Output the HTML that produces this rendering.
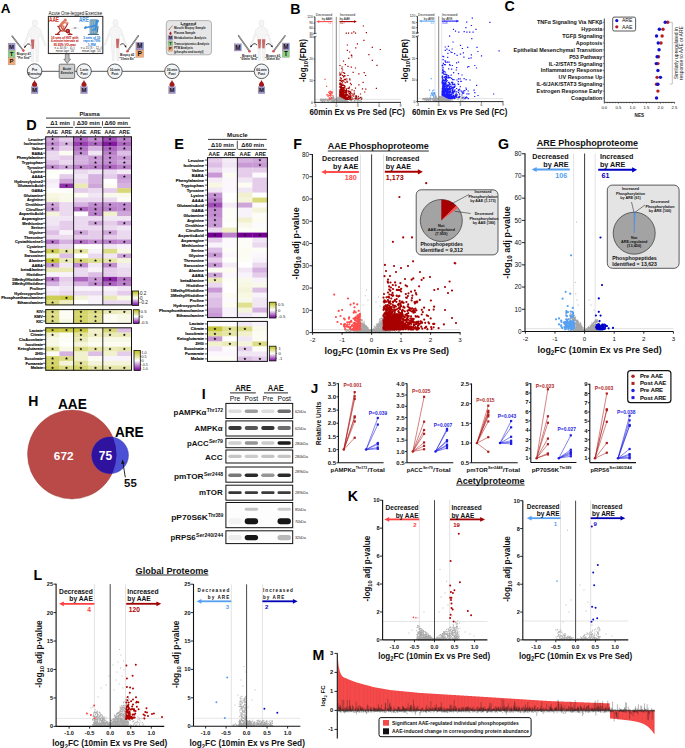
<!DOCTYPE html>
<html><head><meta charset="utf-8"><style>
html,body{margin:0;padding:0;background:#fff;width:685px;height:748px;overflow:hidden}
svg{display:block;font-family:"Liberation Sans", sans-serif}
</style></head><body>
<svg width="685" height="748" viewBox="0 0 685 748">
<defs>
<linearGradient id="cbgrad" x1="0" y1="0" x2="0" y2="1">
<stop offset="0" stop-color="#bdbd14"/><stop offset="0.5" stop-color="#ffffff"/><stop offset="1" stop-color="#76009a"/>
</linearGradient>
</defs>
<rect width="685" height="748" fill="#fff"/>
<text x="31.6" y="130" font-size="14.5" font-weight="bold" text-anchor="middle">D</text>
<text x="89.6" y="115.6" font-size="6" font-weight="bold" text-anchor="middle" fill="#111" textLength="20.3" lengthAdjust="spacingAndGlyphs">Plasma</text>
<line x1="46" y1="118.1" x2="130" y2="118.1" stroke="#222" stroke-width="0.9" />
<text x="60.1" y="124.8" font-size="5.9" font-weight="bold" text-anchor="middle" fill="#111" textLength="19.7" lengthAdjust="spacingAndGlyphs">Δ1 min</text>
<line x1="46" y1="127.4" x2="73.2" y2="127.4" stroke="#222" stroke-width="0.9" />
<text x="88.3" y="124.8" font-size="5.9" font-weight="bold" text-anchor="middle" fill="#111" textLength="22.9" lengthAdjust="spacingAndGlyphs">Δ30 min</text>
<line x1="74.9" y1="127.4" x2="101.8" y2="127.4" stroke="#222" stroke-width="0.9" />
<text x="116.3" y="124.8" font-size="5.9" font-weight="bold" text-anchor="middle" fill="#111" textLength="23.5" lengthAdjust="spacingAndGlyphs">Δ60 min</text>
<line x1="103.1" y1="127.4" x2="130.7" y2="127.4" stroke="#222" stroke-width="0.9" />
<line x1="74" y1="121.1" x2="74" y2="125.7" stroke="#222" stroke-width="0.8" />
<line x1="102.5" y1="121.1" x2="102.5" y2="125.7" stroke="#222" stroke-width="0.8" />
<text x="52.55" y="133.6" font-size="5.9" font-weight="bold" text-anchor="middle" fill="#111" textLength="11.2" lengthAdjust="spacingAndGlyphs">AAE</text>
<line x1="52.55" y1="135" x2="52.55" y2="136.8" stroke="#111" stroke-width="0.6" />
<text x="66.5" y="133.6" font-size="5.9" font-weight="bold" text-anchor="middle" fill="#111" textLength="11.2" lengthAdjust="spacingAndGlyphs">ARE</text>
<line x1="66.5" y1="135" x2="66.5" y2="136.8" stroke="#111" stroke-width="0.6" />
<text x="80.9" y="133.6" font-size="5.9" font-weight="bold" text-anchor="middle" fill="#111" textLength="11.2" lengthAdjust="spacingAndGlyphs">AAE</text>
<line x1="80.9" y1="135" x2="80.9" y2="136.8" stroke="#111" stroke-width="0.6" />
<text x="95.5" y="133.6" font-size="5.9" font-weight="bold" text-anchor="middle" fill="#111" textLength="11.2" lengthAdjust="spacingAndGlyphs">ARE</text>
<line x1="95.5" y1="135" x2="95.5" y2="136.8" stroke="#111" stroke-width="0.6" />
<text x="110" y="133.6" font-size="5.9" font-weight="bold" text-anchor="middle" fill="#111" textLength="11.2" lengthAdjust="spacingAndGlyphs">AAE</text>
<line x1="110" y1="135" x2="110" y2="136.8" stroke="#111" stroke-width="0.6" />
<text x="124.35" y="133.6" font-size="5.9" font-weight="bold" text-anchor="middle" fill="#111" textLength="11.2" lengthAdjust="spacingAndGlyphs">ARE</text>
<line x1="124.35" y1="135" x2="124.35" y2="136.8" stroke="#111" stroke-width="0.6" />
<rect x="45.7" y="136.8" width="14" height="4.97" fill="#cfa6da"/>
<rect x="59.4" y="136.8" width="14.5" height="4.97" fill="#e4ccea"/>
<rect x="73.6" y="136.8" width="14.9" height="4.97" fill="#ad66c0"/>
<rect x="88.2" y="136.8" width="14.9" height="4.97" fill="#c18cd0"/>
<rect x="102.8" y="136.8" width="14.7" height="4.97" fill="#9f4cb6"/>
<rect x="117.2" y="136.8" width="14.6" height="4.97" fill="#ba80ca"/>
<polygon points="52.55,137.64 52.99,138.53 53.98,138.67 53.26,139.37 53.43,140.35 52.55,139.89 51.67,140.35 51.84,139.37 51.12,138.67 52.11,138.53" fill="#111"/>
<polygon points="80.9,137.64 81.34,138.53 82.33,138.67 81.61,139.37 81.78,140.35 80.9,139.89 80.02,140.35 80.19,139.37 79.47,138.67 80.46,138.53" fill="#111"/>
<polygon points="95.5,137.64 95.94,138.53 96.93,138.67 96.21,139.37 96.38,140.35 95.5,139.89 94.62,140.35 94.79,139.37 94.07,138.67 95.06,138.53" fill="#111"/>
<polygon points="110,137.64 110.44,138.53 111.43,138.67 110.71,139.37 110.88,140.35 110,139.89 109.12,140.35 109.29,139.37 108.57,138.67 109.56,138.53" fill="#111"/>
<polygon points="124.35,137.64 124.79,138.53 125.78,138.67 125.06,139.37 125.23,140.35 124.35,139.89 123.47,140.35 123.64,139.37 122.92,138.67 123.91,138.53" fill="#111"/>
<line x1="43.1" y1="139.14" x2="45.7" y2="139.14" stroke="#111" stroke-width="0.7" />
<text x="42.9" y="140.54" font-size="3.9" font-weight="bold" text-anchor="end" fill="#111" stroke="#111" stroke-width="0.16">Leucine</text>
<rect x="45.7" y="141.47" width="14" height="4.97" fill="#c18cd0"/>
<rect x="59.4" y="141.47" width="14.5" height="4.97" fill="#d6b2e0"/>
<rect x="73.6" y="141.47" width="14.9" height="4.97" fill="#9840b0"/>
<rect x="88.2" y="141.47" width="14.9" height="4.97" fill="#ad66c0"/>
<rect x="102.8" y="141.47" width="14.7" height="4.97" fill="#841aa0"/>
<rect x="117.2" y="141.47" width="14.6" height="4.97" fill="#ad66c0"/>
<polygon points="52.55,142.31 52.99,143.2 53.98,143.34 53.26,144.04 53.43,145.02 52.55,144.56 51.67,145.02 51.84,144.04 51.12,143.34 52.11,143.2" fill="#111"/>
<polygon points="66.5,142.31 66.94,143.2 67.93,143.34 67.21,144.04 67.38,145.02 66.5,144.56 65.62,145.02 65.79,144.04 65.07,143.34 66.06,143.2" fill="#111"/>
<polygon points="80.9,142.31 81.34,143.2 82.33,143.34 81.61,144.04 81.78,145.02 80.9,144.56 80.02,145.02 80.19,144.04 79.47,143.34 80.46,143.2" fill="#111"/>
<polygon points="95.5,142.31 95.94,143.2 96.93,143.34 96.21,144.04 96.38,145.02 95.5,144.56 94.62,145.02 94.79,144.04 94.07,143.34 95.06,143.2" fill="#111"/>
<polygon points="110,142.31 110.44,143.2 111.43,143.34 110.71,144.04 110.88,145.02 110,144.56 109.12,145.02 109.29,144.04 108.57,143.34 109.56,143.2" fill="#111"/>
<polygon points="124.35,142.31 124.79,143.2 125.78,143.34 125.06,144.04 125.23,145.02 124.35,144.56 123.47,145.02 123.64,144.04 122.92,143.34 123.91,143.2" fill="#111"/>
<line x1="43.1" y1="143.81" x2="45.7" y2="143.81" stroke="#111" stroke-width="0.7" />
<text x="42.9" y="145.21" font-size="3.9" font-weight="bold" text-anchor="end" fill="#111" stroke="#111" stroke-width="0.16">Isoleucine</text>
<rect x="45.7" y="146.14" width="14" height="4.97" fill="#cfa6da"/>
<rect x="59.4" y="146.14" width="14.5" height="4.97" fill="#e4ccea"/>
<rect x="73.6" y="146.14" width="14.9" height="4.97" fill="#b473c5"/>
<rect x="88.2" y="146.14" width="14.9" height="4.97" fill="#d6b2e0"/>
<rect x="102.8" y="146.14" width="14.7" height="4.97" fill="#ad66c0"/>
<rect x="117.2" y="146.14" width="14.6" height="4.97" fill="#c18cd0"/>
<polygon points="52.55,146.98 52.99,147.87 53.98,148.01 53.26,148.71 53.43,149.69 52.55,149.23 51.67,149.69 51.84,148.71 51.12,148.01 52.11,147.87" fill="#111"/>
<polygon points="80.9,146.98 81.34,147.87 82.33,148.01 81.61,148.71 81.78,149.69 80.9,149.23 80.02,149.69 80.19,148.71 79.47,148.01 80.46,147.87" fill="#111"/>
<polygon points="110,146.98 110.44,147.87 111.43,148.01 110.71,148.71 110.88,149.69 110,149.23 109.12,149.69 109.29,148.71 108.57,148.01 109.56,147.87" fill="#111"/>
<polygon points="124.35,146.98 124.79,147.87 125.78,148.01 125.06,148.71 125.23,149.69 124.35,149.23 123.47,149.69 123.64,148.71 122.92,148.01 123.91,147.87" fill="#111"/>
<line x1="43.1" y1="148.48" x2="45.7" y2="148.48" stroke="#111" stroke-width="0.7" />
<text x="42.9" y="149.88" font-size="3.9" font-weight="bold" text-anchor="end" fill="#111" stroke="#111" stroke-width="0.16">Valine</text>
<rect x="45.7" y="150.81" width="14" height="4.97" fill="#ead9ef"/>
<rect x="59.4" y="150.81" width="14.5" height="4.97" fill="#fcfcf3"/>
<rect x="73.6" y="150.81" width="14.9" height="4.97" fill="#c18cd0"/>
<rect x="88.2" y="150.81" width="14.9" height="4.97" fill="#f1e6f4"/>
<rect x="102.8" y="150.81" width="14.7" height="4.97" fill="#ba80ca"/>
<rect x="117.2" y="150.81" width="14.6" height="4.97" fill="#ddbfe5"/>
<polygon points="80.9,151.65 81.34,152.54 82.33,152.68 81.61,153.38 81.78,154.36 80.9,153.9 80.02,154.36 80.19,153.38 79.47,152.68 80.46,152.54" fill="#111"/>
<polygon points="110,151.65 110.44,152.54 111.43,152.68 110.71,153.38 110.88,154.36 110,153.9 109.12,154.36 109.29,153.38 108.57,152.68 109.56,152.54" fill="#111"/>
<line x1="43.1" y1="153.15" x2="45.7" y2="153.15" stroke="#111" stroke-width="0.7" />
<text x="42.9" y="154.55" font-size="3.9" font-weight="bold" text-anchor="end" fill="#111" stroke="#111" stroke-width="0.16">BABA</text>
<rect x="45.7" y="155.48" width="14" height="4.97" fill="#ead9ef"/>
<rect x="59.4" y="155.48" width="14.5" height="4.97" fill="#e4ccea"/>
<rect x="73.6" y="155.48" width="14.9" height="4.97" fill="#d6b2e0"/>
<rect x="88.2" y="155.48" width="14.9" height="4.97" fill="#c899d5"/>
<rect x="102.8" y="155.48" width="14.7" height="4.97" fill="#c18cd0"/>
<rect x="117.2" y="155.48" width="14.6" height="4.97" fill="#c899d5"/>
<polygon points="95.5,156.32 95.94,157.21 96.93,157.35 96.21,158.05 96.38,159.03 95.5,158.57 94.62,159.03 94.79,158.05 94.07,157.35 95.06,157.21" fill="#111"/>
<polygon points="110,156.32 110.44,157.21 111.43,157.35 110.71,158.05 110.88,159.03 110,158.57 109.12,159.03 109.29,158.05 108.57,157.35 109.56,157.21" fill="#111"/>
<polygon points="124.35,156.32 124.79,157.21 125.78,157.35 125.06,158.05 125.23,159.03 124.35,158.57 123.47,159.03 123.64,158.05 122.92,157.35 123.91,157.21" fill="#111"/>
<line x1="43.1" y1="157.82" x2="45.7" y2="157.82" stroke="#111" stroke-width="0.7" />
<text x="42.9" y="159.22" font-size="3.9" font-weight="bold" text-anchor="end" fill="#111" stroke="#111" stroke-width="0.16">Phenylalanine</text>
<rect x="45.7" y="160.15" width="14" height="4.97" fill="#ddbfe5"/>
<rect x="59.4" y="160.15" width="14.5" height="4.97" fill="#ead9ef"/>
<rect x="73.6" y="160.15" width="14.9" height="4.97" fill="#d6b2e0"/>
<rect x="88.2" y="160.15" width="14.9" height="4.97" fill="#c899d5"/>
<rect x="102.8" y="160.15" width="14.7" height="4.97" fill="#c18cd0"/>
<rect x="117.2" y="160.15" width="14.6" height="4.97" fill="#cfa6da"/>
<polygon points="95.5,160.99 95.94,161.88 96.93,162.02 96.21,162.72 96.38,163.7 95.5,163.24 94.62,163.7 94.79,162.72 94.07,162.02 95.06,161.88" fill="#111"/>
<polygon points="110,160.99 110.44,161.88 111.43,162.02 110.71,162.72 110.88,163.7 110,163.24 109.12,163.7 109.29,162.72 108.57,162.02 109.56,161.88" fill="#111"/>
<polygon points="124.35,160.99 124.79,161.88 125.78,162.02 125.06,162.72 125.23,163.7 124.35,163.24 123.47,163.7 123.64,162.72 122.92,162.02 123.91,161.88" fill="#111"/>
<line x1="43.1" y1="162.49" x2="45.7" y2="162.49" stroke="#111" stroke-width="0.7" />
<text x="42.9" y="163.89" font-size="3.9" font-weight="bold" text-anchor="end" fill="#111" stroke="#111" stroke-width="0.16">Tryptophan</text>
<rect x="45.7" y="164.82" width="14" height="4.97" fill="#c18cd0"/>
<rect x="59.4" y="164.82" width="14.5" height="4.97" fill="#cfa6da"/>
<rect x="73.6" y="164.82" width="14.9" height="4.97" fill="#ba80ca"/>
<rect x="88.2" y="164.82" width="14.9" height="4.97" fill="#ba80ca"/>
<rect x="102.8" y="164.82" width="14.7" height="4.97" fill="#ad66c0"/>
<rect x="117.2" y="164.82" width="14.6" height="4.97" fill="#ba80ca"/>
<polygon points="52.55,165.66 52.99,166.55 53.98,166.69 53.26,167.39 53.43,168.37 52.55,167.91 51.67,168.37 51.84,167.39 51.12,166.69 52.11,166.55" fill="#111"/>
<polygon points="66.5,165.66 66.94,166.55 67.93,166.69 67.21,167.39 67.38,168.37 66.5,167.91 65.62,168.37 65.79,167.39 65.07,166.69 66.06,166.55" fill="#111"/>
<polygon points="80.9,165.66 81.34,166.55 82.33,166.69 81.61,167.39 81.78,168.37 80.9,167.91 80.02,168.37 80.19,167.39 79.47,166.69 80.46,166.55" fill="#111"/>
<polygon points="95.5,165.66 95.94,166.55 96.93,166.69 96.21,167.39 96.38,168.37 95.5,167.91 94.62,168.37 94.79,167.39 94.07,166.69 95.06,166.55" fill="#111"/>
<polygon points="110,165.66 110.44,166.55 111.43,166.69 110.71,167.39 110.88,168.37 110,167.91 109.12,168.37 109.29,167.39 108.57,166.69 109.56,166.55" fill="#111"/>
<polygon points="124.35,165.66 124.79,166.55 125.78,166.69 125.06,167.39 125.23,168.37 124.35,167.91 123.47,168.37 123.64,167.39 122.92,166.69 123.91,166.55" fill="#111"/>
<line x1="43.1" y1="167.16" x2="45.7" y2="167.16" stroke="#111" stroke-width="0.7" />
<text x="42.9" y="168.56" font-size="3.9" font-weight="bold" text-anchor="end" fill="#111" stroke="#111" stroke-width="0.16">Tyrosine</text>
<rect x="45.7" y="169.49" width="14" height="4.97" fill="#fdfdf8"/>
<rect x="59.4" y="169.49" width="14.5" height="4.97" fill="#fefefa"/>
<rect x="73.6" y="169.49" width="14.9" height="4.97" fill="#ead9ef"/>
<rect x="88.2" y="169.49" width="14.9" height="4.97" fill="#f1e6f4"/>
<rect x="102.8" y="169.49" width="14.7" height="4.97" fill="#ead9ef"/>
<rect x="117.2" y="169.49" width="14.6" height="4.97" fill="#f4ebf7"/>
<line x1="43.1" y1="171.83" x2="45.7" y2="171.83" stroke="#111" stroke-width="0.7" />
<text x="42.9" y="173.23" font-size="3.9" font-weight="bold" text-anchor="end" fill="#111" stroke="#111" stroke-width="0.16">Lysine</text>
<rect x="45.7" y="174.16" width="14" height="4.97" fill="#fefefa"/>
<rect x="59.4" y="174.16" width="14.5" height="4.97" fill="#e4ccea"/>
<rect x="73.6" y="174.16" width="14.9" height="4.97" fill="#f1e6f4"/>
<rect x="88.2" y="174.16" width="14.9" height="4.97" fill="#d6b2e0"/>
<rect x="102.8" y="174.16" width="14.7" height="4.97" fill="#e4ccea"/>
<rect x="117.2" y="174.16" width="14.6" height="4.97" fill="#c899d5"/>
<polygon points="124.35,175 124.79,175.89 125.78,176.03 125.06,176.73 125.23,177.71 124.35,177.25 123.47,177.71 123.64,176.73 122.92,176.03 123.91,175.89" fill="#111"/>
<line x1="43.1" y1="176.5" x2="45.7" y2="176.5" stroke="#111" stroke-width="0.7" />
<text x="42.9" y="177.9" font-size="3.9" font-weight="bold" text-anchor="end" fill="#111" stroke="#111" stroke-width="0.16">AAAA</text>
<rect x="45.7" y="178.83" width="14" height="4.97" fill="#f4ebf7"/>
<rect x="59.4" y="178.83" width="14.5" height="4.97" fill="#cfa6da"/>
<rect x="73.6" y="178.83" width="14.9" height="4.97" fill="#ead9ef"/>
<rect x="88.2" y="178.83" width="14.9" height="4.97" fill="#d6b2e0"/>
<rect x="102.8" y="178.83" width="14.7" height="4.97" fill="#ffffff"/>
<rect x="117.2" y="178.83" width="14.6" height="4.97" fill="#cfa6da"/>
<line x1="43.1" y1="181.17" x2="45.7" y2="181.17" stroke="#111" stroke-width="0.7" />
<text x="42.9" y="182.57" font-size="3.9" font-weight="bold" text-anchor="end" fill="#111" stroke="#111" stroke-width="0.16">Hydroxylysine2</text>
<rect x="45.7" y="183.5" width="14" height="4.97" fill="#f8f2fa"/>
<rect x="59.4" y="183.5" width="14.5" height="4.97" fill="#9133ab"/>
<rect x="73.6" y="183.5" width="14.9" height="4.97" fill="#eaeab6"/>
<rect x="88.2" y="183.5" width="14.9" height="4.97" fill="#cfa6da"/>
<rect x="102.8" y="183.5" width="14.7" height="4.97" fill="#fcfcf3"/>
<rect x="117.2" y="183.5" width="14.6" height="4.97" fill="#d6b2e0"/>
<polygon points="66.5,184.34 66.94,185.23 67.93,185.37 67.21,186.07 67.38,187.05 66.5,186.59 65.62,187.05 65.79,186.07 65.07,185.37 66.06,185.23" fill="#111"/>
<line x1="43.1" y1="185.84" x2="45.7" y2="185.84" stroke="#111" stroke-width="0.7" />
<text x="42.9" y="187.24" font-size="3.9" font-weight="bold" text-anchor="end" fill="#111" stroke="#111" stroke-width="0.16">GlutamicAcid</text>
<rect x="45.7" y="188.17" width="14" height="4.97" fill="#fefefa"/>
<rect x="59.4" y="188.17" width="14.5" height="4.97" fill="#fefefa"/>
<rect x="73.6" y="188.17" width="14.9" height="4.97" fill="#e4ccea"/>
<rect x="88.2" y="188.17" width="14.9" height="4.97" fill="#ead9ef"/>
<rect x="102.8" y="188.17" width="14.7" height="4.97" fill="#e4ccea"/>
<rect x="117.2" y="188.17" width="14.6" height="4.97" fill="#d8d878"/>
<line x1="43.1" y1="190.51" x2="45.7" y2="190.51" stroke="#111" stroke-width="0.7" />
<text x="42.9" y="191.91" font-size="3.9" font-weight="bold" text-anchor="end" fill="#111" stroke="#111" stroke-width="0.16">GABA</text>
<rect x="45.7" y="192.84" width="14" height="4.97" fill="#f7f7e2"/>
<rect x="59.4" y="192.84" width="14.5" height="4.97" fill="#f9f9eb"/>
<rect x="73.6" y="192.84" width="14.9" height="4.97" fill="#fcfcf3"/>
<rect x="88.2" y="192.84" width="14.9" height="4.97" fill="#f1e6f4"/>
<rect x="102.8" y="192.84" width="14.7" height="4.97" fill="#f9f9eb"/>
<rect x="117.2" y="192.84" width="14.6" height="4.97" fill="#f9f9eb"/>
<line x1="43.1" y1="195.18" x2="45.7" y2="195.18" stroke="#111" stroke-width="0.7" />
<text x="42.9" y="196.58" font-size="3.9" font-weight="bold" text-anchor="end" fill="#111" stroke="#111" stroke-width="0.16">Glutamine</text>
<rect x="45.7" y="197.51" width="14" height="4.97" fill="#f4f4da"/>
<rect x="59.4" y="197.51" width="14.5" height="4.97" fill="#f9f9eb"/>
<rect x="73.6" y="197.51" width="14.9" height="4.97" fill="#ead9ef"/>
<rect x="88.2" y="197.51" width="14.9" height="4.97" fill="#ead9ef"/>
<rect x="102.8" y="197.51" width="14.7" height="4.97" fill="#ead9ef"/>
<rect x="117.2" y="197.51" width="14.6" height="4.97" fill="#fdfdf8"/>
<line x1="43.1" y1="199.85" x2="45.7" y2="199.85" stroke="#111" stroke-width="0.7" />
<text x="42.9" y="201.25" font-size="3.9" font-weight="bold" text-anchor="end" fill="#111" stroke="#111" stroke-width="0.16">Arginine</text>
<rect x="45.7" y="202.18" width="14" height="4.97" fill="#cfa6da"/>
<rect x="59.4" y="202.18" width="14.5" height="4.97" fill="#ead9ef"/>
<rect x="73.6" y="202.18" width="14.9" height="4.97" fill="#d6b2e0"/>
<rect x="88.2" y="202.18" width="14.9" height="4.97" fill="#c18cd0"/>
<rect x="102.8" y="202.18" width="14.7" height="4.97" fill="#c18cd0"/>
<rect x="117.2" y="202.18" width="14.6" height="4.97" fill="#c18cd0"/>
<polygon points="52.55,203.02 52.99,203.91 53.98,204.05 53.26,204.75 53.43,205.73 52.55,205.27 51.67,205.73 51.84,204.75 51.12,204.05 52.11,203.91" fill="#111"/>
<polygon points="95.5,203.02 95.94,203.91 96.93,204.05 96.21,204.75 96.38,205.73 95.5,205.27 94.62,205.73 94.79,204.75 94.07,204.05 95.06,203.91" fill="#111"/>
<polygon points="110,203.02 110.44,203.91 111.43,204.05 110.71,204.75 110.88,205.73 110,205.27 109.12,205.73 109.29,204.75 108.57,204.05 109.56,203.91" fill="#111"/>
<polygon points="124.35,203.02 124.79,203.91 125.78,204.05 125.06,204.75 125.23,205.73 124.35,205.27 123.47,205.73 123.64,204.75 122.92,204.05 123.91,203.91" fill="#111"/>
<line x1="43.1" y1="204.52" x2="45.7" y2="204.52" stroke="#111" stroke-width="0.7" />
<text x="42.9" y="205.92" font-size="3.9" font-weight="bold" text-anchor="end" fill="#111" stroke="#111" stroke-width="0.16">Ornithine</text>
<rect x="45.7" y="206.85" width="14" height="4.97" fill="#c899d5"/>
<rect x="59.4" y="206.85" width="14.5" height="4.97" fill="#ead9ef"/>
<rect x="73.6" y="206.85" width="14.9" height="4.97" fill="#ad66c0"/>
<rect x="88.2" y="206.85" width="14.9" height="4.97" fill="#ba80ca"/>
<rect x="102.8" y="206.85" width="14.7" height="4.97" fill="#ba80ca"/>
<rect x="117.2" y="206.85" width="14.6" height="4.97" fill="#c18cd0"/>
<polygon points="52.55,207.69 52.99,208.58 53.98,208.72 53.26,209.42 53.43,210.4 52.55,209.94 51.67,210.4 51.84,209.42 51.12,208.72 52.11,208.58" fill="#111"/>
<polygon points="80.9,207.69 81.34,208.58 82.33,208.72 81.61,209.42 81.78,210.4 80.9,209.94 80.02,210.4 80.19,209.42 79.47,208.72 80.46,208.58" fill="#111"/>
<polygon points="95.5,207.69 95.94,208.58 96.93,208.72 96.21,209.42 96.38,210.4 95.5,209.94 94.62,210.4 94.79,209.42 94.07,208.72 95.06,208.58" fill="#111"/>
<polygon points="110,207.69 110.44,208.58 111.43,208.72 110.71,209.42 110.88,210.4 110,209.94 109.12,210.4 109.29,209.42 108.57,208.72 109.56,208.58" fill="#111"/>
<polygon points="124.35,207.69 124.79,208.58 125.78,208.72 125.06,209.42 125.23,210.4 124.35,209.94 123.47,210.4 123.64,209.42 122.92,208.72 123.91,208.58" fill="#111"/>
<line x1="43.1" y1="209.19" x2="45.7" y2="209.19" stroke="#111" stroke-width="0.7" />
<text x="42.9" y="210.59" font-size="3.9" font-weight="bold" text-anchor="end" fill="#111" stroke="#111" stroke-width="0.16">Citrulline</text>
<rect x="45.7" y="211.52" width="14" height="4.97" fill="#f4f4da"/>
<rect x="59.4" y="211.52" width="14.5" height="4.97" fill="#ead9ef"/>
<rect x="73.6" y="211.52" width="14.9" height="4.97" fill="#ffffff"/>
<rect x="88.2" y="211.52" width="14.9" height="4.97" fill="#ba80ca"/>
<rect x="102.8" y="211.52" width="14.7" height="4.97" fill="#f1f1ce"/>
<rect x="117.2" y="211.52" width="14.6" height="4.97" fill="#cfa6da"/>
<polygon points="95.5,212.36 95.94,213.25 96.93,213.39 96.21,214.09 96.38,215.07 95.5,214.61 94.62,215.07 94.79,214.09 94.07,213.39 95.06,213.25" fill="#111"/>
<line x1="43.1" y1="213.86" x2="45.7" y2="213.86" stroke="#111" stroke-width="0.7" />
<text x="42.9" y="215.26" font-size="3.9" font-weight="bold" text-anchor="end" fill="#111" stroke="#111" stroke-width="0.16">AsparticAcid</text>
<rect x="45.7" y="216.19" width="14" height="4.97" fill="#f1e6f4"/>
<rect x="59.4" y="216.19" width="14.5" height="4.97" fill="#f1e6f4"/>
<rect x="73.6" y="216.19" width="14.9" height="4.97" fill="#ead9ef"/>
<rect x="88.2" y="216.19" width="14.9" height="4.97" fill="#ead9ef"/>
<rect x="102.8" y="216.19" width="14.7" height="4.97" fill="#f1e6f4"/>
<rect x="117.2" y="216.19" width="14.6" height="4.97" fill="#f1e6f4"/>
<line x1="43.1" y1="218.53" x2="45.7" y2="218.53" stroke="#111" stroke-width="0.7" />
<text x="42.9" y="219.93" font-size="3.9" font-weight="bold" text-anchor="end" fill="#111" stroke="#111" stroke-width="0.16">Asparagine</text>
<rect x="45.7" y="220.86" width="14" height="4.97" fill="#f1e6f4"/>
<rect x="59.4" y="220.86" width="14.5" height="4.97" fill="#e4ccea"/>
<rect x="73.6" y="220.86" width="14.9" height="4.97" fill="#ead9ef"/>
<rect x="88.2" y="220.86" width="14.9" height="4.97" fill="#cfa6da"/>
<rect x="102.8" y="220.86" width="14.7" height="4.97" fill="#e4ccea"/>
<rect x="117.2" y="220.86" width="14.6" height="4.97" fill="#cfa6da"/>
<polygon points="95.5,221.7 95.94,222.59 96.93,222.73 96.21,223.43 96.38,224.41 95.5,223.95 94.62,224.41 94.79,223.43 94.07,222.73 95.06,222.59" fill="#111"/>
<polygon points="124.35,221.7 124.79,222.59 125.78,222.73 125.06,223.43 125.23,224.41 124.35,223.95 123.47,224.41 123.64,223.43 122.92,222.73 123.91,222.59" fill="#111"/>
<line x1="43.1" y1="223.2" x2="45.7" y2="223.2" stroke="#111" stroke-width="0.7" />
<text x="42.9" y="224.6" font-size="3.9" font-weight="bold" text-anchor="end" fill="#111" stroke="#111" stroke-width="0.16">Methionine</text>
<rect x="45.7" y="225.53" width="14" height="4.97" fill="#ead9ef"/>
<rect x="59.4" y="225.53" width="14.5" height="4.97" fill="#e4ccea"/>
<rect x="73.6" y="225.53" width="14.9" height="4.97" fill="#ead9ef"/>
<rect x="88.2" y="225.53" width="14.9" height="4.97" fill="#ead9ef"/>
<rect x="102.8" y="225.53" width="14.7" height="4.97" fill="#ead9ef"/>
<rect x="117.2" y="225.53" width="14.6" height="4.97" fill="#f1e6f4"/>
<line x1="43.1" y1="227.87" x2="45.7" y2="227.87" stroke="#111" stroke-width="0.7" />
<text x="42.9" y="229.27" font-size="3.9" font-weight="bold" text-anchor="end" fill="#111" stroke="#111" stroke-width="0.16">Serine</text>
<rect x="45.7" y="230.2" width="14" height="4.97" fill="#ddbfe5"/>
<rect x="59.4" y="230.2" width="14.5" height="4.97" fill="#f8f2fa"/>
<rect x="73.6" y="230.2" width="14.9" height="4.97" fill="#cfa6da"/>
<rect x="88.2" y="230.2" width="14.9" height="4.97" fill="#e4ccea"/>
<rect x="102.8" y="230.2" width="14.7" height="4.97" fill="#cfa6da"/>
<rect x="117.2" y="230.2" width="14.6" height="4.97" fill="#ead9ef"/>
<polygon points="80.9,231.04 81.34,231.93 82.33,232.07 81.61,232.77 81.78,233.75 80.9,233.29 80.02,233.75 80.19,232.77 79.47,232.07 80.46,231.93" fill="#111"/>
<polygon points="110,231.04 110.44,231.93 111.43,232.07 110.71,232.77 110.88,233.75 110,233.29 109.12,233.75 109.29,232.77 108.57,232.07 109.56,231.93" fill="#111"/>
<line x1="43.1" y1="232.54" x2="45.7" y2="232.54" stroke="#111" stroke-width="0.7" />
<text x="42.9" y="233.94" font-size="3.9" font-weight="bold" text-anchor="end" fill="#111" stroke="#111" stroke-width="0.16">Glycine</text>
<rect x="45.7" y="234.87" width="14" height="4.97" fill="#ead9ef"/>
<rect x="59.4" y="234.87" width="14.5" height="4.97" fill="#ead9ef"/>
<rect x="73.6" y="234.87" width="14.9" height="4.97" fill="#e4ccea"/>
<rect x="88.2" y="234.87" width="14.9" height="4.97" fill="#e4ccea"/>
<rect x="102.8" y="234.87" width="14.7" height="4.97" fill="#e4ccea"/>
<rect x="117.2" y="234.87" width="14.6" height="4.97" fill="#ead9ef"/>
<line x1="43.1" y1="237.21" x2="45.7" y2="237.21" stroke="#111" stroke-width="0.7" />
<text x="42.9" y="238.61" font-size="3.9" font-weight="bold" text-anchor="end" fill="#111" stroke="#111" stroke-width="0.16">Threonine</text>
<rect x="45.7" y="239.54" width="14" height="4.97" fill="#b473c5"/>
<rect x="59.4" y="239.54" width="14.5" height="4.97" fill="#d6b2e0"/>
<rect x="73.6" y="239.54" width="14.9" height="4.97" fill="#b473c5"/>
<rect x="88.2" y="239.54" width="14.9" height="4.97" fill="#c18cd0"/>
<rect x="102.8" y="239.54" width="14.7" height="4.97" fill="#ba80ca"/>
<rect x="117.2" y="239.54" width="14.6" height="4.97" fill="#c18cd0"/>
<polygon points="52.55,240.38 52.99,241.27 53.98,241.41 53.26,242.11 53.43,243.09 52.55,242.63 51.67,243.09 51.84,242.11 51.12,241.41 52.11,241.27" fill="#111"/>
<polygon points="80.9,240.38 81.34,241.27 82.33,241.41 81.61,242.11 81.78,243.09 80.9,242.63 80.02,243.09 80.19,242.11 79.47,241.41 80.46,241.27" fill="#111"/>
<polygon points="95.5,240.38 95.94,241.27 96.93,241.41 96.21,242.11 96.38,243.09 95.5,242.63 94.62,243.09 94.79,242.11 94.07,241.41 95.06,241.27" fill="#111"/>
<polygon points="110,240.38 110.44,241.27 111.43,241.41 110.71,242.11 110.88,243.09 110,242.63 109.12,243.09 109.29,242.11 108.57,241.41 109.56,241.27" fill="#111"/>
<polygon points="124.35,240.38 124.79,241.27 125.78,241.41 125.06,242.11 125.23,243.09 124.35,242.63 123.47,243.09 123.64,242.11 122.92,241.41 123.91,241.27" fill="#111"/>
<line x1="43.1" y1="241.88" x2="45.7" y2="241.88" stroke="#111" stroke-width="0.7" />
<text x="42.9" y="243.28" font-size="3.9" font-weight="bold" text-anchor="end" fill="#111" stroke="#111" stroke-width="0.16">Cystathionine1</text>
<rect x="45.7" y="244.21" width="14" height="4.97" fill="#e4ccea"/>
<rect x="59.4" y="244.21" width="14.5" height="4.97" fill="#ead9ef"/>
<rect x="73.6" y="244.21" width="14.9" height="4.97" fill="#fefefa"/>
<rect x="88.2" y="244.21" width="14.9" height="4.97" fill="#ffffff"/>
<rect x="102.8" y="244.21" width="14.7" height="4.97" fill="#f1e6f4"/>
<rect x="117.2" y="244.21" width="14.6" height="4.97" fill="#f8f2fa"/>
<line x1="43.1" y1="246.55" x2="45.7" y2="246.55" stroke="#111" stroke-width="0.7" />
<text x="42.9" y="247.95" font-size="3.9" font-weight="bold" text-anchor="end" fill="#111" stroke="#111" stroke-width="0.16">Cysteine</text>
<rect x="45.7" y="248.88" width="14" height="4.97" fill="#cece54"/>
<rect x="59.4" y="248.88" width="14.5" height="4.97" fill="#e6e6a9"/>
<rect x="73.6" y="248.88" width="14.9" height="4.97" fill="#e3e39d"/>
<rect x="88.2" y="248.88" width="14.9" height="4.97" fill="#f8f2fa"/>
<rect x="102.8" y="248.88" width="14.7" height="4.97" fill="#dcdc84"/>
<rect x="117.2" y="248.88" width="14.6" height="4.97" fill="#f8f8e6"/>
<polygon points="52.55,249.72 52.99,250.61 53.98,250.75 53.26,251.45 53.43,252.43 52.55,251.97 51.67,252.43 51.84,251.45 51.12,250.75 52.11,250.61" fill="#111"/>
<polygon points="66.5,249.72 66.94,250.61 67.93,250.75 67.21,251.45 67.38,252.43 66.5,251.97 65.62,252.43 65.79,251.45 65.07,250.75 66.06,250.61" fill="#111"/>
<polygon points="80.9,249.72 81.34,250.61 82.33,250.75 81.61,251.45 81.78,252.43 80.9,251.97 80.02,252.43 80.19,251.45 79.47,250.75 80.46,250.61" fill="#111"/>
<line x1="43.1" y1="251.22" x2="45.7" y2="251.22" stroke="#111" stroke-width="0.7" />
<text x="42.9" y="252.62" font-size="3.9" font-weight="bold" text-anchor="end" fill="#111" stroke="#111" stroke-width="0.16">Taurine</text>
<rect x="45.7" y="253.55" width="14" height="4.97" fill="#f4f4da"/>
<rect x="59.4" y="253.55" width="14.5" height="4.97" fill="#ddbfe5"/>
<rect x="73.6" y="253.55" width="14.9" height="4.97" fill="#ffffff"/>
<rect x="88.2" y="253.55" width="14.9" height="4.97" fill="#ead9ef"/>
<rect x="102.8" y="253.55" width="14.7" height="4.97" fill="#f1e6f4"/>
<rect x="117.2" y="253.55" width="14.6" height="4.97" fill="#cfa6da"/>
<polygon points="124.35,254.39 124.79,255.28 125.78,255.42 125.06,256.12 125.23,257.1 124.35,256.63 123.47,257.1 123.64,256.12 122.92,255.42 123.91,255.28" fill="#111"/>
<line x1="43.1" y1="255.89" x2="45.7" y2="255.89" stroke="#111" stroke-width="0.7" />
<text x="42.9" y="257.29" font-size="3.9" font-weight="bold" text-anchor="end" fill="#111" stroke="#111" stroke-width="0.16">Sarcosine</text>
<rect x="45.7" y="258.22" width="14" height="4.97" fill="#c7c73b"/>
<rect x="59.4" y="258.22" width="14.5" height="4.97" fill="#eaeab6"/>
<rect x="73.6" y="258.22" width="14.9" height="4.97" fill="#d8d878"/>
<rect x="88.2" y="258.22" width="14.9" height="4.97" fill="#e0e091"/>
<rect x="102.8" y="258.22" width="14.7" height="4.97" fill="#e6e6a9"/>
<rect x="117.2" y="258.22" width="14.6" height="4.97" fill="#f4f4da"/>
<polygon points="52.55,259.06 52.99,259.95 53.98,260.09 53.26,260.79 53.43,261.77 52.55,261.31 51.67,261.77 51.84,260.79 51.12,260.09 52.11,259.95" fill="#111"/>
<polygon points="66.5,259.06 66.94,259.95 67.93,260.09 67.21,260.79 67.38,261.77 66.5,261.31 65.62,261.77 65.79,260.79 65.07,260.09 66.06,259.95" fill="#111"/>
<polygon points="80.9,259.06 81.34,259.95 82.33,260.09 81.61,260.79 81.78,261.77 80.9,261.31 80.02,261.77 80.19,260.79 79.47,260.09 80.46,259.95" fill="#111"/>
<polygon points="95.5,259.06 95.94,259.95 96.93,260.09 96.21,260.79 96.38,261.77 95.5,261.31 94.62,261.77 94.79,260.79 94.07,260.09 95.06,259.95" fill="#111"/>
<polygon points="110,259.06 110.44,259.95 111.43,260.09 110.71,260.79 110.88,261.77 110,261.31 109.12,261.77 109.29,260.79 108.57,260.09 109.56,259.95" fill="#111"/>
<line x1="43.1" y1="260.56" x2="45.7" y2="260.56" stroke="#111" stroke-width="0.7" />
<text x="42.9" y="261.96" font-size="3.9" font-weight="bold" text-anchor="end" fill="#111" stroke="#111" stroke-width="0.16">Alanine</text>
<rect x="45.7" y="262.89" width="14" height="4.97" fill="#c899d5"/>
<rect x="59.4" y="262.89" width="14.5" height="4.97" fill="#f1e6f4"/>
<rect x="73.6" y="262.89" width="14.9" height="4.97" fill="#c18cd0"/>
<rect x="88.2" y="262.89" width="14.9" height="4.97" fill="#f1e6f4"/>
<rect x="102.8" y="262.89" width="14.7" height="4.97" fill="#c18cd0"/>
<rect x="117.2" y="262.89" width="14.6" height="4.97" fill="#f1e6f4"/>
<polygon points="52.55,263.72 52.99,264.62 53.98,264.76 53.26,265.46 53.43,266.44 52.55,265.97 51.67,266.44 51.84,265.46 51.12,264.76 52.11,264.62" fill="#111"/>
<polygon points="80.9,263.72 81.34,264.62 82.33,264.76 81.61,265.46 81.78,266.44 80.9,265.97 80.02,266.44 80.19,265.46 79.47,264.76 80.46,264.62" fill="#111"/>
<polygon points="110,263.72 110.44,264.62 111.43,264.76 110.71,265.46 110.88,266.44 110,265.97 109.12,266.44 109.29,265.46 108.57,264.76 109.56,264.62" fill="#111"/>
<line x1="43.1" y1="265.22" x2="45.7" y2="265.22" stroke="#111" stroke-width="0.7" />
<text x="42.9" y="266.63" font-size="3.9" font-weight="bold" text-anchor="end" fill="#111" stroke="#111" stroke-width="0.16">AABA</text>
<rect x="45.7" y="267.56" width="14" height="4.97" fill="#eaeab6"/>
<rect x="59.4" y="267.56" width="14.5" height="4.97" fill="#eaeab6"/>
<rect x="73.6" y="267.56" width="14.9" height="4.97" fill="#ead9ef"/>
<rect x="88.2" y="267.56" width="14.9" height="4.97" fill="#f8f2fa"/>
<rect x="102.8" y="267.56" width="14.7" height="4.97" fill="#e4ccea"/>
<rect x="117.2" y="267.56" width="14.6" height="4.97" fill="#ead9ef"/>
<line x1="43.1" y1="269.89" x2="45.7" y2="269.89" stroke="#111" stroke-width="0.7" />
<text x="42.9" y="271.3" font-size="3.9" font-weight="bold" text-anchor="end" fill="#111" stroke="#111" stroke-width="0.16">betaAlanine</text>
<rect x="45.7" y="272.23" width="14" height="4.97" fill="#f8f2fa"/>
<rect x="59.4" y="272.23" width="14.5" height="4.97" fill="#f8f2fa"/>
<rect x="73.6" y="272.23" width="14.9" height="4.97" fill="#ead9ef"/>
<rect x="88.2" y="272.23" width="14.9" height="4.97" fill="#ddbfe5"/>
<rect x="102.8" y="272.23" width="14.7" height="4.97" fill="#e4ccea"/>
<rect x="117.2" y="272.23" width="14.6" height="4.97" fill="#ead9ef"/>
<line x1="43.1" y1="274.56" x2="45.7" y2="274.56" stroke="#111" stroke-width="0.7" />
<text x="42.9" y="275.97" font-size="3.9" font-weight="bold" text-anchor="end" fill="#111" stroke="#111" stroke-width="0.16">Histidine</text>
<rect x="45.7" y="276.9" width="14" height="4.97" fill="#b473c5"/>
<rect x="59.4" y="276.9" width="14.5" height="4.97" fill="#e4ccea"/>
<rect x="73.6" y="276.9" width="14.9" height="4.97" fill="#ad66c0"/>
<rect x="88.2" y="276.9" width="14.9" height="4.97" fill="#c899d5"/>
<rect x="102.8" y="276.9" width="14.7" height="4.97" fill="#8b26a6"/>
<rect x="117.2" y="276.9" width="14.6" height="4.97" fill="#b473c5"/>
<polygon points="52.55,277.73 52.99,278.63 53.98,278.77 53.26,279.47 53.43,280.45 52.55,279.98 51.67,280.45 51.84,279.47 51.12,278.77 52.11,278.63" fill="#111"/>
<polygon points="95.5,277.73 95.94,278.63 96.93,278.77 96.21,279.47 96.38,280.45 95.5,279.98 94.62,280.45 94.79,279.47 94.07,278.77 95.06,278.63" fill="#111"/>
<polygon points="110,277.73 110.44,278.63 111.43,278.77 110.71,279.47 110.88,280.45 110,279.98 109.12,280.45 109.29,279.47 108.57,278.77 109.56,278.63" fill="#111"/>
<polygon points="124.35,277.73 124.79,278.63 125.78,278.77 125.06,279.47 125.23,280.45 124.35,279.98 123.47,280.45 123.64,279.47 122.92,278.77 123.91,278.63" fill="#111"/>
<line x1="43.1" y1="279.23" x2="45.7" y2="279.23" stroke="#111" stroke-width="0.7" />
<text x="42.9" y="280.64" font-size="3.9" font-weight="bold" text-anchor="end" fill="#111" stroke="#111" stroke-width="0.16">1MethylHistidine</text>
<rect x="45.7" y="281.57" width="14" height="4.97" fill="#d6b2e0"/>
<rect x="59.4" y="281.57" width="14.5" height="4.97" fill="#ead9ef"/>
<rect x="73.6" y="281.57" width="14.9" height="4.97" fill="#d6b2e0"/>
<rect x="88.2" y="281.57" width="14.9" height="4.97" fill="#c18cd0"/>
<rect x="102.8" y="281.57" width="14.7" height="4.97" fill="#ad66c0"/>
<rect x="117.2" y="281.57" width="14.6" height="4.97" fill="#ba80ca"/>
<polygon points="95.5,282.41 95.94,283.3 96.93,283.44 96.21,284.14 96.38,285.12 95.5,284.66 94.62,285.12 94.79,284.14 94.07,283.44 95.06,283.3" fill="#111"/>
<polygon points="110,282.41 110.44,283.3 111.43,283.44 110.71,284.14 110.88,285.12 110,284.66 109.12,285.12 109.29,284.14 108.57,283.44 109.56,283.3" fill="#111"/>
<polygon points="124.35,282.41 124.79,283.3 125.78,283.44 125.06,284.14 125.23,285.12 124.35,284.66 123.47,285.12 123.64,284.14 122.92,283.44 123.91,283.3" fill="#111"/>
<line x1="43.1" y1="283.91" x2="45.7" y2="283.91" stroke="#111" stroke-width="0.7" />
<text x="42.9" y="285.31" font-size="3.9" font-weight="bold" text-anchor="end" fill="#111" stroke="#111" stroke-width="0.16">3MethylHistidine</text>
<rect x="45.7" y="286.24" width="14" height="4.97" fill="#f8f2fa"/>
<rect x="59.4" y="286.24" width="14.5" height="4.97" fill="#f1e6f4"/>
<rect x="73.6" y="286.24" width="14.9" height="4.97" fill="#f8f2fa"/>
<rect x="88.2" y="286.24" width="14.9" height="4.97" fill="#f8f2fa"/>
<rect x="102.8" y="286.24" width="14.7" height="4.97" fill="#f8f2fa"/>
<rect x="117.2" y="286.24" width="14.6" height="4.97" fill="#f1e6f4"/>
<line x1="43.1" y1="288.57" x2="45.7" y2="288.57" stroke="#111" stroke-width="0.7" />
<text x="42.9" y="289.98" font-size="3.9" font-weight="bold" text-anchor="end" fill="#111" stroke="#111" stroke-width="0.16">Proline</text>
<rect x="45.7" y="290.91" width="14" height="4.97" fill="#f1e6f4"/>
<rect x="59.4" y="290.91" width="14.5" height="4.97" fill="#ead9ef"/>
<rect x="73.6" y="290.91" width="14.9" height="4.97" fill="#ead9ef"/>
<rect x="88.2" y="290.91" width="14.9" height="4.97" fill="#ead9ef"/>
<rect x="102.8" y="290.91" width="14.7" height="4.97" fill="#f1e6f4"/>
<rect x="117.2" y="290.91" width="14.6" height="4.97" fill="#e4ccea"/>
<line x1="43.1" y1="293.24" x2="45.7" y2="293.24" stroke="#111" stroke-width="0.7" />
<text x="42.9" y="294.65" font-size="3.9" font-weight="bold" text-anchor="end" fill="#111" stroke="#111" stroke-width="0.16">Hydroxyproline</text>
<rect x="45.7" y="295.58" width="14" height="4.97" fill="#cece54"/>
<rect x="59.4" y="295.58" width="14.5" height="4.97" fill="#caca47"/>
<rect x="73.6" y="295.58" width="14.9" height="4.97" fill="#f4f4da"/>
<rect x="88.2" y="295.58" width="14.9" height="4.97" fill="#f8f2fa"/>
<rect x="102.8" y="295.58" width="14.7" height="4.97" fill="#eaeab6"/>
<rect x="117.2" y="295.58" width="14.6" height="4.97" fill="#f8f8e6"/>
<polygon points="66.5,296.42 66.94,297.31 67.93,297.45 67.21,298.15 67.38,299.13 66.5,298.67 65.62,299.13 65.79,298.15 65.07,297.45 66.06,297.31" fill="#111"/>
<line x1="43.1" y1="297.92" x2="45.7" y2="297.92" stroke="#111" stroke-width="0.7" />
<text x="42.9" y="299.32" font-size="3.9" font-weight="bold" text-anchor="end" fill="#111" stroke="#111" stroke-width="0.16">Phosphoethanolamine</text>
<rect x="45.7" y="300.25" width="14" height="4.97" fill="#d8d878"/>
<rect x="59.4" y="300.25" width="14.5" height="4.97" fill="#eeeec2"/>
<rect x="73.6" y="300.25" width="14.9" height="4.97" fill="#ffffff"/>
<rect x="88.2" y="300.25" width="14.9" height="4.97" fill="#f8f2fa"/>
<rect x="102.8" y="300.25" width="14.7" height="4.97" fill="#ead9ef"/>
<rect x="117.2" y="300.25" width="14.6" height="4.97" fill="#ead9ef"/>
<polygon points="52.55,301.08 52.99,301.98 53.98,302.12 53.26,302.82 53.43,303.8 52.55,303.33 51.67,303.8 51.84,302.82 51.12,302.12 52.11,301.98" fill="#111"/>
<line x1="43.1" y1="302.58" x2="45.7" y2="302.58" stroke="#111" stroke-width="0.7" />
<text x="42.9" y="303.99" font-size="3.9" font-weight="bold" text-anchor="end" fill="#111" stroke="#111" stroke-width="0.16">Ethanolamine</text>
<line x1="73.6" y1="136.8" x2="73.6" y2="304.92" stroke="#111" stroke-width="0.9" />
<line x1="102.8" y1="136.8" x2="102.8" y2="304.92" stroke="#111" stroke-width="0.9" />
<rect x="45.7" y="136.8" width="85.8" height="168.12" fill="none" stroke="#111" stroke-width="1"/>
<rect x="132.3" y="291" width="6.3" height="14.5" fill="url(#cbgrad)" stroke="#111" stroke-width="0.8"/>
<line x1="138.6" y1="293.8" x2="139.6" y2="293.8" stroke="#111" stroke-width="0.5" />
<text x="140" y="295.46" font-size="4.6" fill="#222">0.2</text>
<line x1="138.6" y1="298.2" x2="139.6" y2="298.2" stroke="#111" stroke-width="0.5" />
<text x="140" y="299.86" font-size="4.6" fill="#222">0</text>
<line x1="138.6" y1="302.7" x2="139.6" y2="302.7" stroke="#111" stroke-width="0.5" />
<text x="140" y="304.36" font-size="4.6" fill="#222">-0.2</text>
<rect x="45.7" y="309.6" width="14" height="4.9" fill="#dcdc84"/>
<rect x="59.4" y="309.6" width="14.5" height="4.9" fill="#fcfcf3"/>
<rect x="73.6" y="309.6" width="14.9" height="4.9" fill="#d5d56c"/>
<rect x="88.2" y="309.6" width="14.9" height="4.9" fill="#dcdc84"/>
<rect x="102.8" y="309.6" width="14.7" height="4.9" fill="#eaeab6"/>
<rect x="117.2" y="309.6" width="14.6" height="4.9" fill="#eeeec2"/>
<polygon points="52.55,310.4 52.99,311.29 53.98,311.44 53.26,312.13 53.43,313.11 52.55,312.65 51.67,313.11 51.84,312.13 51.12,311.44 52.11,311.29" fill="#111"/>
<polygon points="80.9,310.4 81.34,311.29 82.33,311.44 81.61,312.13 81.78,313.11 80.9,312.65 80.02,313.11 80.19,312.13 79.47,311.44 80.46,311.29" fill="#111"/>
<polygon points="95.5,310.4 95.94,311.29 96.93,311.44 96.21,312.13 96.38,313.11 95.5,312.65 94.62,313.11 94.79,312.13 94.07,311.44 95.06,311.29" fill="#111"/>
<polygon points="110,310.4 110.44,311.29 111.43,311.44 110.71,312.13 110.88,313.11 110,312.65 109.12,313.11 109.29,312.13 108.57,311.44 109.56,311.29" fill="#111"/>
<polygon points="124.35,310.4 124.79,311.29 125.78,311.44 125.06,312.13 125.23,313.11 124.35,312.65 123.47,313.11 123.64,312.13 122.92,311.44 123.91,311.29" fill="#111"/>
<line x1="43.1" y1="311.9" x2="45.7" y2="311.9" stroke="#111" stroke-width="0.7" />
<text x="42.9" y="313.3" font-size="3.9" font-weight="bold" text-anchor="end" fill="#111" stroke="#111" stroke-width="0.16">KIV</text>
<rect x="45.7" y="314.2" width="14" height="4.9" fill="#dcdc84"/>
<rect x="59.4" y="314.2" width="14.5" height="4.9" fill="#fcfcf3"/>
<rect x="73.6" y="314.2" width="14.9" height="4.9" fill="#d5d56c"/>
<rect x="88.2" y="314.2" width="14.9" height="4.9" fill="#e0e091"/>
<rect x="102.8" y="314.2" width="14.7" height="4.9" fill="#fcfcf3"/>
<rect x="117.2" y="314.2" width="14.6" height="4.9" fill="#f8f8e6"/>
<polygon points="52.55,315 52.99,315.89 53.98,316.04 53.26,316.73 53.43,317.71 52.55,317.25 51.67,317.71 51.84,316.73 51.12,316.04 52.11,315.89" fill="#111"/>
<polygon points="80.9,315 81.34,315.89 82.33,316.04 81.61,316.73 81.78,317.71 80.9,317.25 80.02,317.71 80.19,316.73 79.47,316.04 80.46,315.89" fill="#111"/>
<polygon points="95.5,315 95.94,315.89 96.93,316.04 96.21,316.73 96.38,317.71 95.5,317.25 94.62,317.71 94.79,316.73 94.07,316.04 95.06,315.89" fill="#111"/>
<line x1="43.1" y1="316.5" x2="45.7" y2="316.5" stroke="#111" stroke-width="0.7" />
<text x="42.9" y="317.9" font-size="3.9" font-weight="bold" text-anchor="end" fill="#111" stroke="#111" stroke-width="0.16">KMV</text>
<rect x="45.7" y="318.8" width="14" height="4.9" fill="#dcdc84"/>
<rect x="59.4" y="318.8" width="14.5" height="4.9" fill="#f8f8e6"/>
<rect x="73.6" y="318.8" width="14.9" height="4.9" fill="#d5d56c"/>
<rect x="88.2" y="318.8" width="14.9" height="4.9" fill="#e0e091"/>
<rect x="102.8" y="318.8" width="14.7" height="4.9" fill="#fcfcf3"/>
<rect x="117.2" y="318.8" width="14.6" height="4.9" fill="#f8f8e6"/>
<polygon points="52.55,319.6 52.99,320.49 53.98,320.64 53.26,321.33 53.43,322.31 52.55,321.85 51.67,322.31 51.84,321.33 51.12,320.64 52.11,320.49" fill="#111"/>
<polygon points="80.9,319.6 81.34,320.49 82.33,320.64 81.61,321.33 81.78,322.31 80.9,321.85 80.02,322.31 80.19,321.33 79.47,320.64 80.46,320.49" fill="#111"/>
<polygon points="95.5,319.6 95.94,320.49 96.93,320.64 96.21,321.33 96.38,322.31 95.5,321.85 94.62,322.31 94.79,321.33 94.07,320.64 95.06,320.49" fill="#111"/>
<line x1="43.1" y1="321.1" x2="45.7" y2="321.1" stroke="#111" stroke-width="0.7" />
<text x="42.9" y="322.5" font-size="3.9" font-weight="bold" text-anchor="end" fill="#111" stroke="#111" stroke-width="0.16">KIC</text>
<line x1="73.6" y1="309.6" x2="73.6" y2="323.4" stroke="#111" stroke-width="0.9" />
<line x1="102.8" y1="309.6" x2="102.8" y2="323.4" stroke="#111" stroke-width="0.9" />
<rect x="45.7" y="309.6" width="85.8" height="13.8" fill="none" stroke="#111" stroke-width="1"/>
<rect x="133.3" y="309.7" width="5.8" height="13.8" fill="url(#cbgrad)" stroke="#111" stroke-width="0.8"/>
<line x1="139.1" y1="311.2" x2="140.1" y2="311.2" stroke="#111" stroke-width="0.5" />
<text x="140.5" y="312.78" font-size="4.4" fill="#222">0.5</text>
<line x1="139.1" y1="316.6" x2="140.1" y2="316.6" stroke="#111" stroke-width="0.5" />
<text x="140.5" y="318.18" font-size="4.4" fill="#222">0</text>
<line x1="139.1" y1="322" x2="140.1" y2="322" stroke="#111" stroke-width="0.5" />
<text x="140.5" y="323.58" font-size="4.4" fill="#222">-0.5</text>
<rect x="45.7" y="327.8" width="14" height="5.02" fill="#c7c73b"/>
<rect x="59.4" y="327.8" width="14.5" height="5.02" fill="#caca47"/>
<rect x="73.6" y="327.8" width="14.9" height="5.02" fill="#caca47"/>
<rect x="88.2" y="327.8" width="14.9" height="5.02" fill="#f1f1ce"/>
<rect x="102.8" y="327.8" width="14.7" height="5.02" fill="#d8d878"/>
<rect x="117.2" y="327.8" width="14.6" height="5.02" fill="#ddbfe5"/>
<polygon points="52.55,328.66 52.99,329.55 53.98,329.7 53.26,330.39 53.43,331.37 52.55,330.91 51.67,331.37 51.84,330.39 51.12,329.7 52.11,329.55" fill="#111"/>
<polygon points="66.5,328.66 66.94,329.55 67.93,329.7 67.21,330.39 67.38,331.37 66.5,330.91 65.62,331.37 65.79,330.39 65.07,329.7 66.06,329.55" fill="#111"/>
<polygon points="80.9,328.66 81.34,329.55 82.33,329.7 81.61,330.39 81.78,331.37 80.9,330.91 80.02,331.37 80.19,330.39 79.47,329.7 80.46,329.55" fill="#111"/>
<polygon points="110,328.66 110.44,329.55 111.43,329.7 110.71,330.39 110.88,331.37 110,330.91 109.12,331.37 109.29,330.39 108.57,329.7 109.56,329.55" fill="#111"/>
<line x1="43.1" y1="330.16" x2="45.7" y2="330.16" stroke="#111" stroke-width="0.7" />
<text x="42.9" y="331.56" font-size="3.9" font-weight="bold" text-anchor="end" fill="#111" stroke="#111" stroke-width="0.16">Lactate</text>
<rect x="45.7" y="332.52" width="14" height="5.02" fill="#f1f1ce"/>
<rect x="59.4" y="332.52" width="14.5" height="5.02" fill="#fcfcf3"/>
<rect x="73.6" y="332.52" width="14.9" height="5.02" fill="#e3e39d"/>
<rect x="88.2" y="332.52" width="14.9" height="5.02" fill="#eeeec2"/>
<rect x="102.8" y="332.52" width="14.7" height="5.02" fill="#eaeab6"/>
<rect x="117.2" y="332.52" width="14.6" height="5.02" fill="#eaeab6"/>
<polygon points="52.55,333.38 52.99,334.27 53.98,334.42 53.26,335.11 53.43,336.09 52.55,335.63 51.67,336.09 51.84,335.11 51.12,334.42 52.11,334.27" fill="#111"/>
<polygon points="80.9,333.38 81.34,334.27 82.33,334.42 81.61,335.11 81.78,336.09 80.9,335.63 80.02,336.09 80.19,335.11 79.47,334.42 80.46,334.27" fill="#111"/>
<polygon points="95.5,333.38 95.94,334.27 96.93,334.42 96.21,335.11 96.38,336.09 95.5,335.63 94.62,336.09 94.79,335.11 94.07,334.42 95.06,334.27" fill="#111"/>
<polygon points="110,333.38 110.44,334.27 111.43,334.42 110.71,335.11 110.88,336.09 110,335.63 109.12,336.09 109.29,335.11 108.57,334.42 109.56,334.27" fill="#111"/>
<polygon points="124.35,333.38 124.79,334.27 125.78,334.42 125.06,335.11 125.23,336.09 124.35,335.63 123.47,336.09 123.64,335.11 122.92,334.42 123.91,334.27" fill="#111"/>
<line x1="43.1" y1="334.88" x2="45.7" y2="334.88" stroke="#111" stroke-width="0.7" />
<text x="42.9" y="336.28" font-size="3.9" font-weight="bold" text-anchor="end" fill="#111" stroke="#111" stroke-width="0.16">Citrate</text>
<rect x="45.7" y="337.24" width="14" height="5.02" fill="#f8f8e6"/>
<rect x="59.4" y="337.24" width="14.5" height="5.02" fill="#fdfdf8"/>
<rect x="73.6" y="337.24" width="14.9" height="5.02" fill="#eaeab6"/>
<rect x="88.2" y="337.24" width="14.9" height="5.02" fill="#f8f8e6"/>
<rect x="102.8" y="337.24" width="14.7" height="5.02" fill="#f8f8e6"/>
<rect x="117.2" y="337.24" width="14.6" height="5.02" fill="#f8f8e6"/>
<polygon points="80.9,338.1 81.34,338.99 82.33,339.14 81.61,339.83 81.78,340.81 80.9,340.35 80.02,340.81 80.19,339.83 79.47,339.14 80.46,338.99" fill="#111"/>
<line x1="43.1" y1="339.6" x2="45.7" y2="339.6" stroke="#111" stroke-width="0.7" />
<text x="42.9" y="341" font-size="3.9" font-weight="bold" text-anchor="end" fill="#111" stroke="#111" stroke-width="0.16">CisAconitate</text>
<rect x="45.7" y="341.96" width="14" height="5.02" fill="#f8f8e6"/>
<rect x="59.4" y="341.96" width="14.5" height="5.02" fill="#fefefa"/>
<rect x="73.6" y="341.96" width="14.9" height="5.02" fill="#f4f4da"/>
<rect x="88.2" y="341.96" width="14.9" height="5.02" fill="#fcfcf3"/>
<rect x="102.8" y="341.96" width="14.7" height="5.02" fill="#fcfcf3"/>
<rect x="117.2" y="341.96" width="14.6" height="5.02" fill="#fcfcf3"/>
<line x1="43.1" y1="344.32" x2="45.7" y2="344.32" stroke="#111" stroke-width="0.7" />
<text x="42.9" y="345.72" font-size="3.9" font-weight="bold" text-anchor="end" fill="#111" stroke="#111" stroke-width="0.16">Isocitrate</text>
<rect x="45.7" y="346.68" width="14" height="5.02" fill="#e0e091"/>
<rect x="59.4" y="346.68" width="14.5" height="5.02" fill="#f8f8e6"/>
<rect x="73.6" y="346.68" width="14.9" height="5.02" fill="#dcdc84"/>
<rect x="88.2" y="346.68" width="14.9" height="5.02" fill="#e6e6a9"/>
<rect x="102.8" y="346.68" width="14.7" height="5.02" fill="#eaeab6"/>
<rect x="117.2" y="346.68" width="14.6" height="5.02" fill="#e6e6a9"/>
<polygon points="52.55,347.54 52.99,348.43 53.98,348.58 53.26,349.27 53.43,350.25 52.55,349.79 51.67,350.25 51.84,349.27 51.12,348.58 52.11,348.43" fill="#111"/>
<polygon points="80.9,347.54 81.34,348.43 82.33,348.58 81.61,349.27 81.78,350.25 80.9,349.79 80.02,350.25 80.19,349.27 79.47,348.58 80.46,348.43" fill="#111"/>
<polygon points="95.5,347.54 95.94,348.43 96.93,348.58 96.21,349.27 96.38,350.25 95.5,349.79 94.62,350.25 94.79,349.27 94.07,348.58 95.06,348.43" fill="#111"/>
<polygon points="110,347.54 110.44,348.43 111.43,348.58 110.71,349.27 110.88,350.25 110,349.79 109.12,350.25 109.29,349.27 108.57,348.58 109.56,348.43" fill="#111"/>
<polygon points="124.35,347.54 124.79,348.43 125.78,348.58 125.06,349.27 125.23,350.25 124.35,349.79 123.47,350.25 123.64,349.27 122.92,348.58 123.91,348.43" fill="#111"/>
<line x1="43.1" y1="349.04" x2="45.7" y2="349.04" stroke="#111" stroke-width="0.7" />
<text x="42.9" y="350.44" font-size="3.9" font-weight="bold" text-anchor="end" fill="#111" stroke="#111" stroke-width="0.16">Ketoglutarate</text>
<rect x="45.7" y="351.4" width="14" height="5.02" fill="#fcfcf3"/>
<rect x="59.4" y="351.4" width="14.5" height="5.02" fill="#d6b2e0"/>
<rect x="73.6" y="351.4" width="14.9" height="5.02" fill="#f1f1ce"/>
<rect x="88.2" y="351.4" width="14.9" height="5.02" fill="#ddbfe5"/>
<rect x="102.8" y="351.4" width="14.7" height="5.02" fill="#f1f1ce"/>
<rect x="117.2" y="351.4" width="14.6" height="5.02" fill="#e4ccea"/>
<line x1="43.1" y1="353.76" x2="45.7" y2="353.76" stroke="#111" stroke-width="0.7" />
<text x="42.9" y="355.16" font-size="3.9" font-weight="bold" text-anchor="end" fill="#111" stroke="#111" stroke-width="0.16">2HG</text>
<rect x="45.7" y="356.12" width="14" height="5.02" fill="#d5d56c"/>
<rect x="59.4" y="356.12" width="14.5" height="5.02" fill="#dcdc84"/>
<rect x="73.6" y="356.12" width="14.9" height="5.02" fill="#f1f1ce"/>
<rect x="88.2" y="356.12" width="14.9" height="5.02" fill="#fcfcf3"/>
<rect x="102.8" y="356.12" width="14.7" height="5.02" fill="#f8f2fa"/>
<rect x="117.2" y="356.12" width="14.6" height="5.02" fill="#f8f2fa"/>
<polygon points="52.55,356.98 52.99,357.87 53.98,358.02 53.26,358.71 53.43,359.69 52.55,359.23 51.67,359.69 51.84,358.71 51.12,358.02 52.11,357.87" fill="#111"/>
<polygon points="66.5,356.98 66.94,357.87 67.93,358.02 67.21,358.71 67.38,359.69 66.5,359.23 65.62,359.69 65.79,358.71 65.07,358.02 66.06,357.87" fill="#111"/>
<line x1="43.1" y1="358.48" x2="45.7" y2="358.48" stroke="#111" stroke-width="0.7" />
<text x="42.9" y="359.88" font-size="3.9" font-weight="bold" text-anchor="end" fill="#111" stroke="#111" stroke-width="0.16">Succinate</text>
<rect x="45.7" y="360.84" width="14" height="5.02" fill="#d5d56c"/>
<rect x="59.4" y="360.84" width="14.5" height="5.02" fill="#f4f4da"/>
<rect x="73.6" y="360.84" width="14.9" height="5.02" fill="#e3e39d"/>
<rect x="88.2" y="360.84" width="14.9" height="5.02" fill="#f4f4da"/>
<rect x="102.8" y="360.84" width="14.7" height="5.02" fill="#f4f4da"/>
<rect x="117.2" y="360.84" width="14.6" height="5.02" fill="#f4f4da"/>
<polygon points="52.55,361.7 52.99,362.59 53.98,362.74 53.26,363.43 53.43,364.41 52.55,363.95 51.67,364.41 51.84,363.43 51.12,362.74 52.11,362.59" fill="#111"/>
<polygon points="80.9,361.7 81.34,362.59 82.33,362.74 81.61,363.43 81.78,364.41 80.9,363.95 80.02,364.41 80.19,363.43 79.47,362.74 80.46,362.59" fill="#111"/>
<line x1="43.1" y1="363.2" x2="45.7" y2="363.2" stroke="#111" stroke-width="0.7" />
<text x="42.9" y="364.6" font-size="3.9" font-weight="bold" text-anchor="end" fill="#111" stroke="#111" stroke-width="0.16">Fumarate</text>
<rect x="45.7" y="365.56" width="14" height="5.02" fill="#cece54"/>
<rect x="59.4" y="365.56" width="14.5" height="5.02" fill="#dcdc84"/>
<rect x="73.6" y="365.56" width="14.9" height="5.02" fill="#d5d56c"/>
<rect x="88.2" y="365.56" width="14.9" height="5.02" fill="#e3e39d"/>
<rect x="102.8" y="365.56" width="14.7" height="5.02" fill="#e6e6a9"/>
<rect x="117.2" y="365.56" width="14.6" height="5.02" fill="#e6e6a9"/>
<polygon points="52.55,366.42 52.99,367.31 53.98,367.46 53.26,368.15 53.43,369.13 52.55,368.67 51.67,369.13 51.84,368.15 51.12,367.46 52.11,367.31" fill="#111"/>
<polygon points="66.5,366.42 66.94,367.31 67.93,367.46 67.21,368.15 67.38,369.13 66.5,368.67 65.62,369.13 65.79,368.15 65.07,367.46 66.06,367.31" fill="#111"/>
<polygon points="80.9,366.42 81.34,367.31 82.33,367.46 81.61,368.15 81.78,369.13 80.9,368.67 80.02,369.13 80.19,368.15 79.47,367.46 80.46,367.31" fill="#111"/>
<polygon points="95.5,366.42 95.94,367.31 96.93,367.46 96.21,368.15 96.38,369.13 95.5,368.67 94.62,369.13 94.79,368.15 94.07,367.46 95.06,367.31" fill="#111"/>
<polygon points="110,366.42 110.44,367.31 111.43,367.46 110.71,368.15 110.88,369.13 110,368.67 109.12,369.13 109.29,368.15 108.57,367.46 109.56,367.31" fill="#111"/>
<polygon points="124.35,366.42 124.79,367.31 125.78,367.46 125.06,368.15 125.23,369.13 124.35,368.67 123.47,369.13 123.64,368.15 122.92,367.46 123.91,367.31" fill="#111"/>
<line x1="43.1" y1="367.92" x2="45.7" y2="367.92" stroke="#111" stroke-width="0.7" />
<text x="42.9" y="369.32" font-size="3.9" font-weight="bold" text-anchor="end" fill="#111" stroke="#111" stroke-width="0.16">Malate</text>
<line x1="73.6" y1="327.8" x2="73.6" y2="370.28" stroke="#111" stroke-width="0.9" />
<line x1="102.8" y1="327.8" x2="102.8" y2="370.28" stroke="#111" stroke-width="0.9" />
<rect x="45.7" y="327.8" width="85.8" height="42.48" fill="none" stroke="#111" stroke-width="1"/>
<rect x="134" y="350.5" width="6.3" height="20" fill="url(#cbgrad)" stroke="#111" stroke-width="0.8"/>
<line x1="140.3" y1="352.3" x2="141.3" y2="352.3" stroke="#111" stroke-width="0.5" />
<text x="141.5" y="353.63" font-size="3.7" fill="#222">1.0</text>
<line x1="140.3" y1="356.2" x2="141.3" y2="356.2" stroke="#111" stroke-width="0.5" />
<text x="141.5" y="357.53" font-size="3.7" fill="#222">0.5</text>
<line x1="140.3" y1="360.3" x2="141.3" y2="360.3" stroke="#111" stroke-width="0.5" />
<text x="141.5" y="361.63" font-size="3.7" fill="#222">0</text>
<line x1="140.3" y1="364.3" x2="141.3" y2="364.3" stroke="#111" stroke-width="0.5" />
<text x="141.5" y="365.63" font-size="3.7" fill="#222">-0.5</text>
<line x1="140.3" y1="368.2" x2="141.3" y2="368.2" stroke="#111" stroke-width="0.5" />
<text x="141.5" y="369.53" font-size="3.7" fill="#222">-1.0</text>
<text x="179.2" y="148.6" font-size="14.5" font-weight="bold" text-anchor="middle">E</text>
<text x="237.4" y="136.7" font-size="6" font-weight="bold" text-anchor="middle" fill="#111" textLength="20.7" lengthAdjust="spacingAndGlyphs">Muscle</text>
<line x1="208" y1="139.4" x2="266.8" y2="139.4" stroke="#222" stroke-width="0.9" />
<text x="222.4" y="146.7" font-size="5.9" font-weight="bold" text-anchor="middle" fill="#111" textLength="22.8" lengthAdjust="spacingAndGlyphs">Δ10 min</text>
<line x1="208" y1="149.4" x2="236" y2="149.4" stroke="#222" stroke-width="0.9" />
<text x="252.65" y="146.7" font-size="5.9" font-weight="bold" text-anchor="middle" fill="#111" textLength="22.8" lengthAdjust="spacingAndGlyphs">Δ60 min</text>
<line x1="238.3" y1="149.4" x2="266.8" y2="149.4" stroke="#222" stroke-width="0.9" />
<line x1="237.3" y1="140.7" x2="237.3" y2="149.4" stroke="#222" stroke-width="0.8" />
<text x="214.1" y="155.8" font-size="5.6" font-weight="bold" text-anchor="middle" fill="#111" textLength="11.2" lengthAdjust="spacingAndGlyphs">AAE</text>
<text x="229.45" y="155.8" font-size="5.6" font-weight="bold" text-anchor="middle" fill="#111" textLength="11.2" lengthAdjust="spacingAndGlyphs">ARE</text>
<text x="245.15" y="155.8" font-size="5.6" font-weight="bold" text-anchor="middle" fill="#111" textLength="11.2" lengthAdjust="spacingAndGlyphs">AAE</text>
<text x="260.4" y="155.8" font-size="5.6" font-weight="bold" text-anchor="middle" fill="#111" textLength="11.2" lengthAdjust="spacingAndGlyphs">ARE</text>
<rect x="207.5" y="157.6" width="15.2" height="5.3" fill="#e4ccea"/>
<rect x="222.4" y="157.6" width="15.3" height="5.3" fill="#f4ebf7"/>
<rect x="237.4" y="157.6" width="15.3" height="5.3" fill="#d6b2e0"/>
<rect x="252.4" y="157.6" width="15.3" height="5.3" fill="#cfa6da"/>
<polygon points="259.9,158.6 260.34,159.49 261.33,159.64 260.61,160.33 260.78,161.31 259.9,160.85 259.02,161.31 259.19,160.33 258.47,159.64 259.46,159.49" fill="#111"/>
<line x1="204.9" y1="160.1" x2="207.5" y2="160.1" stroke="#111" stroke-width="0.7" />
<text x="203.9" y="161.61" font-size="4.2" font-weight="bold" text-anchor="end" fill="#111" stroke="#111" stroke-width="0.16">Leucine</text>
<rect x="207.5" y="162.6" width="15.2" height="5.3" fill="#ddbfe5"/>
<rect x="222.4" y="162.6" width="15.3" height="5.3" fill="#f1e6f4"/>
<rect x="237.4" y="162.6" width="15.3" height="5.3" fill="#c899d5"/>
<rect x="252.4" y="162.6" width="15.3" height="5.3" fill="#c899d5"/>
<polygon points="259.9,163.6 260.34,164.49 261.33,164.64 260.61,165.33 260.78,166.31 259.9,165.85 259.02,166.31 259.19,165.33 258.47,164.64 259.46,164.49" fill="#111"/>
<line x1="204.9" y1="165.1" x2="207.5" y2="165.1" stroke="#111" stroke-width="0.7" />
<text x="203.9" y="166.61" font-size="4.2" font-weight="bold" text-anchor="end" fill="#111" stroke="#111" stroke-width="0.16">Isoleucine</text>
<rect x="207.5" y="167.6" width="15.2" height="5.3" fill="#ead9ef"/>
<rect x="222.4" y="167.6" width="15.3" height="5.3" fill="#f8f2fa"/>
<rect x="237.4" y="167.6" width="15.3" height="5.3" fill="#e4ccea"/>
<rect x="252.4" y="167.6" width="15.3" height="5.3" fill="#e4ccea"/>
<line x1="204.9" y1="170.1" x2="207.5" y2="170.1" stroke="#111" stroke-width="0.7" />
<text x="203.9" y="171.61" font-size="4.2" font-weight="bold" text-anchor="end" fill="#111" stroke="#111" stroke-width="0.16">Valine</text>
<rect x="207.5" y="172.6" width="15.2" height="5.3" fill="#c899d5"/>
<rect x="222.4" y="172.6" width="15.3" height="5.3" fill="#fcfcf3"/>
<rect x="237.4" y="172.6" width="15.3" height="5.3" fill="#e4ccea"/>
<rect x="252.4" y="172.6" width="15.3" height="5.3" fill="#fcfafd"/>
<line x1="204.9" y1="175.1" x2="207.5" y2="175.1" stroke="#111" stroke-width="0.7" />
<text x="203.9" y="176.61" font-size="4.2" font-weight="bold" text-anchor="end" fill="#111" stroke="#111" stroke-width="0.16">BABA</text>
<rect x="207.5" y="177.6" width="15.2" height="5.3" fill="#f4ebf7"/>
<rect x="222.4" y="177.6" width="15.3" height="5.3" fill="#fbf7fc"/>
<rect x="237.4" y="177.6" width="15.3" height="5.3" fill="#f1e6f4"/>
<rect x="252.4" y="177.6" width="15.3" height="5.3" fill="#e4ccea"/>
<line x1="204.9" y1="180.1" x2="207.5" y2="180.1" stroke="#111" stroke-width="0.7" />
<text x="203.9" y="181.61" font-size="4.2" font-weight="bold" text-anchor="end" fill="#111" stroke="#111" stroke-width="0.16">Phenylalanine</text>
<rect x="207.5" y="182.6" width="15.2" height="5.3" fill="#f7f7e2"/>
<rect x="222.4" y="182.6" width="15.3" height="5.3" fill="#fbf7fc"/>
<rect x="237.4" y="182.6" width="15.3" height="5.3" fill="#fcfcf3"/>
<rect x="252.4" y="182.6" width="15.3" height="5.3" fill="#e4ccea"/>
<line x1="204.9" y1="185.1" x2="207.5" y2="185.1" stroke="#111" stroke-width="0.7" />
<text x="203.9" y="186.61" font-size="4.2" font-weight="bold" text-anchor="end" fill="#111" stroke="#111" stroke-width="0.16">Tryptophan</text>
<rect x="207.5" y="187.6" width="15.2" height="5.3" fill="#f1e6f4"/>
<rect x="222.4" y="187.6" width="15.3" height="5.3" fill="#fbf7fc"/>
<rect x="237.4" y="187.6" width="15.3" height="5.3" fill="#f1e6f4"/>
<rect x="252.4" y="187.6" width="15.3" height="5.3" fill="#e4ccea"/>
<line x1="204.9" y1="190.1" x2="207.5" y2="190.1" stroke="#111" stroke-width="0.7" />
<text x="203.9" y="191.61" font-size="4.2" font-weight="bold" text-anchor="end" fill="#111" stroke="#111" stroke-width="0.16">Tyrosine</text>
<rect x="207.5" y="192.6" width="15.2" height="5.3" fill="#c594d3"/>
<rect x="222.4" y="192.6" width="15.3" height="5.3" fill="#ffffff"/>
<rect x="237.4" y="192.6" width="15.3" height="5.3" fill="#f1f1ce"/>
<rect x="252.4" y="192.6" width="15.3" height="5.3" fill="#ffffff"/>
<polygon points="214.95,193.6 215.39,194.49 216.38,194.64 215.66,195.33 215.83,196.31 214.95,195.85 214.07,196.31 214.24,195.33 213.52,194.64 214.51,194.49" fill="#111"/>
<line x1="204.9" y1="195.1" x2="207.5" y2="195.1" stroke="#111" stroke-width="0.7" />
<text x="203.9" y="196.61" font-size="4.2" font-weight="bold" text-anchor="end" fill="#111" stroke="#111" stroke-width="0.16">Lysine</text>
<rect x="207.5" y="197.6" width="15.2" height="5.3" fill="#ba80ca"/>
<rect x="222.4" y="197.6" width="15.3" height="5.3" fill="#fefefa"/>
<rect x="237.4" y="197.6" width="15.3" height="5.3" fill="#f4f4da"/>
<rect x="252.4" y="197.6" width="15.3" height="5.3" fill="#d8d878"/>
<polygon points="214.95,198.6 215.39,199.49 216.38,199.64 215.66,200.33 215.83,201.31 214.95,200.85 214.07,201.31 214.24,200.33 213.52,199.64 214.51,199.49" fill="#111"/>
<line x1="204.9" y1="200.1" x2="207.5" y2="200.1" stroke="#111" stroke-width="0.7" />
<text x="203.9" y="201.61" font-size="4.2" font-weight="bold" text-anchor="end" fill="#111" stroke="#111" stroke-width="0.16">AAAA</text>
<rect x="207.5" y="202.6" width="15.2" height="5.3" fill="#9f4cb6"/>
<rect x="222.4" y="202.6" width="15.3" height="5.3" fill="#f4ebf7"/>
<rect x="237.4" y="202.6" width="15.3" height="5.3" fill="#cfa6da"/>
<rect x="252.4" y="202.6" width="15.3" height="5.3" fill="#fcfafd"/>
<polygon points="214.95,203.6 215.39,204.49 216.38,204.64 215.66,205.33 215.83,206.31 214.95,205.85 214.07,206.31 214.24,205.33 213.52,204.64 214.51,204.49" fill="#111"/>
<line x1="204.9" y1="205.1" x2="207.5" y2="205.1" stroke="#111" stroke-width="0.7" />
<text x="203.9" y="206.61" font-size="4.2" font-weight="bold" text-anchor="end" fill="#111" stroke="#111" stroke-width="0.16">GlutamicAcid</text>
<rect x="207.5" y="207.6" width="15.2" height="5.3" fill="#c18cd0"/>
<rect x="222.4" y="207.6" width="15.3" height="5.3" fill="#fdfdf8"/>
<rect x="237.4" y="207.6" width="15.3" height="5.3" fill="#f8f2fa"/>
<rect x="252.4" y="207.6" width="15.3" height="5.3" fill="#f4f4da"/>
<polygon points="214.95,208.6 215.39,209.49 216.38,209.64 215.66,210.33 215.83,211.31 214.95,210.85 214.07,211.31 214.24,210.33 213.52,209.64 214.51,209.49" fill="#111"/>
<line x1="204.9" y1="210.1" x2="207.5" y2="210.1" stroke="#111" stroke-width="0.7" />
<text x="203.9" y="211.61" font-size="4.2" font-weight="bold" text-anchor="end" fill="#111" stroke="#111" stroke-width="0.16">GABA</text>
<rect x="207.5" y="212.6" width="15.2" height="5.3" fill="#c18cd0"/>
<rect x="222.4" y="212.6" width="15.3" height="5.3" fill="#fdfdf8"/>
<rect x="237.4" y="212.6" width="15.3" height="5.3" fill="#f8f2fa"/>
<rect x="252.4" y="212.6" width="15.3" height="5.3" fill="#fdfdf8"/>
<polygon points="214.95,213.6 215.39,214.49 216.38,214.64 215.66,215.33 215.83,216.31 214.95,215.85 214.07,216.31 214.24,215.33 213.52,214.64 214.51,214.49" fill="#111"/>
<line x1="204.9" y1="215.1" x2="207.5" y2="215.1" stroke="#111" stroke-width="0.7" />
<text x="203.9" y="216.61" font-size="4.2" font-weight="bold" text-anchor="end" fill="#111" stroke="#111" stroke-width="0.16">Glutamine</text>
<rect x="207.5" y="217.6" width="15.2" height="5.3" fill="#c899d5"/>
<rect x="222.4" y="217.6" width="15.3" height="5.3" fill="#fdfdf8"/>
<rect x="237.4" y="217.6" width="15.3" height="5.3" fill="#f1f1ce"/>
<rect x="252.4" y="217.6" width="15.3" height="5.3" fill="#fcfcf3"/>
<polygon points="214.95,218.6 215.39,219.49 216.38,219.64 215.66,220.33 215.83,221.31 214.95,220.85 214.07,221.31 214.24,220.33 213.52,219.64 214.51,219.49" fill="#111"/>
<line x1="204.9" y1="220.1" x2="207.5" y2="220.1" stroke="#111" stroke-width="0.7" />
<text x="203.9" y="221.61" font-size="4.2" font-weight="bold" text-anchor="end" fill="#111" stroke="#111" stroke-width="0.16">Arginine</text>
<rect x="207.5" y="222.6" width="15.2" height="5.3" fill="#c899d5"/>
<rect x="222.4" y="222.6" width="15.3" height="5.3" fill="#fefefa"/>
<rect x="237.4" y="222.6" width="15.3" height="5.3" fill="#f9f9eb"/>
<rect x="252.4" y="222.6" width="15.3" height="5.3" fill="#fcfafd"/>
<polygon points="214.95,223.6 215.39,224.49 216.38,224.64 215.66,225.33 215.83,226.31 214.95,225.85 214.07,226.31 214.24,225.33 213.52,224.64 214.51,224.49" fill="#111"/>
<line x1="204.9" y1="225.1" x2="207.5" y2="225.1" stroke="#111" stroke-width="0.7" />
<text x="203.9" y="226.61" font-size="4.2" font-weight="bold" text-anchor="end" fill="#111" stroke="#111" stroke-width="0.16">Ornithine</text>
<rect x="207.5" y="227.6" width="15.2" height="5.3" fill="#ead9ef"/>
<rect x="222.4" y="227.6" width="15.3" height="5.3" fill="#eeeec2"/>
<rect x="237.4" y="227.6" width="15.3" height="5.3" fill="#fdfdf8"/>
<rect x="252.4" y="227.6" width="15.3" height="5.3" fill="#fdfdf8"/>
<line x1="204.9" y1="230.1" x2="207.5" y2="230.1" stroke="#111" stroke-width="0.7" />
<text x="203.9" y="231.61" font-size="4.2" font-weight="bold" text-anchor="end" fill="#111" stroke="#111" stroke-width="0.16">Citrulline</text>
<rect x="207.5" y="232.6" width="15.2" height="5.3" fill="#760096"/>
<rect x="222.4" y="232.6" width="15.3" height="5.3" fill="#ba80ca"/>
<rect x="237.4" y="232.6" width="15.3" height="5.3" fill="#760096"/>
<rect x="252.4" y="232.6" width="15.3" height="5.3" fill="#760096"/>
<polygon points="214.95,233.6 215.39,234.49 216.38,234.64 215.66,235.33 215.83,236.31 214.95,235.85 214.07,236.31 214.24,235.33 213.52,234.64 214.51,234.49" fill="#111"/>
<polygon points="244.9,233.6 245.34,234.49 246.33,234.64 245.61,235.33 245.78,236.31 244.9,235.85 244.02,236.31 244.19,235.33 243.47,234.64 244.46,234.49" fill="#111"/>
<polygon points="259.9,233.6 260.34,234.49 261.33,234.64 260.61,235.33 260.78,236.31 259.9,235.85 259.02,236.31 259.19,235.33 258.47,234.64 259.46,234.49" fill="#111"/>
<line x1="204.9" y1="235.1" x2="207.5" y2="235.1" stroke="#111" stroke-width="0.7" />
<text x="203.9" y="236.61" font-size="4.2" font-weight="bold" text-anchor="end" fill="#111" stroke="#111" stroke-width="0.16">AsparticAcid</text>
<rect x="207.5" y="237.6" width="15.2" height="5.3" fill="#e4ccea"/>
<rect x="222.4" y="237.6" width="15.3" height="5.3" fill="#fcfafd"/>
<rect x="237.4" y="237.6" width="15.3" height="5.3" fill="#fdfdf8"/>
<rect x="252.4" y="237.6" width="15.3" height="5.3" fill="#f1e6f4"/>
<line x1="204.9" y1="240.1" x2="207.5" y2="240.1" stroke="#111" stroke-width="0.7" />
<text x="203.9" y="241.61" font-size="4.2" font-weight="bold" text-anchor="end" fill="#111" stroke="#111" stroke-width="0.16">Asparagine</text>
<rect x="207.5" y="242.6" width="15.2" height="5.3" fill="#f8f2fa"/>
<rect x="222.4" y="242.6" width="15.3" height="5.3" fill="#fcfafd"/>
<rect x="237.4" y="242.6" width="15.3" height="5.3" fill="#fdfdf8"/>
<rect x="252.4" y="242.6" width="15.3" height="5.3" fill="#ead9ef"/>
<line x1="204.9" y1="245.1" x2="207.5" y2="245.1" stroke="#111" stroke-width="0.7" />
<text x="203.9" y="246.61" font-size="4.2" font-weight="bold" text-anchor="end" fill="#111" stroke="#111" stroke-width="0.16">Methionine</text>
<rect x="207.5" y="247.6" width="15.2" height="5.3" fill="#ddbfe5"/>
<rect x="222.4" y="247.6" width="15.3" height="5.3" fill="#fdfdf8"/>
<rect x="237.4" y="247.6" width="15.3" height="5.3" fill="#fcfcf3"/>
<rect x="252.4" y="247.6" width="15.3" height="5.3" fill="#fdfdf8"/>
<line x1="204.9" y1="250.1" x2="207.5" y2="250.1" stroke="#111" stroke-width="0.7" />
<text x="203.9" y="251.61" font-size="4.2" font-weight="bold" text-anchor="end" fill="#111" stroke="#111" stroke-width="0.16">Serine</text>
<rect x="207.5" y="252.6" width="15.2" height="5.3" fill="#c899d5"/>
<rect x="222.4" y="252.6" width="15.3" height="5.3" fill="#fbf7fc"/>
<rect x="237.4" y="252.6" width="15.3" height="5.3" fill="#fcfcf3"/>
<rect x="252.4" y="252.6" width="15.3" height="5.3" fill="#fbf7fc"/>
<polygon points="214.95,253.6 215.39,254.49 216.38,254.64 215.66,255.33 215.83,256.31 214.95,255.85 214.07,256.31 214.24,255.33 213.52,254.64 214.51,254.49" fill="#111"/>
<line x1="204.9" y1="255.1" x2="207.5" y2="255.1" stroke="#111" stroke-width="0.7" />
<text x="203.9" y="256.61" font-size="4.2" font-weight="bold" text-anchor="end" fill="#111" stroke="#111" stroke-width="0.16">Glycine</text>
<rect x="207.5" y="257.6" width="15.2" height="5.3" fill="#e4ccea"/>
<rect x="222.4" y="257.6" width="15.3" height="5.3" fill="#fefefa"/>
<rect x="237.4" y="257.6" width="15.3" height="5.3" fill="#fdfdf8"/>
<rect x="252.4" y="257.6" width="15.3" height="5.3" fill="#f8f2fa"/>
<line x1="204.9" y1="260.1" x2="207.5" y2="260.1" stroke="#111" stroke-width="0.7" />
<text x="203.9" y="261.61" font-size="4.2" font-weight="bold" text-anchor="end" fill="#111" stroke="#111" stroke-width="0.16">Threonine</text>
<rect x="207.5" y="262.6" width="15.2" height="5.3" fill="#c899d5"/>
<rect x="222.4" y="262.6" width="15.3" height="5.3" fill="#f4ebf7"/>
<rect x="237.4" y="262.6" width="15.3" height="5.3" fill="#ffffff"/>
<rect x="252.4" y="262.6" width="15.3" height="5.3" fill="#ead9ef"/>
<polygon points="214.95,263.6 215.39,264.49 216.38,264.64 215.66,265.33 215.83,266.31 214.95,265.85 214.07,266.31 214.24,265.33 213.52,264.64 214.51,264.49" fill="#111"/>
<line x1="204.9" y1="265.1" x2="207.5" y2="265.1" stroke="#111" stroke-width="0.7" />
<text x="203.9" y="266.61" font-size="4.2" font-weight="bold" text-anchor="end" fill="#111" stroke="#111" stroke-width="0.16">Sarcosine</text>
<rect x="207.5" y="267.6" width="15.2" height="5.3" fill="#fcfcf3"/>
<rect x="222.4" y="267.6" width="15.3" height="5.3" fill="#fcfcf3"/>
<rect x="237.4" y="267.6" width="15.3" height="5.3" fill="#f1e6f4"/>
<rect x="252.4" y="267.6" width="15.3" height="5.3" fill="#d6b2e0"/>
<line x1="204.9" y1="270.1" x2="207.5" y2="270.1" stroke="#111" stroke-width="0.7" />
<text x="203.9" y="271.61" font-size="4.2" font-weight="bold" text-anchor="end" fill="#111" stroke="#111" stroke-width="0.16">Alanine</text>
<rect x="207.5" y="272.6" width="15.2" height="5.3" fill="#cfa6da"/>
<rect x="222.4" y="272.6" width="15.3" height="5.3" fill="#fbf7fc"/>
<rect x="237.4" y="272.6" width="15.3" height="5.3" fill="#f8f2fa"/>
<rect x="252.4" y="272.6" width="15.3" height="5.3" fill="#e4ccea"/>
<polygon points="214.95,273.6 215.39,274.49 216.38,274.64 215.66,275.33 215.83,276.31 214.95,275.85 214.07,276.31 214.24,275.33 213.52,274.64 214.51,274.49" fill="#111"/>
<line x1="204.9" y1="275.1" x2="207.5" y2="275.1" stroke="#111" stroke-width="0.7" />
<text x="203.9" y="276.61" font-size="4.2" font-weight="bold" text-anchor="end" fill="#111" stroke="#111" stroke-width="0.16">AABA</text>
<rect x="207.5" y="277.6" width="15.2" height="5.3" fill="#eaeab6"/>
<rect x="222.4" y="277.6" width="15.3" height="5.3" fill="#fdfdf8"/>
<rect x="237.4" y="277.6" width="15.3" height="5.3" fill="#f9f9eb"/>
<rect x="252.4" y="277.6" width="15.3" height="5.3" fill="#f8f2fa"/>
<polygon points="214.95,278.6 215.39,279.49 216.38,279.64 215.66,280.33 215.83,281.31 214.95,280.85 214.07,281.31 214.24,280.33 213.52,279.64 214.51,279.49" fill="#111"/>
<line x1="204.9" y1="280.1" x2="207.5" y2="280.1" stroke="#111" stroke-width="0.7" />
<text x="203.9" y="281.61" font-size="4.2" font-weight="bold" text-anchor="end" fill="#111" stroke="#111" stroke-width="0.16">betaAlanine</text>
<rect x="207.5" y="282.6" width="15.2" height="5.3" fill="#ead9ef"/>
<rect x="222.4" y="282.6" width="15.3" height="5.3" fill="#fefefa"/>
<rect x="237.4" y="282.6" width="15.3" height="5.3" fill="#f7f7e2"/>
<rect x="252.4" y="282.6" width="15.3" height="5.3" fill="#f9f9eb"/>
<line x1="204.9" y1="285.1" x2="207.5" y2="285.1" stroke="#111" stroke-width="0.7" />
<text x="203.9" y="286.61" font-size="4.2" font-weight="bold" text-anchor="end" fill="#111" stroke="#111" stroke-width="0.16">Histidine</text>
<rect x="207.5" y="287.6" width="15.2" height="5.3" fill="#c899d5"/>
<rect x="222.4" y="287.6" width="15.3" height="5.3" fill="#ffffff"/>
<rect x="237.4" y="287.6" width="15.3" height="5.3" fill="#f4f4da"/>
<rect x="252.4" y="287.6" width="15.3" height="5.3" fill="#ddbfe5"/>
<line x1="204.9" y1="290.1" x2="207.5" y2="290.1" stroke="#111" stroke-width="0.7" />
<text x="203.9" y="291.61" font-size="4.2" font-weight="bold" text-anchor="end" fill="#111" stroke="#111" stroke-width="0.16">1MethylHistidine</text>
<rect x="207.5" y="292.6" width="15.2" height="5.3" fill="#e4ccea"/>
<rect x="222.4" y="292.6" width="15.3" height="5.3" fill="#fcfcf3"/>
<rect x="237.4" y="292.6" width="15.3" height="5.3" fill="#f7f7e2"/>
<rect x="252.4" y="292.6" width="15.3" height="5.3" fill="#f8f2fa"/>
<line x1="204.9" y1="295.1" x2="207.5" y2="295.1" stroke="#111" stroke-width="0.7" />
<text x="203.9" y="296.61" font-size="4.2" font-weight="bold" text-anchor="end" fill="#111" stroke="#111" stroke-width="0.16">3MethylHistidine</text>
<rect x="207.5" y="297.6" width="15.2" height="5.3" fill="#ddbfe5"/>
<rect x="222.4" y="297.6" width="15.3" height="5.3" fill="#fcfafd"/>
<rect x="237.4" y="297.6" width="15.3" height="5.3" fill="#f9f9eb"/>
<rect x="252.4" y="297.6" width="15.3" height="5.3" fill="#f1e6f4"/>
<line x1="204.9" y1="300.1" x2="207.5" y2="300.1" stroke="#111" stroke-width="0.7" />
<text x="203.9" y="301.61" font-size="4.2" font-weight="bold" text-anchor="end" fill="#111" stroke="#111" stroke-width="0.16">Proline</text>
<rect x="207.5" y="302.6" width="15.2" height="5.3" fill="#ddbfe5"/>
<rect x="222.4" y="302.6" width="15.3" height="5.3" fill="#fcfcf3"/>
<rect x="237.4" y="302.6" width="15.3" height="5.3" fill="#e0e091"/>
<rect x="252.4" y="302.6" width="15.3" height="5.3" fill="#f1e6f4"/>
<line x1="204.9" y1="305.1" x2="207.5" y2="305.1" stroke="#111" stroke-width="0.7" />
<text x="203.9" y="306.61" font-size="4.2" font-weight="bold" text-anchor="end" fill="#111" stroke="#111" stroke-width="0.16">Hydroxyproline</text>
<rect x="207.5" y="307.6" width="15.2" height="5.3" fill="#cfa6da"/>
<rect x="222.4" y="307.6" width="15.3" height="5.3" fill="#f8f2fa"/>
<rect x="237.4" y="307.6" width="15.3" height="5.3" fill="#f4f4da"/>
<rect x="252.4" y="307.6" width="15.3" height="5.3" fill="#d6b2e0"/>
<line x1="204.9" y1="310.1" x2="207.5" y2="310.1" stroke="#111" stroke-width="0.7" />
<text x="203.9" y="311.61" font-size="4.2" font-weight="bold" text-anchor="end" fill="#111" stroke="#111" stroke-width="0.16">Phosphoethanolamine</text>
<rect x="207.5" y="312.6" width="15.2" height="5.3" fill="#c899d5"/>
<rect x="222.4" y="312.6" width="15.3" height="5.3" fill="#f8f2fa"/>
<rect x="237.4" y="312.6" width="15.3" height="5.3" fill="#f1e6f4"/>
<rect x="252.4" y="312.6" width="15.3" height="5.3" fill="#f8f2fa"/>
<line x1="204.9" y1="315.1" x2="207.5" y2="315.1" stroke="#111" stroke-width="0.7" />
<text x="203.9" y="316.61" font-size="4.2" font-weight="bold" text-anchor="end" fill="#111" stroke="#111" stroke-width="0.16">Ethanolamine</text>
<line x1="237.4" y1="157.6" x2="237.4" y2="317.6" stroke="#111" stroke-width="0.9" />
<rect x="207.5" y="157.6" width="59.9" height="160" fill="none" stroke="#111" stroke-width="1"/>
<rect x="269.3" y="302.2" width="6.7" height="15.8" fill="url(#cbgrad)" stroke="#111" stroke-width="0.8"/>
<line x1="276" y1="304.3" x2="277" y2="304.3" stroke="#111" stroke-width="0.5" />
<text x="278" y="305.81" font-size="4.2" fill="#222">0.5</text>
<line x1="276" y1="310.4" x2="277" y2="310.4" stroke="#111" stroke-width="0.5" />
<text x="278" y="311.91" font-size="4.2" fill="#222">0</text>
<line x1="276" y1="316.5" x2="277" y2="316.5" stroke="#111" stroke-width="0.5" />
<text x="278" y="318.01" font-size="4.2" fill="#222">-0.5</text>
<rect x="207.5" y="321.4" width="15.2" height="5.3" fill="#fcfafd"/>
<rect x="222.4" y="321.4" width="15.3" height="5.3" fill="#fcfafd"/>
<rect x="237.4" y="321.4" width="15.3" height="5.3" fill="#f1e6f4"/>
<rect x="252.4" y="321.4" width="15.3" height="5.3" fill="#f8f2fa"/>
<line x1="204.9" y1="323.9" x2="207.5" y2="323.9" stroke="#111" stroke-width="0.7" />
<text x="203.9" y="325.41" font-size="4.2" font-weight="bold" text-anchor="end" fill="#111" stroke="#111" stroke-width="0.16">Lactate</text>
<rect x="207.5" y="326.4" width="15.2" height="5.3" fill="#c7c73b"/>
<rect x="222.4" y="326.4" width="15.3" height="5.3" fill="#e0e091"/>
<rect x="237.4" y="326.4" width="15.3" height="5.3" fill="#dcdc84"/>
<rect x="252.4" y="326.4" width="15.3" height="5.3" fill="#f9f9eb"/>
<polygon points="214.95,327.4 215.39,328.29 216.38,328.44 215.66,329.13 215.83,330.11 214.95,329.65 214.07,330.11 214.24,329.13 213.52,328.44 214.51,328.29" fill="#111"/>
<polygon points="229.9,327.4 230.34,328.29 231.33,328.44 230.61,329.13 230.78,330.11 229.9,329.65 229.02,330.11 229.19,329.13 228.47,328.44 229.46,328.29" fill="#111"/>
<polygon points="244.9,327.4 245.34,328.29 246.33,328.44 245.61,329.13 245.78,330.11 244.9,329.65 244.02,330.11 244.19,329.13 243.47,328.44 244.46,328.29" fill="#111"/>
<line x1="204.9" y1="328.9" x2="207.5" y2="328.9" stroke="#111" stroke-width="0.7" />
<text x="203.9" y="330.41" font-size="4.2" font-weight="bold" text-anchor="end" fill="#111" stroke="#111" stroke-width="0.16">Citrate</text>
<rect x="207.5" y="331.4" width="15.2" height="5.3" fill="#e0e091"/>
<rect x="222.4" y="331.4" width="15.3" height="5.3" fill="#e6e6a9"/>
<rect x="237.4" y="331.4" width="15.3" height="5.3" fill="#f1f1ce"/>
<rect x="252.4" y="331.4" width="15.3" height="5.3" fill="#fcfcf3"/>
<polygon points="214.95,332.4 215.39,333.29 216.38,333.44 215.66,334.13 215.83,335.11 214.95,334.65 214.07,335.11 214.24,334.13 213.52,333.44 214.51,333.29" fill="#111"/>
<polygon points="229.9,332.4 230.34,333.29 231.33,333.44 230.61,334.13 230.78,335.11 229.9,334.65 229.02,335.11 229.19,334.13 228.47,333.44 229.46,333.29" fill="#111"/>
<line x1="204.9" y1="333.9" x2="207.5" y2="333.9" stroke="#111" stroke-width="0.7" />
<text x="203.9" y="335.41" font-size="4.2" font-weight="bold" text-anchor="end" fill="#111" stroke="#111" stroke-width="0.16">Isocitrate</text>
<rect x="207.5" y="336.4" width="15.2" height="5.3" fill="#c899d5"/>
<rect x="222.4" y="336.4" width="15.3" height="5.3" fill="#ffffff"/>
<rect x="237.4" y="336.4" width="15.3" height="5.3" fill="#f1e6f4"/>
<rect x="252.4" y="336.4" width="15.3" height="5.3" fill="#fcfcf3"/>
<polygon points="214.95,337.4 215.39,338.29 216.38,338.44 215.66,339.13 215.83,340.11 214.95,339.65 214.07,340.11 214.24,339.13 213.52,338.44 214.51,338.29" fill="#111"/>
<line x1="204.9" y1="338.9" x2="207.5" y2="338.9" stroke="#111" stroke-width="0.7" />
<text x="203.9" y="340.41" font-size="4.2" font-weight="bold" text-anchor="end" fill="#111" stroke="#111" stroke-width="0.16">Ketoglutarate</text>
<rect x="207.5" y="341.4" width="15.2" height="5.3" fill="#f1f1ce"/>
<rect x="222.4" y="341.4" width="15.3" height="5.3" fill="#eaeab6"/>
<rect x="237.4" y="341.4" width="15.3" height="5.3" fill="#f4f4da"/>
<rect x="252.4" y="341.4" width="15.3" height="5.3" fill="#dcdc84"/>
<polygon points="229.9,342.4 230.34,343.29 231.33,343.44 230.61,344.13 230.78,345.11 229.9,344.65 229.02,345.11 229.19,344.13 228.47,343.44 229.46,343.29" fill="#111"/>
<polygon points="259.9,342.4 260.34,343.29 261.33,343.44 260.61,344.13 260.78,345.11 259.9,344.65 259.02,345.11 259.19,344.13 258.47,343.44 259.46,343.29" fill="#111"/>
<line x1="204.9" y1="343.9" x2="207.5" y2="343.9" stroke="#111" stroke-width="0.7" />
<text x="203.9" y="345.41" font-size="4.2" font-weight="bold" text-anchor="end" fill="#111" stroke="#111" stroke-width="0.16">2HG</text>
<rect x="207.5" y="346.4" width="15.2" height="5.3" fill="#efe0f2"/>
<rect x="222.4" y="346.4" width="15.3" height="5.3" fill="#fcfafd"/>
<rect x="237.4" y="346.4" width="15.3" height="5.3" fill="#e4ccea"/>
<rect x="252.4" y="346.4" width="15.3" height="5.3" fill="#fefefa"/>
<polygon points="244.9,347.4 245.34,348.29 246.33,348.44 245.61,349.13 245.78,350.11 244.9,349.65 244.02,350.11 244.19,349.13 243.47,348.44 244.46,348.29" fill="#111"/>
<line x1="204.9" y1="348.9" x2="207.5" y2="348.9" stroke="#111" stroke-width="0.7" />
<text x="203.9" y="350.41" font-size="4.2" font-weight="bold" text-anchor="end" fill="#111" stroke="#111" stroke-width="0.16">Succinate</text>
<rect x="207.5" y="351.4" width="15.2" height="5.3" fill="#fbf7fc"/>
<rect x="222.4" y="351.4" width="15.3" height="5.3" fill="#fbf7fc"/>
<rect x="237.4" y="351.4" width="15.3" height="5.3" fill="#f1e6f4"/>
<rect x="252.4" y="351.4" width="15.3" height="5.3" fill="#f1e6f4"/>
<line x1="204.9" y1="353.9" x2="207.5" y2="353.9" stroke="#111" stroke-width="0.7" />
<text x="203.9" y="355.41" font-size="4.2" font-weight="bold" text-anchor="end" fill="#111" stroke="#111" stroke-width="0.16">Fumarate</text>
<rect x="207.5" y="356.4" width="15.2" height="5.3" fill="#fdfdf8"/>
<rect x="222.4" y="356.4" width="15.3" height="5.3" fill="#fdfdf8"/>
<rect x="237.4" y="356.4" width="15.3" height="5.3" fill="#ddbfe5"/>
<rect x="252.4" y="356.4" width="15.3" height="5.3" fill="#e4ccea"/>
<polygon points="244.9,357.4 245.34,358.29 246.33,358.44 245.61,359.13 245.78,360.11 244.9,359.65 244.02,360.11 244.19,359.13 243.47,358.44 244.46,358.29" fill="#111"/>
<polygon points="259.9,357.4 260.34,358.29 261.33,358.44 260.61,359.13 260.78,360.11 259.9,359.65 259.02,360.11 259.19,359.13 258.47,358.44 259.46,358.29" fill="#111"/>
<line x1="204.9" y1="358.9" x2="207.5" y2="358.9" stroke="#111" stroke-width="0.7" />
<text x="203.9" y="360.41" font-size="4.2" font-weight="bold" text-anchor="end" fill="#111" stroke="#111" stroke-width="0.16">Malate</text>
<line x1="237.4" y1="321.4" x2="237.4" y2="361.4" stroke="#111" stroke-width="0.9" />
<rect x="207.5" y="321.4" width="59.9" height="40" fill="none" stroke="#111" stroke-width="1"/>
<rect x="269.3" y="346.2" width="6.7" height="14.7" fill="url(#cbgrad)" stroke="#111" stroke-width="0.8"/>
<line x1="276" y1="348.3" x2="277" y2="348.3" stroke="#111" stroke-width="0.5" />
<text x="278.5" y="349.81" font-size="4.2" fill="#222">1</text>
<line x1="276" y1="353.5" x2="277" y2="353.5" stroke="#111" stroke-width="0.5" />
<text x="278.5" y="355.01" font-size="4.2" fill="#222">0</text>
<line x1="276" y1="358.4" x2="277" y2="358.4" stroke="#111" stroke-width="0.5" />
<text x="278.5" y="359.91" font-size="4.2" fill="#222">-1</text>
<text x="5.5" y="13.4" font-size="13.5" font-weight="bold" text-anchor="middle">A</text>
<line x1="41" y1="71.3" x2="254" y2="71.3" stroke="#555" stroke-width="1" />
<path d="M33.66 26.43 L30.34 28.3 L28.99 29.96 L27.33 35.04 L24.84 42.31 L23.39 45.31 L24.53 45.94 L25.77 43.03 L27.95 37.84 L29.3 34.32 L30.13 35.04 L31.17 39.19 L30.65 42.83 L30.75 48.01 L31.38 54.24 L31.69 59.63 L31.17 61.5 L33.45 61.5 L33.55 57.35 L33.66 51.12 L34.28 45.42 L34.8 44.48 L35.32 45.42 L35.94 51.12 L36.04 57.35 L36.15 61.5 L38.43 61.5 L37.91 59.63 L38.22 54.24 L38.85 48.01 L38.95 42.83 L38.43 39.19 L39.47 35.04 L40.3 34.32 L41.65 37.84 L43.83 43.03 L45.07 45.94 L46.21 45.31 L44.76 42.31 L42.27 35.04 L40.61 29.96 L39.26 28.3 L35.94 26.43 Z" fill="#f5f5f5" stroke="#e0e0e0" stroke-width="0.5"/>
<ellipse cx="34.8" cy="23.11" rx="2.59" ry="3.22" fill="#f5f5f5" stroke="#e0e0e0" stroke-width="0.5"/>
<path d="M30.86 39.51 L34.33 39.51 L33.87 48.64 L31.69 49.05 Z" fill="#c0504d" opacity="0.85"/>
<line x1="12.2" y1="36.2" x2="23.4" y2="50.6" stroke="#555" stroke-width="1.5" stroke-linecap="round"/>
<line x1="12.2" y1="36.2" x2="23.4" y2="50.6" stroke="#e8e8e8" stroke-width="0.5" />
<circle cx="23.4" cy="50.6" r="1.3" fill="#d9534f"/>
<path d="M30.5 45.2 Q28 41.5 24.6 47.6" fill="none" stroke="#111" stroke-width="0.8"/>
<path d="M24.31 48.12 L24.54 45.8 L26.16 46.7 Z" fill="#111"/>
<rect x="8.1" y="43.1" width="7" height="7.2" fill="#a092cc" stroke="#8a8a8a" stroke-width="0.3"/>
<text x="11.6" y="48.86" font-size="6" font-weight="bold" text-anchor="middle" fill="#111">M</text>
<rect x="8.1" y="50.4" width="7" height="7.2" fill="#8fcf85" stroke="#8a8a8a" stroke-width="0.3"/>
<text x="11.6" y="56.16" font-size="6" font-weight="bold" text-anchor="middle" fill="#111">T</text>
<rect x="8.1" y="57.7" width="7" height="7.2" fill="#f4aa72" stroke="#8a8a8a" stroke-width="0.3"/>
<text x="11.6" y="63.46" font-size="6" font-weight="bold" text-anchor="middle" fill="#111">P</text>
<text x="23.8" y="55.3" font-size="3" font-weight="bold" text-anchor="middle" fill="#222">Biopsy #1</text>
<text x="23.8" y="58.8" font-size="3" font-weight="bold" text-anchor="middle" fill="#222">"Pre Sed"</text>
<text x="75.4" y="14.9" font-size="5.2" text-anchor="middle" fill="#111" textLength="53.6" lengthAdjust="spacingAndGlyphs">Acute One-legged Exercise</text>
<rect x="48.4" y="16.4" width="54.4" height="37.1" fill="#fff" stroke="#333" stroke-width="1.1"/>
<text x="48.9" y="22.2" font-size="6.3" font-weight="bold" fill="#d03a30" textLength="10.2" lengthAdjust="spacingAndGlyphs">AAE</text>
<text x="78.9" y="22.2" font-size="6.3" font-weight="bold" fill="#4a90d9" textLength="10" lengthAdjust="spacingAndGlyphs">ARE</text>
<path d="M55.6 34.3 L59.4 34.3" fill="none" stroke="#a82424" stroke-width="1.2" stroke-linecap="round"/>
<path d="M68.2 34.3 L72.0 34.3" fill="none" stroke="#a82424" stroke-width="1.2" stroke-linecap="round"/>
<path d="M58.4 26.4 L60.6 30.6 L57.4 34.0" fill="none" stroke="#a82424" stroke-width="1.2" stroke-linejoin="round"/>
<path d="M68.0 22.6 L66.6 25.8 L63.6 30.6 L60.6 30.6" fill="none" stroke="#a82424" stroke-width="1.2" stroke-linejoin="round"/>
<circle cx="67.8" cy="31.1" r="2.3" fill="#a82424"/>
<circle cx="67.8" cy="31.1" r="0.7" fill="#f3c7c0"/>
<path d="M67.8 31.1 L70.4 34.2" fill="none" stroke="#a82424" stroke-width="1.1"/>
<path d="M63.6 30.6 L66.0 31.4" fill="none" stroke="#a82424" stroke-width="1.4"/>
<path d="M57.3 26.3 L60.0 26.3" fill="none" stroke="#a82424" stroke-width="1"/>
<circle cx="65.25" cy="20.2" r="1.6" fill="#e0785c"/>
<path d="M63.4 22.1 L60.5 25.4" fill="none" stroke="#e0785c" stroke-width="2.8" stroke-linecap="round"/>
<path d="M63.6 22.4 L67.6 23.4" fill="none" stroke="#e0785c" stroke-width="1.1" stroke-linecap="round"/>
<path d="M60.6 25.6 L63.8 26.2 L62.2 31.2" fill="none" stroke="#e0785c" stroke-width="1.6" stroke-linecap="round" stroke-linejoin="round"/>
<path d="M60.8 26.0 L62.0 28.6 L64.8 30.8" fill="none" stroke="#c85a44" stroke-width="1.3" stroke-linecap="round" stroke-linejoin="round"/>
<text x="75.2" y="28.6" font-size="3.2" text-anchor="middle" fill="#333">- or -</text>
<rect x="89.6" y="19.3" width="7.8" height="14.8" rx="1.2" fill="#6f9db4"/>
<line x1="90.8" y1="20.5" x2="90.8" y2="33.2" stroke="#a9c8d6" stroke-width="0.6" />
<line x1="92.6" y1="20.5" x2="92.6" y2="33.2" stroke="#a9c8d6" stroke-width="0.6" />
<line x1="94.4" y1="20.5" x2="94.4" y2="33.2" stroke="#a9c8d6" stroke-width="0.6" />
<line x1="96.2" y1="20.5" x2="96.2" y2="33.2" stroke="#a9c8d6" stroke-width="0.6" />
<rect x="87.9" y="33.9" width="10.9" height="1" fill="#3a607c"/>
<path d="M97.6 25.5 L98.6 26.5 L97.8 32.5 L96.6 32.5 Z" fill="#3f6c88"/>
<circle cx="97.4" cy="21" r="1.6" fill="#3a8fe3"/>
<path d="M96.9 22.3 L95.3 29.4" fill="none" stroke="#3a8fe3" stroke-width="2.2" stroke-linecap="round"/>
<path d="M95.6 25.4 L90.0 26.8 L85.6 27.8" fill="none" stroke="#3a8fe3" stroke-width="1.6" stroke-linecap="round" stroke-linejoin="round"/>
<circle cx="85" cy="27.9" r="1.1" fill="#4a9ae8"/>
<rect x="85" y="26.4" width="1.4" height="0.9" fill="#556"/>
<path d="M95.3 29.4 L92.5 30.2" fill="none" stroke="#3a8fe3" stroke-width="1.4" stroke-linecap="round"/>
<text x="64.7" y="38.6" font-size="4.4" font-weight="bold" text-anchor="middle" fill="#c8322c" textLength="27.2" lengthAdjust="spacingAndGlyphs" stroke="#c8322c" stroke-width="0.12">10 sets of HIIT with</text>
<text x="64.7" y="42.35" font-size="4.4" font-weight="bold" text-anchor="middle" fill="#c8322c" textLength="27.6" lengthAdjust="spacingAndGlyphs" stroke="#c8322c" stroke-width="0.12">4-minute intervals at</text>
<text x="64.7" y="46.1" font-size="4.4" font-weight="bold" text-anchor="middle" fill="#c8322c" textLength="22.1" lengthAdjust="spacingAndGlyphs" stroke="#c8322c" stroke-width="0.12">85-95% VO₂max</text>
<text x="64.6" y="49.3" font-size="3.3" text-anchor="middle" fill="#222" textLength="20.1" lengthAdjust="spacingAndGlyphs">n = 10 (6♂, 4♀)</text>
<text x="64.8" y="52" font-size="3.3" text-anchor="middle" fill="#222" textLength="18" lengthAdjust="spacingAndGlyphs">mean age: 56</text>
<text x="91.7" y="38.6" font-size="4.4" font-weight="bold" text-anchor="middle" fill="#3a8ee0" textLength="17.1" lengthAdjust="spacingAndGlyphs" stroke="#3a8ee0" stroke-width="0.12">3 sets of 10</text>
<text x="91.7" y="42.35" font-size="4.4" font-weight="bold" text-anchor="middle" fill="#3a8ee0" textLength="16.9" lengthAdjust="spacingAndGlyphs" stroke="#3a8ee0" stroke-width="0.12">reps at 70%</text>
<text x="91.7" y="46.1" font-size="4.4" font-weight="bold" text-anchor="middle" fill="#3a8ee0" textLength="7.8" lengthAdjust="spacingAndGlyphs" stroke="#3a8ee0" stroke-width="0.12">1-RM</text>
<text x="91.4" y="49.3" font-size="3.3" text-anchor="middle" fill="#222" textLength="21.3" lengthAdjust="spacingAndGlyphs">n = 15 (3♂, 12♀)</text>
<text x="91.3" y="52" font-size="3.3" text-anchor="middle" fill="#222" textLength="18.8" lengthAdjust="spacingAndGlyphs">mean age: 55</text>
<path d="M65.3 54.2 L69.1 54.2 L69.1 59.2 L70.6 59.2 L67.2 63.4 L63.8 59.2 L65.3 59.2 Z" fill="#bdbdbd" stroke="#555" stroke-width="0.6"/>
<rect x="59.2" y="64.2" width="15.5" height="14.2" fill="#cfcfcf" stroke="#555" stroke-width="0.8" rx="1"/>
<text x="67" y="70.4" font-size="3" font-weight="bold" text-anchor="middle" fill="#222">Acute</text>
<text x="67" y="73.9" font-size="3" font-weight="bold" text-anchor="middle" fill="#222">Exercise</text>
<circle cx="34.6" cy="71.1" r="7.3" fill="#f1f4f7" stroke="#333" stroke-width="0.8"/>
<text x="34.6" y="70.7" font-size="3.2" font-weight="bold" text-anchor="middle" fill="#111">Pre</text>
<text x="34.6" y="74.6" font-size="3.2" font-weight="bold" text-anchor="middle" fill="#111">Exercise</text>
<circle cx="84" cy="71.1" r="7.3" fill="#f1f4f7" stroke="#333" stroke-width="0.8"/>
<text x="84" y="70.7" font-size="3.2" font-weight="bold" text-anchor="middle" fill="#111">1-min</text>
<text x="84" y="74.6" font-size="3.2" font-weight="bold" text-anchor="middle" fill="#111">Post</text>
<circle cx="114.9" cy="71.3" r="7.3" fill="#f1f4f7" stroke="#333" stroke-width="0.8"/>
<text x="114.9" y="70.9" font-size="3.2" font-weight="bold" text-anchor="middle" fill="#111">10-min</text>
<text x="114.9" y="74.8" font-size="3.2" font-weight="bold" text-anchor="middle" fill="#111">Post</text>
<circle cx="172" cy="71.3" r="7.3" fill="#f1f4f7" stroke="#333" stroke-width="0.8"/>
<text x="172" y="70.9" font-size="3.2" font-weight="bold" text-anchor="middle" fill="#111">30-min</text>
<text x="172" y="74.8" font-size="3.2" font-weight="bold" text-anchor="middle" fill="#111">Post</text>
<circle cx="261.5" cy="71.3" r="7.3" fill="#f1f4f7" stroke="#333" stroke-width="0.8"/>
<text x="261.5" y="70.9" font-size="3.2" font-weight="bold" text-anchor="middle" fill="#111">60-min</text>
<text x="261.5" y="74.8" font-size="3.2" font-weight="bold" text-anchor="middle" fill="#111">Post</text>
<path d="M34.6 79.7 C34.9 81.8 37.19 82.85 37.19 84.46 A2.59 2.59 0 1 1 32.01 84.46 C32.01 82.85 34.3 81.8 34.6 79.7 Z" fill="#a3191c"/>
<rect x="31.2" y="86.7" width="6.8" height="7" fill="#a092cc" stroke="#8a8a8a" stroke-width="0.3"/>
<text x="34.6" y="92.36" font-size="6" font-weight="bold" text-anchor="middle" fill="#111">M</text>
<path d="M84 79.7 C84.3 81.8 86.59 82.85 86.59 84.46 A2.59 2.59 0 1 1 81.41 84.46 C81.41 82.85 83.7 81.8 84 79.7 Z" fill="#a3191c"/>
<rect x="80.6" y="86.7" width="6.8" height="7" fill="#a092cc" stroke="#8a8a8a" stroke-width="0.3"/>
<text x="84" y="92.36" font-size="6" font-weight="bold" text-anchor="middle" fill="#111">M</text>
<path d="M172 79.7 C172.3 81.8 174.59 82.85 174.59 84.46 A2.59 2.59 0 1 1 169.41 84.46 C169.41 82.85 171.7 81.8 172 79.7 Z" fill="#a3191c"/>
<rect x="168.6" y="86.7" width="6.8" height="7" fill="#a092cc" stroke="#8a8a8a" stroke-width="0.3"/>
<text x="172" y="92.36" font-size="6" font-weight="bold" text-anchor="middle" fill="#111">M</text>
<path d="M261.5 79.7 C261.8 81.8 264.09 82.85 264.09 84.46 A2.59 2.59 0 1 1 258.91 84.46 C258.91 82.85 261.2 81.8 261.5 79.7 Z" fill="#a3191c"/>
<rect x="258.1" y="86.7" width="6.8" height="7" fill="#a092cc" stroke="#8a8a8a" stroke-width="0.3"/>
<text x="261.5" y="92.36" font-size="6" font-weight="bold" text-anchor="middle" fill="#111">M</text>
<path d="M114.37 25.96 L111.09 27.8 L109.76 29.44 L108.12 34.46 L105.66 41.64 L104.22 44.61 L105.35 45.22 L106.58 42.36 L108.73 37.23 L110.07 33.75 L110.89 34.46 L111.91 38.56 L111.4 42.15 L111.5 47.27 L112.12 53.42 L112.42 58.76 L111.91 60.6 L114.17 60.6 L114.27 56.5 L114.37 50.35 L114.99 44.71 L115.5 43.79 L116.01 44.71 L116.63 50.35 L116.73 56.5 L116.83 60.6 L119.09 60.6 L118.58 58.76 L118.88 53.42 L119.5 47.27 L119.6 42.15 L119.09 38.56 L120.11 34.46 L120.93 33.75 L122.27 37.23 L124.42 42.36 L125.65 45.22 L126.78 44.61 L125.34 41.64 L122.88 34.46 L121.24 29.44 L119.91 27.8 L116.63 25.96 Z" fill="#f5f5f5" stroke="#e0e0e0" stroke-width="0.5"/>
<ellipse cx="115.5" cy="22.68" rx="2.56" ry="3.18" fill="#f5f5f5" stroke="#e0e0e0" stroke-width="0.5"/>
<path d="M119.39 38.87 L115.96 38.87 L116.42 47.89 L118.58 48.3 Z" fill="#c0504d" opacity="0.85"/>
<line x1="138.3" y1="35.9" x2="127.4" y2="51.3" stroke="#555" stroke-width="1.5" stroke-linecap="round"/>
<line x1="138.3" y1="35.9" x2="127.4" y2="51.3" stroke="#e8e8e8" stroke-width="0.5" />
<circle cx="127.4" cy="51.3" r="1.3" fill="#d9534f"/>
<path d="M120.2 45 Q123.5 41.5 126 47.2" fill="none" stroke="#111" stroke-width="0.8"/>
<path d="M126.24 47.75 L124.53 46.16 L126.23 45.41 Z" fill="#111"/>
<rect x="135.9" y="42.2" width="7.8" height="7.8" fill="#a092cc" stroke="#8a8a8a" stroke-width="0.3"/>
<text x="139.8" y="48.48" font-size="6.6" font-weight="bold" text-anchor="middle" fill="#111">M</text>
<rect x="135.9" y="50" width="7.8" height="7.4" fill="#f4aa72" stroke="#8a8a8a" stroke-width="0.3"/>
<text x="139.8" y="56.08" font-size="6.6" font-weight="bold" text-anchor="middle" fill="#111">P</text>
<text x="127.2" y="56" font-size="3" font-weight="bold" text-anchor="middle" fill="#222">Biopsy #2</text>
<text x="127.2" y="59.5" font-size="3" font-weight="bold" text-anchor="middle" fill="#222">"10min Ex"</text>
<rect x="166.3" y="20.6" width="45.2" height="34.2" fill="#e6e6e6" stroke="#8a8a8a" stroke-width="0.6" rx="3"/>
<text x="188.3" y="24.6" font-size="4.4" font-weight="bold" text-anchor="middle" fill="#111">Legend</text>
<line x1="182" y1="25.3" x2="194.6" y2="25.3" stroke="#111" stroke-width="0.4" />
<line x1="169.2" y1="29.6" x2="172.4" y2="25.6" stroke="#555" stroke-width="0.6" />
<circle cx="169.2" cy="29.4" r="0.6" fill="#d9534f"/>
<path d="M170.5 31.3 C170.8 32.26 171.68 32.74 171.68 33.48 A1.18 1.18 0 1 1 169.32 33.48 C169.32 32.74 170.2 32.26 170.5 31.3 Z" fill="#a3191c"/>
<rect x="168" y="35.6" width="4.8" height="4.6" fill="#a092cc" stroke="#8a8a8a" stroke-width="0.3"/>
<text x="170.4" y="39.34" font-size="4" font-weight="bold" text-anchor="middle" fill="#111">M</text>
<rect x="168" y="41.1" width="4.8" height="4.6" fill="#8fcf85" stroke="#8a8a8a" stroke-width="0.3"/>
<text x="170.4" y="44.84" font-size="4" font-weight="bold" text-anchor="middle" fill="#111">T</text>
<rect x="168" y="46.6" width="4.8" height="4.6" fill="#f4aa72" stroke="#8a8a8a" stroke-width="0.3"/>
<text x="170.4" y="50.34" font-size="4" font-weight="bold" text-anchor="middle" fill="#111">P</text>
<text x="173.9" y="28.6" font-size="2.95" font-weight="bold" fill="#222">Muscle Biopsy Sample</text>
<text x="173.9" y="34.1" font-size="2.95" font-weight="bold" fill="#222">Plasma Sample</text>
<text x="173.9" y="39.1" font-size="2.95" font-weight="bold" fill="#222">Metabolomics Analysis</text>
<text x="173.9" y="44.6" font-size="2.95" font-weight="bold" fill="#222">Transcriptomics Analysis</text>
<text x="173.9" y="49.4" font-size="2.95" font-weight="bold" fill="#222">PTM Analysis</text>
<text x="173.9" y="53" font-size="2.95" font-weight="bold" fill="#222">(phospho and acetyl)</text>
<path d="M260.39 26.48 L257.15 28.3 L255.83 29.92 L254.21 34.88 L251.78 41.97 L250.36 44.91 L251.48 45.51 L252.69 42.68 L254.82 37.61 L256.13 34.17 L256.94 34.88 L257.96 38.93 L257.45 42.47 L257.55 47.54 L258.16 53.61 L258.46 58.88 L257.96 60.7 L260.18 60.7 L260.29 56.65 L260.39 50.58 L260.99 45.01 L261.5 44.09 L262.01 45.01 L262.61 50.58 L262.71 56.65 L262.82 60.7 L265.04 60.7 L264.54 58.88 L264.84 53.61 L265.45 47.54 L265.55 42.47 L265.04 38.93 L266.06 34.88 L266.87 34.17 L268.18 37.61 L270.31 42.68 L271.52 45.51 L272.64 44.91 L271.22 41.97 L268.79 34.88 L267.17 29.92 L265.85 28.3 L262.61 26.48 Z" fill="#f5f5f5" stroke="#e0e0e0" stroke-width="0.5"/>
<ellipse cx="261.5" cy="23.24" rx="2.53" ry="3.14" fill="#f5f5f5" stroke="#e0e0e0" stroke-width="0.5"/>
<path d="M257.65 39.23 L261.04 39.23 L260.59 48.14 L258.46 48.55 Z" fill="#c0504d" opacity="0.85"/>
<path d="M265.35 39.23 L261.96 39.23 L262.41 48.14 L264.54 48.55 Z" fill="#c0504d" opacity="0.85"/>
<line x1="238.6" y1="35.9" x2="249.5" y2="51.3" stroke="#555" stroke-width="1.5" stroke-linecap="round"/>
<line x1="238.6" y1="35.9" x2="249.5" y2="51.3" stroke="#e8e8e8" stroke-width="0.5" />
<circle cx="249.5" cy="51.3" r="1.3" fill="#d9534f"/>
<line x1="285" y1="35.9" x2="273.5" y2="51.3" stroke="#555" stroke-width="1.5" stroke-linecap="round"/>
<line x1="285" y1="35.9" x2="273.5" y2="51.3" stroke="#e8e8e8" stroke-width="0.5" />
<circle cx="273.5" cy="51.3" r="1.3" fill="#d9534f"/>
<path d="M257 45 Q254 41.5 250.6 47" fill="none" stroke="#111" stroke-width="0.8"/>
<path d="M250.28 47.51 L250.62 45.2 L252.2 46.18 Z" fill="#111"/>
<path d="M266 45 Q269 41.5 272.4 47" fill="none" stroke="#111" stroke-width="0.8"/>
<path d="M272.72 47.51 L270.8 46.18 L272.38 45.2 Z" fill="#111"/>
<rect x="234.2" y="43.8" width="7.2" height="7.2" fill="#a092cc" stroke="#8a8a8a" stroke-width="0.3"/>
<text x="237.8" y="49.7" font-size="6.4" font-weight="bold" text-anchor="middle" fill="#111">M</text>
<rect x="282.3" y="43" width="7.2" height="7.2" fill="#a092cc" stroke="#8a8a8a" stroke-width="0.3"/>
<text x="285.9" y="48.9" font-size="6.4" font-weight="bold" text-anchor="middle" fill="#111">M</text>
<rect x="282.3" y="50.2" width="7.2" height="7.2" fill="#8fcf85" stroke="#8a8a8a" stroke-width="0.3"/>
<text x="285.9" y="56.1" font-size="6.4" font-weight="bold" text-anchor="middle" fill="#111">T</text>
<text x="249" y="56.6" font-size="3" font-weight="bold" text-anchor="middle" fill="#222">Biopsy #4</text>
<text x="249" y="60.1" font-size="3" font-weight="bold" text-anchor="middle" fill="#222">"60min Sed"</text>
<text x="273" y="56.6" font-size="3" font-weight="bold" text-anchor="middle" fill="#222">Biopsy #3</text>
<text x="273" y="60.1" font-size="3" font-weight="bold" text-anchor="middle" fill="#222">"60min Ex"</text>
<text x="295.3" y="13.6" font-size="14.2" font-weight="bold" text-anchor="middle">B</text>
<line x1="332.6" y1="16.8" x2="332.6" y2="102.4" stroke="#c8c8c8" stroke-width="0.5" />
<line x1="339.3" y1="16.8" x2="339.3" y2="102.4" stroke="#c8c8c8" stroke-width="0.5" />
<line x1="314.9" y1="99.4" x2="400.46" y2="99.4" stroke="#c8c8c8" stroke-width="0.5" />
<path d="M327.3 99.7h0M334.6 99.9h0M328.2 99.6h0M323.2 99.8h0M330.1 99.3h0M321.8 100.3h0M321.7 99.2h0M331.0 101.4h0M335.5 99.0h0M330.4 99.6h0M322.7 101.7h0M328.5 101.3h0M323.2 100.5h0M320.8 99.9h0M327.1 99.2h0M328.3 99.5h0M328.0 99.5h0M327.4 100.4h0M335.8 98.9h0M333.3 99.4h0M325.2 100.6h0M324.8 101.3h0M332.2 100.1h0M333.4 100.1h0M335.1 99.2h0M320.3 100.6h0M334.4 99.9h0M335.5 100.1h0M321.4 99.6h0M332.4 100.4h0M321.7 100.3h0M335.2 99.3h0M322.1 100.5h0M321.9 101.3h0M332.7 100.8h0M329.0 100.0h0M323.3 99.4h0M322.3 99.5h0M322.1 100.0h0M323.6 100.4h0M335.3 99.2h0M325.0 99.1h0M323.6 100.1h0M333.5 99.5h0M321.9 98.9h0M323.6 100.5h0M332.3 100.3h0M324.9 101.2h0M321.7 99.7h0M324.1 99.6h0M326.1 99.9h0M335.2 99.9h0M329.2 99.1h0M323.1 100.8h0M334.4 99.2h0M324.2 100.7h0M331.8 99.0h0M323.3 99.0h0M334.0 99.6h0M326.8 101.1h0M320.9 99.0h0M324.0 99.4h0M324.3 99.2h0M329.5 100.4h0M323.0 99.4h0M321.4 100.6h0M329.0 99.1h0M329.8 100.4h0M334.5 100.7h0M320.6 100.4h0M327.2 101.3h0M323.0 100.2h0M329.2 100.9h0M325.9 99.1h0M335.5 99.5h0M331.0 99.7h0M322.5 101.5h0M320.6 99.0h0M331.2 99.0h0M320.6 99.5h0M327.8 99.4h0M325.2 98.9h0M321.5 99.7h0M331.7 99.1h0M331.7 99.4h0M332.6 99.0h0M325.8 99.5h0M334.3 99.1h0M326.8 99.3h0M333.7 99.7h0M330.0 100.1h0M329.3 99.6h0M321.5 99.5h0M335.7 99.1h0M331.6 100.1h0M331.7 99.7h0M327.1 99.2h0M321.6 99.3h0M320.8 99.6h0M327.8 100.6h0M331.1 99.8h0M329.8 99.0h0M324.3 101.8h0M325.0 99.5h0M323.4 100.8h0M334.3 99.5h0M327.1 99.1h0M325.4 99.5h0M323.4 100.0h0M332.8 99.0h0M333.9 100.1h0M329.3 100.3h0M322.4 99.8h0M333.3 99.2h0M331.3 99.0h0M324.6 100.8h0M327.3 100.4h0M323.6 100.0h0M330.0 99.9h0M325.2 99.2h0M361.6 98.9h0M337.2 101.4h0M357.3 101.3h0M351.5 98.4h0M340.7 97.6h0M336.8 100.5h0M344.0 101.5h0M355.7 99.9h0M337.9 101.3h0M349.0 98.9h0M349.0 98.1h0M354.9 97.0h0M350.7 100.1h0M344.6 100.2h0M336.8 98.8h0M351.7 100.2h0M340.0 99.4h0M351.1 98.6h0M348.5 97.7h0M342.5 97.6h0M358.6 100.9h0M359.6 97.8h0M337.8 98.9h0M348.8 97.2h0M342.1 98.4h0M357.6 97.6h0M360.1 98.8h0M349.6 100.1h0M351.9 97.5h0M349.3 97.8h0M339.0 97.2h0M361.5 97.0h0M346.2 97.6h0M340.9 97.2h0M356.7 99.3h0M337.3 98.9h0M346.6 97.7h0M344.9 101.5h0M355.0 101.1h0M354.6 100.3h0M341.2 97.6h0M337.9 100.4h0M345.7 97.8h0M356.1 97.9h0M360.1 98.7h0M360.3 100.9h0M339.1 98.6h0M340.3 97.8h0M349.3 98.6h0M356.2 98.4h0M340.7 99.2h0M356.3 97.2h0M338.9 97.4h0M361.0 98.6h0M347.3 100.1h0M346.2 98.7h0M348.2 101.5h0M361.1 98.6h0M342.7 97.5h0M347.0 98.7h0M350.9 101.1h0M346.3 99.0h0M360.6 97.1h0M339.9 98.8h0M337.7 99.0h0M355.2 97.2h0M344.6 99.5h0M338.6 98.2h0M359.3 100.6h0M353.9 101.6h0M338.7 100.0h0M350.8 99.5h0M341.7 98.2h0M337.5 97.8h0M337.7 98.6h0M339.6 100.1h0M346.0 98.9h0M342.1 99.0h0M346.0 100.4h0M338.8 98.2h0M349.2 98.5h0M356.5 98.2h0M356.7 99.9h0M352.6 97.5h0M358.4 99.5h0M340.8 97.1h0M339.0 96.9h0M357.9 100.5h0M339.4 97.8h0M339.7 100.8h0M355.8 99.0h0M354.3 100.6h0M342.8 98.0h0M336.8 100.1h0M350.6 97.2h0M361.0 100.7h0M345.4 97.7h0M345.3 98.0h0M338.6 101.0h0M337.5 101.4h0M346.6 98.6h0M347.1 100.5h0M338.5 100.1h0M356.1 96.9h0M359.4 100.8h0M337.1 97.1h0M344.2 97.7h0M341.1 98.8h0M345.6 99.0h0M348.1 101.7h0M351.2 97.4h0M338.5 98.9h0M352.5 99.1h0M338.7 100.3h0M345.6 101.7h0M358.1 97.5h0M351.4 97.3h0M349.0 99.1h0M348.0 98.7h0M361.6 97.5h0M339.7 97.2h0M352.7 97.6h0M355.2 99.1h0M358.2 97.3h0M351.0 97.7h0M353.4 99.1h0M352.0 101.0h0M341.4 98.8h0M336.8 99.3h0M349.2 98.2h0M339.3 97.1h0M350.1 99.4h0M349.9 98.4h0M346.1 99.1h0M362.3 98.1h0M351.3 97.7h0M361.5 101.6h0M348.5 97.8h0M339.7 99.1h0M337.0 100.1h0" stroke="#a6a6a6" stroke-width="1.1" stroke-linecap="round"/>
<path d="M340.1 98.0h0M342.6 95.7h0M342.7 70.0h0M345.7 99.2h0M344.8 99.4h0M340.3 96.1h0M342.2 94.4h0M365.8 89.1h0M343.0 97.1h0M343.5 95.0h0M344.2 97.7h0M342.2 98.8h0M344.8 96.9h0M344.7 99.3h0M350.1 99.2h0M341.7 96.0h0M340.7 95.5h0M344.3 96.1h0M345.8 94.5h0M343.2 96.2h0M339.9 95.4h0M341.8 93.5h0M340.8 94.8h0M345.1 95.4h0M350.7 92.2h0M340.1 87.2h0M343.2 97.1h0M343.9 95.0h0M343.3 91.8h0M340.7 77.9h0M347.3 99.4h0M342.5 89.0h0M340.1 95.3h0M340.5 77.9h0M343.3 97.0h0M340.6 97.3h0M346.3 99.2h0M345.7 94.2h0M340.6 96.5h0M345.7 97.1h0M356.0 97.4h0M344.6 85.5h0M341.4 99.1h0M340.0 99.1h0M342.1 93.2h0M345.1 99.2h0M343.6 99.1h0M344.3 93.0h0M340.3 97.2h0M341.3 98.9h0M342.7 85.7h0M348.5 96.4h0M341.0 97.5h0M349.5 87.1h0M341.3 97.1h0M341.5 96.9h0M342.7 90.7h0M346.2 95.0h0M344.8 87.8h0M339.8 95.6h0M342.7 80.7h0M345.6 99.2h0M345.3 99.1h0M351.7 55.4h0M348.7 96.6h0M343.5 98.1h0M344.9 95.5h0M341.5 97.3h0M343.7 95.8h0M344.3 92.8h0M341.6 89.9h0M346.6 90.5h0M347.6 82.0h0M342.4 92.7h0M341.7 96.6h0M344.6 73.4h0M340.4 98.3h0M340.9 80.2h0M343.0 97.3h0M345.1 98.5h0M345.2 82.7h0M339.8 99.0h0M340.6 98.1h0M343.0 98.2h0M340.9 98.6h0M341.0 95.2h0M342.1 97.9h0M348.5 97.3h0M351.0 96.0h0M339.9 83.2h0M341.4 95.4h0M340.9 73.9h0M340.7 99.6h0M341.4 90.8h0M343.1 98.7h0M341.1 97.9h0M342.3 94.0h0M340.8 95.4h0M345.0 99.6h0M346.4 90.0h0M342.5 75.3h0M342.1 96.1h0M342.9 88.8h0M345.3 96.6h0M340.0 89.9h0M342.5 95.5h0M346.1 97.5h0M340.0 97.6h0M344.2 97.1h0M340.1 96.8h0M352.0 89.8h0M339.7 97.0h0M340.7 95.0h0M339.7 73.0h0M340.5 94.3h0M341.4 95.3h0M341.2 96.8h0M340.8 98.4h0M341.1 83.5h0M344.3 97.4h0M340.0 98.8h0M343.8 92.8h0M341.6 89.5h0M340.0 98.2h0M340.2 96.7h0M362.5 88.9h0M343.5 91.5h0M341.5 97.4h0M339.8 96.8h0M354.2 90.9h0M343.1 99.5h0M341.2 93.8h0M341.4 95.7h0M346.0 94.4h0M344.9 86.6h0M341.3 95.8h0M344.2 75.5h0M344.2 89.6h0M350.1 94.1h0M340.0 98.1h0M344.0 97.4h0M341.3 96.2h0M352.8 98.8h0M342.5 95.0h0M340.8 86.3h0M345.8 94.5h0M346.0 97.7h0M340.7 94.9h0M340.4 95.2h0M340.0 95.8h0M349.8 93.6h0M343.7 92.2h0M342.9 90.6h0M341.7 87.5h0M341.5 94.9h0M342.3 97.9h0M341.2 93.9h0M349.7 96.6h0M343.0 96.1h0M343.2 93.1h0M344.7 95.9h0M346.3 88.9h0M341.7 95.0h0M342.4 95.5h0M348.1 97.5h0M351.3 55.2h0M343.0 91.9h0M342.9 99.2h0M341.8 95.7h0M339.9 93.0h0M340.7 97.6h0M340.7 99.2h0M351.9 93.5h0M341.7 90.5h0M344.6 95.0h0M340.1 90.9h0M342.5 82.8h0M342.2 92.8h0M339.9 87.1h0M341.5 97.2h0M339.9 99.4h0M341.0 95.8h0M353.3 96.1h0M341.0 85.4h0M340.5 89.5h0M342.0 98.6h0M359.1 98.4h0M340.5 87.8h0M340.7 74.7h0M348.0 88.3h0M340.2 93.0h0M341.8 99.2h0M341.0 92.7h0M340.4 98.1h0M345.3 97.0h0M347.5 94.7h0M341.0 85.1h0M340.9 93.9h0M376.4 88.4h0M342.4 99.4h0M340.9 98.0h0M340.0 97.8h0M340.7 97.8h0M340.4 87.0h0M339.8 96.2h0M341.4 84.9h0M340.4 95.1h0M341.3 93.6h0M342.3 95.7h0M343.9 95.5h0M340.4 91.2h0M343.1 98.1h0M345.0 91.0h0M340.7 95.9h0M342.8 95.8h0M347.9 75.5h0M347.1 98.5h0M339.8 95.8h0M341.8 97.9h0M340.0 86.4h0M342.5 90.9h0M340.3 97.5h0M343.1 80.9h0M340.8 94.7h0M355.2 96.0h0M340.3 93.1h0M345.3 99.3h0M341.3 98.3h0M339.9 95.9h0M355.1 98.7h0M344.6 99.4h0M347.6 98.8h0M341.0 96.5h0M344.5 98.2h0M342.6 98.1h0M349.4 97.1h0M354.0 94.4h0M344.3 79.4h0M343.5 76.8h0M342.9 87.5h0M341.5 89.3h0M345.2 98.3h0M340.4 95.2h0M340.5 98.3h0M341.0 96.3h0M343.8 88.6h0M341.4 99.2h0M341.3 97.8h0M341.5 93.8h0M349.0 92.6h0M341.3 98.7h0M341.3 91.5h0M348.3 99.5h0M341.4 99.1h0M341.1 91.4h0M339.9 96.8h0M339.9 98.7h0M339.8 97.5h0M342.5 98.8h0M340.8 92.4h0M340.3 98.3h0M344.2 96.7h0M346.9 98.2h0M341.2 98.3h0M339.9 80.4h0M345.7 79.0h0M343.7 85.6h0M343.9 93.5h0M347.0 98.1h0M340.0 96.5h0M339.9 96.9h0M342.2 97.8h0M341.6 96.0h0M343.6 98.1h0M341.2 96.6h0M342.8 92.9h0M344.0 99.5h0M341.3 99.3h0M339.9 95.8h0M342.0 97.4h0M339.8 97.2h0M342.7 97.9h0M340.4 96.1h0M350.8 97.1h0M350.0 91.4h0M343.2 96.7h0M340.9 89.8h0M341.4 86.2h0M341.0 86.0h0M341.3 78.6h0M340.5 98.2h0M340.7 99.6h0M341.5 98.1h0M343.5 95.2h0M342.7 89.7h0M341.2 97.2h0M341.1 92.6h0M343.9 81.1h0M340.3 94.2h0M342.7 97.1h0M344.7 95.4h0M340.7 97.4h0M342.3 98.9h0M340.3 97.5h0M340.1 96.3h0M342.1 98.6h0M347.0 99.3h0M342.2 90.8h0M344.2 98.0h0M341.1 97.4h0M346.4 89.8h0M341.7 92.8h0M346.1 90.6h0M341.4 93.5h0M340.4 99.5h0M349.9 80.0h0M343.9 96.6h0M341.5 84.5h0M339.9 92.7h0M339.9 97.7h0M357.9 98.9h0M339.8 95.3h0M341.4 97.6h0M346.3 97.8h0M343.2 91.6h0M341.5 93.0h0M345.5 98.7h0M340.1 84.5h0M342.1 98.9h0M339.8 95.0h0M343.2 97.8h0M342.1 97.1h0M339.9 99.2h0M341.0 99.2h0M342.1 67.0h0M347.0 95.9h0M345.6 96.8h0M346.9 79.0h0M340.9 84.1h0M358.3 96.4h0M344.3 98.5h0M341.4 97.2h0M343.7 72.6h0M342.3 99.6h0M351.2 99.6h0M345.7 90.9h0M341.5 90.6h0M345.0 75.9h0M350.5 96.8h0M340.7 86.2h0M347.4 94.7h0M341.4 93.7h0M341.3 94.0h0M340.9 86.5h0M340.1 97.3h0M340.6 92.1h0M343.8 98.5h0M340.3 97.2h0M339.7 95.7h0M341.1 95.3h0M340.5 87.8h0M344.8 99.0h0M341.7 81.3h0M341.6 92.8h0M340.8 93.3h0M341.1 98.5h0M356.1 98.7h0M341.4 93.9h0M343.1 87.5h0M343.3 95.7h0M340.1 89.5h0M341.9 93.5h0M341.4 98.2h0M342.8 95.6h0M348.6 88.2h0M343.0 84.7h0M342.0 72.1h0M341.1 92.2h0M341.6 88.4h0M356.3 95.9h0M346.3 93.8h0M346.1 90.7h0M357.9 99.2h0M344.2 98.0h0M341.9 95.3h0M340.5 97.8h0M340.0 95.1h0M342.1 98.1h0M346.7 91.4h0M348.2 90.8h0M341.3 99.0h0M343.5 61.1h0M340.1 98.5h0M346.5 94.3h0M340.0 75.1h0M343.3 88.0h0M340.5 93.5h0M339.8 97.3h0M343.3 97.8h0M344.0 98.5h0M344.0 96.1h0M340.1 83.9h0M341.3 98.4h0M343.9 92.2h0M341.0 96.7h0M343.3 96.5h0M341.6 96.2h0M349.9 97.3h0M340.7 94.8h0M347.1 97.7h0M343.8 96.2h0M341.5 92.1h0M341.8 99.2h0M340.9 96.4h0M340.9 93.0h0M340.7 96.7h0M347.8 98.0h0M341.2 90.1h0M342.9 95.2h0M347.9 99.1h0M341.4 92.5h0M341.2 86.9h0M339.8 94.0h0M341.3 96.1h0M343.7 94.4h0M353.2 72.3h0M346.1 93.8h0M361.5 99.2h0M341.5 93.7h0M356.2 98.3h0M340.3 96.8h0M340.0 98.6h0M343.2 92.1h0M345.7 92.3h0M340.2 96.1h0M357.4 43.9h0M339.8 97.2h0M342.4 99.0h0M341.0 95.7h0M342.7 98.8h0M346.2 92.9h0M340.7 96.6h0M341.9 88.0h0M341.9 89.0h0M346.5 98.7h0M342.4 96.7h0M346.9 81.2h0M339.7 98.7h0M344.5 92.7h0M342.4 99.5h0M341.0 80.8h0M346.5 99.4h0M340.0 97.9h0M348.7 97.4h0M343.5 87.5h0M342.7 95.8h0M341.5 97.6h0M340.8 97.1h0M342.0 97.1h0M341.9 99.3h0M339.9 95.4h0M341.5 98.2h0M341.4 97.5h0M340.6 91.9h0M339.7 96.7h0M339.7 94.6h0M341.3 94.5h0M341.0 94.4h0M341.1 95.8h0M344.7 99.3h0M340.7 97.9h0M341.7 88.7h0M340.9 93.3h0M377.0 65.3h0M341.1 90.1h0M343.4 99.3h0M339.9 94.2h0M349.1 94.0h0M364.2 72.7h0M339.7 92.2h0M343.8 76.7h0M340.0 91.2h0M344.7 97.0h0M341.8 98.9h0M344.5 99.2h0M346.2 93.5h0M340.1 98.9h0M350.8 95.0h0M340.6 96.6h0M346.3 98.9h0M342.0 99.4h0M341.4 93.4h0M342.1 93.1h0M345.1 99.0h0M340.4 94.7h0M341.2 98.6h0M342.9 95.5h0M342.8 89.3h0M342.9 96.0h0M341.1 93.0h0M340.8 92.3h0M340.8 99.2h0M341.4 92.6h0M343.2 95.1h0M348.4 96.2h0M340.6 91.8h0M341.0 89.2h0M350.5 83.4h0M341.2 98.7h0M344.9 90.5h0M345.2 98.2h0M342.5 94.4h0M344.9 94.8h0M349.0 93.1h0M350.6 92.6h0M346.7 92.4h0M340.7 99.5h0M340.8 97.7h0M340.2 95.9h0M340.9 97.8h0M347.2 98.6h0M346.6 94.4h0M344.5 95.4h0M348.8 91.3h0M339.9 84.3h0M345.3 98.1h0M341.4 92.3h0M342.2 95.0h0M340.7 83.0h0M349.9 93.7h0M360.6 97.5h0M340.2 74.6h0M347.1 99.3h0M340.0 99.5h0M354.3 93.2h0M345.2 95.5h0M346.4 95.7h0M341.3 95.8h0M344.1 96.6h0M340.0 95.9h0M352.6 95.0h0M341.0 97.3h0M349.8 78.9h0M349.0 88.7h0M339.8 95.9h0M343.9 94.3h0M349.4 99.1h0M351.2 99.4h0M347.0 82.1h0M340.0 65.5h0M342.3 94.8h0M345.6 99.6h0M341.6 97.3h0M339.8 91.4h0M342.9 95.5h0M343.7 96.2h0M347.4 98.5h0M340.8 96.0h0M341.2 98.1h0M340.8 95.5h0M347.2 98.5h0M341.0 97.4h0M343.7 90.9h0M340.0 91.6h0M340.6 96.6h0M341.4 97.2h0M356.4 96.9h0M345.3 91.1h0M345.3 97.0h0M342.9 92.1h0M345.8 99.5h0M341.4 99.2h0M340.3 98.3h0M351.3 84.7h0M349.3 98.8h0M350.2 98.4h0M343.8 87.7h0M350.4 96.3h0M340.2 97.8h0M340.0 98.5h0M339.9 97.6h0M340.2 95.5h0M342.7 91.6h0M350.3 99.1h0M340.0 97.6h0M349.0 95.7h0M341.1 94.9h0M345.4 79.6h0M343.0 89.2h0M340.5 83.6h0M339.8 91.6h0M339.9 98.6h0M344.5 98.3h0M341.9 68.7h0M343.5 96.1h0M339.8 97.6h0M342.4 81.0h0M342.0 94.2h0M363.4 26.0h0M366.4 32.7h0M372.3 47.3h0M380.3 49.5h0M368.9 54.6h0M372.3 60.4h0M363.9 40.3h0M355.8 47.8h0M346.3 33.1h0M348.5 33.1h0M351.8 33.1h0M353.8 31.9h0M355.5 33.1h0M347.4 45.0h0M347.4 50.4h0M349.6 52.0h0M351.8 57.0h0M348.8 58.4h0M345.4 64.6h0M348.0 66.3h0M351.3 67.1h0M355.5 68.0h0M358.9 73.9h0M365.6 75.5h0M363.1 82.3h0M358.9 84.8h0M364.7 92.0h0M355.5 88.1h0M360.5 94.0h0" stroke="#a80000" stroke-width="1.24" stroke-linecap="square"/>
<path d="M329.6 93.5h0M332.0 95.5h0M330.1 95.2h0M330.3 93.3h0M332.1 92.5h0M332.2 97.9h0M332.0 91.8h0M330.5 99.1h0M329.4 91.9h0M331.4 92.5h0M330.8 91.8h0M332.2 92.9h0M328.1 96.4h0M329.7 95.3h0M330.4 98.5h0M330.5 93.7h0M326.8 94.8h0M329.3 95.5h0M331.0 94.5h0M328.0 94.8h0M330.4 96.0h0M332.3 92.9h0M330.2 91.1h0M331.7 92.5h0M331.8 97.4h0M329.2 98.3h0M330.5 94.2h0M330.7 98.7h0M330.4 94.6h0M329.4 97.8h0M330.5 93.4h0M328.8 92.3h0M331.8 97.5h0M332.3 98.5h0M331.2 97.4h0M331.3 97.5h0M331.7 92.0h0M331.7 93.1h0M325.0 79.4h0M326.6 86.4h0" stroke="#ff4a4a" stroke-width="1.24" stroke-linecap="square"/>
<path d="M331.1 102.4 L332.4 97.4 L333.3 94.4 L334.3 97.4 L335.7 102.4 Z" fill="#a6a6a6"/>
<path d="M336.9 102.4 L338.1 97.9 L339.3 96.4 L350.3 102.4 Z" fill="#a6a6a6"/>
<line x1="336.3" y1="16.8" x2="336.3" y2="102.4" stroke="#555" stroke-width="0.7" />
<line x1="314.9" y1="16.8" x2="314.9" y2="102.4" stroke="#111" stroke-width="0.9" />
<line x1="314.9" y1="102.4" x2="400.86" y2="102.4" stroke="#111" stroke-width="0.9" />
<rect x="313.4" y="33.8" width="3" height="3.2" fill="#fff"/>
<line x1="313.3" y1="34" x2="316.5" y2="33.2" stroke="#111" stroke-width="0.6" />
<line x1="313.3" y1="37" x2="316.5" y2="36.2" stroke="#111" stroke-width="0.6" />
<line x1="313.6" y1="16.8" x2="314.9" y2="16.8" stroke="#111" stroke-width="0.6" />
<text x="312.8" y="17.99" font-size="3.3" text-anchor="end" fill="#111">120</text>
<line x1="313.6" y1="23.1" x2="314.9" y2="23.1" stroke="#111" stroke-width="0.6" />
<text x="312.8" y="24.29" font-size="3.3" text-anchor="end" fill="#111">90</text>
<line x1="313.6" y1="28.2" x2="314.9" y2="28.2" stroke="#111" stroke-width="0.6" />
<text x="312.8" y="29.39" font-size="3.3" text-anchor="end" fill="#111">60</text>
<line x1="313.6" y1="33.4" x2="314.9" y2="33.4" stroke="#111" stroke-width="0.6" />
<text x="312.8" y="34.59" font-size="3.3" text-anchor="end" fill="#111">30</text>
<line x1="313.6" y1="37.3" x2="314.9" y2="37.3" stroke="#111" stroke-width="0.6" />
<text x="312.8" y="38.49" font-size="3.3" text-anchor="end" fill="#111">30</text>
<line x1="313.6" y1="59" x2="314.9" y2="59" stroke="#111" stroke-width="0.6" />
<text x="312.8" y="60.19" font-size="3.3" text-anchor="end" fill="#111">20</text>
<line x1="313.6" y1="80.6" x2="314.9" y2="80.6" stroke="#111" stroke-width="0.6" />
<text x="312.8" y="81.79" font-size="3.3" text-anchor="end" fill="#111">10</text>
<line x1="313.6" y1="102.4" x2="314.9" y2="102.4" stroke="#111" stroke-width="0.6" />
<text x="312.8" y="103.59" font-size="3.3" text-anchor="end" fill="#111">0</text>
<line x1="314.9" y1="102.4" x2="314.9" y2="103.7" stroke="#111" stroke-width="0.6" />
<text x="314.9" y="106.88" font-size="3.3" text-anchor="middle" fill="#111">-3</text>
<line x1="336.3" y1="102.4" x2="336.3" y2="103.7" stroke="#111" stroke-width="0.6" />
<text x="336.3" y="106.88" font-size="3.3" text-anchor="middle" fill="#111">0</text>
<line x1="357.7" y1="102.4" x2="357.7" y2="103.7" stroke="#111" stroke-width="0.6" />
<text x="357.7" y="106.88" font-size="3.3" text-anchor="middle" fill="#111">3</text>
<line x1="379.1" y1="102.4" x2="379.1" y2="103.7" stroke="#111" stroke-width="0.6" />
<text x="379.1" y="106.88" font-size="3.3" text-anchor="middle" fill="#111">6</text>
<line x1="400.5" y1="102.4" x2="400.5" y2="103.7" stroke="#111" stroke-width="0.6" />
<text x="400.5" y="106.88" font-size="3.3" text-anchor="middle" fill="#111">9</text>
<line x1="332.3" y1="21.6" x2="318.64" y2="21.6" stroke="#ff4a4a" stroke-width="1.1" />
<path d="M316.4 21.6 L319.2 20.2 L319.2 23 Z" fill="#ff4a4a"/>
<line x1="339.5" y1="21.6" x2="354.56" y2="21.6" stroke="#a80000" stroke-width="1.1" />
<path d="M356.8 21.6 L354 20.2 L354 23 Z" fill="#a80000"/>
<text x="332.1" y="16.3" font-size="3.2" text-anchor="end" fill="#111" textLength="16.4" lengthAdjust="spacingAndGlyphs">Decreased</text>
<text x="332.1" y="20.3" font-size="3.2" text-anchor="end" fill="#111">by AAE</text>
<text x="339.7" y="16.3" font-size="3.2" fill="#111" textLength="15.4" lengthAdjust="spacingAndGlyphs">Increased</text>
<text x="339.7" y="20.3" font-size="3.2" fill="#111">by AAE</text>
<text x="331.5" y="24.4" font-size="3.1" text-anchor="end" fill="#ff4a4a">72</text>
<text x="339.9" y="24.4" font-size="3.1" fill="#a80000">617</text>
<text x="357.2" y="115.3" font-size="8.6" font-weight="bold" text-anchor="middle" fill="#111" textLength="95.5" lengthAdjust="spacingAndGlyphs">60min Ex vs Pre Sed (FC)</text>
<text x="305.7" y="60.6" font-size="8.4" font-weight="bold" text-anchor="middle" fill="#111" textLength="43" lengthAdjust="spacingAndGlyphs" transform="rotate(-90 305.7 60.6)">-log<tspan font-size="6" dy="2">10</tspan><tspan dy="-2">(FDR)</tspan></text>
<line x1="435" y1="16.3" x2="435" y2="101.6" stroke="#c8c8c8" stroke-width="0.5" />
<line x1="441.7" y1="16.3" x2="441.7" y2="101.6" stroke="#c8c8c8" stroke-width="0.5" />
<line x1="417.4" y1="98.6" x2="502.96" y2="98.6" stroke="#c8c8c8" stroke-width="0.5" />
<path d="M430.1 98.7h0M433.0 100.1h0M422.9 99.3h0M426.9 98.4h0M433.4 98.8h0M431.4 98.7h0M425.0 99.2h0M425.2 98.3h0M423.6 98.4h0M423.9 98.6h0M427.9 99.3h0M435.8 100.9h0M423.6 98.2h0M430.6 100.3h0M438.0 98.2h0M424.4 99.2h0M424.8 99.5h0M432.3 100.0h0M433.5 100.6h0M425.4 98.4h0M428.9 99.2h0M431.9 99.1h0M428.7 100.7h0M434.0 98.2h0M437.8 98.7h0M428.2 99.4h0M433.4 98.7h0M424.5 99.7h0M428.3 99.0h0M435.3 99.0h0M423.1 98.4h0M429.4 99.0h0M426.1 99.2h0M428.7 98.5h0M424.3 98.9h0M425.5 98.6h0M423.3 99.6h0M428.0 98.7h0M423.5 99.1h0M425.9 99.6h0M430.1 98.2h0M430.2 98.2h0M425.3 98.2h0M428.3 99.9h0M434.3 98.2h0M422.8 99.6h0M434.6 99.4h0M426.4 101.0h0M423.3 98.8h0M437.9 98.1h0M430.5 100.8h0M427.7 98.5h0M435.6 98.7h0M426.3 99.0h0M430.1 98.8h0M426.8 98.2h0M436.6 100.0h0M427.2 98.3h0M427.0 98.2h0M430.7 98.6h0M433.6 99.8h0M427.1 99.7h0M433.3 98.6h0M424.7 98.3h0M429.2 99.7h0M429.4 98.1h0M431.4 98.8h0M437.0 98.2h0M434.5 99.2h0M431.8 98.3h0M434.9 98.9h0M428.1 99.4h0M434.1 98.9h0M423.0 98.6h0M436.7 98.4h0M436.6 98.2h0M431.0 98.5h0M428.6 100.3h0M428.2 99.5h0M437.2 98.6h0M431.1 98.8h0M424.6 99.0h0M433.6 99.3h0M426.5 99.3h0M427.7 98.7h0M424.9 100.3h0M427.5 98.6h0M434.5 98.7h0M437.2 99.4h0M423.2 99.1h0M429.6 99.9h0M433.0 99.4h0M426.4 99.5h0M437.3 101.0h0M428.3 99.6h0M425.8 99.2h0M426.1 98.2h0M430.5 98.6h0M425.2 99.1h0M432.1 98.4h0M426.6 99.1h0M435.9 98.4h0M426.2 99.0h0M434.5 99.3h0M433.1 98.7h0M437.8 98.9h0M433.3 99.4h0M434.0 99.5h0M430.4 99.4h0M427.5 100.1h0M426.2 98.9h0M426.6 100.6h0M435.2 99.6h0M437.2 98.8h0M428.7 98.3h0M436.6 99.5h0M424.7 98.7h0M435.8 98.8h0M434.9 99.2h0M432.3 99.7h0M445.2 98.4h0M444.7 98.3h0M457.3 99.5h0M441.2 99.0h0M463.5 97.8h0M439.4 96.6h0M459.7 96.7h0M444.1 97.0h0M443.0 99.7h0M459.4 96.6h0M441.3 96.5h0M439.3 98.7h0M439.2 99.5h0M440.6 97.0h0M442.8 99.4h0M440.9 98.7h0M459.3 97.4h0M439.9 97.2h0M448.6 98.1h0M448.4 97.3h0M457.1 97.8h0M451.5 98.0h0M451.5 98.4h0M445.4 97.8h0M454.1 98.9h0M461.7 97.9h0M459.1 97.1h0M462.9 97.2h0M445.7 98.3h0M450.7 96.9h0M458.5 99.8h0M439.5 99.9h0M439.7 100.4h0M439.2 99.0h0M440.0 97.2h0M450.9 96.2h0M463.1 96.9h0M462.7 100.7h0M441.6 96.3h0M447.0 99.3h0M455.5 98.2h0M448.8 98.7h0M441.8 100.1h0M450.7 96.2h0M464.2 96.9h0M462.0 98.5h0M442.9 96.3h0M450.5 97.2h0M439.2 99.2h0M447.1 97.0h0M458.0 96.9h0M443.7 98.4h0M459.3 96.1h0M447.2 99.4h0M451.2 97.7h0M444.2 99.1h0M444.7 97.4h0M440.1 97.7h0M462.8 96.9h0M442.0 98.2h0M439.9 97.0h0M451.4 99.5h0M448.9 97.5h0M449.8 98.4h0M443.1 98.5h0M464.6 98.6h0M447.7 98.0h0M440.7 98.3h0M441.2 98.7h0M444.3 98.5h0M462.2 98.8h0M443.6 97.3h0M445.0 97.8h0M451.9 100.2h0M452.7 100.0h0M442.0 96.7h0M464.3 97.2h0M440.7 98.1h0M442.6 96.6h0M441.7 99.3h0M451.6 97.3h0M450.2 98.0h0M463.1 98.0h0M462.2 98.3h0M446.7 98.5h0M454.1 96.9h0M441.8 97.8h0M454.5 97.9h0M452.4 97.4h0M454.1 98.5h0M443.0 100.7h0M460.4 96.8h0M444.9 96.2h0M460.8 99.6h0M458.4 98.2h0M443.2 99.0h0M445.4 100.4h0M439.4 99.9h0M443.1 99.6h0M440.1 96.6h0M444.6 97.9h0M450.5 96.3h0M440.4 99.2h0M459.2 96.4h0M462.0 97.8h0M444.3 99.4h0M461.2 96.9h0M449.0 96.8h0M442.2 97.7h0M461.0 99.9h0M451.0 99.4h0M458.4 96.6h0M451.8 98.1h0M439.3 97.9h0M444.2 98.3h0M439.6 96.4h0M448.2 97.6h0M458.6 96.4h0M449.0 97.7h0M458.8 98.4h0M460.8 100.7h0M456.9 97.8h0M451.1 96.1h0M441.5 98.3h0M457.0 96.9h0M448.3 96.8h0M452.9 96.5h0M452.0 98.5h0M442.7 100.1h0M440.1 100.5h0M463.7 99.7h0M450.5 99.7h0M463.3 97.7h0M440.8 96.7h0M459.2 96.2h0M441.5 98.3h0M452.3 98.9h0M449.6 97.1h0M455.3 96.7h0M455.3 98.8h0" stroke="#a6a6a6" stroke-width="1.1" stroke-linecap="round"/>
<path d="M445.2 97.3h0M452.8 89.3h0M449.5 87.3h0M446.7 92.5h0M466.1 79.7h0M453.4 95.7h0M442.4 95.7h0M448.1 88.8h0M442.8 72.7h0M444.2 86.8h0M448.4 46.4h0M445.3 79.1h0M442.4 72.8h0M448.0 93.5h0M443.5 98.3h0M449.3 50.3h0M446.1 89.7h0M450.3 88.9h0M452.4 89.6h0M443.1 93.6h0M443.0 97.0h0M443.2 90.9h0M466.4 89.4h0M445.2 94.8h0M460.2 78.9h0M447.9 97.6h0M443.1 95.6h0M443.1 96.7h0M445.7 80.9h0M442.6 76.2h0M448.6 92.2h0M463.0 93.3h0M443.0 96.2h0M443.7 82.8h0M442.6 97.4h0M458.3 81.7h0M445.2 98.5h0M442.8 97.0h0M453.0 97.2h0M468.3 98.6h0M442.9 95.9h0M445.3 78.1h0M446.3 98.1h0M444.0 86.0h0M442.2 95.5h0M443.0 98.1h0M454.2 96.3h0M442.8 90.1h0M447.1 87.8h0M445.3 64.7h0M458.5 78.9h0M442.7 96.2h0M454.0 96.4h0M445.7 98.8h0M442.2 93.3h0M448.4 82.6h0M444.8 89.1h0M448.6 98.0h0M443.0 94.0h0M449.6 84.6h0M444.0 88.2h0M464.8 90.7h0M444.2 88.6h0M442.9 98.3h0M447.5 62.1h0M448.9 89.4h0M444.4 97.9h0M443.8 98.3h0M456.6 88.5h0M451.3 87.9h0M442.7 65.1h0M449.2 97.6h0M446.3 98.1h0M461.0 90.9h0M443.0 69.1h0M445.7 97.6h0M445.9 94.3h0M443.0 94.0h0M442.8 85.1h0M456.7 67.6h0M458.7 97.3h0M445.0 98.2h0M442.3 65.7h0M465.1 98.3h0M460.3 86.6h0M447.8 93.5h0M446.8 92.4h0M447.5 91.6h0M450.3 95.6h0M443.6 93.5h0M449.2 98.2h0M443.2 91.0h0M446.6 81.5h0M443.5 91.4h0M445.3 97.2h0M444.4 64.6h0M448.4 77.8h0M442.2 77.5h0M474.8 65.5h0M449.0 92.1h0M447.5 93.9h0M448.6 98.8h0M448.8 82.4h0M446.4 97.5h0M454.5 98.3h0M442.8 94.9h0M442.3 94.0h0M444.8 97.2h0M474.7 96.5h0M447.7 96.1h0M448.5 96.9h0M456.3 96.9h0M445.4 86.6h0M450.0 90.8h0M442.6 91.9h0M449.9 95.0h0M444.8 84.4h0M448.2 98.3h0M443.8 93.4h0M474.1 90.2h0M445.1 83.9h0M451.4 98.1h0M452.7 92.9h0M444.1 97.5h0M477.9 51.5h0M447.2 93.6h0M442.7 87.4h0M447.0 90.9h0M447.3 97.2h0M444.7 92.1h0M462.9 97.9h0M444.2 83.6h0M455.4 86.0h0M450.0 89.6h0M446.0 95.7h0M444.9 95.9h0M465.7 97.6h0M443.5 86.1h0M450.1 91.7h0M452.6 97.9h0M459.7 96.3h0M448.3 90.4h0M445.1 80.4h0M443.1 89.6h0M447.2 80.5h0M444.0 82.5h0M442.8 97.5h0M451.6 97.0h0M443.3 90.9h0M451.6 69.1h0M447.5 97.8h0M450.5 95.0h0M447.1 85.4h0M444.1 84.9h0M445.2 88.5h0M446.8 95.6h0M444.1 80.5h0M447.3 92.8h0M443.2 90.4h0M444.4 93.0h0M447.8 86.4h0M443.1 70.8h0M444.2 98.0h0M443.5 80.2h0M443.9 94.6h0M444.9 81.3h0M445.2 72.1h0M442.7 83.9h0M443.9 94.0h0M443.5 97.9h0M448.0 92.1h0M452.9 94.2h0M454.0 97.7h0M445.1 90.5h0M443.6 96.7h0M444.1 77.5h0M449.2 94.6h0M446.8 86.4h0M442.8 87.2h0M445.0 95.4h0M467.0 93.9h0M443.1 83.3h0M455.1 89.9h0M471.4 54.9h0M454.8 84.1h0M450.1 98.6h0M442.1 94.3h0M446.0 95.5h0M444.2 90.0h0M446.7 76.3h0M442.2 93.8h0M446.2 88.2h0M463.7 92.8h0M447.5 85.2h0M456.6 62.8h0M455.2 95.1h0M454.4 84.6h0M446.6 98.7h0M442.4 92.7h0M447.2 97.4h0M450.2 91.8h0M465.1 98.6h0M449.0 91.7h0M454.9 98.0h0M443.7 91.4h0M447.6 85.7h0M445.1 92.2h0M455.5 94.8h0M452.2 84.2h0M448.9 92.7h0M450.4 90.9h0M451.2 75.2h0M451.8 87.8h0M444.0 90.0h0M444.4 95.9h0M462.0 91.9h0M443.7 92.2h0M453.2 98.1h0M452.0 86.0h0M444.2 87.7h0M442.5 80.3h0M468.8 93.9h0M445.7 80.0h0M443.1 98.6h0M447.2 97.9h0M447.4 97.6h0M447.6 96.7h0M443.8 95.1h0M452.5 98.4h0M442.6 70.1h0M449.7 92.9h0M448.5 97.5h0M455.3 96.8h0M442.4 88.7h0M442.3 82.7h0M449.6 83.4h0M444.3 93.3h0M443.7 96.7h0M443.8 97.9h0M456.4 96.9h0M453.5 95.7h0M442.1 97.7h0M445.9 82.7h0M443.8 94.8h0M445.7 89.2h0M446.9 49.1h0M444.2 90.4h0M443.4 63.4h0M447.5 92.1h0M452.1 92.9h0M449.4 95.5h0M444.5 91.0h0M458.9 90.9h0M443.1 84.4h0M443.0 91.8h0M449.5 97.2h0M459.3 97.3h0M444.9 97.7h0M444.2 92.3h0M447.6 95.0h0M452.6 87.8h0M443.8 93.0h0M450.0 90.0h0M446.1 97.8h0M451.7 95.8h0M442.5 95.8h0M445.4 98.7h0M445.1 60.8h0M453.0 93.3h0M454.5 87.4h0M448.7 76.2h0M443.7 88.1h0M443.5 94.9h0M451.0 98.4h0M443.6 97.7h0M448.9 85.9h0M449.0 97.1h0M478.0 95.5h0M442.9 82.4h0M450.4 94.5h0M443.1 59.7h0M448.4 96.8h0M449.9 90.4h0M444.5 85.3h0M453.6 72.6h0M446.5 77.8h0M449.8 88.4h0M442.5 89.2h0M442.9 79.4h0M445.5 95.8h0M445.9 78.5h0M449.7 97.5h0M451.9 92.8h0M445.5 94.4h0M462.4 48.5h0M443.4 90.7h0M443.9 95.0h0M443.8 91.1h0M442.4 97.9h0M456.7 91.8h0M443.0 92.2h0M442.5 95.5h0M450.5 92.1h0M443.9 94.8h0M444.4 90.7h0M451.3 92.8h0M442.4 98.2h0M450.5 89.0h0M442.9 91.8h0M442.5 78.1h0M448.0 89.5h0M444.5 96.9h0M443.0 67.3h0M468.2 91.0h0M443.3 88.6h0M448.8 96.9h0M452.7 96.1h0M443.0 89.9h0M445.2 97.2h0M446.2 85.2h0M455.6 96.5h0M445.2 89.9h0M443.8 96.1h0M444.4 88.2h0M448.1 98.4h0M450.1 65.3h0M457.0 94.7h0M443.3 96.5h0M446.7 96.4h0M445.2 96.8h0M444.2 98.5h0M445.1 91.0h0M466.3 97.1h0M442.3 95.8h0M448.3 98.1h0M451.6 78.4h0M443.2 89.9h0M448.3 75.7h0M444.3 96.8h0M442.9 56.3h0M444.6 96.8h0M443.5 94.6h0M442.2 95.3h0M445.4 76.6h0M449.8 83.5h0M449.5 88.2h0M444.6 83.4h0M446.9 74.8h0M449.9 97.2h0M446.6 85.5h0M446.4 87.7h0M443.7 98.0h0M443.3 92.1h0M442.4 76.4h0M443.3 96.2h0M442.3 97.4h0M452.3 98.3h0M449.9 90.8h0M447.9 88.7h0M443.8 90.7h0M442.7 90.4h0M443.1 95.6h0M461.2 81.3h0M453.2 84.5h0M442.3 91.6h0M447.2 98.0h0M452.6 97.2h0M442.6 97.6h0M443.6 94.8h0M450.0 86.7h0M443.6 96.4h0M444.9 97.8h0M443.6 90.7h0M443.1 87.5h0M443.0 96.9h0M443.1 72.2h0M442.5 97.0h0M443.7 91.2h0M444.9 92.3h0M445.8 94.9h0M448.3 94.4h0M443.7 98.0h0M444.3 83.1h0M442.5 97.9h0M445.9 74.3h0M443.0 97.2h0M446.0 83.7h0M445.8 98.0h0M453.9 91.9h0M450.5 95.2h0M476.6 85.3h0M453.9 79.6h0M446.0 76.1h0M448.8 97.0h0M450.5 98.2h0M449.1 77.6h0M447.1 94.6h0M468.9 66.5h0M444.0 71.4h0M443.1 96.7h0M451.3 96.3h0M447.1 89.9h0M450.4 97.9h0M452.2 49.0h0M452.7 83.1h0M456.3 70.0h0M443.0 96.1h0M446.4 93.7h0M447.8 78.0h0M442.3 96.1h0M442.7 94.9h0M448.1 93.8h0M460.8 81.3h0M447.7 57.4h0M445.3 61.2h0M442.2 92.2h0M442.3 81.7h0M444.9 76.6h0M442.4 98.3h0M443.7 90.0h0M445.7 84.2h0M456.2 93.8h0M446.4 95.2h0M443.5 88.4h0M442.9 96.2h0M443.9 97.4h0M449.0 98.8h0M443.3 93.2h0M444.0 83.9h0M446.1 98.8h0M448.6 77.7h0M443.5 91.3h0M443.9 98.3h0M456.8 95.4h0M459.6 94.2h0M493.6 94.0h0M448.0 88.4h0M443.1 80.2h0M443.4 86.2h0M445.1 96.3h0M449.9 97.7h0M445.9 83.4h0M444.7 92.0h0M444.5 96.1h0M443.8 97.3h0M442.4 96.4h0M451.9 52.5h0M444.8 86.4h0M449.0 88.3h0M442.5 95.9h0M449.6 83.7h0M451.6 82.3h0M443.6 56.6h0M450.2 84.6h0M454.2 86.4h0M442.3 95.7h0M450.4 98.6h0M445.1 97.9h0M443.8 89.8h0M443.6 85.2h0M450.2 97.6h0M443.2 96.5h0M453.3 93.1h0M444.4 98.3h0M444.0 96.0h0M474.8 92.6h0M443.6 98.3h0M443.4 92.5h0M443.7 96.2h0M459.6 89.4h0M449.3 88.5h0M443.3 91.2h0M443.8 84.3h0M452.5 79.6h0M452.0 90.8h0M443.3 97.2h0M443.9 90.5h0M447.2 88.2h0M447.0 94.5h0M442.6 98.0h0M452.4 82.4h0M449.3 95.1h0M454.8 91.6h0M455.8 96.0h0M442.8 96.0h0M442.5 93.1h0M446.0 98.4h0M445.6 82.6h0M443.0 91.8h0M458.5 90.4h0M447.2 89.2h0M446.1 96.9h0M445.4 78.2h0M449.3 97.9h0M450.2 96.4h0M448.6 95.4h0M442.6 97.7h0M443.9 97.0h0M443.4 94.8h0M448.0 97.4h0M452.8 91.6h0M446.2 91.4h0M442.3 92.1h0M442.2 83.1h0M449.9 96.0h0M450.2 97.1h0M458.4 89.9h0M451.6 97.9h0M445.3 47.0h0M442.7 92.7h0M449.1 62.1h0M443.8 97.1h0M446.1 98.6h0M442.6 93.9h0M444.9 97.5h0M449.5 98.5h0M442.7 86.3h0M449.9 94.0h0M444.7 90.0h0M442.9 89.4h0M447.3 96.7h0M443.4 94.0h0M444.2 91.4h0M443.4 98.1h0M443.0 90.8h0M447.6 90.6h0M443.0 81.2h0M443.4 93.3h0M446.8 97.2h0M443.3 85.6h0M458.5 73.6h0M448.3 84.8h0M444.2 85.1h0M447.4 95.1h0M445.2 96.6h0M443.6 94.0h0M448.9 98.0h0M442.6 96.7h0M463.5 91.1h0M446.6 77.0h0M442.2 95.2h0M450.2 77.6h0M446.3 96.5h0M454.1 90.7h0M450.7 94.8h0M446.8 97.4h0M450.0 96.0h0M444.5 97.4h0M446.4 89.9h0M446.8 76.8h0M443.9 94.2h0M443.6 97.3h0M448.7 68.8h0M453.2 96.3h0M444.5 95.5h0M455.5 95.6h0M443.6 87.7h0M445.6 89.4h0M443.6 90.7h0M442.5 98.1h0M442.7 94.3h0M444.7 87.2h0M450.2 89.2h0M445.4 98.8h0M443.3 73.2h0M452.5 87.5h0M451.4 94.3h0M452.8 82.8h0M464.1 78.6h0M442.9 97.8h0M448.1 92.7h0M443.1 94.7h0M442.4 93.4h0M444.3 94.2h0M443.4 87.6h0M447.3 78.0h0M442.3 88.6h0M443.8 88.2h0M462.4 93.0h0M445.5 98.4h0M444.8 98.3h0M443.3 79.9h0M446.4 79.5h0M448.0 89.5h0M448.7 96.1h0M450.9 86.3h0M458.5 92.6h0M458.6 84.4h0M445.4 97.9h0M442.7 96.5h0M452.5 90.7h0M445.3 98.6h0M442.9 80.9h0M445.6 90.8h0M445.3 50.4h0M443.1 90.0h0M444.0 97.8h0M444.8 94.2h0M442.6 91.7h0M450.9 88.7h0M444.2 95.6h0M452.6 92.2h0M448.7 77.6h0M455.1 96.5h0M448.8 85.7h0M457.0 80.0h0M448.4 92.0h0M451.3 88.3h0M447.0 85.2h0M450.2 88.8h0M445.1 74.2h0M446.1 93.1h0M448.1 95.7h0M445.8 95.0h0M444.7 90.9h0M442.7 97.9h0M445.4 85.0h0M453.2 88.3h0M456.9 97.3h0M467.0 97.6h0M449.5 96.4h0M442.1 97.9h0M444.0 87.6h0M446.6 98.5h0M442.7 94.2h0M443.4 96.2h0M443.7 84.4h0M453.5 87.4h0M443.1 89.3h0M444.9 95.5h0M443.4 97.2h0M447.6 86.5h0M444.0 74.4h0M442.1 91.0h0M472.3 18.1h0M466.7 22.2h0M489.9 22.3h0M471.4 25.5h0M465.9 27.7h0M453.5 29.4h0M455.5 31.1h0M458.8 32.2h0M464.2 31.6h0M466.9 32.2h0M469.7 32.2h0M473.1 32.2h0M476.0 29.4h0M449.6 36.1h0M453.0 42.0h0M471.8 38.6h0M460.5 45.3h0M467.7 47.3h0M477.0 47.3h0M499.1 50.9h0M481.5 55.9h0M447.9 53.4h0M450.8 52.0h0M454.6 53.7h0M457.1 55.4h0M460.5 54.1h0M463.4 52.9h0M463.9 57.1h0M468.9 58.4h0M471.1 57.9h0M458.5 62.1h0M445.9 62.4h0M449.6 64.6h0M452.4 65.5h0M467.6 67.1h0M476.5 68.0h0M462.0 75.0h0M470.0 80.0h0M458.0 84.0h0M466.0 88.0h0M474.0 90.0h0M455.0 92.0h0M462.0 95.0h0" stroke="#1a1aff" stroke-width="1.24" stroke-linecap="square"/>
<path d="M433.9 90.0h0M433.6 92.9h0M431.2 93.9h0M433.8 96.8h0M434.6 93.6h0M430.7 95.9h0M432.4 95.1h0M433.1 93.8h0M433.4 95.8h0M434.6 94.6h0M432.3 94.8h0M434.7 92.6h0M429.5 90.2h0M434.2 98.1h0M432.7 90.8h0M431.7 93.9h0M433.9 95.0h0M434.2 98.3h0M432.0 92.7h0M430.2 98.2h0M431.2 78.6h0" stroke="#5aa5f5" stroke-width="1.24" stroke-linecap="square"/>
<path d="M433.5 101.6 L434.8 96.6 L435.7 93.6 L436.7 96.6 L438.1 101.6 Z" fill="#a6a6a6"/>
<path d="M439.3 101.6 L440.5 97.1 L441.7 95.6 L452.7 101.6 Z" fill="#a6a6a6"/>
<line x1="438.7" y1="16.3" x2="438.7" y2="101.6" stroke="#555" stroke-width="0.7" />
<line x1="417.4" y1="16.3" x2="417.4" y2="101.6" stroke="#111" stroke-width="0.9" />
<line x1="417.4" y1="101.6" x2="503.36" y2="101.6" stroke="#111" stroke-width="0.9" />
<rect x="415.9" y="33.3" width="3" height="3.2" fill="#fff"/>
<line x1="415.8" y1="33.5" x2="419" y2="32.7" stroke="#111" stroke-width="0.6" />
<line x1="415.8" y1="36.5" x2="419" y2="35.7" stroke="#111" stroke-width="0.6" />
<line x1="416.1" y1="16.3" x2="417.4" y2="16.3" stroke="#111" stroke-width="0.6" />
<text x="415.3" y="17.49" font-size="3.3" text-anchor="end" fill="#111">120</text>
<line x1="416.1" y1="22.6" x2="417.4" y2="22.6" stroke="#111" stroke-width="0.6" />
<text x="415.3" y="23.79" font-size="3.3" text-anchor="end" fill="#111">90</text>
<line x1="416.1" y1="27.7" x2="417.4" y2="27.7" stroke="#111" stroke-width="0.6" />
<text x="415.3" y="28.89" font-size="3.3" text-anchor="end" fill="#111">60</text>
<line x1="416.1" y1="32.9" x2="417.4" y2="32.9" stroke="#111" stroke-width="0.6" />
<text x="415.3" y="34.09" font-size="3.3" text-anchor="end" fill="#111">30</text>
<line x1="416.1" y1="36.8" x2="417.4" y2="36.8" stroke="#111" stroke-width="0.6" />
<text x="415.3" y="37.99" font-size="3.3" text-anchor="end" fill="#111">30</text>
<line x1="416.1" y1="58.5" x2="417.4" y2="58.5" stroke="#111" stroke-width="0.6" />
<text x="415.3" y="59.69" font-size="3.3" text-anchor="end" fill="#111">20</text>
<line x1="416.1" y1="80.1" x2="417.4" y2="80.1" stroke="#111" stroke-width="0.6" />
<text x="415.3" y="81.29" font-size="3.3" text-anchor="end" fill="#111">10</text>
<line x1="416.1" y1="101.6" x2="417.4" y2="101.6" stroke="#111" stroke-width="0.6" />
<text x="415.3" y="102.79" font-size="3.3" text-anchor="end" fill="#111">0</text>
<line x1="417.4" y1="101.6" x2="417.4" y2="102.9" stroke="#111" stroke-width="0.6" />
<text x="417.4" y="106.08" font-size="3.3" text-anchor="middle" fill="#111">-3</text>
<line x1="438.7" y1="101.6" x2="438.7" y2="102.9" stroke="#111" stroke-width="0.6" />
<text x="438.7" y="106.08" font-size="3.3" text-anchor="middle" fill="#111">0</text>
<line x1="460.1" y1="101.6" x2="460.1" y2="102.9" stroke="#111" stroke-width="0.6" />
<text x="460.1" y="106.08" font-size="3.3" text-anchor="middle" fill="#111">3</text>
<line x1="481.5" y1="101.6" x2="481.5" y2="102.9" stroke="#111" stroke-width="0.6" />
<text x="481.5" y="106.08" font-size="3.3" text-anchor="middle" fill="#111">6</text>
<line x1="502.9" y1="101.6" x2="502.9" y2="102.9" stroke="#111" stroke-width="0.6" />
<text x="502.9" y="106.08" font-size="3.3" text-anchor="middle" fill="#111">9</text>
<line x1="434.7" y1="21.1" x2="421.14" y2="21.1" stroke="#5aa5f5" stroke-width="1.1" />
<path d="M418.9 21.1 L421.7 19.7 L421.7 22.5 Z" fill="#5aa5f5"/>
<line x1="441.9" y1="21.1" x2="456.96" y2="21.1" stroke="#1a1aff" stroke-width="1.1" />
<path d="M459.2 21.1 L456.4 19.7 L456.4 22.5 Z" fill="#1a1aff"/>
<text x="434.5" y="15.8" font-size="3.2" text-anchor="end" fill="#111" textLength="16.4" lengthAdjust="spacingAndGlyphs">Decreased</text>
<text x="434.5" y="19.8" font-size="3.2" text-anchor="end" fill="#111">by ARE</text>
<text x="442.1" y="15.8" font-size="3.2" fill="#111" textLength="15.4" lengthAdjust="spacingAndGlyphs">Increased</text>
<text x="442.1" y="19.8" font-size="3.2" fill="#111">by ARE</text>
<text x="433.9" y="23.9" font-size="3.1" text-anchor="end" fill="#5aa5f5">43</text>
<text x="442.3" y="23.9" font-size="3.1" fill="#1a1aff">658</text>
<text x="459.7" y="115.3" font-size="8.6" font-weight="bold" text-anchor="middle" fill="#111" textLength="95.5" lengthAdjust="spacingAndGlyphs">60min Ex vs Pre Sed (FC)</text>
<text x="408.2" y="60.6" font-size="8.4" font-weight="bold" text-anchor="middle" fill="#111" textLength="43" lengthAdjust="spacingAndGlyphs" transform="rotate(-90 408.2 60.6)">-log<tspan font-size="6" dy="2">10</tspan><tspan dy="-2">(FDR)</tspan></text>
<text x="509.5" y="11" font-size="14.2" font-weight="bold" text-anchor="middle">C</text>
<line x1="602.9" y1="22.3" x2="604.3" y2="22.3" stroke="#111" stroke-width="0.5" />
<text x="602.4" y="24.25" font-size="5.45" font-weight="bold" text-anchor="end" fill="#111">TNFα Signaling Via NFKβ</text>
<circle cx="667.76" cy="22.3" r="1.7" fill="#b81c1c"/>
<circle cx="665.23" cy="22.3" r="1.7" fill="#1010d0"/>
<line x1="602.9" y1="29.18" x2="604.3" y2="29.18" stroke="#111" stroke-width="0.5" />
<text x="602.4" y="31.13" font-size="5.45" font-weight="bold" text-anchor="end" fill="#111">Hypoxia</text>
<circle cx="662.99" cy="29.18" r="1.7" fill="#b81c1c"/>
<circle cx="659.34" cy="29.18" r="1.7" fill="#1010d0"/>
<line x1="602.9" y1="36.06" x2="604.3" y2="36.06" stroke="#111" stroke-width="0.5" />
<text x="602.4" y="38.01" font-size="5.45" font-weight="bold" text-anchor="end" fill="#111">TGFβ Signaling</text>
<circle cx="662.14" cy="36.06" r="1.7" fill="#b81c1c"/>
<circle cx="656.53" cy="36.06" r="1.7" fill="#1010d0"/>
<line x1="602.9" y1="42.94" x2="604.3" y2="42.94" stroke="#111" stroke-width="0.5" />
<text x="602.4" y="44.89" font-size="5.45" font-weight="bold" text-anchor="end" fill="#111">Apoptosis</text>
<circle cx="661.02" cy="42.94" r="1.7" fill="#b81c1c"/>
<circle cx="658.21" cy="42.94" r="1.7" fill="#1010d0"/>
<line x1="602.9" y1="49.82" x2="604.3" y2="49.82" stroke="#111" stroke-width="0.5" />
<text x="602.4" y="51.77" font-size="5.45" font-weight="bold" text-anchor="end" fill="#111">Epithelial Mesenchymal Transition</text>
<circle cx="659.06" cy="49.82" r="1.7" fill="#1010d0"/>
<line x1="602.9" y1="56.7" x2="604.3" y2="56.7" stroke="#111" stroke-width="0.5" />
<text x="602.4" y="58.65" font-size="5.45" font-weight="bold" text-anchor="end" fill="#111">P53 Pathway</text>
<circle cx="658.49" cy="56.7" r="1.7" fill="#b81c1c"/>
<circle cx="657.09" cy="56.7" r="1.7" fill="#1010d0"/>
<line x1="602.9" y1="63.58" x2="604.3" y2="63.58" stroke="#111" stroke-width="0.5" />
<text x="602.4" y="65.53" font-size="5.45" font-weight="bold" text-anchor="end" fill="#111">IL-2/STAT5 Signaling</text>
<circle cx="657.93" cy="63.58" r="1.7" fill="#b81c1c"/>
<circle cx="656.25" cy="63.58" r="1.7" fill="#1010d0"/>
<line x1="602.9" y1="70.46" x2="604.3" y2="70.46" stroke="#111" stroke-width="0.5" />
<text x="602.4" y="72.41" font-size="5.45" font-weight="bold" text-anchor="end" fill="#111">Inflammatory Response</text>
<circle cx="657.93" cy="70.46" r="1.7" fill="#1010d0"/>
<line x1="602.9" y1="77.34" x2="604.3" y2="77.34" stroke="#111" stroke-width="0.5" />
<text x="602.4" y="79.29" font-size="5.45" font-weight="bold" text-anchor="end" fill="#111">UV Response Up</text>
<circle cx="657.09" cy="77.34" r="1.7" fill="#b81c1c"/>
<circle cx="660.46" cy="77.34" r="1.7" fill="#1010d0"/>
<line x1="602.9" y1="84.22" x2="604.3" y2="84.22" stroke="#111" stroke-width="0.5" />
<text x="602.4" y="86.17" font-size="5.45" font-weight="bold" text-anchor="end" fill="#111">IL-6/JAK/STAT3 Signaling</text>
<circle cx="656.53" cy="84.22" r="1.7" fill="#b81c1c"/>
<circle cx="657.93" cy="84.22" r="1.7" fill="#1010d0"/>
<line x1="602.9" y1="91.1" x2="604.3" y2="91.1" stroke="#111" stroke-width="0.5" />
<text x="602.4" y="93.05" font-size="5.45" font-weight="bold" text-anchor="end" fill="#111">Estrogen Response Early</text>
<circle cx="657.93" cy="91.1" r="1.7" fill="#b81c1c"/>
<line x1="602.9" y1="97.98" x2="604.3" y2="97.98" stroke="#111" stroke-width="0.5" />
<text x="602.4" y="99.93" font-size="5.45" font-weight="bold" text-anchor="end" fill="#111">Coagulation</text>
<circle cx="656.53" cy="97.98" r="1.7" fill="#1010d0"/>
<line x1="604.3" y1="18.5" x2="604.3" y2="102.4" stroke="#111" stroke-width="0.8" />
<line x1="604.3" y1="102.4" x2="674.8" y2="102.4" stroke="#111" stroke-width="0.8" />
<line x1="604.3" y1="102.4" x2="604.3" y2="103.9" stroke="#111" stroke-width="0.45" />
<line x1="607.11" y1="102.4" x2="607.11" y2="103.3" stroke="#111" stroke-width="0.45" />
<line x1="609.92" y1="102.4" x2="609.92" y2="103.3" stroke="#111" stroke-width="0.45" />
<line x1="612.72" y1="102.4" x2="612.72" y2="103.3" stroke="#111" stroke-width="0.45" />
<line x1="615.53" y1="102.4" x2="615.53" y2="103.3" stroke="#111" stroke-width="0.45" />
<line x1="618.34" y1="102.4" x2="618.34" y2="103.9" stroke="#111" stroke-width="0.45" />
<line x1="621.15" y1="102.4" x2="621.15" y2="103.3" stroke="#111" stroke-width="0.45" />
<line x1="623.96" y1="102.4" x2="623.96" y2="103.3" stroke="#111" stroke-width="0.45" />
<line x1="626.76" y1="102.4" x2="626.76" y2="103.3" stroke="#111" stroke-width="0.45" />
<line x1="629.57" y1="102.4" x2="629.57" y2="103.3" stroke="#111" stroke-width="0.45" />
<line x1="632.38" y1="102.4" x2="632.38" y2="103.9" stroke="#111" stroke-width="0.45" />
<line x1="635.19" y1="102.4" x2="635.19" y2="103.3" stroke="#111" stroke-width="0.45" />
<line x1="638" y1="102.4" x2="638" y2="103.3" stroke="#111" stroke-width="0.45" />
<line x1="640.8" y1="102.4" x2="640.8" y2="103.3" stroke="#111" stroke-width="0.45" />
<line x1="643.61" y1="102.4" x2="643.61" y2="103.3" stroke="#111" stroke-width="0.45" />
<line x1="646.42" y1="102.4" x2="646.42" y2="103.9" stroke="#111" stroke-width="0.45" />
<line x1="649.23" y1="102.4" x2="649.23" y2="103.3" stroke="#111" stroke-width="0.45" />
<line x1="652.04" y1="102.4" x2="652.04" y2="103.3" stroke="#111" stroke-width="0.45" />
<line x1="654.84" y1="102.4" x2="654.84" y2="103.3" stroke="#111" stroke-width="0.45" />
<line x1="657.65" y1="102.4" x2="657.65" y2="103.3" stroke="#111" stroke-width="0.45" />
<line x1="660.46" y1="102.4" x2="660.46" y2="103.9" stroke="#111" stroke-width="0.45" />
<line x1="663.27" y1="102.4" x2="663.27" y2="103.3" stroke="#111" stroke-width="0.45" />
<line x1="666.08" y1="102.4" x2="666.08" y2="103.3" stroke="#111" stroke-width="0.45" />
<line x1="668.88" y1="102.4" x2="668.88" y2="103.3" stroke="#111" stroke-width="0.45" />
<line x1="671.69" y1="102.4" x2="671.69" y2="103.3" stroke="#111" stroke-width="0.45" />
<line x1="674.5" y1="102.4" x2="674.5" y2="103.9" stroke="#111" stroke-width="0.45" />
<text x="604.3" y="109.2" font-size="4.2" text-anchor="middle" fill="#111">0.0</text>
<text x="618.34" y="109.2" font-size="4.2" text-anchor="middle" fill="#111">0.5</text>
<text x="632.38" y="109.2" font-size="4.2" text-anchor="middle" fill="#111">1.0</text>
<text x="646.42" y="109.2" font-size="4.2" text-anchor="middle" fill="#111">1.5</text>
<text x="660.46" y="109.2" font-size="4.2" text-anchor="middle" fill="#111">2.0</text>
<text x="674.5" y="109.2" font-size="4.2" text-anchor="middle" fill="#111">2.5</text>
<text x="639.3" y="116.6" font-size="4.6" font-weight="bold" text-anchor="middle" fill="#111">NES</text>
<rect x="612.7" y="17.1" width="22.9" height="13.9" fill="#fff" stroke="#111" stroke-width="0.7" rx="1.5"/>
<circle cx="616.8" cy="20.6" r="1.6" fill="#1010d0"/>
<circle cx="616.8" cy="26.8" r="1.6" fill="#b81c1c"/>
<text x="621.9" y="22.4" font-size="5" fill="#111" textLength="10.5" lengthAdjust="spacingAndGlyphs">ARE</text>
<text x="621.9" y="28.6" font-size="5" fill="#111" textLength="10.5" lengthAdjust="spacingAndGlyphs">AAE</text>
<path d="M669.8 22.3 H672.3 V84.0 H669.8" fill="none" stroke="#888" stroke-width="0.5"/>
<text x="677.9" y="53.2" font-size="4.6" text-anchor="middle" fill="#222" textLength="52" lengthAdjust="spacingAndGlyphs" transform="rotate(-90 677.9 53.2)">Similarly upregulated in</text>
<text x="682.6" y="53.2" font-size="4.6" text-anchor="middle" fill="#222" textLength="54" lengthAdjust="spacingAndGlyphs" transform="rotate(-90 682.6 53.2)">response to AAE or ARE</text>
<text x="297.6" y="148.6" font-size="14.2" font-weight="bold" text-anchor="middle">F</text>
<text x="378.3" y="149.3" font-size="9.2" font-weight="bold" text-anchor="middle" fill="#111" textLength="101" lengthAdjust="spacingAndGlyphs">AAE Phosphoproteome</text>
<line x1="327.8" y1="151" x2="428.8" y2="151" stroke="#111" stroke-width="0.9" />
<line x1="360.5" y1="154.4" x2="360.5" y2="332.6" stroke="#cfcfcf" stroke-width="0.6" />
<line x1="383.5" y1="154.4" x2="383.5" y2="332.6" stroke="#cfcfcf" stroke-width="0.6" />
<line x1="312.4" y1="329.7" x2="460.1" y2="329.7" stroke="#cfcfcf" stroke-width="0.6" />
<path d="M360.4 325.5h0M384.7 325.3h0M375.5 332.6h0M360.8 330.7h0M370.3 331.2h0M370.6 332.3h0M368.7 329.6h0M374.9 328.8h0M362.2 330.1h0M359.1 330.5h0M377.3 326.6h0M380.5 323.4h0M364.5 325.0h0M381.3 330.0h0M364.8 324.3h0M360.9 318.9h0M363.6 328.2h0M380.5 325.5h0M369.0 331.6h0M377.2 332.2h0M358.6 321.9h0M386.8 313.6h0M355.9 315.7h0M364.0 331.4h0M375.8 332.5h0M357.7 332.4h0M366.5 330.6h0M359.0 316.4h0M381.3 330.8h0M372.2 332.5h0M383.6 317.3h0M384.5 328.9h0M378.6 327.2h0M372.5 332.1h0M385.1 323.5h0M386.8 331.4h0M369.0 332.6h0M382.8 331.7h0M378.0 329.3h0M365.7 327.5h0M374.1 331.4h0M370.7 332.4h0M360.0 331.3h0M376.9 332.5h0M365.8 326.5h0M387.5 331.8h0M381.4 324.3h0M380.6 326.7h0M359.1 317.8h0M374.9 332.5h0M358.3 322.2h0M362.1 328.6h0M378.9 329.7h0M367.3 329.0h0M383.6 326.9h0M362.8 320.8h0M363.3 328.9h0M380.1 322.3h0M384.9 320.8h0M378.1 327.4h0M387.4 311.6h0M365.0 332.0h0M375.2 332.1h0M368.6 329.7h0M375.0 331.3h0M356.9 329.1h0M359.0 331.5h0M376.5 330.6h0M379.4 328.8h0M364.5 331.2h0M358.8 332.4h0M370.1 332.2h0M362.1 325.3h0M374.1 332.0h0M359.9 328.5h0M382.2 332.4h0M365.1 328.8h0M387.8 315.2h0M363.8 332.3h0M374.7 332.5h0M380.2 325.0h0M367.0 331.1h0M362.2 322.1h0M383.0 331.0h0M368.6 332.6h0M375.2 332.4h0M380.4 328.8h0M372.1 330.4h0M369.1 332.3h0M360.6 327.5h0M360.5 320.9h0M359.2 319.8h0M384.0 313.1h0M385.9 332.6h0M362.1 326.5h0M356.8 325.5h0M374.3 326.4h0M385.0 327.8h0M363.0 331.8h0M368.4 332.6h0M362.1 332.5h0M357.7 325.8h0M380.7 331.9h0M385.2 320.6h0M375.9 330.4h0M363.8 328.9h0M360.1 325.3h0M385.4 327.0h0M370.3 332.5h0M375.2 331.8h0M385.5 325.9h0M380.8 328.3h0M361.2 326.5h0M376.7 331.2h0M385.0 316.1h0M375.4 332.1h0M374.8 329.0h0M368.9 332.0h0M360.5 331.0h0M377.7 331.6h0M369.7 331.5h0M382.8 332.5h0M379.2 327.9h0M361.8 326.0h0M364.8 327.4h0M375.4 327.8h0M361.9 328.4h0M375.1 331.5h0M359.5 329.5h0M368.5 332.3h0M386.0 330.3h0M365.6 326.6h0M361.6 326.9h0M374.3 332.2h0M384.6 325.1h0M365.8 326.3h0M357.9 332.5h0M381.6 331.3h0M373.9 329.8h0M373.7 331.5h0M382.7 328.4h0M369.2 332.1h0M383.7 331.4h0M380.1 331.1h0M358.5 327.8h0M361.5 329.9h0M363.3 330.7h0M379.9 331.4h0M366.7 328.3h0M362.9 328.4h0M380.6 329.2h0M384.4 326.7h0M359.7 319.6h0M384.1 317.3h0M376.2 325.5h0M376.1 331.2h0M377.4 331.4h0M383.0 317.6h0M383.2 314.3h0M386.6 320.7h0M362.1 330.3h0M372.1 332.6h0M359.9 332.4h0M377.0 329.9h0M379.1 329.7h0M360.5 322.1h0M376.2 328.8h0M376.1 331.6h0M378.6 327.6h0M371.0 332.5h0M367.3 331.7h0M362.9 327.6h0M385.9 322.7h0M359.8 329.3h0M368.0 331.2h0M381.7 330.2h0M368.5 330.4h0M355.5 317.1h0M361.6 323.0h0M386.8 315.1h0M361.3 327.6h0M374.1 329.6h0M373.5 332.3h0M374.4 330.4h0M378.7 327.3h0M365.3 326.4h0M366.3 327.9h0M375.5 331.1h0M366.3 331.2h0M372.9 332.5h0M366.6 331.3h0M381.9 324.2h0M377.7 328.2h0M381.0 318.9h0M359.2 319.9h0M360.3 330.4h0M379.4 328.0h0M383.2 324.5h0M366.7 326.2h0M381.8 327.0h0M383.3 330.2h0M383.3 330.2h0M379.2 332.6h0M362.3 319.7h0M380.9 320.4h0M373.3 332.0h0M367.0 330.3h0M377.0 331.9h0M359.9 330.7h0M382.8 322.9h0M356.0 318.8h0M375.5 331.1h0M380.3 332.5h0M383.0 327.6h0M357.6 328.7h0M374.9 332.3h0M368.4 331.8h0M379.1 332.2h0M380.2 325.5h0M365.2 329.6h0M368.3 331.8h0M384.0 318.0h0M362.1 332.4h0M362.4 331.0h0M380.9 324.7h0M364.8 325.5h0M376.1 331.2h0M362.6 323.7h0M368.6 329.0h0M358.6 318.3h0M367.4 331.8h0M385.6 330.4h0M379.7 320.0h0M383.8 331.4h0M380.1 322.5h0M367.0 331.7h0M369.5 329.8h0M384.1 324.8h0M376.5 332.3h0M385.6 320.4h0M375.9 330.0h0M364.4 327.1h0M364.2 332.0h0M377.5 327.2h0M385.7 323.1h0M361.9 329.9h0M374.8 330.5h0M359.5 328.4h0M384.3 314.9h0M385.9 328.4h0M358.6 330.5h0M376.7 328.6h0M367.5 331.1h0M374.1 330.5h0M367.3 327.2h0M362.3 325.6h0M359.1 323.7h0M380.0 325.5h0M366.4 330.3h0M367.4 328.7h0M357.3 329.1h0M362.5 326.9h0M378.9 326.8h0M362.7 327.1h0M373.9 329.7h0M381.1 328.5h0M374.6 328.7h0M358.1 315.9h0M366.7 326.9h0M364.1 326.9h0M365.4 327.8h0M380.1 325.8h0M361.5 326.6h0M380.0 326.4h0M370.4 330.7h0M379.6 319.1h0M356.8 332.1h0M381.6 323.2h0M361.1 323.0h0M371.5 332.6h0M360.2 331.4h0M360.7 320.5h0M361.8 329.3h0M369.5 330.6h0M361.2 331.9h0M358.1 320.9h0M380.4 325.1h0M363.4 326.2h0M384.7 331.9h0M361.6 330.5h0M379.1 330.4h0M373.8 328.9h0M378.8 332.3h0M359.4 326.9h0M357.4 329.5h0M385.4 327.8h0M373.2 330.5h0M383.5 320.8h0M363.8 332.2h0M375.1 328.8h0M378.5 332.0h0M358.2 328.4h0M366.1 330.9h0M367.2 328.7h0M366.7 330.0h0M360.5 328.1h0M360.9 330.5h0M380.8 325.2h0M384.7 314.6h0M367.7 329.9h0M386.3 317.0h0M361.8 324.6h0M371.3 332.4h0M369.7 330.5h0M382.5 319.2h0M382.4 327.9h0M364.1 321.3h0M373.9 332.6h0M374.0 329.7h0M369.3 332.2h0M385.6 331.4h0M381.1 321.4h0M371.4 332.1h0M378.9 329.8h0M368.6 330.5h0M375.2 331.2h0M379.1 332.6h0M386.4 328.8h0M366.3 329.4h0M358.6 329.9h0M385.1 332.6h0M383.4 326.9h0M363.0 332.1h0M380.2 330.5h0M372.0 332.6h0M362.8 328.0h0M377.9 324.3h0M357.5 331.3h0M380.8 325.8h0M366.7 331.2h0M368.2 331.0h0M358.9 330.2h0M380.2 324.6h0M362.8 331.0h0M389.4 331.7h0M369.2 331.7h0M371.8 332.5h0M374.5 332.4h0M376.7 327.9h0M371.7 332.3h0M358.0 324.4h0M385.4 314.2h0M385.6 314.9h0M377.4 325.6h0M385.4 315.9h0M369.0 332.1h0M367.9 327.6h0M385.6 330.2h0M364.2 327.7h0M359.5 332.5h0M374.3 327.1h0M385.0 327.1h0M359.3 330.4h0M386.7 328.4h0M369.9 330.3h0M364.3 323.0h0M366.6 331.7h0M360.2 321.0h0M370.4 332.0h0M361.5 323.9h0M370.7 331.9h0M358.4 331.9h0M358.2 331.0h0M376.9 330.1h0M385.1 314.8h0M372.1 332.0h0M361.3 323.3h0M365.0 326.6h0M366.6 328.8h0M361.2 331.8h0M384.0 321.6h0M386.2 330.3h0M363.3 331.9h0M377.5 326.7h0M387.9 332.0h0M377.2 332.1h0M374.7 332.5h0M360.4 331.5h0M383.1 328.0h0M357.4 327.2h0M385.1 332.5h0M376.4 328.5h0M385.4 330.6h0M369.0 330.0h0M380.4 329.6h0M379.1 323.6h0M365.5 325.6h0M363.1 332.1h0M384.6 330.8h0M364.1 322.7h0M384.5 330.4h0M363.2 326.6h0M368.4 329.0h0M366.2 325.6h0M358.4 320.3h0M357.9 329.9h0M375.1 328.7h0M372.3 329.9h0M385.8 324.2h0M384.1 323.9h0M381.9 331.1h0M362.8 324.9h0M374.4 329.3h0M384.6 323.6h0M380.0 332.6h0M382.3 316.4h0M380.2 332.4h0M384.9 316.4h0M380.4 327.4h0M370.3 332.2h0M376.1 332.1h0M380.3 325.5h0M384.2 319.2h0M366.5 331.2h0M381.2 330.4h0M384.6 331.5h0M383.1 324.9h0M359.4 331.5h0M380.1 331.2h0M364.7 328.2h0M385.5 328.5h0M363.0 330.7h0M360.1 325.8h0M370.0 331.4h0M369.1 329.8h0M386.0 324.1h0M361.1 330.9h0M382.7 328.2h0M366.9 330.4h0M381.5 321.0h0M380.0 329.5h0M360.7 328.2h0M365.1 330.9h0M384.6 318.1h0M376.2 329.0h0M369.5 332.4h0M373.1 329.7h0M359.7 331.2h0M379.9 322.5h0M380.9 325.4h0M364.5 327.5h0M370.0 331.3h0M370.2 332.2h0M364.2 326.6h0M380.5 330.6h0M360.5 331.1h0M358.5 323.3h0M361.3 329.1h0M382.3 319.9h0M379.4 332.4h0M367.7 332.5h0M382.0 327.3h0M363.8 330.9h0M361.4 329.8h0M386.6 315.5h0M370.5 331.7h0M376.0 330.5h0M374.8 331.5h0M366.0 325.8h0M381.9 318.4h0M369.7 332.5h0M362.0 331.3h0M360.8 327.9h0M368.6 330.9h0M375.3 332.4h0M384.4 312.2h0M368.8 331.0h0M377.6 326.9h0M359.8 332.2h0M372.5 332.0h0M359.4 328.2h0M358.6 325.4h0M378.2 331.8h0M357.5 331.1h0M380.7 332.1h0M363.5 325.6h0M374.0 330.4h0M363.8 332.5h0M362.8 331.4h0M381.8 332.2h0M387.5 312.1h0M365.0 329.6h0M362.2 331.9h0M380.8 332.5h0M363.8 329.8h0M360.0 331.7h0M374.6 329.7h0M355.7 327.5h0M386.3 331.3h0M367.8 330.6h0M368.2 331.9h0M384.6 327.2h0M382.0 326.7h0M361.6 320.4h0M379.4 325.8h0M358.8 320.8h0M378.8 325.8h0M380.8 324.0h0M378.0 331.4h0M362.9 330.6h0M367.1 330.6h0M384.6 329.3h0M380.8 324.1h0M386.4 331.7h0M367.9 330.3h0M363.9 330.7h0M362.2 332.5h0M382.9 323.2h0M357.2 321.0h0M377.1 331.2h0M361.2 332.4h0M381.0 324.4h0M368.6 330.9h0M386.4 328.6h0M383.9 322.4h0M372.6 332.3h0M358.6 319.8h0M372.0 332.3h0M370.2 332.3h0M365.7 328.0h0M377.7 326.3h0M358.4 331.6h0M381.9 322.0h0M358.9 320.7h0M383.9 332.0h0M366.1 331.2h0M364.4 329.1h0M379.4 331.2h0M385.8 320.5h0M370.1 332.6h0M379.3 323.6h0M378.0 331.6h0M359.2 327.4h0M374.2 332.5h0M374.6 329.7h0M378.9 327.4h0M384.9 326.2h0M370.9 332.5h0M384.5 323.9h0M378.5 327.3h0M370.2 332.5h0M360.9 323.9h0M369.4 331.3h0M377.4 324.6h0M377.9 324.6h0M363.5 325.7h0M362.3 331.9h0M366.9 330.1h0M379.4 326.0h0M371.4 332.1h0M370.4 331.6h0M371.8 331.5h0M385.5 326.1h0M369.1 332.1h0M366.0 332.4h0M376.6 329.0h0M381.7 323.2h0M371.3 332.3h0M379.0 324.2h0M361.5 330.1h0M367.0 328.8h0M372.9 332.5h0M383.7 330.9h0M388.1 312.4h0M372.6 330.4h0M371.6 332.4h0M378.9 325.2h0M374.7 330.2h0M377.3 329.1h0M379.4 328.5h0M362.0 323.6h0M356.7 318.4h0M382.6 320.9h0M361.6 329.8h0M381.9 325.9h0M370.3 332.3h0M364.6 331.5h0M363.1 331.7h0M361.2 328.4h0M362.1 331.2h0M376.0 332.3h0M360.3 331.3h0M367.0 331.7h0M360.1 321.4h0M364.6 332.5h0M368.1 329.3h0M368.1 331.5h0M377.1 330.7h0M385.9 323.3h0M365.4 329.9h0M367.6 332.6h0M359.0 330.2h0M358.0 327.3h0M366.1 332.6h0M383.5 322.6h0M374.0 330.8h0M368.8 332.6h0M387.7 313.1h0M358.3 328.5h0M362.3 332.3h0M383.1 332.3h0M359.1 329.7h0M364.9 330.4h0M359.4 327.6h0M366.8 331.7h0M380.6 327.6h0M379.3 330.8h0M357.3 332.3h0M364.2 325.4h0M364.0 328.3h0M385.1 331.5h0M380.8 320.2h0M378.1 329.7h0M357.4 327.8h0M364.6 329.4h0M364.0 324.0h0M377.5 330.9h0M372.2 332.5h0M383.0 324.1h0M378.1 329.3h0M385.4 318.3h0M384.8 332.1h0M378.8 329.5h0M383.0 316.0h0M381.7 324.9h0M364.1 327.5h0M369.1 330.2h0M381.8 328.8h0M373.3 332.4h0M378.1 331.4h0M357.2 329.6h0M366.5 331.8h0M358.1 331.1h0M386.1 322.2h0M380.6 332.5h0M383.8 331.5h0M386.2 329.6h0M371.1 330.3h0M362.1 330.8h0M362.7 326.9h0M369.0 332.5h0M372.2 332.6h0M382.7 330.9h0M365.9 329.9h0M376.4 329.9h0M382.4 325.1h0M386.9 320.9h0M380.3 332.5h0M380.4 323.8h0M368.5 331.5h0M373.7 332.5h0M378.9 332.2h0M377.8 325.4h0M379.2 328.6h0M367.9 328.7h0M386.9 317.8h0M377.7 330.5h0M370.6 332.4h0M365.6 329.6h0M358.9 327.7h0M386.3 314.2h0M378.3 332.1h0M383.8 330.9h0M380.3 324.6h0M359.9 327.8h0M386.6 318.9h0M385.0 328.1h0M359.9 322.6h0M380.2 331.1h0M365.3 326.7h0M370.4 332.5h0M377.3 330.2h0M383.7 319.7h0M376.4 331.1h0M363.6 330.7h0M380.7 325.8h0M364.0 332.1h0M358.0 327.7h0M360.9 329.2h0M386.6 328.9h0M385.6 329.7h0M385.4 325.9h0M363.5 324.1h0M362.2 328.3h0M369.0 330.2h0M373.7 332.4h0M377.6 329.2h0M362.6 324.5h0M387.0 330.8h0M370.3 332.4h0M364.5 332.2h0M379.1 332.2h0M368.1 332.4h0M361.9 332.3h0M371.7 331.9h0M358.5 328.6h0M376.6 330.9h0M364.9 332.5h0M358.3 325.1h0M376.0 330.6h0M368.3 332.2h0M365.1 327.9h0M374.5 329.3h0M383.8 316.0h0M359.4 320.1h0M366.1 330.8h0M368.3 331.8h0M379.7 323.9h0M378.6 332.2h0M361.7 332.1h0M360.4 321.3h0M378.0 329.8h0M360.0 330.2h0M367.1 331.8h0M373.0 332.3h0M380.5 322.5h0M371.6 332.5h0M368.0 328.1h0M379.0 330.5h0M367.6 329.5h0M382.9 327.5h0M384.8 322.9h0M382.7 321.0h0M382.7 318.4h0M364.0 322.5h0M385.2 324.6h0M385.9 330.5h0M369.2 332.5h0M385.4 325.6h0M361.2 330.6h0M360.4 332.6h0M364.8 327.4h0M371.2 332.0h0M359.0 321.1h0M376.8 332.1h0M363.9 328.1h0M376.3 332.4h0M376.3 326.3h0M385.2 328.2h0M371.4 330.6h0M374.2 331.6h0M384.6 315.3h0M378.3 332.5h0M366.1 332.1h0M376.4 324.0h0M375.6 327.3h0M373.8 332.0h0M386.7 325.6h0M381.1 322.8h0M385.0 325.4h0M366.4 331.1h0M388.2 329.2h0M363.2 330.1h0M380.1 332.4h0M376.5 326.5h0M369.3 332.1h0M383.6 316.6h0M377.3 325.4h0M358.4 330.7h0M358.8 325.9h0M357.2 318.0h0M372.5 331.0h0M383.8 316.5h0M364.0 329.2h0M382.4 327.0h0M376.4 331.2h0M381.7 329.7h0M366.9 330.6h0M386.4 321.3h0M368.4 332.1h0M379.6 330.5h0M384.6 330.1h0M369.9 332.0h0M381.6 323.7h0M383.4 327.1h0M383.1 318.7h0M360.5 327.7h0M373.7 328.6h0M358.3 320.7h0M364.9 331.4h0M363.0 325.8h0M371.4 332.0h0M378.9 326.7h0M367.9 332.5h0M375.2 330.8h0M382.6 331.7h0M360.8 328.4h0M358.5 316.7h0M364.8 324.9h0M376.5 332.1h0M379.5 323.1h0M378.4 328.4h0M371.9 332.5h0M366.3 327.4h0M381.3 327.5h0M360.7 332.5h0M369.4 330.7h0M380.1 322.1h0M364.3 332.3h0M385.4 331.8h0M378.4 329.0h0M365.5 328.7h0M380.9 318.1h0M387.3 312.2h0M376.8 329.4h0M383.2 330.0h0M362.4 332.6h0M380.2 329.8h0M376.8 328.5h0M371.8 332.6h0M381.3 331.8h0M361.1 322.9h0M380.5 331.9h0M378.7 324.5h0M388.4 330.1h0M385.3 312.6h0M378.5 331.8h0M364.1 332.6h0M385.3 315.2h0M381.6 331.9h0M378.7 326.2h0M369.6 331.4h0M363.4 325.5h0M386.1 321.2h0M370.9 332.1h0M359.0 318.5h0M375.3 330.7h0M369.0 332.1h0M369.8 332.3h0M383.0 325.9h0M364.7 329.6h0M365.6 328.9h0M369.3 330.6h0M386.0 322.6h0M374.4 332.5h0M357.0 320.7h0M379.7 325.0h0M387.2 331.6h0M363.7 327.2h0M375.2 331.1h0M365.5 331.9h0M377.2 329.9h0M365.7 328.7h0M367.9 327.3h0M356.5 322.0h0M375.7 332.5h0M382.1 322.8h0M358.4 322.9h0M371.1 330.5h0M378.8 330.5h0M374.4 332.1h0M381.1 324.0h0M366.6 330.8h0M384.1 315.1h0M369.5 331.1h0M378.3 323.0h0M361.4 332.5h0M357.8 330.3h0M385.5 331.3h0M361.1 332.6h0M387.2 329.8h0M366.3 331.6h0M363.2 332.1h0M368.3 331.3h0M366.3 328.4h0M385.5 322.1h0M365.7 331.0h0M374.7 330.8h0M382.6 324.4h0M362.5 329.3h0M360.9 328.2h0M377.3 328.0h0M357.4 330.5h0M363.0 326.6h0M377.6 325.7h0M365.3 326.8h0M379.7 321.2h0M361.0 329.9h0M360.5 331.6h0M382.4 330.0h0M380.8 324.9h0M376.1 331.2h0M365.2 326.6h0M368.8 331.2h0M384.5 320.6h0M379.1 326.2h0M358.3 332.5h0M386.0 324.7h0M378.8 331.4h0M379.2 321.5h0M366.8 328.4h0M366.1 331.9h0M385.7 330.3h0M359.4 330.6h0M380.6 328.1h0M364.8 326.2h0M368.9 332.0h0M366.4 331.4h0M366.0 326.8h0M362.2 323.5h0M368.3 332.4h0M376.2 326.6h0M363.5 326.4h0M359.5 319.3h0M370.1 332.5h0M367.9 331.9h0M380.7 331.1h0M377.1 327.8h0M374.0 331.3h0M379.1 332.5h0M386.9 332.0h0M383.1 329.1h0M378.8 332.5h0M366.1 330.3h0M358.0 325.8h0M377.4 327.3h0M363.4 331.8h0M383.9 330.0h0M360.2 329.7h0M383.2 330.2h0M375.7 331.6h0M367.7 327.9h0M365.2 325.4h0M374.5 329.9h0M377.0 323.8h0M375.6 332.0h0M369.0 332.5h0M371.6 332.5h0M367.5 331.0h0M384.9 331.4h0M378.8 326.4h0M363.3 329.2h0M359.6 319.1h0M378.1 332.0h0M384.0 328.9h0M381.4 325.9h0M381.7 329.2h0M386.1 329.2h0M367.8 330.7h0M358.8 329.4h0M363.1 323.5h0M372.6 332.0h0M379.4 330.8h0M370.2 332.0h0M356.6 317.7h0M358.4 332.6h0M369.6 332.2h0M363.2 325.7h0M371.7 332.0h0M382.8 329.0h0M378.0 327.9h0M378.8 324.2h0M381.9 322.6h0M384.2 327.1h0M362.5 330.4h0M364.1 324.8h0M378.7 323.7h0M380.7 325.7h0M384.6 327.5h0M382.0 332.4h0M370.2 332.5h0M379.1 324.1h0M367.1 329.5h0M358.7 325.5h0M381.3 322.5h0M363.9 331.5h0M370.1 330.9h0M359.2 331.5h0M361.4 325.7h0M370.6 330.8h0M382.7 331.5h0M385.0 312.2h0M367.7 330.7h0M370.1 332.3h0M366.3 330.7h0M384.1 320.9h0M368.7 332.3h0M377.5 327.3h0M383.7 329.4h0M383.0 314.4h0M380.2 330.9h0M375.1 328.9h0M374.1 329.4h0M361.9 329.8h0M370.0 332.1h0M378.0 327.6h0M357.9 321.3h0M384.9 325.6h0M366.1 330.9h0M361.2 319.4h0M398.3 331.0h0M395.1 331.1h0M358.4 331.2h0M367.3 332.1h0M362.8 329.5h0M350.8 331.3h0M376.8 330.8h0M390.6 331.5h0M384.4 330.2h0M381.1 331.5h0M349.3 329.5h0M369.9 331.3h0M358.4 330.2h0M358.8 331.1h0M395.0 329.5h0M369.7 330.3h0M370.9 329.6h0M386.5 331.4h0M376.4 329.5h0M350.5 330.2h0M348.3 330.1h0M378.5 332.1h0M348.8 329.8h0M368.8 331.6h0M353.0 330.6h0M350.7 332.3h0M370.2 330.9h0M353.6 330.1h0M375.3 329.9h0M354.6 329.5h0M353.0 331.1h0M365.8 330.2h0M365.4 329.6h0M360.2 331.6h0M374.7 331.8h0M355.8 332.2h0M398.2 329.8h0M362.7 332.0h0M357.2 331.0h0M383.7 329.6h0M371.9 332.0h0M378.1 332.0h0M390.7 330.8h0M351.0 331.7h0M395.3 331.6h0M388.3 331.5h0M367.3 330.2h0M353.5 331.1h0M386.1 332.0h0M379.5 331.6h0M365.1 329.9h0M369.9 330.6h0M361.9 331.2h0M373.3 329.9h0M395.0 331.6h0M380.2 329.5h0M377.8 332.2h0M351.1 332.2h0M351.1 330.9h0M354.5 332.0h0M366.4 332.0h0M369.4 329.6h0M375.2 329.8h0M363.9 330.3h0M352.5 330.3h0M388.5 330.4h0M398.3 332.2h0M346.7 331.3h0M386.4 330.0h0M356.5 330.0h0M388.4 329.7h0M377.7 331.2h0M346.1 331.4h0M383.7 330.7h0M367.7 331.4h0M365.3 330.7h0M399.7 331.7h0M370.6 330.9h0M345.3 330.5h0M355.3 329.9h0M369.4 331.9h0M394.6 330.1h0M351.9 329.5h0M371.6 331.9h0M397.7 331.7h0M399.1 331.4h0M367.4 330.2h0M374.2 332.2h0M362.6 329.9h0M398.7 331.3h0M385.5 331.1h0M396.9 329.4h0M370.2 332.0h0M376.1 330.5h0M392.9 330.2h0M389.6 331.6h0M387.6 331.7h0M351.5 330.1h0M363.4 332.2h0M392.4 331.3h0M348.0 330.5h0M360.4 331.3h0M393.7 330.3h0M373.2 330.2h0M346.2 331.1h0M348.6 332.2h0M363.4 331.5h0M378.7 331.5h0M367.7 329.5h0M359.0 331.1h0M381.0 330.2h0M385.8 331.1h0M383.6 332.0h0M370.4 332.2h0M347.2 330.3h0M349.0 331.3h0M348.1 330.7h0M346.2 331.9h0M378.6 331.6h0M368.3 329.9h0M358.8 331.3h0M390.0 331.0h0M363.9 330.6h0M388.9 332.1h0M380.8 329.7h0M365.1 330.9h0M363.1 330.7h0M363.7 329.5h0M364.3 332.0h0M349.7 331.6h0M355.6 331.3h0M351.1 330.7h0M364.6 331.2h0M350.2 331.3h0M382.5 330.1h0M347.4 332.1h0M371.0 330.3h0M387.6 330.0h0M398.1 331.5h0M347.3 329.4h0M367.7 329.7h0M369.9 331.8h0M369.5 331.0h0M345.0 330.6h0M392.2 331.3h0M350.6 330.4h0M364.0 329.7h0M377.8 331.9h0M389.3 332.1h0M346.7 331.5h0M377.0 330.3h0M346.4 329.5h0M356.2 330.9h0M362.2 329.7h0M388.9 331.4h0M359.1 329.4h0M378.6 331.4h0M387.8 331.7h0M366.9 332.1h0M353.1 331.3h0M354.0 332.0h0M353.3 332.0h0M388.0 329.8h0M382.6 331.6h0M385.2 331.1h0M346.8 331.9h0M359.0 330.0h0M384.1 330.4h0M351.1 329.8h0M395.5 329.8h0M356.4 331.5h0M380.5 329.6h0M380.1 330.8h0M368.4 331.3h0M356.5 330.1h0M375.7 330.9h0M380.2 329.6h0M355.3 331.7h0M379.3 330.8h0M394.6 330.8h0M359.6 330.6h0M354.1 330.8h0M387.5 329.7h0M363.3 330.6h0M360.2 330.0h0M380.4 330.0h0M349.2 332.1h0M384.2 332.0h0M347.7 330.2h0M375.8 331.6h0M347.1 331.7h0M375.9 332.2h0M372.3 329.4h0M364.8 331.6h0M368.7 330.9h0M375.5 330.9h0M350.2 330.0h0M392.2 331.2h0M365.6 329.7h0M390.5 329.7h0M355.0 331.3h0M362.7 330.2h0M361.2 330.2h0M398.7 331.8h0M399.9 330.6h0M348.4 330.7h0M366.5 331.0h0M378.9 331.9h0M370.6 329.6h0M378.2 331.9h0M353.2 330.9h0M385.7 329.9h0M370.1 330.8h0M363.6 329.8h0M356.5 331.0h0M353.2 329.6h0M399.0 331.4h0M356.3 331.9h0M390.0 332.0h0M395.0 330.9h0M365.2 295.8h0M368.0 300.0h0M376.0 302.0h0M378.5 297.0h0M363.0 305.0h0M380.0 306.0h0M366.5 290.0h0" stroke="#a6a6a6" stroke-width="1.1" stroke-linecap="round"/>
<path d="M359.0 325.5h0M357.8 323.9h0M358.1 322.1h0M355.7 328.4h0M359.0 329.0h0M359.9 323.8h0M345.1 329.0h0M356.9 324.2h0M358.7 310.8h0M359.8 317.0h0M354.5 307.3h0M357.5 316.6h0M359.4 325.9h0M350.6 327.0h0M357.3 324.5h0M355.2 317.7h0M356.9 326.4h0M358.4 329.5h0M350.5 329.3h0M356.0 329.5h0M353.9 327.4h0M358.9 327.5h0M357.8 317.6h0M350.1 328.3h0M358.7 318.8h0M355.3 329.2h0M357.1 329.6h0M358.7 328.4h0M359.0 329.0h0M357.6 328.4h0M347.2 324.9h0M353.2 328.7h0M359.4 326.1h0M355.6 323.6h0M360.2 329.3h0M357.0 324.3h0M356.6 321.0h0M357.6 329.0h0M352.3 325.0h0M359.8 325.2h0M356.3 328.8h0M358.0 315.8h0M355.2 319.1h0M355.0 322.9h0M351.2 320.8h0M356.6 324.6h0M355.9 328.9h0M358.7 329.3h0M359.4 324.9h0M359.4 327.7h0M357.9 329.0h0M354.4 311.2h0M357.6 327.3h0M359.7 327.0h0M349.1 317.3h0M351.4 321.5h0M360.2 326.3h0M358.2 327.7h0M349.3 322.1h0M353.0 328.8h0M356.4 318.0h0M357.7 324.4h0M360.1 323.7h0M357.3 324.3h0M354.8 323.9h0M357.3 320.9h0M360.1 329.5h0M359.3 328.6h0M357.7 326.3h0M359.3 314.6h0M355.1 328.5h0M349.4 324.3h0M349.8 328.0h0M354.6 327.2h0M353.7 312.7h0M344.0 324.5h0M359.6 320.3h0M346.7 326.4h0M358.2 326.0h0M359.1 327.2h0M358.2 324.9h0M356.6 324.2h0M356.5 318.7h0M360.0 313.9h0M360.0 319.4h0M355.0 320.2h0M356.1 328.3h0M357.4 319.1h0M357.7 328.9h0M358.0 324.6h0M359.9 328.2h0M357.4 329.2h0M358.4 329.5h0M359.2 320.8h0M360.0 325.0h0M358.9 323.2h0M359.0 323.5h0M352.8 325.6h0M358.8 329.4h0M353.6 323.1h0M358.8 329.2h0M360.1 316.0h0M354.2 326.7h0M355.1 325.7h0M348.5 326.9h0M359.5 327.8h0M353.5 329.7h0M355.6 323.9h0M358.5 324.2h0M354.8 329.7h0M358.7 328.7h0M358.1 324.2h0M358.9 316.9h0M359.0 328.6h0M345.0 324.1h0M348.9 318.7h0M357.9 323.8h0M347.3 322.4h0M359.6 328.8h0M355.5 327.2h0M355.8 329.0h0M359.6 329.1h0M355.8 312.3h0M353.5 318.6h0M356.8 323.6h0M356.7 329.3h0M359.0 322.4h0M344.7 319.4h0M358.7 323.9h0M359.7 327.1h0M359.9 315.7h0M359.4 327.1h0M344.7 326.9h0M359.3 325.5h0M357.1 328.6h0M353.4 328.6h0M360.0 326.6h0M358.6 316.3h0M357.6 315.4h0M357.6 325.2h0M351.9 325.9h0M358.6 316.9h0M350.6 322.1h0M344.0 326.1h0M352.4 329.4h0M359.8 323.1h0M353.6 329.3h0M356.6 328.7h0M359.5 324.6h0M355.7 317.5h0M359.5 322.1h0M358.7 319.2h0M357.1 326.2h0M359.7 325.7h0M356.7 327.4h0M357.0 328.4h0M357.2 327.5h0M358.6 321.9h0M360.2 324.3h0M360.1 324.9h0M357.5 316.1h0M353.9 325.8h0M359.5 325.1h0M358.6 325.7h0M344.9 324.7h0M334.2 294.6h0M348.0 298.5h0M338.7 310.9h0M342.1 310.0h0M335.9 317.0h0M350.5 304.7h0M353.8 303.4h0M357.2 304.4h0M340.5 316.0h0M344.0 318.5h0M337.5 322.0h0M341.0 324.0h0" stroke="#ff4d4d" stroke-width="2.2" stroke-linecap="round"/>
<path d="M394.0 328.8h0M386.8 323.1h0M390.6 328.7h0M386.9 323.1h0M395.5 327.5h0M389.5 309.0h0M399.1 308.0h0M410.6 329.2h0M397.6 321.3h0M408.3 329.2h0M388.1 323.0h0M406.4 315.4h0M389.9 318.2h0M406.0 328.3h0M392.2 326.6h0M386.5 329.2h0M412.4 329.3h0M390.1 314.3h0M397.6 329.1h0M388.3 327.9h0M411.5 320.0h0M413.1 322.4h0M399.9 317.6h0M399.1 318.0h0M392.6 326.3h0M390.7 321.2h0M404.2 325.6h0M397.9 304.5h0M387.4 327.5h0M390.3 328.7h0M394.0 329.6h0M387.1 307.1h0M392.3 323.8h0M394.7 328.5h0M399.6 315.9h0M390.7 325.8h0M391.9 322.8h0M385.2 328.6h0M384.3 325.1h0M398.6 311.3h0M399.2 314.8h0M392.4 327.9h0M401.9 327.9h0M394.3 324.8h0M406.7 314.2h0M401.0 325.7h0M388.9 326.8h0M385.6 329.5h0M404.7 328.7h0M384.8 326.1h0M398.6 320.3h0M405.0 328.5h0M408.3 324.7h0M395.0 328.0h0M385.7 305.4h0M386.9 308.0h0M393.9 320.0h0M407.5 328.3h0M391.4 327.0h0M390.1 316.1h0M398.6 325.4h0M402.2 315.6h0M393.2 328.3h0M391.8 313.5h0M389.5 305.9h0M400.2 321.5h0M410.8 329.2h0M391.6 314.8h0M394.1 328.9h0M391.9 323.3h0M387.9 300.1h0M403.8 326.7h0M391.7 328.3h0M390.4 327.3h0M397.1 324.0h0M399.2 327.1h0M396.7 320.4h0M394.9 319.7h0M385.1 308.1h0M396.7 314.0h0M407.0 318.2h0M425.2 322.8h0M392.1 316.9h0M402.9 315.9h0M389.5 325.1h0M387.7 325.9h0M399.7 300.9h0M408.5 325.4h0M400.5 329.3h0M385.2 314.0h0M393.6 329.3h0M390.0 318.6h0M397.8 324.5h0M388.5 328.7h0M400.6 321.0h0M407.3 316.2h0M397.0 324.9h0M413.6 310.0h0M397.9 314.9h0M391.8 306.9h0M408.2 322.6h0M396.4 301.8h0M397.9 329.0h0M391.0 323.8h0M406.4 302.0h0M387.5 314.3h0M388.0 292.5h0M394.0 328.3h0M410.2 327.1h0M399.1 303.6h0M391.3 327.1h0M394.0 320.8h0M388.2 329.2h0M406.8 320.1h0M407.7 306.4h0M398.8 328.7h0M393.8 329.6h0M410.2 326.6h0M402.8 324.7h0M408.9 323.9h0M391.5 308.6h0M406.6 325.1h0M386.5 297.3h0M396.1 325.2h0M391.0 328.1h0M422.1 322.8h0M388.9 326.0h0M387.2 327.2h0M393.8 314.7h0M390.7 307.2h0M412.0 298.0h0M394.2 315.1h0M401.0 329.3h0M392.2 328.4h0M385.5 324.5h0M411.6 300.4h0M408.5 325.5h0M405.5 320.3h0M393.5 326.5h0M401.2 322.3h0M390.0 324.6h0M386.6 323.5h0M384.5 327.9h0M406.4 325.4h0M403.1 329.5h0M385.3 326.5h0M386.5 329.5h0M386.5 326.6h0M398.4 289.9h0M397.2 325.0h0M386.9 320.1h0M402.9 322.8h0M396.5 319.5h0M388.5 328.0h0M389.3 313.3h0M392.8 285.0h0M393.2 329.6h0M405.6 285.3h0M410.9 326.4h0M415.6 327.0h0M387.2 328.6h0M383.7 323.4h0M387.6 324.5h0M395.4 328.6h0M408.4 323.0h0M399.6 326.1h0M395.6 325.7h0M408.1 326.6h0M401.1 326.5h0M399.3 329.2h0M392.1 317.6h0M390.6 311.6h0M388.3 318.2h0M393.4 323.8h0M386.3 325.4h0M389.7 318.7h0M385.7 327.5h0M388.8 315.2h0M391.3 317.3h0M393.2 326.6h0M392.5 323.3h0M388.7 324.3h0M415.3 322.3h0M406.7 327.9h0M386.1 319.7h0M393.2 325.8h0M387.5 305.1h0M384.1 326.3h0M418.5 321.6h0M389.5 324.1h0M401.3 317.6h0M407.5 317.3h0M434.3 290.0h0M396.2 327.0h0M393.6 310.5h0M400.5 325.8h0M394.7 315.4h0M385.4 323.1h0M401.2 323.0h0M426.1 326.8h0M399.0 322.0h0M396.2 329.2h0M403.8 325.7h0M394.7 317.5h0M387.3 322.3h0M394.2 309.7h0M393.3 319.7h0M384.6 329.2h0M388.2 322.2h0M395.9 306.6h0M416.5 323.9h0M396.5 329.7h0M398.4 329.3h0M417.3 328.1h0M383.6 327.0h0M388.2 329.5h0M414.6 302.2h0M383.9 327.9h0M422.8 312.1h0M384.9 320.6h0M393.6 320.6h0M383.9 327.9h0M397.6 315.1h0M391.3 298.5h0M385.2 329.0h0M421.6 279.9h0M387.0 327.2h0M393.3 322.3h0M387.7 315.2h0M395.1 324.3h0M388.1 282.7h0M386.3 329.7h0M393.2 325.0h0M389.9 321.8h0M398.0 328.5h0M387.3 323.5h0M408.4 326.7h0M385.8 322.8h0M384.7 324.9h0M385.6 313.9h0M389.0 327.4h0M384.4 325.7h0M393.1 318.1h0M385.8 323.2h0M392.8 322.7h0M387.3 324.0h0M390.1 317.6h0M384.8 324.4h0M399.5 323.7h0M413.9 324.5h0M392.1 327.2h0M395.6 326.4h0M403.2 327.6h0M413.3 311.6h0M384.5 326.9h0M383.5 315.6h0M399.8 290.2h0M394.3 325.1h0M399.6 308.7h0M392.6 325.3h0M404.7 326.4h0M392.1 322.4h0M388.3 296.9h0M389.7 328.0h0M400.7 318.8h0M394.9 326.1h0M400.9 306.2h0M396.1 314.9h0M390.7 329.3h0M411.1 322.2h0M389.4 329.6h0M416.8 328.6h0M391.7 319.6h0M388.2 314.5h0M399.7 325.4h0M388.9 327.6h0M387.1 328.1h0M414.9 312.2h0M396.0 315.2h0M392.6 295.9h0M397.7 326.3h0M401.9 310.8h0M415.1 322.6h0M387.7 321.0h0M390.2 301.4h0M391.1 329.3h0M392.5 318.3h0M399.4 327.2h0M387.7 327.9h0M385.8 321.8h0M410.8 323.4h0M396.5 323.4h0M387.7 326.6h0M396.3 318.7h0M395.2 321.8h0M428.1 316.0h0M403.2 328.9h0M391.8 325.4h0M394.9 310.9h0M393.2 328.1h0M395.7 318.0h0M392.3 328.4h0M388.4 329.2h0M391.0 326.5h0M391.5 323.5h0M396.7 295.7h0M386.6 326.8h0M411.8 318.6h0M387.1 326.9h0M397.8 323.5h0M402.1 325.3h0M414.9 290.6h0M405.2 319.8h0M391.4 326.6h0M396.1 329.0h0M398.7 315.6h0M395.5 323.1h0M391.3 324.4h0M410.4 321.1h0M390.3 322.2h0M396.4 326.6h0M384.0 308.5h0M412.2 308.3h0M400.1 326.8h0M422.3 328.7h0M416.9 302.5h0M385.3 325.1h0M393.8 323.1h0M394.6 317.8h0M393.1 327.8h0M391.2 328.9h0M388.7 327.3h0M387.2 327.0h0M402.1 324.1h0M399.2 322.6h0M416.6 322.7h0M386.1 312.4h0M394.1 317.2h0M400.7 327.8h0M389.4 294.5h0M393.7 328.2h0M387.4 310.3h0M387.1 317.2h0M390.2 317.3h0M385.3 327.9h0M385.7 323.9h0M397.7 317.5h0M390.0 329.7h0M403.5 326.6h0M411.4 327.8h0M384.1 326.9h0M383.8 327.0h0M396.7 319.6h0M393.1 327.3h0M407.1 322.6h0M397.1 327.3h0M397.5 319.2h0M393.7 327.5h0M389.5 308.7h0M391.5 309.5h0M386.5 306.3h0M411.5 308.7h0M383.8 301.7h0M392.3 327.4h0M384.0 327.5h0M384.1 314.4h0M383.8 328.8h0M385.4 319.5h0M396.3 326.4h0M396.1 319.6h0M385.3 312.5h0M396.0 322.7h0M389.5 327.9h0M384.4 326.7h0M403.3 328.4h0M402.3 314.1h0M392.4 320.2h0M394.0 319.7h0M404.8 317.2h0M403.0 327.6h0M402.3 328.2h0M386.0 327.0h0M392.2 319.6h0M400.3 329.5h0M415.4 308.6h0M407.4 322.7h0M390.0 324.9h0M385.4 321.9h0M395.0 321.3h0M407.5 325.3h0M403.5 320.8h0M396.3 316.2h0M391.7 327.3h0M407.8 327.8h0M387.3 327.0h0M393.1 326.2h0M393.7 314.0h0M393.9 327.1h0M395.9 322.9h0M407.2 326.4h0M393.7 325.3h0M394.6 313.8h0M399.0 324.1h0M397.4 328.3h0M383.7 327.4h0M389.1 297.7h0M393.3 322.0h0M391.6 314.1h0M423.6 278.1h0M397.7 324.9h0M389.2 318.5h0M383.9 322.0h0M391.9 319.4h0M407.1 315.7h0M391.2 326.3h0M394.4 323.6h0M410.6 321.0h0M389.1 324.7h0M391.5 321.9h0M389.7 321.7h0M394.4 323.9h0M394.5 326.8h0M412.1 319.1h0M389.7 306.5h0M402.0 312.3h0M389.6 323.0h0M401.4 302.5h0M392.9 305.0h0M402.1 327.1h0M385.2 328.5h0M408.3 329.4h0M397.7 326.5h0M388.8 329.0h0M390.8 319.5h0M396.3 323.1h0M395.0 299.8h0M386.5 329.1h0M389.9 328.8h0M400.8 322.4h0M384.9 325.3h0M403.4 307.2h0M413.1 327.0h0M391.8 322.0h0M383.6 326.4h0M384.6 318.3h0M394.3 314.7h0M412.7 321.3h0M397.9 318.7h0M410.3 318.5h0M414.0 325.3h0M396.2 316.0h0M394.3 322.2h0M414.8 324.8h0M384.0 322.9h0M383.5 326.9h0M391.6 314.3h0M388.5 328.0h0M397.5 318.7h0M405.8 294.1h0M408.7 328.8h0M405.3 328.7h0M426.3 326.9h0M394.1 316.6h0M386.6 327.2h0M393.3 316.1h0M383.8 329.1h0M384.0 323.0h0M390.1 329.0h0M396.5 323.5h0M394.4 328.4h0M395.4 328.1h0M390.0 326.1h0M438.6 328.2h0M399.9 322.7h0M386.4 311.3h0M398.9 319.4h0M391.7 329.7h0M390.8 327.4h0M396.4 327.7h0M390.8 314.0h0M384.8 326.0h0M389.3 328.0h0M388.3 327.1h0M385.9 321.2h0M388.5 322.4h0M401.2 328.1h0M396.6 325.9h0M402.6 309.8h0M383.4 327.4h0M386.3 316.1h0M384.3 323.9h0M387.8 312.8h0M428.4 322.3h0M403.0 324.9h0M390.2 323.7h0M384.4 322.9h0M402.4 319.3h0M397.0 325.9h0M387.3 328.6h0M405.8 329.2h0M388.9 329.1h0M396.7 328.2h0M396.1 327.2h0M384.2 324.7h0M387.4 326.6h0M384.3 324.6h0M400.9 326.8h0M409.6 323.4h0M404.4 317.5h0M399.8 329.1h0M401.3 315.2h0M410.9 328.9h0M416.4 294.5h0M388.3 325.8h0M388.2 328.4h0M393.0 324.7h0M385.4 329.2h0M407.9 328.4h0M392.2 327.1h0M391.2 324.3h0M388.6 322.1h0M388.4 301.4h0M387.6 321.3h0M389.8 320.2h0M403.6 306.7h0M383.6 329.3h0M390.1 319.4h0M388.1 321.0h0M389.1 319.6h0M401.1 306.2h0M391.3 324.8h0M395.6 316.0h0M389.1 311.6h0M389.1 323.4h0M384.1 325.5h0M384.9 318.7h0M386.2 311.7h0M390.8 321.5h0M395.3 323.2h0M399.0 312.7h0M412.4 295.6h0M420.7 321.3h0M387.1 327.6h0M395.2 315.3h0M395.5 319.2h0M390.2 310.4h0M394.2 328.0h0M386.0 328.2h0M416.4 310.3h0M406.6 321.9h0M396.7 325.6h0M419.1 286.3h0M401.5 321.7h0M418.0 325.5h0M384.4 328.8h0M400.3 321.1h0M399.5 320.8h0M415.3 328.4h0M383.4 321.1h0M389.1 318.9h0M389.4 328.0h0M395.0 300.7h0M419.0 323.7h0M408.1 324.4h0M383.6 328.4h0M389.6 329.4h0M389.9 315.9h0M392.6 292.9h0M398.3 311.4h0M394.2 322.4h0M412.9 320.9h0M408.5 293.3h0M395.4 320.9h0M410.0 327.2h0M418.2 322.7h0M388.2 329.5h0M400.0 326.2h0M400.5 313.1h0M398.2 322.0h0M394.4 329.2h0M385.5 327.7h0M393.8 329.3h0M409.7 323.4h0M387.1 328.3h0M387.0 327.7h0M396.7 327.7h0M414.7 327.9h0M391.1 320.7h0M394.0 307.6h0M386.5 326.2h0M433.2 323.9h0M413.7 309.3h0M384.0 329.4h0M431.6 329.1h0M389.3 328.8h0M394.1 329.7h0M388.8 317.2h0M393.6 327.4h0M398.4 311.0h0M384.8 320.0h0M390.7 324.3h0M388.2 329.3h0M389.1 297.0h0M384.5 300.4h0M384.6 323.5h0M392.9 321.8h0M401.4 326.8h0M383.7 326.9h0M411.5 329.5h0M400.1 317.7h0M386.9 328.7h0M385.8 325.7h0M396.7 326.0h0M399.6 320.7h0M398.5 316.2h0M416.4 301.5h0M395.8 320.1h0M389.3 327.0h0M399.6 329.4h0M388.8 328.3h0M396.2 328.4h0M385.1 308.2h0M388.0 329.2h0M387.9 329.7h0M390.7 317.8h0M418.5 325.2h0M389.5 325.8h0M385.6 309.8h0M398.9 328.9h0M424.1 307.7h0M385.0 317.9h0M396.5 324.9h0M395.2 325.2h0M420.5 323.4h0M384.6 329.5h0M396.5 326.6h0M402.9 327.6h0M388.0 326.2h0M396.2 323.1h0M384.5 302.4h0M387.6 316.8h0M387.7 325.5h0M412.7 329.2h0M386.2 322.1h0M388.2 317.7h0M395.5 323.9h0M390.4 290.6h0M390.1 321.1h0M385.4 328.0h0M429.1 310.0h0M397.5 325.5h0M388.4 314.8h0M404.8 326.9h0M403.4 316.4h0M397.8 326.7h0M417.0 321.8h0M384.8 328.1h0M385.6 320.0h0M388.6 321.0h0M400.2 322.6h0M385.0 320.9h0M392.6 322.5h0M389.1 328.9h0M389.8 322.2h0M385.4 319.6h0M398.9 315.9h0M395.0 325.6h0M403.6 302.8h0M390.2 316.5h0M392.1 321.1h0M410.5 329.4h0M388.5 320.4h0M395.1 329.0h0M392.8 326.7h0M418.7 317.0h0M391.8 329.0h0M388.7 317.9h0M396.8 324.9h0M386.5 321.0h0M394.6 325.3h0M395.7 285.3h0M390.9 287.5h0M404.5 307.7h0M397.5 328.3h0M390.7 329.3h0M385.2 313.1h0M407.5 310.9h0M401.1 326.5h0M391.8 329.0h0M396.1 329.5h0M384.8 327.8h0M385.7 325.8h0M400.6 304.8h0M387.7 320.7h0M394.3 314.6h0M417.7 328.6h0M388.3 327.4h0M406.9 297.8h0M409.8 308.2h0M384.4 318.4h0M400.4 326.7h0M394.5 327.4h0M407.7 310.7h0M386.9 325.4h0M399.9 321.0h0M399.2 307.4h0M397.1 323.8h0M386.8 309.6h0M400.0 323.0h0M389.7 329.5h0M399.1 328.2h0M410.3 326.8h0M388.2 319.7h0M402.8 319.5h0M399.8 321.9h0M400.5 303.0h0M385.6 313.8h0M391.5 328.6h0M394.5 323.7h0M395.9 323.4h0M395.0 300.7h0M402.0 326.4h0M389.1 321.1h0M391.1 327.5h0M387.2 323.6h0M415.9 293.0h0M383.8 328.2h0M402.4 316.7h0M402.1 301.5h0M387.9 308.0h0M400.9 314.7h0M393.9 319.0h0M408.9 324.4h0M399.8 327.5h0M430.9 300.5h0M401.6 326.3h0M386.6 316.4h0M387.2 321.2h0M393.1 322.3h0M392.5 312.0h0M388.1 328.2h0M403.4 320.5h0M395.5 327.1h0M419.1 328.3h0M384.6 323.9h0M399.8 321.8h0M384.4 328.7h0M385.2 329.5h0M388.6 302.2h0M411.9 322.0h0M396.1 323.2h0M410.0 308.3h0M390.4 322.0h0M415.6 316.1h0M394.2 327.4h0M398.2 324.4h0M411.0 327.7h0M389.2 312.0h0M389.4 326.1h0M393.8 329.4h0M387.6 327.7h0M430.7 318.4h0M393.0 302.5h0M411.1 291.7h0M394.1 328.0h0M389.2 327.7h0M400.3 321.3h0M389.5 328.0h0M396.5 322.1h0M393.2 324.4h0M404.8 326.4h0M431.1 327.1h0M397.0 321.4h0M394.4 326.3h0M388.1 315.6h0M399.1 323.8h0M419.8 299.9h0M387.4 321.8h0M443.9 324.4h0M395.1 305.8h0M384.8 320.8h0M397.1 316.9h0M405.0 320.5h0M386.7 327.1h0M408.2 313.2h0M387.4 322.3h0M385.1 316.5h0M383.5 297.6h0M390.2 290.8h0M394.2 319.0h0M385.5 327.8h0M384.7 327.2h0M413.2 326.5h0M396.8 289.9h0M414.4 310.9h0M390.9 312.4h0M387.8 305.1h0M387.1 322.6h0M385.1 324.5h0M386.7 329.4h0M399.4 316.7h0M452.0 290.5h0M391.0 328.7h0M387.0 323.2h0M397.4 317.7h0M390.5 323.8h0M406.9 319.2h0M390.6 328.2h0M405.1 328.3h0M385.4 327.8h0M414.9 303.4h0M389.0 325.6h0M385.1 324.6h0M385.6 317.4h0M391.9 324.0h0M390.4 323.4h0M402.9 310.5h0M399.6 307.9h0M391.3 327.1h0M400.3 321.1h0M400.0 309.2h0M393.3 316.2h0M393.0 327.4h0M390.2 324.2h0M421.5 321.7h0M384.1 320.6h0M384.0 326.6h0M409.8 320.8h0M408.4 326.4h0M393.3 325.5h0M402.2 313.5h0M386.2 325.3h0M391.2 329.3h0M408.2 319.7h0M398.3 316.3h0M398.2 324.7h0M401.4 322.8h0M384.7 323.2h0M383.8 323.8h0M385.5 325.8h0M417.7 316.4h0M411.1 321.0h0M396.8 327.4h0M421.7 314.5h0M385.7 318.0h0M394.7 312.7h0M397.4 328.3h0M388.0 318.4h0M426.8 315.4h0M398.4 296.6h0M401.3 327.7h0M434.4 323.8h0M400.8 315.3h0M386.4 310.8h0M401.9 322.2h0M394.4 324.7h0M385.7 322.4h0M390.9 326.2h0M389.6 329.6h0M405.2 325.2h0M400.5 329.4h0M397.5 308.8h0M417.8 329.4h0M407.9 296.0h0M387.2 327.8h0M392.9 301.7h0M413.5 312.7h0M390.5 282.5h0M383.8 324.4h0M400.8 316.3h0M404.5 326.5h0M386.6 326.3h0M391.1 326.8h0M388.2 307.6h0M383.5 320.0h0M392.5 328.7h0M390.6 325.0h0M390.0 320.8h0M385.0 301.0h0M388.8 309.4h0M425.0 327.9h0M383.6 322.4h0M393.7 301.3h0M387.6 326.6h0M403.3 320.1h0M393.7 328.4h0M384.4 324.7h0M383.8 321.9h0M386.1 323.5h0M383.6 322.1h0M383.6 326.8h0M393.7 326.2h0M393.3 328.9h0M402.5 325.1h0M411.2 324.0h0M398.4 324.9h0M387.7 328.1h0M393.3 324.5h0M398.4 326.9h0M391.4 328.3h0M386.5 320.5h0M390.1 325.7h0M393.8 327.0h0M401.1 291.5h0M399.4 324.9h0M397.1 325.1h0M389.6 327.2h0M389.8 320.4h0M386.9 319.0h0M402.7 302.4h0M385.1 327.7h0M394.9 327.4h0M408.9 310.1h0M383.4 328.8h0M401.2 288.8h0M397.3 324.0h0M389.4 326.9h0M408.7 307.3h0M407.1 286.3h0M393.0 325.5h0M386.9 329.5h0M416.4 301.8h0M384.5 276.2h0M387.9 320.0h0M402.1 318.9h0M389.2 329.4h0M396.6 317.6h0M399.0 324.3h0M434.1 306.7h0M384.4 322.6h0M405.2 323.4h0M388.4 323.9h0M386.0 326.3h0M384.2 306.6h0M394.4 317.8h0M390.5 327.8h0M413.5 321.5h0M407.7 326.6h0M384.5 318.8h0M389.1 319.0h0M386.9 329.2h0M408.3 322.5h0M393.1 320.3h0M404.8 311.3h0M394.1 325.6h0M396.0 319.1h0M433.7 309.6h0M402.6 327.5h0M409.0 328.4h0M391.7 328.5h0M388.1 318.8h0M401.0 325.6h0M392.3 324.2h0M400.8 322.7h0M392.7 329.3h0M390.1 328.0h0M397.8 327.8h0M421.2 326.7h0M413.3 327.2h0M396.4 329.0h0M394.8 321.4h0M389.3 311.6h0M392.3 317.5h0M402.0 310.9h0M395.1 282.4h0M408.2 304.4h0M400.8 326.1h0M416.5 329.6h0M385.4 328.2h0M400.4 283.2h0M386.8 328.9h0M386.0 327.4h0M385.2 326.4h0M386.7 316.9h0M424.2 319.6h0M395.6 324.4h0M395.9 309.7h0M392.0 309.8h0M383.5 309.8h0M387.7 324.9h0M385.1 328.9h0M417.3 301.5h0M390.8 319.0h0M397.9 327.6h0M387.1 324.7h0M396.8 323.4h0M408.4 316.5h0M392.7 326.8h0M391.4 322.4h0M413.7 318.9h0M413.3 329.4h0M421.8 309.8h0M383.6 328.8h0M393.8 305.5h0M386.5 328.1h0M401.9 328.6h0M403.4 327.2h0M388.1 322.5h0M413.3 278.4h0M390.2 321.4h0M391.7 317.2h0M403.0 319.0h0M402.1 325.5h0M397.8 325.2h0M386.7 328.2h0M383.8 307.8h0M397.6 328.9h0M390.2 318.2h0M390.8 303.8h0M388.4 327.0h0M387.4 327.6h0M385.8 328.1h0M399.9 307.5h0M389.2 328.8h0M385.4 329.7h0M393.9 328.4h0M386.6 323.6h0M398.2 324.8h0M396.6 295.8h0M401.2 328.0h0M385.7 329.4h0M408.4 324.8h0M399.4 295.9h0M401.5 325.4h0M395.7 326.5h0M403.5 327.3h0M389.9 302.6h0M397.1 325.5h0M387.4 329.2h0M389.5 328.2h0M387.7 329.3h0M398.5 305.2h0M386.3 321.3h0M449.6 281.5h0M390.6 320.4h0M400.5 323.6h0M411.1 316.3h0M397.7 314.5h0M386.5 325.3h0M385.3 321.1h0M391.2 326.1h0M389.1 286.4h0M395.3 328.3h0M402.7 314.4h0M383.7 323.1h0M427.4 329.2h0M399.4 318.2h0M433.6 327.3h0M389.2 328.4h0M391.2 324.6h0M394.0 328.6h0M392.1 320.2h0M397.1 322.9h0M408.9 323.6h0M393.2 295.3h0M395.2 325.1h0M398.1 325.6h0M390.7 316.8h0M396.4 321.2h0M388.1 279.5h0M408.5 329.2h0M386.0 327.6h0M384.7 320.9h0M390.9 319.3h0M410.7 327.2h0M401.6 328.6h0M417.9 327.1h0M408.8 316.1h0M385.5 326.1h0M390.0 322.0h0M388.0 327.5h0M394.6 328.7h0M405.6 327.2h0M396.7 316.1h0M411.6 279.7h0M401.6 321.5h0M393.7 324.1h0M386.0 318.5h0M419.1 324.2h0M386.2 301.7h0M385.9 306.0h0M389.6 315.1h0M384.8 319.1h0M386.9 315.7h0M404.0 323.5h0M384.2 316.8h0M410.4 310.7h0M402.5 314.4h0M402.6 329.2h0M385.0 329.3h0M405.4 314.9h0M389.2 303.3h0M389.3 320.0h0M384.3 323.9h0M385.5 329.5h0M416.0 316.7h0M406.1 297.6h0M384.0 294.0h0M398.3 326.6h0M392.6 311.8h0M390.1 325.6h0M392.4 324.6h0M386.7 319.3h0M396.7 299.0h0M384.5 323.5h0M384.5 319.1h0M391.5 294.9h0M391.7 323.3h0M401.3 316.7h0M429.1 323.5h0M392.1 326.4h0M394.7 327.4h0M386.9 327.0h0M391.6 328.1h0M397.6 319.0h0M395.7 321.5h0M386.6 326.5h0M393.3 328.6h0M412.0 311.4h0M389.2 289.5h0M426.2 183.2h0M399.4 197.0h0M403.2 237.4h0M412.0 237.4h0M392.9 241.8h0M454.7 263.2h0M384.9 264.9h0M387.7 281.7h0M394.0 266.0h0M401.0 268.0h0M408.0 266.0h0M396.0 272.0h0M390.0 276.0h0M413.1 261.3h0M455.3 263.3h0M445.0 287.0h0M448.0 293.0h0M438.0 289.0h0M452.0 318.0h0M456.0 323.0h0M445.0 310.0h0M430.0 277.0h0M420.0 272.0h0M405.0 279.0h0M399.0 287.0h0M393.0 289.0h0M386.0 271.0h0" stroke="#a80000" stroke-width="2.2" stroke-linecap="round"/>
<line x1="371.6" y1="154.4" x2="371.6" y2="332.6" stroke="#222" stroke-width="0.9" />
<line x1="312.4" y1="154.1" x2="312.4" y2="332.6" stroke="#111" stroke-width="1.1" />
<line x1="312.4" y1="332.6" x2="460.4" y2="332.6" stroke="#111" stroke-width="1.1" />
<line x1="309.4" y1="332.6" x2="312.4" y2="332.6" stroke="#111" stroke-width="0.9" />
<text x="309" y="334.9" font-size="6.4" text-anchor="end" fill="#111">0</text>
<line x1="309.4" y1="310.33" x2="312.4" y2="310.33" stroke="#111" stroke-width="0.9" />
<text x="309" y="312.63" font-size="6.4" text-anchor="end" fill="#111">10</text>
<line x1="309.4" y1="288.06" x2="312.4" y2="288.06" stroke="#111" stroke-width="0.9" />
<text x="309" y="290.36" font-size="6.4" text-anchor="end" fill="#111">20</text>
<line x1="309.4" y1="265.79" x2="312.4" y2="265.79" stroke="#111" stroke-width="0.9" />
<text x="309" y="268.09" font-size="6.4" text-anchor="end" fill="#111">30</text>
<line x1="309.4" y1="243.52" x2="312.4" y2="243.52" stroke="#111" stroke-width="0.9" />
<text x="309" y="245.82" font-size="6.4" text-anchor="end" fill="#111">40</text>
<line x1="309.4" y1="221.25" x2="312.4" y2="221.25" stroke="#111" stroke-width="0.9" />
<text x="309" y="223.55" font-size="6.4" text-anchor="end" fill="#111">50</text>
<line x1="309.4" y1="198.98" x2="312.4" y2="198.98" stroke="#111" stroke-width="0.9" />
<text x="309" y="201.28" font-size="6.4" text-anchor="end" fill="#111">60</text>
<line x1="309.4" y1="176.71" x2="312.4" y2="176.71" stroke="#111" stroke-width="0.9" />
<text x="309" y="179.01" font-size="6.4" text-anchor="end" fill="#111">70</text>
<line x1="309.4" y1="154.44" x2="312.4" y2="154.44" stroke="#111" stroke-width="0.9" />
<text x="309" y="156.74" font-size="6.4" text-anchor="end" fill="#111">80</text>
<line x1="312.6" y1="332.6" x2="312.6" y2="334.8" stroke="#111" stroke-width="0.9" />
<text x="312.6" y="342.06" font-size="6.2" text-anchor="middle" fill="#111">-2</text>
<line x1="342.1" y1="332.6" x2="342.1" y2="334.8" stroke="#111" stroke-width="0.9" />
<text x="342.1" y="342.06" font-size="6.2" text-anchor="middle" fill="#111">-1</text>
<line x1="371.6" y1="332.6" x2="371.6" y2="334.8" stroke="#111" stroke-width="0.9" />
<text x="371.6" y="342.06" font-size="6.2" text-anchor="middle" fill="#111">0</text>
<line x1="401.1" y1="332.6" x2="401.1" y2="334.8" stroke="#111" stroke-width="0.9" />
<text x="401.1" y="342.06" font-size="6.2" text-anchor="middle" fill="#111">1</text>
<line x1="430.6" y1="332.6" x2="430.6" y2="334.8" stroke="#111" stroke-width="0.9" />
<text x="430.6" y="342.06" font-size="6.2" text-anchor="middle" fill="#111">2</text>
<line x1="460.1" y1="332.6" x2="460.1" y2="334.8" stroke="#111" stroke-width="0.9" />
<text x="460.1" y="342.06" font-size="6.2" text-anchor="middle" fill="#111">3</text>
<line x1="358.9" y1="172" x2="325.1" y2="172" stroke="#ff4d4d" stroke-width="2" />
<path d="M321.1 172 L326.1 169.4 L326.1 174.6 Z" fill="#ff4d4d"/>
<line x1="384.8" y1="171.8" x2="418.9" y2="171.8" stroke="#a80000" stroke-width="2" />
<path d="M422.9 171.8 L417.9 169.2 L417.9 174.4 Z" fill="#a80000"/>
<text x="358.4" y="161.2" font-size="7.2" font-weight="bold" text-anchor="end" fill="#111">Decreased</text>
<text x="358.4" y="168.7" font-size="7.2" font-weight="bold" text-anchor="end" fill="#111">by AAE</text>
<text x="385.8" y="161.2" font-size="7.2" font-weight="bold" fill="#111">Increased</text>
<text x="385.8" y="168.7" font-size="7.2" font-weight="bold" fill="#111">by AAE</text>
<text x="356.8" y="180" font-size="7.2" font-weight="bold" text-anchor="end" fill="#ff4d4d">180</text>
<text x="385.8" y="180" font-size="7.2" font-weight="bold" fill="#a80000">1,173</text>
<text x="299.13" y="243.4" font-size="9.2" font-weight="bold" text-anchor="middle" fill="#111" transform="rotate(-90 299.13 243.4)" textLength="72" lengthAdjust="spacingAndGlyphs">-log<tspan font-size="6.44" dy="2.3">10</tspan><tspan dy="-2.3"> adj p-value</tspan></text>
<text x="386.8" y="354" font-size="9.2" font-weight="bold" text-anchor="middle" fill="#111" textLength="124.6" lengthAdjust="spacingAndGlyphs">log<tspan font-size="6.44" dy="2.3">2</tspan><tspan dy="-2.3">FC (10min Ex vs Pre Sed)</tspan></text>
<rect x="416.2" y="189.8" width="81.8" height="65.1" fill="#e4e4e4" stroke="#333" stroke-width="0.8" rx="5"/>
<circle cx="441.3" cy="220.5" r="21" fill="#a3a3a3" stroke="#333" stroke-width="0.7"/>
<path d="M441.3 220.5 L441.3 199.5 A21 21 0 0 1 456.24 205.74 Z" fill="#a80000"/>
<path d="M441.3 220.5 L456.24 205.74 A21 21 0 0 1 457.92 207.66 Z" fill="#ff4d4d"/>
<text x="441.3" y="227" font-size="3.9" font-weight="bold" text-anchor="middle" fill="#111">Not</text>
<text x="441.3" y="231.2" font-size="3.9" font-weight="bold" text-anchor="middle" fill="#111">AAE-regulated</text>
<text x="441.3" y="235.4" font-size="3.9" font-weight="bold" text-anchor="middle" fill="#111">(7,959)</text>
<text x="420.4" y="246.3" font-size="5" font-weight="bold" fill="#111" textLength="42.5" lengthAdjust="spacingAndGlyphs">Phosphopeptides</text>
<text x="420.4" y="252.3" font-size="5" font-weight="bold" fill="#111" textLength="42.5" lengthAdjust="spacingAndGlyphs">Identified = 9,312</text>
<text x="483" y="193.4" font-size="3.7" font-weight="bold" text-anchor="middle" fill="#111">Increased</text>
<text x="483" y="197.9" font-size="3.7" font-weight="bold" text-anchor="middle" fill="#111">Phosphorylation</text>
<text x="483" y="202.4" font-size="3.7" font-weight="bold" text-anchor="middle" fill="#111">by AAE (1,173)</text>
<text x="484" y="215.1" font-size="3.7" font-weight="bold" text-anchor="middle" fill="#111">Decreased</text>
<text x="484" y="219.6" font-size="3.7" font-weight="bold" text-anchor="middle" fill="#111">Phosphorylation</text>
<text x="484" y="224.1" font-size="3.7" font-weight="bold" text-anchor="middle" fill="#111">by AAE (180)</text>
<line x1="450.2" y1="204.6" x2="469" y2="194.5" stroke="#111" stroke-width="0.5" />
<line x1="454.8" y1="211.3" x2="470.7" y2="213.5" stroke="#111" stroke-width="0.5" />
<text x="503.6" y="148.6" font-size="14.2" font-weight="bold" text-anchor="middle">G</text>
<text x="587.3" y="146.2" font-size="9.2" font-weight="bold" text-anchor="middle" fill="#111" textLength="101.3" lengthAdjust="spacingAndGlyphs">ARE Phosphoproteome</text>
<line x1="536.7" y1="148.3" x2="638" y2="148.3" stroke="#111" stroke-width="0.9" />
<line x1="573.6" y1="153.5" x2="573.6" y2="331.5" stroke="#cfcfcf" stroke-width="0.6" />
<line x1="595.2" y1="153.5" x2="595.2" y2="331.5" stroke="#cfcfcf" stroke-width="0.6" />
<line x1="525" y1="328.61" x2="673.4" y2="328.61" stroke="#cfcfcf" stroke-width="0.6" />
<path d="M593.3 324.7h0M598.0 330.4h0M594.6 328.1h0M571.8 321.9h0M580.8 328.7h0M591.6 326.3h0M592.9 326.8h0M589.5 331.0h0M594.5 330.9h0M585.0 331.4h0M578.6 330.6h0M595.0 326.9h0M581.6 331.3h0M581.3 331.0h0M590.7 329.1h0M590.6 331.4h0M580.1 325.3h0M577.9 327.8h0M573.3 321.0h0M586.5 331.5h0M593.6 328.1h0M573.4 315.3h0M584.3 331.3h0M580.4 328.4h0M589.5 329.0h0M588.6 326.5h0M595.1 323.7h0M592.8 325.9h0M581.5 331.0h0M580.5 326.8h0M569.3 319.1h0M583.4 331.3h0M572.6 318.2h0M574.1 320.3h0M582.8 330.7h0M595.6 323.0h0M586.0 331.5h0M581.0 330.7h0M577.2 328.0h0M582.5 331.4h0M581.0 328.8h0M588.3 331.5h0M579.1 329.6h0M585.7 331.4h0M579.9 327.1h0M572.0 327.3h0M572.7 321.5h0M585.4 331.4h0M590.7 326.0h0M577.0 330.2h0M573.1 326.2h0M595.8 325.2h0M575.5 318.7h0M581.5 329.4h0M581.2 331.5h0M582.2 330.1h0M584.5 331.4h0M592.5 331.2h0M596.5 320.4h0M595.1 320.8h0M575.8 329.4h0M577.3 322.5h0M580.8 330.3h0M596.1 321.3h0M588.4 330.4h0M595.5 320.9h0M581.7 331.5h0M574.5 322.6h0M595.1 329.2h0M581.5 329.1h0M586.4 331.0h0M572.9 326.1h0M590.3 330.7h0M576.8 323.8h0M589.9 327.2h0M581.8 327.0h0M587.5 331.3h0M578.7 330.0h0M590.8 329.0h0M590.3 327.2h0M594.5 328.8h0M582.7 329.6h0M576.9 322.5h0M579.2 326.4h0M588.3 328.0h0M577.1 331.1h0M594.9 322.5h0M574.3 324.3h0M595.7 324.9h0M594.2 328.9h0M591.9 327.0h0M592.7 327.8h0M575.0 320.2h0M597.1 330.2h0M582.7 330.1h0M585.1 331.4h0M594.6 327.6h0M576.0 331.5h0M579.2 326.9h0M594.5 328.8h0M593.2 324.0h0M577.5 328.9h0M578.8 324.3h0M581.9 331.5h0M592.0 331.5h0M572.0 313.9h0M574.7 325.7h0M595.6 324.7h0M591.5 327.8h0M594.1 328.9h0M575.3 330.8h0M582.1 328.8h0M583.9 330.1h0M586.1 331.3h0M576.1 325.6h0M594.9 326.0h0M582.2 327.9h0M594.2 328.4h0M578.1 323.0h0M577.7 322.8h0M596.3 331.2h0M581.0 324.3h0M576.6 322.5h0M574.4 319.9h0M578.8 321.9h0M590.4 327.2h0M588.0 329.0h0M573.0 324.1h0M586.9 330.9h0M577.7 328.9h0M573.0 314.4h0M573.0 324.6h0M596.7 320.5h0M591.9 326.5h0M577.3 325.4h0M575.9 331.2h0M576.9 324.3h0M593.8 328.9h0M592.4 328.3h0M584.6 331.5h0M578.5 326.4h0M580.6 323.9h0M598.2 330.9h0M583.1 331.4h0M580.1 327.3h0M593.1 324.5h0M596.5 330.8h0M582.0 330.7h0M594.9 324.4h0M596.7 328.6h0M596.2 327.7h0M592.1 327.6h0M591.3 326.3h0M591.9 330.4h0M578.1 329.2h0M588.9 330.9h0M573.2 328.6h0M588.5 329.2h0M576.0 329.7h0M594.5 324.9h0M578.0 328.1h0M582.9 331.5h0M585.4 329.3h0M596.6 331.0h0M591.0 331.4h0M584.5 331.3h0M577.2 323.8h0M574.0 328.3h0M597.0 324.3h0M585.3 330.9h0M592.7 324.8h0M570.6 318.5h0M578.7 328.3h0M596.4 331.4h0M599.1 323.8h0M593.7 329.6h0M589.3 330.7h0M582.5 330.8h0M584.4 331.0h0M595.3 331.4h0M594.5 330.8h0M591.4 325.4h0M572.6 324.6h0M587.4 329.9h0M572.7 315.2h0M575.1 319.4h0M589.0 327.2h0M572.3 322.3h0M576.0 327.8h0M573.1 329.3h0M584.1 331.5h0M591.9 327.3h0M574.2 321.7h0M578.4 326.4h0M586.2 330.9h0M574.5 317.3h0M579.2 324.9h0M578.0 328.0h0M596.4 327.0h0M585.0 331.5h0M577.5 327.8h0M588.3 329.1h0M593.7 326.6h0M588.6 327.8h0M579.4 326.3h0M593.3 331.5h0M578.9 330.1h0M572.3 323.7h0M573.3 321.4h0M578.5 328.8h0M589.7 329.9h0M576.7 326.0h0M570.5 318.0h0M590.3 328.6h0M591.4 329.6h0M580.6 331.0h0M590.1 328.3h0M580.1 327.0h0M586.4 331.3h0M582.0 329.7h0M591.2 329.7h0M590.1 330.0h0M572.3 328.7h0M578.7 329.8h0M579.5 328.9h0M589.4 331.3h0M579.6 329.6h0M585.9 331.1h0M580.6 331.5h0M584.6 331.4h0M571.1 330.8h0M588.6 330.2h0M586.6 329.5h0M581.8 329.1h0M574.6 324.0h0M574.0 329.9h0M594.7 327.9h0M579.3 330.9h0M596.3 330.1h0M572.8 328.7h0M586.5 331.3h0M576.0 327.1h0M573.6 331.4h0M589.8 330.7h0M570.6 330.8h0M594.5 322.4h0M592.8 325.4h0M583.1 331.5h0M573.0 320.0h0M577.0 329.4h0M594.2 331.2h0M584.8 331.5h0M590.0 330.1h0M595.7 327.3h0M582.2 328.0h0M596.6 325.8h0M595.5 324.6h0M593.3 326.8h0M571.1 322.4h0M580.3 327.5h0M574.9 328.3h0M593.1 329.6h0M579.4 329.0h0M594.5 329.9h0M579.3 328.2h0M575.6 328.7h0M578.5 324.9h0M594.8 326.0h0M589.4 331.1h0M591.5 327.7h0M592.8 329.5h0M590.8 328.7h0M598.3 328.8h0M587.5 330.9h0M593.6 329.6h0M594.3 330.8h0M576.1 329.9h0M589.1 329.4h0M589.6 330.5h0M591.0 330.4h0M571.1 328.8h0M574.1 318.7h0M596.4 329.3h0M577.5 330.5h0M587.6 329.6h0M575.1 324.2h0M585.2 331.2h0M591.4 330.8h0M579.7 326.6h0M573.1 326.4h0M577.7 331.1h0M591.4 330.9h0M579.2 328.7h0M576.7 329.5h0M589.5 330.8h0M577.1 320.1h0M591.3 325.8h0M571.5 325.7h0M584.3 331.5h0M572.7 320.6h0M575.1 328.7h0M587.0 329.7h0M571.0 331.4h0M590.5 326.0h0M583.3 330.6h0M581.2 331.1h0M570.3 323.6h0M573.8 331.5h0M597.4 328.8h0M591.3 331.2h0M578.1 329.9h0M591.3 324.4h0M592.9 328.8h0M586.6 328.9h0M597.4 327.9h0M577.4 329.9h0M588.4 328.4h0M574.3 318.3h0M588.5 328.3h0M594.3 329.8h0M586.5 331.5h0M576.8 320.3h0M582.7 330.9h0M582.7 330.9h0M586.7 328.7h0M590.8 330.6h0M591.1 329.4h0M574.2 318.5h0M591.6 330.1h0M586.2 329.8h0M595.9 329.6h0M581.0 329.4h0M579.0 327.0h0M587.9 331.1h0M589.5 331.4h0M597.3 328.5h0M577.2 331.4h0M592.6 330.8h0M595.1 326.1h0M589.2 330.5h0M577.5 321.3h0M597.4 319.8h0M571.5 314.9h0M578.0 326.8h0M577.9 327.1h0M578.8 330.5h0M575.7 322.5h0M572.8 323.9h0M578.4 330.9h0M588.1 330.7h0M585.0 331.2h0M594.5 327.8h0M588.8 328.5h0M590.0 331.2h0M580.9 326.6h0M578.9 330.7h0M578.2 326.0h0M591.3 326.0h0M594.0 325.1h0M578.5 328.6h0M574.0 324.4h0M580.9 323.8h0M580.1 331.4h0M577.3 325.0h0M599.4 322.9h0M596.1 323.0h0M588.0 330.3h0M590.2 327.5h0M578.2 327.3h0M578.8 329.6h0M575.3 330.7h0M574.8 328.8h0M575.5 329.3h0M586.9 329.8h0M591.9 330.7h0M573.9 317.0h0M587.5 331.4h0M574.2 324.4h0M595.9 329.9h0M593.8 327.6h0M583.3 330.7h0M577.7 324.1h0M595.1 321.1h0M575.6 327.2h0M572.2 331.1h0M595.1 330.3h0M572.4 318.8h0M592.0 330.3h0M577.8 323.9h0M594.5 329.2h0M584.9 331.0h0M589.0 329.2h0M577.6 322.6h0M573.4 317.3h0M581.9 329.0h0M596.3 326.0h0M590.7 328.3h0M585.9 331.4h0M595.2 326.3h0M586.2 331.3h0M592.5 327.7h0M587.4 330.5h0M589.8 330.1h0M578.5 326.6h0M588.8 329.6h0M574.0 322.8h0M579.0 330.4h0M578.6 331.2h0M591.1 331.5h0M591.0 328.7h0M573.9 328.5h0M589.4 329.9h0M586.3 329.7h0M574.8 323.7h0M578.8 325.9h0M573.5 317.6h0M598.5 327.5h0M578.1 329.8h0M580.3 330.0h0M573.9 320.5h0M572.6 328.3h0M595.6 323.3h0M580.3 330.2h0M572.2 322.0h0M597.0 321.3h0M577.2 324.0h0M578.2 323.6h0M581.0 327.9h0M598.5 324.5h0M570.6 331.3h0M590.2 330.7h0M593.1 325.6h0M572.7 316.1h0M581.0 328.6h0M590.0 331.2h0M584.1 331.1h0M577.8 330.5h0M574.0 329.7h0M588.4 329.7h0M577.8 331.3h0M588.6 331.5h0M591.7 331.4h0M571.2 322.7h0M596.0 326.0h0M578.3 325.6h0M577.0 321.2h0M595.2 328.6h0M576.6 327.9h0M596.3 327.5h0M589.5 330.1h0M584.2 330.9h0M590.5 329.5h0M592.3 326.4h0M573.8 325.9h0M578.7 327.5h0M581.2 330.2h0M589.2 331.2h0M589.9 327.1h0M592.4 329.2h0M586.7 330.0h0M589.4 330.6h0M580.9 331.5h0M577.9 326.8h0M579.7 331.2h0M579.1 328.8h0M590.4 330.7h0M577.7 330.4h0M574.3 318.4h0M587.9 328.0h0M584.5 330.7h0M591.4 328.0h0M582.4 331.0h0M584.6 330.8h0M593.9 327.4h0M574.1 320.6h0M586.6 331.1h0M597.0 321.6h0M597.4 329.8h0M579.7 329.9h0M573.1 319.3h0M592.1 328.0h0M584.4 331.1h0M579.1 323.6h0M591.6 328.0h0M595.8 322.8h0M586.5 329.5h0M596.9 331.0h0M571.4 316.1h0M580.6 328.6h0M571.9 320.0h0M573.7 327.8h0M598.3 330.3h0M581.1 325.7h0M594.8 322.0h0M594.9 327.8h0M581.0 328.2h0M576.1 320.9h0M575.9 331.4h0M582.0 331.2h0M574.0 325.3h0M595.5 321.6h0M592.8 323.4h0M580.4 328.2h0M590.8 326.7h0M593.1 330.4h0M575.0 323.8h0M580.3 330.1h0M588.7 328.9h0M579.8 331.3h0M577.6 328.3h0M569.0 330.5h0M579.2 327.5h0M593.0 324.6h0M571.8 316.9h0M571.9 330.9h0M590.6 328.4h0M595.5 324.1h0M584.8 331.4h0M588.8 330.4h0M574.5 319.3h0M575.9 327.7h0M584.5 330.9h0M576.9 331.2h0M582.6 331.4h0M569.6 325.1h0M574.8 328.1h0M592.7 325.2h0M569.3 322.1h0M571.2 327.1h0M592.9 329.3h0M590.2 330.3h0M570.9 330.9h0M592.8 327.4h0M578.0 331.2h0M574.2 329.1h0M574.9 325.8h0M587.3 327.9h0M584.0 331.3h0M579.2 330.8h0M595.1 328.6h0M591.4 328.1h0M581.2 327.9h0M570.8 330.2h0M578.6 330.4h0M581.4 329.0h0M590.2 331.4h0M583.0 330.0h0M581.1 329.6h0M597.8 321.7h0M591.4 331.4h0M581.8 326.9h0M571.6 322.5h0M591.8 329.9h0M582.7 330.7h0M591.3 327.7h0M596.2 326.9h0M589.3 328.4h0M589.4 329.3h0M590.3 331.3h0M582.5 327.0h0M578.9 330.7h0M571.7 314.8h0M590.4 328.8h0M596.6 330.7h0M578.5 326.9h0M572.4 327.0h0M579.2 331.0h0M592.7 328.5h0M573.7 325.3h0M593.1 325.0h0M579.4 329.4h0M588.5 329.4h0M579.4 323.3h0M578.0 323.7h0M592.5 329.0h0M580.0 326.4h0M575.3 326.6h0M581.7 326.0h0M589.8 328.4h0M575.0 319.1h0M594.6 326.3h0M579.5 331.1h0M575.1 326.5h0M593.7 323.3h0M588.7 329.2h0M593.2 328.4h0M569.3 318.3h0M583.2 330.9h0M580.2 328.3h0M585.7 331.3h0M591.0 331.4h0M570.8 319.7h0M574.2 329.1h0M586.4 331.3h0M592.5 330.9h0M581.7 331.0h0M573.2 326.1h0M575.7 328.2h0M593.2 330.4h0M589.1 331.1h0M570.3 313.4h0M598.1 329.0h0M577.2 325.1h0M580.1 330.2h0M574.1 330.0h0M591.2 324.8h0M583.9 330.8h0M586.8 329.1h0M575.4 317.3h0M587.1 330.2h0M595.9 325.3h0M585.0 331.5h0M588.5 330.7h0M587.6 330.4h0M573.7 324.3h0M574.2 326.9h0M575.5 330.2h0M590.2 330.5h0M576.3 325.6h0M597.5 325.1h0M576.5 331.3h0M576.6 322.1h0M571.7 316.5h0M583.9 329.9h0M582.0 330.3h0M585.3 331.0h0M577.9 323.9h0M595.8 327.2h0M586.5 331.4h0M572.4 319.8h0M579.5 323.9h0M579.7 328.6h0M588.1 331.2h0M591.6 330.7h0M587.7 331.5h0M596.6 320.3h0M573.8 331.1h0M589.3 329.8h0M592.8 327.4h0M579.2 328.5h0M587.4 331.4h0M577.8 331.3h0M591.3 329.9h0M578.2 330.8h0M572.5 328.0h0M578.4 329.8h0M579.1 324.1h0M577.8 328.9h0M576.5 321.0h0M580.1 330.8h0M575.9 322.2h0M573.8 331.5h0M581.4 330.7h0M574.4 330.7h0M579.6 328.1h0M593.7 330.0h0M594.6 327.5h0M578.0 324.1h0M596.0 319.2h0M580.5 329.0h0M579.9 329.7h0M593.7 323.6h0M591.5 326.6h0M589.6 327.7h0M583.3 330.0h0M597.3 322.2h0M585.8 330.6h0M573.1 325.6h0M578.0 323.6h0M593.2 329.4h0M594.4 325.6h0M585.3 331.2h0M593.9 321.8h0M578.4 329.6h0M592.0 324.6h0M577.9 327.4h0M600.8 329.8h0M591.9 330.1h0M581.7 330.6h0M594.8 331.2h0M590.2 330.2h0M593.2 328.8h0M585.3 331.5h0M583.4 330.9h0M588.3 329.2h0M579.8 327.0h0M588.4 328.3h0M593.7 331.4h0M598.9 321.7h0M580.2 327.7h0M576.0 325.1h0M597.9 328.9h0M589.8 327.4h0M575.2 328.8h0M583.0 331.5h0M596.7 329.0h0M590.2 327.6h0M580.7 327.8h0M595.2 325.4h0M570.6 327.8h0M580.0 330.3h0M589.8 330.8h0M574.6 315.6h0M579.6 324.2h0M594.3 330.1h0M585.8 331.4h0M593.5 327.7h0M575.4 320.7h0M587.9 328.9h0M578.1 326.7h0M584.8 331.5h0M580.3 329.4h0M594.7 331.0h0M575.1 318.1h0M582.0 331.5h0M587.0 329.4h0M575.7 316.7h0M593.8 326.0h0M597.4 328.9h0M593.0 324.0h0M587.7 329.7h0M570.9 327.0h0M597.3 330.6h0M590.1 327.3h0M578.6 321.8h0M588.4 328.8h0M583.1 329.8h0M573.0 319.4h0M577.6 330.6h0M585.6 330.6h0M574.0 330.4h0M573.5 327.9h0M576.5 324.6h0M572.7 323.0h0M576.5 330.2h0M577.4 322.2h0M578.8 330.5h0M580.5 322.6h0M583.3 331.4h0M578.1 324.2h0M585.4 330.8h0M579.4 330.6h0M579.5 331.3h0M573.3 331.1h0M582.9 330.4h0M595.2 323.5h0M598.2 331.4h0M581.6 328.7h0M592.3 330.8h0M577.9 330.0h0M576.8 321.5h0M571.7 325.7h0M588.0 329.1h0M582.9 331.5h0M591.2 326.1h0M575.1 331.1h0M576.8 322.9h0M591.5 329.0h0M596.9 327.1h0M590.8 329.5h0M588.4 327.6h0M579.9 329.0h0M591.6 325.4h0M592.7 331.4h0M580.4 331.5h0M592.3 327.5h0M583.6 331.0h0M592.9 328.7h0M586.8 331.4h0M577.2 325.9h0M575.9 319.9h0M581.3 331.4h0M596.9 327.2h0M587.5 329.7h0M572.7 324.0h0M572.4 317.2h0M597.4 331.5h0M570.4 329.3h0M587.8 330.6h0M578.9 328.6h0M579.1 325.5h0M571.0 320.3h0M595.0 327.2h0M575.3 330.9h0M591.4 328.7h0M591.5 330.1h0M592.1 328.9h0M582.9 329.0h0M595.6 328.1h0M578.4 329.4h0M591.3 328.5h0M583.3 331.4h0M594.6 326.1h0M586.0 330.3h0M578.3 328.2h0M590.8 331.3h0M594.0 328.5h0M579.5 327.8h0M573.5 324.3h0M596.0 322.5h0M580.0 324.5h0M582.7 329.8h0M575.1 330.9h0M594.2 331.3h0M593.5 331.1h0M585.3 330.5h0M590.5 329.6h0M575.6 327.8h0M589.0 329.8h0M578.0 331.2h0M599.6 329.7h0M597.2 326.9h0M584.0 331.4h0M573.4 325.7h0M597.5 330.3h0M584.8 331.0h0M590.1 331.3h0M595.4 324.8h0M584.6 331.1h0M596.0 330.7h0M580.3 330.3h0M591.6 325.0h0M590.2 328.2h0M589.8 329.2h0M596.0 331.4h0M595.1 327.2h0M593.9 327.8h0M596.3 331.5h0M585.9 330.5h0M573.6 319.1h0M573.8 330.8h0M577.3 328.5h0M571.5 321.5h0M598.5 328.7h0M592.1 326.0h0M574.3 324.1h0M576.2 321.8h0M579.7 328.5h0M576.5 329.1h0M589.0 330.4h0M575.7 329.5h0M591.0 329.6h0M580.4 328.3h0M571.4 327.6h0M578.2 321.7h0M575.3 323.9h0M589.4 330.6h0M594.5 329.8h0M590.0 331.5h0M572.9 319.6h0M573.0 327.5h0M576.4 323.4h0M575.0 323.9h0M588.4 327.0h0M574.2 328.4h0M588.1 329.6h0M590.1 330.6h0M581.8 330.4h0M588.3 331.4h0M575.7 324.7h0M595.2 320.1h0M596.7 331.5h0M593.6 327.8h0M590.2 330.1h0M591.5 324.9h0M591.5 326.9h0M576.4 325.2h0M579.7 329.1h0M582.9 330.2h0M590.2 325.5h0M593.7 328.7h0M590.6 331.4h0M576.9 328.2h0M589.5 331.2h0M580.6 331.4h0M591.8 330.0h0M573.9 329.4h0M580.5 324.8h0M588.6 327.1h0M578.4 328.1h0M592.4 329.9h0M592.9 323.9h0M574.7 328.8h0M571.7 316.4h0M581.8 330.4h0M571.5 325.6h0M574.0 326.9h0M586.2 331.3h0M573.6 316.7h0M574.9 330.0h0M585.6 330.7h0M590.0 329.7h0M586.9 331.3h0M573.0 317.6h0M586.3 331.5h0M576.9 326.4h0M589.3 329.0h0M578.5 331.0h0M595.3 331.5h0M577.8 327.3h0M592.5 330.9h0M582.5 329.4h0M581.0 331.5h0M594.9 331.4h0M581.8 327.1h0M598.0 330.0h0M592.3 329.2h0M593.9 331.5h0M595.7 331.4h0M590.4 326.8h0M595.1 322.0h0M593.6 324.9h0M573.8 328.8h0M571.7 330.5h0M593.1 328.1h0M587.0 330.2h0M595.8 321.9h0M578.9 326.5h0M575.1 323.3h0M589.3 331.1h0M582.7 330.6h0M590.9 326.0h0M588.2 331.3h0M590.2 331.4h0M574.5 322.6h0M588.7 330.1h0M582.5 329.0h0M589.7 327.3h0M588.5 330.7h0M596.4 322.2h0M596.3 325.8h0M588.4 327.8h0M577.8 320.4h0M570.2 330.5h0M574.0 330.7h0M572.9 320.5h0M588.3 329.3h0M591.3 328.2h0M581.2 325.2h0M587.8 330.8h0M573.1 323.6h0M592.0 324.9h0M573.6 328.6h0M572.1 325.5h0M575.4 331.5h0M594.9 328.1h0M572.0 318.4h0M588.3 330.3h0M580.5 326.6h0M578.0 328.9h0M581.2 328.6h0M576.4 323.7h0M586.6 330.9h0M596.1 321.8h0M586.4 330.9h0M596.0 326.0h0M590.9 327.0h0M595.8 331.2h0M576.1 323.6h0M593.4 326.1h0M585.5 331.0h0M589.4 329.2h0M586.2 330.5h0M581.9 331.2h0M590.1 331.5h0M588.6 329.8h0M598.3 330.5h0M572.6 331.4h0M573.2 325.6h0M572.7 321.8h0M583.4 327.8h0M579.3 327.3h0M593.4 331.0h0M578.0 326.8h0M595.9 331.3h0M591.9 331.0h0M590.7 327.4h0M594.0 326.4h0M595.0 329.5h0M586.9 331.1h0M593.9 331.5h0M577.5 324.0h0M596.0 322.3h0M571.9 331.2h0M588.7 328.5h0M589.7 330.2h0M578.7 324.1h0M583.7 329.2h0M588.4 330.2h0M572.1 317.5h0M576.9 323.6h0M587.7 331.2h0M570.9 322.0h0M596.4 320.4h0M579.4 330.2h0M591.0 329.2h0M594.9 325.0h0M580.8 325.3h0M588.1 329.2h0M580.7 326.3h0M595.8 320.6h0M586.3 331.5h0M582.3 329.6h0M578.4 325.1h0M573.5 324.5h0M573.6 320.2h0M584.8 331.4h0M578.6 328.5h0M595.2 326.8h0M573.3 324.6h0M578.6 327.2h0M593.5 322.5h0M585.6 330.3h0M580.5 330.0h0M577.9 328.0h0M581.0 327.2h0M577.0 331.2h0M577.9 322.5h0M595.5 327.0h0M587.4 329.5h0M571.1 317.1h0M592.5 323.9h0M578.2 326.8h0M576.8 326.9h0M573.4 321.7h0M587.6 329.8h0M580.7 327.6h0M575.3 320.4h0M584.4 331.0h0M595.2 324.6h0M580.9 325.9h0M587.5 331.5h0M595.6 322.2h0M591.8 329.7h0M577.7 323.1h0M595.6 322.1h0M591.9 325.3h0M597.8 320.6h0M583.3 330.8h0M589.8 331.5h0M587.4 330.5h0M592.3 330.1h0M592.6 326.3h0M594.7 321.5h0M577.1 326.0h0M576.4 327.8h0M574.3 330.8h0M577.4 331.2h0M588.2 328.2h0M588.1 330.0h0M581.6 330.4h0M573.7 330.0h0M576.8 329.6h0M576.6 321.1h0M595.9 330.3h0M576.8 320.9h0M590.0 330.4h0M581.5 331.0h0M588.8 330.4h0M573.9 320.5h0M577.6 330.0h0M595.6 329.2h0M596.8 325.6h0M597.1 330.1h0M579.5 331.3h0M591.2 329.6h0M583.2 331.3h0M576.9 331.5h0M588.4 329.4h0M591.8 322.8h0M586.5 330.8h0M597.0 327.7h0M574.0 330.6h0M573.9 317.0h0M576.5 329.3h0M585.0 331.5h0M579.1 327.4h0M581.2 328.6h0M575.1 331.4h0M592.8 330.4h0M584.1 330.3h0M576.5 331.4h0M571.1 329.8h0M591.7 327.7h0M589.4 329.8h0M574.4 324.7h0M595.1 330.8h0M595.4 330.6h0M592.4 329.8h0M583.0 331.1h0M587.0 330.5h0M596.4 327.8h0M580.0 330.7h0M575.4 328.2h0M580.1 328.2h0M580.4 329.8h0M573.9 320.2h0M577.3 327.5h0M582.4 330.5h0M590.4 328.6h0M575.3 282.3h0M575.8 293.7h0M577.0 300.0h0M576.5 222.0h0M578.0 305.0h0M591.0 305.0h0M589.0 300.0h0M594.0 310.0h0" stroke="#a6a6a6" stroke-width="1.1" stroke-linecap="round"/>
<path d="M570.7 327.8h0M572.9 326.3h0M570.1 323.8h0M565.8 326.0h0M572.3 324.7h0M564.4 322.3h0M569.2 328.1h0M563.7 322.6h0M562.4 328.1h0M570.9 327.0h0M569.5 327.6h0M571.0 322.6h0M569.0 325.9h0M566.0 327.1h0M571.1 322.9h0M568.5 327.4h0M565.1 322.6h0M569.8 322.2h0M574.1 323.8h0M574.1 325.8h0M570.8 322.0h0M567.2 322.7h0M572.4 322.1h0M564.6 323.8h0M565.4 324.6h0M571.2 325.4h0M572.7 321.6h0M573.0 329.3h0M571.2 325.1h0M571.3 323.3h0M565.9 327.4h0M567.8 321.8h0M571.8 326.1h0M569.0 322.5h0M570.0 328.0h0M566.8 323.3h0M566.1 328.7h0M565.5 322.0h0M565.3 329.0h0M572.7 325.9h0M573.9 327.7h0M573.8 327.8h0M561.1 325.4h0M570.5 328.2h0M566.1 326.0h0M567.7 322.1h0M561.3 326.6h0M571.8 326.2h0M567.3 322.6h0M566.1 322.8h0M568.1 327.6h0M561.3 321.8h0M571.3 326.7h0M564.3 322.3h0M568.1 326.2h0M568.5 326.6h0M573.1 329.0h0M569.9 325.5h0M571.2 329.2h0M566.9 324.2h0M565.4 322.5h0M571.6 329.2h0M573.9 323.2h0M567.2 326.7h0M568.3 329.3h0M571.7 321.9h0M565.6 325.8h0M564.6 326.9h0M566.8 327.3h0M565.8 323.0h0M565.1 329.3h0M572.4 325.2h0M573.0 327.2h0M573.4 323.0h0M568.9 323.9h0M568.0 327.1h0M568.1 327.5h0M565.0 327.7h0M570.8 324.0h0M569.1 327.7h0M567.4 320.3h0M570.8 316.8h0M568.2 319.3h0M566.2 315.4h0M573.3 315.1h0M570.3 320.7h0M566.2 319.3h0M573.1 312.8h0M573.8 320.6h0M570.3 315.4h0M571.5 317.5h0M566.6 311.7h0M572.9 316.7h0M573.1 314.0h0M568.0 312.1h0M570.6 316.6h0M572.4 311.9h0M567.3 311.8h0M566.3 311.1h0M566.7 320.8h0M571.1 255.3h0M565.7 291.8h0M570.2 293.7h0M562.6 298.7h0M567.7 306.0h0M572.8 307.9h0M570.7 311.5h0M566.3 313.0h0M567.0 316.2h0M556.0 319.3h0M559.0 318.4h0M561.2 320.6h0M559.0 324.4h0" stroke="#55a0f2" stroke-width="2.2" stroke-linecap="round"/>
<path d="M604.0 327.7h0M596.3 327.7h0M598.5 324.3h0M603.3 329.2h0M602.8 329.3h0M600.6 328.9h0M597.9 328.9h0M603.0 325.2h0M598.0 327.9h0M601.8 328.5h0M599.7 325.3h0M598.6 325.5h0M605.5 325.3h0M599.5 325.9h0M602.3 324.6h0M605.5 325.7h0M604.9 324.8h0M602.5 327.9h0M597.6 327.7h0M599.8 329.2h0M598.4 328.8h0M601.9 325.9h0M596.8 328.5h0M604.7 329.0h0M603.2 325.0h0M604.9 328.2h0M598.4 328.4h0M596.5 327.8h0M602.9 324.6h0M600.2 327.5h0M605.3 326.6h0M600.5 329.4h0M596.9 327.6h0M602.2 326.2h0M603.1 326.2h0M601.7 326.1h0M604.6 324.7h0M598.1 327.4h0M599.2 326.7h0M601.7 329.5h0M599.9 326.0h0M601.3 329.4h0M602.0 325.4h0M596.7 325.2h0M598.8 326.7h0M595.9 327.0h0M599.4 325.1h0M603.2 327.2h0M598.5 328.9h0M601.4 328.2h0M603.0 326.3h0M597.0 327.2h0M599.0 329.5h0M599.0 324.6h0M598.1 324.3h0M599.2 325.1h0M597.3 326.8h0M603.1 329.2h0M596.6 328.7h0M603.1 327.6h0M600.5 237.5h0M602.0 285.0h0M598.8 298.4h0M598.8 311.8h0M595.9 315.5h0M600.6 315.6h0M599.6 321.0h0M608.6 328.3h0M613.0 327.9h0M607.0 326.0h0" stroke="#0000c8" stroke-width="2.2" stroke-linecap="round"/>
<line x1="584.6" y1="153.5" x2="584.6" y2="331.5" stroke="#222" stroke-width="0.9" />
<line x1="525" y1="153.2" x2="525" y2="331.5" stroke="#111" stroke-width="1.1" />
<line x1="525" y1="331.5" x2="673.4" y2="331.5" stroke="#111" stroke-width="1.1" />
<line x1="522" y1="331.5" x2="525" y2="331.5" stroke="#111" stroke-width="0.9" />
<text x="521.6" y="333.8" font-size="6.4" text-anchor="end" fill="#111">0</text>
<line x1="522" y1="309.28" x2="525" y2="309.28" stroke="#111" stroke-width="0.9" />
<text x="521.6" y="311.58" font-size="6.4" text-anchor="end" fill="#111">10</text>
<line x1="522" y1="287.06" x2="525" y2="287.06" stroke="#111" stroke-width="0.9" />
<text x="521.6" y="289.36" font-size="6.4" text-anchor="end" fill="#111">20</text>
<line x1="522" y1="264.84" x2="525" y2="264.84" stroke="#111" stroke-width="0.9" />
<text x="521.6" y="267.14" font-size="6.4" text-anchor="end" fill="#111">30</text>
<line x1="522" y1="242.62" x2="525" y2="242.62" stroke="#111" stroke-width="0.9" />
<text x="521.6" y="244.92" font-size="6.4" text-anchor="end" fill="#111">40</text>
<line x1="522" y1="220.4" x2="525" y2="220.4" stroke="#111" stroke-width="0.9" />
<text x="521.6" y="222.7" font-size="6.4" text-anchor="end" fill="#111">50</text>
<line x1="522" y1="198.18" x2="525" y2="198.18" stroke="#111" stroke-width="0.9" />
<text x="521.6" y="200.48" font-size="6.4" text-anchor="end" fill="#111">60</text>
<line x1="522" y1="175.96" x2="525" y2="175.96" stroke="#111" stroke-width="0.9" />
<text x="521.6" y="178.26" font-size="6.4" text-anchor="end" fill="#111">70</text>
<line x1="522" y1="153.74" x2="525" y2="153.74" stroke="#111" stroke-width="0.9" />
<text x="521.6" y="156.04" font-size="6.4" text-anchor="end" fill="#111">80</text>
<line x1="525.4" y1="331.5" x2="525.4" y2="333.7" stroke="#111" stroke-width="0.9" />
<text x="525.4" y="340.96" font-size="6.2" text-anchor="middle" fill="#111">-2</text>
<line x1="555" y1="331.5" x2="555" y2="333.7" stroke="#111" stroke-width="0.9" />
<text x="555" y="340.96" font-size="6.2" text-anchor="middle" fill="#111">-1</text>
<line x1="584.6" y1="331.5" x2="584.6" y2="333.7" stroke="#111" stroke-width="0.9" />
<text x="584.6" y="340.96" font-size="6.2" text-anchor="middle" fill="#111">0</text>
<line x1="614.2" y1="331.5" x2="614.2" y2="333.7" stroke="#111" stroke-width="0.9" />
<text x="614.2" y="340.96" font-size="6.2" text-anchor="middle" fill="#111">1</text>
<line x1="643.8" y1="331.5" x2="643.8" y2="333.7" stroke="#111" stroke-width="0.9" />
<text x="643.8" y="340.96" font-size="6.2" text-anchor="middle" fill="#111">2</text>
<line x1="673.4" y1="331.5" x2="673.4" y2="333.7" stroke="#111" stroke-width="0.9" />
<text x="673.4" y="340.96" font-size="6.2" text-anchor="middle" fill="#111">3</text>
<line x1="569.8" y1="169.5" x2="535.7" y2="169.5" stroke="#55a0f2" stroke-width="2" />
<path d="M531.7 169.5 L536.7 166.9 L536.7 172.1 Z" fill="#55a0f2"/>
<line x1="598.2" y1="169.8" x2="633.1" y2="169.8" stroke="#0000c8" stroke-width="2" />
<path d="M637.1 169.8 L632.1 167.2 L632.1 172.4 Z" fill="#0000c8"/>
<text x="568.6" y="158.6" font-size="7.2" font-weight="bold" text-anchor="end" fill="#111">Decreased</text>
<text x="568.6" y="166.6" font-size="7.2" font-weight="bold" text-anchor="end" fill="#111">by ARE</text>
<text x="599.9" y="159" font-size="7.2" font-weight="bold" fill="#111">Increased</text>
<text x="599.9" y="167" font-size="7.2" font-weight="bold" fill="#111">by ARE</text>
<text x="567.3" y="178" font-size="7.2" font-weight="bold" text-anchor="end" fill="#55a0f2">106</text>
<text x="601.6" y="178" font-size="7.2" font-weight="bold" fill="#0000c8">61</text>
<text x="510.13" y="242.4" font-size="9.2" font-weight="bold" text-anchor="middle" fill="#111" transform="rotate(-90 510.13 242.4)" textLength="72.5" lengthAdjust="spacingAndGlyphs">-log<tspan font-size="6.44" dy="2.3">10</tspan><tspan dy="-2.3"> adj p-value</tspan></text>
<text x="599.6" y="353" font-size="9.2" font-weight="bold" text-anchor="middle" fill="#111" textLength="124.2" lengthAdjust="spacingAndGlyphs">log<tspan font-size="6.44" dy="2.3">2</tspan><tspan dy="-2.3">FC (10min Ex vs Pre Sed)</tspan></text>
<rect x="607.3" y="185.1" width="71.8" height="83.2" fill="#e4e4e4" stroke="#333" stroke-width="0.8" rx="5"/>
<circle cx="634.2" cy="233.2" r="21" fill="#a3a3a3" stroke="#333" stroke-width="0.7"/>
<path d="M634.2 233.2 L634.2 212.2 A21 21 0 0 1 634.79 212.21 Z" fill="#55a0f2"/>
<path d="M634.2 233.2 L634.79 212.21 A21 21 0 0 1 635.82 212.26 Z" fill="#55a0f2"/>
<line x1="634.2" y1="212.2" x2="634.2" y2="233.2" stroke="#3a7fe0" stroke-width="0.6" />
<text x="634.2" y="238.8" font-size="3.8" font-weight="bold" text-anchor="middle" fill="#111">Not</text>
<text x="634.2" y="242.8" font-size="3.8" font-weight="bold" text-anchor="middle" fill="#111">ARE-regulated</text>
<text x="634.2" y="246.8" font-size="3.8" font-weight="bold" text-anchor="middle" fill="#111">(13,456)</text>
<text x="612.3" y="259.6" font-size="5" font-weight="bold" fill="#111" textLength="44.5" lengthAdjust="spacingAndGlyphs">Phosphopeptides</text>
<text x="612.3" y="265.6" font-size="5" font-weight="bold" fill="#111" textLength="44.5" lengthAdjust="spacingAndGlyphs">Identified = 13,623</text>
<text x="630.5" y="190.2" font-size="3.7" font-weight="bold" text-anchor="middle" fill="#111">Increased</text>
<text x="630.5" y="194.6" font-size="3.7" font-weight="bold" text-anchor="middle" fill="#111">Phosphorylation</text>
<text x="630.5" y="199" font-size="3.7" font-weight="bold" text-anchor="middle" fill="#111">by ARE (61)</text>
<text x="660" y="203.2" font-size="3.7" font-weight="bold" text-anchor="middle" fill="#111">Decreased</text>
<text x="660" y="207.6" font-size="3.7" font-weight="bold" text-anchor="middle" fill="#111">Phosphorylation</text>
<text x="660" y="212" font-size="3.7" font-weight="bold" text-anchor="middle" fill="#111">by ARE (106)</text>
<line x1="631.5" y1="202" x2="634" y2="212.4" stroke="#111" stroke-width="0.5" />
<line x1="634.8" y1="212.4" x2="645" y2="205" stroke="#111" stroke-width="0.5" />
<text x="33.3" y="406.2" font-size="14" font-weight="bold" text-anchor="middle">H</text>
<text x="72.4" y="409" font-size="14" font-weight="bold" text-anchor="middle" textLength="28.8" lengthAdjust="spacingAndGlyphs">AAE</text>
<text x="129.3" y="436.6" font-size="14" font-weight="bold" text-anchor="middle" textLength="28.8" lengthAdjust="spacingAndGlyphs">ARE</text>
<circle cx="72" cy="454.5" r="44.5" fill="#b94a48" stroke="#9a3a38" stroke-width="0.4"/>
<clipPath id="bigc"><circle cx="72" cy="454.5" r="44.5"/></clipPath>
<circle cx="110.1" cy="455.3" r="18.4" fill="#4b50d4" stroke="#3a3aa0" stroke-width="0.4"/>
<circle cx="110.1" cy="455.3" r="18.4" fill="#2f139f" clip-path="url(#bigc)"/>
<text x="63.7" y="460.3" font-size="11.8" font-weight="bold" text-anchor="middle" fill="#fff" textLength="19.7" lengthAdjust="spacingAndGlyphs">672</text>
<text x="105.4" y="460.3" font-size="12" font-weight="bold" text-anchor="middle" fill="#fff" textLength="13.3" lengthAdjust="spacingAndGlyphs">75</text>
<text x="130.4" y="486.9" font-size="11.4" font-weight="bold" text-anchor="middle" fill="#111" textLength="12.7" lengthAdjust="spacingAndGlyphs">55</text>
<line x1="125.3" y1="477.4" x2="122.9" y2="462.5" stroke="#111" stroke-width="0.9" />
<path d="M122.4 459.4 L124.6 463.6 L121.2 464.0 Z" fill="#111"/>
<filter id="bl" x="-30%" y="-80%" width="160%" height="260%"><feGaussianBlur stdDeviation="0.7"/></filter>
<text x="203.8" y="398.7" font-size="14" font-weight="bold" text-anchor="middle">I</text>
<text x="243.1" y="390.6" font-size="8.6" font-weight="bold" text-anchor="middle" fill="#111" textLength="15.9" lengthAdjust="spacingAndGlyphs">ARE</text>
<text x="275.8" y="390.6" font-size="8.6" font-weight="bold" text-anchor="middle" fill="#111" textLength="15.9" lengthAdjust="spacingAndGlyphs">AAE</text>
<line x1="230" y1="392.9" x2="255.8" y2="392.9" stroke="#111" stroke-width="0.9" />
<line x1="264" y1="392.9" x2="288" y2="392.9" stroke="#111" stroke-width="0.9" />
<text x="235" y="400.8" font-size="6.4" text-anchor="middle" fill="#111" textLength="10.6" lengthAdjust="spacingAndGlyphs">Pre</text>
<text x="251.4" y="400.8" font-size="6.4" text-anchor="middle" fill="#111" textLength="13.6" lengthAdjust="spacingAndGlyphs">Post</text>
<text x="267.9" y="400.8" font-size="6.4" text-anchor="middle" fill="#111" textLength="10.6" lengthAdjust="spacingAndGlyphs">Pre</text>
<text x="284.2" y="400.8" font-size="6.4" text-anchor="middle" fill="#111" textLength="13.6" lengthAdjust="spacingAndGlyphs">Post</text>
<rect x="225.9" y="403.4" width="66.8" height="15.1" fill="#fdfdfd" stroke="#111" stroke-width="1"/>
<rect x="228.3" y="409.47" width="13.4" height="3.45" rx="1.72" fill="#dcdcdc" filter="url(#bl)"/>
<rect x="244.7" y="409.47" width="13.4" height="3.45" rx="1.72" fill="#9c9c9c" filter="url(#bl)"/>
<rect x="261.2" y="409.47" width="13.4" height="3.45" rx="1.72" fill="#dcdcdc" filter="url(#bl)"/>
<rect x="277.5" y="409.47" width="13.4" height="3.45" rx="1.72" fill="#6d6d6d" filter="url(#bl)"/>
<text x="295" y="412.8" font-size="3.8" fill="#222">62kDa</text>
<rect x="225.9" y="420.9" width="66.8" height="15.1" fill="#fdfdfd" stroke="#111" stroke-width="1"/>
<rect x="228.3" y="425.93" width="13.4" height="4.14" rx="2.07" fill="#373737" filter="url(#bl)"/>
<rect x="244.7" y="425.93" width="13.4" height="4.14" rx="2.07" fill="#565656" filter="url(#bl)"/>
<rect x="261.2" y="425.93" width="13.4" height="4.14" rx="2.07" fill="#353535" filter="url(#bl)"/>
<rect x="277.5" y="425.93" width="13.4" height="4.14" rx="2.07" fill="#6d6d6d" filter="url(#bl)"/>
<text x="295" y="430.3" font-size="3.8" fill="#222">62kDa</text>
<rect x="225.9" y="438.4" width="66.8" height="9.3" fill="#fdfdfd" stroke="#111" stroke-width="1"/>
<rect x="228.3" y="441.27" width="13.4" height="3.45" rx="1.72" fill="#d0d0d0" filter="url(#bl)"/>
<rect x="244.7" y="441.27" width="13.4" height="3.45" rx="1.72" fill="#959595" filter="url(#bl)"/>
<rect x="261.2" y="441.27" width="13.4" height="3.45" rx="1.72" fill="#cbcbcb" filter="url(#bl)"/>
<rect x="277.5" y="441.27" width="13.4" height="3.45" rx="1.72" fill="#1b1b1b" filter="url(#bl)"/>
<text x="295" y="444.8" font-size="3.8" fill="#222">280kDa</text>
<rect x="225.9" y="450" width="66.8" height="13" fill="#fdfdfd" stroke="#111" stroke-width="1"/>
<rect x="228.3" y="454.69" width="13.4" height="3.22" rx="1.61" fill="#c4c4c4" filter="url(#bl)"/>
<rect x="244.7" y="454.69" width="13.4" height="3.22" rx="1.61" fill="#cbcbcb" filter="url(#bl)"/>
<rect x="261.2" y="454.69" width="13.4" height="3.22" rx="1.61" fill="#c4c4c4" filter="url(#bl)"/>
<rect x="277.5" y="454.69" width="13.4" height="3.22" rx="1.61" fill="#c4c4c4" filter="url(#bl)"/>
<text x="295" y="458.3" font-size="3.8" fill="#222">280kDa</text>
<rect x="225.9" y="467" width="66.8" height="15.2" fill="#fdfdfd" stroke="#111" stroke-width="1"/>
<rect x="228.3" y="473.47" width="13.4" height="3.45" rx="1.72" fill="#777777" filter="url(#bl)"/>
<rect x="244.7" y="473.47" width="13.4" height="3.45" rx="1.72" fill="#2c2c2c" filter="url(#bl)"/>
<rect x="261.2" y="473.47" width="13.4" height="3.45" rx="1.72" fill="#959595" filter="url(#bl)"/>
<rect x="277.5" y="473.47" width="13.4" height="3.45" rx="1.72" fill="#2c2c2c" filter="url(#bl)"/>
<text x="295" y="473.3" font-size="3.8" fill="#222">289kDa</text>
<rect x="225.9" y="485.2" width="66.8" height="15" fill="#fdfdfd" stroke="#111" stroke-width="1"/>
<rect x="228.3" y="491.32" width="13.4" height="2.76" rx="1.38" fill="#353535" filter="url(#bl)"/>
<rect x="244.7" y="491.32" width="13.4" height="2.76" rx="1.38" fill="#3a3a3a" filter="url(#bl)"/>
<rect x="261.2" y="491.32" width="13.4" height="2.76" rx="1.38" fill="#3a3a3a" filter="url(#bl)"/>
<rect x="277.5" y="491.32" width="13.4" height="2.76" rx="1.38" fill="#3e3e3e" filter="url(#bl)"/>
<text x="295" y="494.3" font-size="3.8" fill="#222">289kDa</text>
<rect x="225.9" y="502.5" width="66.8" height="25.2" fill="#fdfdfd" stroke="#111" stroke-width="1"/>
<rect x="244.7" y="507.7" width="13.4" height="2.99" rx="1.49" fill="#c4c4c4" filter="url(#bl)"/>
<rect x="277.5" y="507.7" width="13.4" height="2.99" rx="1.49" fill="#cbcbcb" filter="url(#bl)"/>
<rect x="228.3" y="518.31" width="13.4" height="5.98" rx="2.99" fill="#f3f3f3" filter="url(#bl)"/>
<rect x="244.7" y="518.31" width="13.4" height="5.98" rx="2.99" fill="#141414" filter="url(#bl)"/>
<rect x="277.5" y="518.31" width="13.4" height="5.98" rx="2.99" fill="#141414" filter="url(#bl)"/>
<text x="295" y="510.8" font-size="3.8" fill="#222">85kDa</text>
<text x="295" y="522.9" font-size="3.8" fill="#222">70kDa</text>
<rect x="225.9" y="530.8" width="66.8" height="12.8" fill="#fdfdfd" stroke="#111" stroke-width="1"/>
<rect x="228.3" y="534.96" width="13.4" height="5.29" rx="2.64" fill="#ececec" filter="url(#bl)"/>
<rect x="244.7" y="534.96" width="13.4" height="5.29" rx="2.64" fill="#141414" filter="url(#bl)"/>
<rect x="277.5" y="534.96" width="13.4" height="5.29" rx="2.64" fill="#b8b8b8" filter="url(#bl)"/>
<text x="295" y="539.1" font-size="3.8" fill="#222">32kDa</text>
<text x="173.6" y="414.6" font-size="7.9" font-weight="bold" fill="#111" textLength="32.8" lengthAdjust="spacingAndGlyphs">pAMPKα</text>
<text x="206.7" y="411.76" font-size="5.6" font-weight="bold" fill="#111" textLength="16.3" lengthAdjust="spacingAndGlyphs">Thr172</text>
<text x="222.6" y="430.6" font-size="7.9" font-weight="bold" text-anchor="end" fill="#111" textLength="28" lengthAdjust="spacingAndGlyphs">AMPKα</text>
<text x="186.9" y="446.2" font-size="7.9" font-weight="bold" fill="#111" textLength="21.7" lengthAdjust="spacingAndGlyphs">pACC</text>
<text x="208.9" y="443.36" font-size="5.6" font-weight="bold" fill="#111" textLength="14.1" lengthAdjust="spacingAndGlyphs">Ser79</text>
<text x="222.6" y="460" font-size="7.9" font-weight="bold" text-anchor="end" fill="#111" textLength="17.6" lengthAdjust="spacingAndGlyphs">ACC</text>
<text x="173.9" y="478.8" font-size="7.9" font-weight="bold" fill="#111" textLength="29.7" lengthAdjust="spacingAndGlyphs">pmTOR</text>
<text x="203.9" y="475.96" font-size="5.6" font-weight="bold" fill="#111" textLength="19.1" lengthAdjust="spacingAndGlyphs">Ser2448</text>
<text x="222.6" y="495.2" font-size="7.9" font-weight="bold" text-anchor="end" fill="#111" textLength="23.6" lengthAdjust="spacingAndGlyphs">mTOR</text>
<text x="171.2" y="520" font-size="7.9" font-weight="bold" fill="#111" textLength="36.7" lengthAdjust="spacingAndGlyphs">pP70S6K</text>
<text x="208.2" y="517.16" font-size="5.6" font-weight="bold" fill="#111" textLength="15" lengthAdjust="spacingAndGlyphs">Thr389</text>
<text x="170.5" y="540.2" font-size="7.9" font-weight="bold" fill="#111" textLength="25.2" lengthAdjust="spacingAndGlyphs">pRPS6</text>
<text x="196" y="537.36" font-size="5.6" font-weight="bold" fill="#111" textLength="27.2" lengthAdjust="spacingAndGlyphs">Ser240/244</text>
<text x="314.6" y="393" font-size="13.5" font-weight="bold" text-anchor="middle">J</text>
<text x="320.6" y="423.4" font-size="6.6" font-weight="bold" text-anchor="middle" fill="#111" transform="rotate(-90 320.6 423.4)">Relative Units</text>
<path d="M343.8 449.62L354.7 392.14M343.8 449.62L354.7 396.36M343.8 449.62L354.7 398.99M343.8 449.62L354.7 416.39M343.8 449.62L354.7 417.45M343.8 449.62L354.7 421.4M343.8 449.62L354.7 437.75" stroke="#b01e1e" stroke-width="0.55" fill="none"/>
<circle cx="343.8" cy="449.62" r="1.25" fill="#b01e1e"/>
<rect x="353.6" y="391.04" width="2.2" height="2.2" fill="#b01e1e"/>
<rect x="353.6" y="395.26" width="2.2" height="2.2" fill="#b01e1e"/>
<rect x="353.6" y="397.89" width="2.2" height="2.2" fill="#b01e1e"/>
<rect x="353.6" y="415.29" width="2.2" height="2.2" fill="#b01e1e"/>
<rect x="353.6" y="416.35" width="2.2" height="2.2" fill="#b01e1e"/>
<rect x="353.6" y="420.3" width="2.2" height="2.2" fill="#b01e1e"/>
<rect x="353.6" y="436.65" width="2.2" height="2.2" fill="#b01e1e"/>
<path d="M366.1 449.62L377.8 417.98M366.1 449.62L377.8 424.57M366.1 449.62L377.8 443.02M366.1 449.62L377.8 444.34M366.1 449.62L377.8 447.51M366.1 449.62L377.8 448.83" stroke="#1f1fe0" stroke-width="0.55" fill="none"/>
<circle cx="366.1" cy="449.62" r="1.25" fill="#1f1fe0"/>
<rect x="376.7" y="416.88" width="2.2" height="2.2" fill="#1f1fe0"/>
<rect x="376.7" y="423.47" width="2.2" height="2.2" fill="#1f1fe0"/>
<rect x="376.7" y="441.92" width="2.2" height="2.2" fill="#1f1fe0"/>
<rect x="376.7" y="443.24" width="2.2" height="2.2" fill="#1f1fe0"/>
<rect x="376.7" y="446.41" width="2.2" height="2.2" fill="#1f1fe0"/>
<rect x="376.7" y="447.73" width="2.2" height="2.2" fill="#1f1fe0"/>
<line x1="338.4" y1="383.2" x2="338.4" y2="462.8" stroke="#111" stroke-width="1.1" />
<line x1="338.4" y1="462.8" x2="383.6" y2="462.8" stroke="#111" stroke-width="1.1" />
<line x1="336.5" y1="462.8" x2="338.4" y2="462.8" stroke="#111" stroke-width="0.9" />
<text x="336.1" y="464.96" font-size="6" font-weight="bold" text-anchor="end" fill="#111">0.5</text>
<line x1="336.5" y1="449.62" x2="338.4" y2="449.62" stroke="#111" stroke-width="0.9" />
<text x="336.1" y="451.78" font-size="6" font-weight="bold" text-anchor="end" fill="#111">1.0</text>
<line x1="336.5" y1="436.43" x2="338.4" y2="436.43" stroke="#111" stroke-width="0.9" />
<text x="336.1" y="438.59" font-size="6" font-weight="bold" text-anchor="end" fill="#111">1.5</text>
<line x1="336.5" y1="423.25" x2="338.4" y2="423.25" stroke="#111" stroke-width="0.9" />
<text x="336.1" y="425.41" font-size="6" font-weight="bold" text-anchor="end" fill="#111">2.0</text>
<line x1="336.5" y1="410.07" x2="338.4" y2="410.07" stroke="#111" stroke-width="0.9" />
<text x="336.1" y="412.23" font-size="6" font-weight="bold" text-anchor="end" fill="#111">2.5</text>
<line x1="336.5" y1="396.88" x2="338.4" y2="396.88" stroke="#111" stroke-width="0.9" />
<text x="336.1" y="399.04" font-size="6" font-weight="bold" text-anchor="end" fill="#111">3.0</text>
<line x1="336.5" y1="383.7" x2="338.4" y2="383.7" stroke="#111" stroke-width="0.9" />
<text x="336.1" y="385.86" font-size="6" font-weight="bold" text-anchor="end" fill="#111">3.5</text>
<text x="352.6" y="386.9" font-size="4.9" font-weight="bold" text-anchor="middle" fill="#b01e1e">P=0.001</text>
<text x="378" y="414.5" font-size="4.9" font-weight="bold" text-anchor="middle" fill="#1f1fe0">P=0.039</text>
<path d="M412.8 451.5L424.1 396.81M412.8 451.5L424.1 421.67M412.8 451.5L424.1 430.03M412.8 451.5L424.1 433.87M412.8 451.5L424.1 442.46M412.8 451.5L424.1 445.85M412.8 451.5L424.1 449.24" stroke="#b01e1e" stroke-width="0.55" fill="none"/>
<circle cx="412.8" cy="451.5" r="1.25" fill="#b01e1e"/>
<rect x="423" y="395.71" width="2.2" height="2.2" fill="#b01e1e"/>
<rect x="423" y="420.57" width="2.2" height="2.2" fill="#b01e1e"/>
<rect x="423" y="428.93" width="2.2" height="2.2" fill="#b01e1e"/>
<rect x="423" y="432.77" width="2.2" height="2.2" fill="#b01e1e"/>
<rect x="423" y="441.36" width="2.2" height="2.2" fill="#b01e1e"/>
<rect x="423" y="444.75" width="2.2" height="2.2" fill="#b01e1e"/>
<rect x="423" y="448.14" width="2.2" height="2.2" fill="#b01e1e"/>
<path d="M435.5 451.5L447 428.9M435.5 451.5L447 430.48M435.5 451.5L447 440.2M435.5 451.5L447 441.33M435.5 451.5L447 444.72M435.5 451.5L447 445.85M435.5 451.5L447 448.11" stroke="#1f1fe0" stroke-width="0.55" fill="none"/>
<circle cx="435.5" cy="451.5" r="1.25" fill="#1f1fe0"/>
<rect x="445.9" y="427.8" width="2.2" height="2.2" fill="#1f1fe0"/>
<rect x="445.9" y="429.38" width="2.2" height="2.2" fill="#1f1fe0"/>
<rect x="445.9" y="439.1" width="2.2" height="2.2" fill="#1f1fe0"/>
<rect x="445.9" y="440.23" width="2.2" height="2.2" fill="#1f1fe0"/>
<rect x="445.9" y="443.62" width="2.2" height="2.2" fill="#1f1fe0"/>
<rect x="445.9" y="444.75" width="2.2" height="2.2" fill="#1f1fe0"/>
<rect x="445.9" y="447.01" width="2.2" height="2.2" fill="#1f1fe0"/>
<line x1="407" y1="383.2" x2="407" y2="462.8" stroke="#111" stroke-width="1.1" />
<line x1="407" y1="462.8" x2="453.3" y2="462.8" stroke="#111" stroke-width="1.1" />
<line x1="405.1" y1="462.8" x2="407" y2="462.8" stroke="#111" stroke-width="0.9" />
<text x="404.7" y="464.96" font-size="6" font-weight="bold" text-anchor="end" fill="#111">0.5</text>
<line x1="405.1" y1="451.5" x2="407" y2="451.5" stroke="#111" stroke-width="0.9" />
<text x="404.7" y="453.66" font-size="6" font-weight="bold" text-anchor="end" fill="#111">1.0</text>
<line x1="405.1" y1="440.2" x2="407" y2="440.2" stroke="#111" stroke-width="0.9" />
<text x="404.7" y="442.36" font-size="6" font-weight="bold" text-anchor="end" fill="#111">1.5</text>
<line x1="405.1" y1="428.9" x2="407" y2="428.9" stroke="#111" stroke-width="0.9" />
<text x="404.7" y="431.06" font-size="6" font-weight="bold" text-anchor="end" fill="#111">2.0</text>
<line x1="405.1" y1="417.6" x2="407" y2="417.6" stroke="#111" stroke-width="0.9" />
<text x="404.7" y="419.76" font-size="6" font-weight="bold" text-anchor="end" fill="#111">2.5</text>
<line x1="405.1" y1="406.3" x2="407" y2="406.3" stroke="#111" stroke-width="0.9" />
<text x="404.7" y="408.46" font-size="6" font-weight="bold" text-anchor="end" fill="#111">3.0</text>
<line x1="405.1" y1="395" x2="407" y2="395" stroke="#111" stroke-width="0.9" />
<text x="404.7" y="397.16" font-size="6" font-weight="bold" text-anchor="end" fill="#111">3.5</text>
<line x1="405.1" y1="383.7" x2="407" y2="383.7" stroke="#111" stroke-width="0.9" />
<text x="404.7" y="385.86" font-size="6" font-weight="bold" text-anchor="end" fill="#111">4.0</text>
<text x="421.3" y="392.8" font-size="4.9" font-weight="bold" text-anchor="middle" fill="#b01e1e">P=0.025</text>
<text x="443" y="426.7" font-size="4.9" font-weight="bold" text-anchor="middle" fill="#1f1fe0">P=0.007</text>
<path d="M476.9 443.1L488.3 405.67M476.9 443.1L488.3 410.79M476.9 443.1L488.3 412.37M476.9 443.1L488.3 414.73M476.9 443.1L488.3 416.31M476.9 443.1L488.3 421.43M476.9 443.1L488.3 437.19M476.9 443.1L488.3 451.77" stroke="#b01e1e" stroke-width="0.55" fill="none"/>
<circle cx="476.9" cy="443.1" r="1.25" fill="#b01e1e"/>
<rect x="487.2" y="404.57" width="2.2" height="2.2" fill="#b01e1e"/>
<rect x="487.2" y="409.69" width="2.2" height="2.2" fill="#b01e1e"/>
<rect x="487.2" y="411.27" width="2.2" height="2.2" fill="#b01e1e"/>
<rect x="487.2" y="413.63" width="2.2" height="2.2" fill="#b01e1e"/>
<rect x="487.2" y="415.21" width="2.2" height="2.2" fill="#b01e1e"/>
<rect x="487.2" y="420.33" width="2.2" height="2.2" fill="#b01e1e"/>
<rect x="487.2" y="436.09" width="2.2" height="2.2" fill="#b01e1e"/>
<rect x="487.2" y="450.67" width="2.2" height="2.2" fill="#b01e1e"/>
<path d="M500 443.1L511.1 421.04M500 443.1L511.1 427.34M500 443.1L511.1 436.8M500 443.1L511.1 440.74M500 443.1L511.1 442.31M500 443.1L511.1 443.89" stroke="#1f1fe0" stroke-width="0.55" fill="none"/>
<circle cx="500" cy="443.1" r="1.25" fill="#1f1fe0"/>
<rect x="510" y="419.94" width="2.2" height="2.2" fill="#1f1fe0"/>
<rect x="510" y="426.24" width="2.2" height="2.2" fill="#1f1fe0"/>
<rect x="510" y="435.7" width="2.2" height="2.2" fill="#1f1fe0"/>
<rect x="510" y="439.64" width="2.2" height="2.2" fill="#1f1fe0"/>
<rect x="510" y="441.21" width="2.2" height="2.2" fill="#1f1fe0"/>
<rect x="510" y="442.79" width="2.2" height="2.2" fill="#1f1fe0"/>
<line x1="471.5" y1="383.5" x2="471.5" y2="462.8" stroke="#111" stroke-width="1.1" />
<line x1="471.5" y1="462.8" x2="517.7" y2="462.8" stroke="#111" stroke-width="1.1" />
<line x1="469.6" y1="462.8" x2="471.5" y2="462.8" stroke="#111" stroke-width="0.9" />
<text x="469.2" y="464.96" font-size="6" font-weight="bold" text-anchor="end" fill="#111">0.5</text>
<line x1="469.6" y1="443.1" x2="471.5" y2="443.1" stroke="#111" stroke-width="0.9" />
<text x="469.2" y="445.26" font-size="6" font-weight="bold" text-anchor="end" fill="#111">1.0</text>
<line x1="469.6" y1="423.4" x2="471.5" y2="423.4" stroke="#111" stroke-width="0.9" />
<text x="469.2" y="425.56" font-size="6" font-weight="bold" text-anchor="end" fill="#111">1.5</text>
<line x1="469.6" y1="403.7" x2="471.5" y2="403.7" stroke="#111" stroke-width="0.9" />
<text x="469.2" y="405.86" font-size="6" font-weight="bold" text-anchor="end" fill="#111">2.0</text>
<line x1="469.6" y1="384" x2="471.5" y2="384" stroke="#111" stroke-width="0.9" />
<text x="469.2" y="386.16" font-size="6" font-weight="bold" text-anchor="end" fill="#111">2.5</text>
<text x="485.4" y="401.5" font-size="4.9" font-weight="bold" text-anchor="middle" fill="#b01e1e">P=0.015</text>
<text x="507" y="417.8" font-size="4.9" font-weight="bold" text-anchor="middle" fill="#1f1fe0">P=0.043</text>
<path d="M536.6 458.13L547.9 389.28M536.6 458.13L547.9 416.26M536.6 458.13L547.9 422.77M536.6 458.13L547.9 438.59M536.6 458.13L547.9 444.17M536.6 458.13L547.9 453.48M536.6 458.13L547.9 454.41" stroke="#b01e1e" stroke-width="0.55" fill="none"/>
<circle cx="536.6" cy="458.13" r="1.25" fill="#b01e1e"/>
<rect x="546.8" y="388.18" width="2.2" height="2.2" fill="#b01e1e"/>
<rect x="546.8" y="415.16" width="2.2" height="2.2" fill="#b01e1e"/>
<rect x="546.8" y="421.67" width="2.2" height="2.2" fill="#b01e1e"/>
<rect x="546.8" y="437.49" width="2.2" height="2.2" fill="#b01e1e"/>
<rect x="546.8" y="443.07" width="2.2" height="2.2" fill="#b01e1e"/>
<rect x="546.8" y="452.38" width="2.2" height="2.2" fill="#b01e1e"/>
<rect x="546.8" y="453.31" width="2.2" height="2.2" fill="#b01e1e"/>
<path d="M558.8 458.13L570.8 435.33M558.8 458.13L570.8 449.75M558.8 458.13L570.8 451.61M558.8 458.13L570.8 453.01M558.8 458.13L570.8 454.41M558.8 458.13L570.8 456.27" stroke="#1f1fe0" stroke-width="0.55" fill="none"/>
<circle cx="558.8" cy="458.13" r="1.25" fill="#1f1fe0"/>
<rect x="569.7" y="434.23" width="2.2" height="2.2" fill="#1f1fe0"/>
<rect x="569.7" y="448.65" width="2.2" height="2.2" fill="#1f1fe0"/>
<rect x="569.7" y="450.51" width="2.2" height="2.2" fill="#1f1fe0"/>
<rect x="569.7" y="451.91" width="2.2" height="2.2" fill="#1f1fe0"/>
<rect x="569.7" y="453.31" width="2.2" height="2.2" fill="#1f1fe0"/>
<rect x="569.7" y="455.17" width="2.2" height="2.2" fill="#1f1fe0"/>
<line x1="530.8" y1="383.2" x2="530.8" y2="462.5" stroke="#111" stroke-width="1.1" />
<line x1="530.8" y1="462.5" x2="576.4" y2="462.5" stroke="#111" stroke-width="1.1" />
<line x1="528.9" y1="458.13" x2="530.8" y2="458.13" stroke="#111" stroke-width="0.9" />
<text x="528.5" y="460.29" font-size="6" font-weight="bold" text-anchor="end" fill="#111">1</text>
<line x1="528.9" y1="448.82" x2="530.8" y2="448.82" stroke="#111" stroke-width="0.9" />
<text x="528.5" y="450.98" font-size="6" font-weight="bold" text-anchor="end" fill="#111">2</text>
<line x1="528.9" y1="439.52" x2="530.8" y2="439.52" stroke="#111" stroke-width="0.9" />
<text x="528.5" y="441.68" font-size="6" font-weight="bold" text-anchor="end" fill="#111">3</text>
<line x1="528.9" y1="430.22" x2="530.8" y2="430.22" stroke="#111" stroke-width="0.9" />
<text x="528.5" y="432.38" font-size="6" font-weight="bold" text-anchor="end" fill="#111">4</text>
<line x1="528.9" y1="420.91" x2="530.8" y2="420.91" stroke="#111" stroke-width="0.9" />
<text x="528.5" y="423.07" font-size="6" font-weight="bold" text-anchor="end" fill="#111">5</text>
<line x1="528.9" y1="411.61" x2="530.8" y2="411.61" stroke="#111" stroke-width="0.9" />
<text x="528.5" y="413.77" font-size="6" font-weight="bold" text-anchor="end" fill="#111">6</text>
<line x1="528.9" y1="402.31" x2="530.8" y2="402.31" stroke="#111" stroke-width="0.9" />
<text x="528.5" y="404.47" font-size="6" font-weight="bold" text-anchor="end" fill="#111">7</text>
<line x1="528.9" y1="393" x2="530.8" y2="393" stroke="#111" stroke-width="0.9" />
<text x="528.5" y="395.16" font-size="6" font-weight="bold" text-anchor="end" fill="#111">8</text>
<line x1="528.9" y1="383.7" x2="530.8" y2="383.7" stroke="#111" stroke-width="0.9" />
<text x="528.5" y="385.86" font-size="6" font-weight="bold" text-anchor="end" fill="#111">9</text>
<text x="545" y="387.5" font-size="4.9" font-weight="bold" text-anchor="middle" fill="#b01e1e">P=0.023</text>
<text x="566.8" y="431" font-size="4.9" font-weight="bold" text-anchor="middle" fill="#1f1fe0">P=0.027</text>
<path d="M595 458.26L606.8 393.54M595 458.26L606.8 409.26M595 458.26L606.8 410.18M595 458.26L606.8 421.74M595 458.26L606.8 443M595 458.26L606.8 452.71" stroke="#b01e1e" stroke-width="0.55" fill="none"/>
<circle cx="595" cy="458.26" r="1.25" fill="#b01e1e"/>
<rect x="605.7" y="392.44" width="2.2" height="2.2" fill="#b01e1e"/>
<rect x="605.7" y="408.16" width="2.2" height="2.2" fill="#b01e1e"/>
<rect x="605.7" y="409.08" width="2.2" height="2.2" fill="#b01e1e"/>
<rect x="605.7" y="420.64" width="2.2" height="2.2" fill="#b01e1e"/>
<rect x="605.7" y="441.9" width="2.2" height="2.2" fill="#b01e1e"/>
<rect x="605.7" y="451.61" width="2.2" height="2.2" fill="#b01e1e"/>
<path d="M618 458.26L629.6 415.73M618 458.26L629.6 420.35M618 458.26L629.6 424.98M618 458.26L629.6 425.9M618 458.26L629.6 449.01M618 458.26L629.6 454.1M618 458.26L629.6 455.48M618 458.26L629.6 457.33M618 458.26L629.6 458.26" stroke="#1f1fe0" stroke-width="0.55" fill="none"/>
<circle cx="618" cy="458.26" r="1.25" fill="#1f1fe0"/>
<rect x="628.5" y="414.63" width="2.2" height="2.2" fill="#1f1fe0"/>
<rect x="628.5" y="419.25" width="2.2" height="2.2" fill="#1f1fe0"/>
<rect x="628.5" y="423.88" width="2.2" height="2.2" fill="#1f1fe0"/>
<rect x="628.5" y="424.8" width="2.2" height="2.2" fill="#1f1fe0"/>
<rect x="628.5" y="447.91" width="2.2" height="2.2" fill="#1f1fe0"/>
<rect x="628.5" y="453" width="2.2" height="2.2" fill="#1f1fe0"/>
<rect x="628.5" y="454.38" width="2.2" height="2.2" fill="#1f1fe0"/>
<rect x="628.5" y="456.23" width="2.2" height="2.2" fill="#1f1fe0"/>
<rect x="628.5" y="457.16" width="2.2" height="2.2" fill="#1f1fe0"/>
<line x1="589.8" y1="383.8" x2="589.8" y2="462.6" stroke="#111" stroke-width="1.1" />
<line x1="589.8" y1="462.6" x2="636" y2="462.6" stroke="#111" stroke-width="1.1" />
<line x1="587.9" y1="458.26" x2="589.8" y2="458.26" stroke="#111" stroke-width="0.9" />
<text x="587.5" y="460.42" font-size="6" font-weight="bold" text-anchor="end" fill="#111">1</text>
<line x1="587.9" y1="449.01" x2="589.8" y2="449.01" stroke="#111" stroke-width="0.9" />
<text x="587.5" y="451.17" font-size="6" font-weight="bold" text-anchor="end" fill="#111">2</text>
<line x1="587.9" y1="439.77" x2="589.8" y2="439.77" stroke="#111" stroke-width="0.9" />
<text x="587.5" y="441.93" font-size="6" font-weight="bold" text-anchor="end" fill="#111">3</text>
<line x1="587.9" y1="430.52" x2="589.8" y2="430.52" stroke="#111" stroke-width="0.9" />
<text x="587.5" y="432.68" font-size="6" font-weight="bold" text-anchor="end" fill="#111">4</text>
<line x1="587.9" y1="421.28" x2="589.8" y2="421.28" stroke="#111" stroke-width="0.9" />
<text x="587.5" y="423.44" font-size="6" font-weight="bold" text-anchor="end" fill="#111">5</text>
<line x1="587.9" y1="412.03" x2="589.8" y2="412.03" stroke="#111" stroke-width="0.9" />
<text x="587.5" y="414.19" font-size="6" font-weight="bold" text-anchor="end" fill="#111">6</text>
<line x1="587.9" y1="402.79" x2="589.8" y2="402.79" stroke="#111" stroke-width="0.9" />
<text x="587.5" y="404.95" font-size="6" font-weight="bold" text-anchor="end" fill="#111">7</text>
<line x1="587.9" y1="393.54" x2="589.8" y2="393.54" stroke="#111" stroke-width="0.9" />
<text x="587.5" y="395.7" font-size="6" font-weight="bold" text-anchor="end" fill="#111">8</text>
<line x1="587.9" y1="384.3" x2="589.8" y2="384.3" stroke="#111" stroke-width="0.9" />
<text x="587.5" y="386.46" font-size="6" font-weight="bold" text-anchor="end" fill="#111">9</text>
<text x="604" y="389.6" font-size="4.9" font-weight="bold" text-anchor="middle" fill="#b01e1e">P=0.003</text>
<text x="626.2" y="413.7" font-size="4.9" font-weight="bold" text-anchor="middle" fill="#1f1fe0">P=0.038</text>
<text x="330.5" y="471.7" font-size="5.9" font-weight="bold" fill="#111" textLength="25" lengthAdjust="spacingAndGlyphs">pAMPKα</text>
<text x="355.7" y="468.6" font-size="4" font-weight="bold" fill="#111" textLength="11.5" lengthAdjust="spacingAndGlyphs">Thr172</text>
<text x="367.4" y="471.7" font-size="5.9" font-weight="bold" fill="#111" textLength="17.5" lengthAdjust="spacingAndGlyphs">/Total</text>
<text x="406.7" y="471.7" font-size="5.9" font-weight="bold" fill="#111" textLength="16" lengthAdjust="spacingAndGlyphs">pACC</text>
<text x="422.9" y="468.6" font-size="4" font-weight="bold" fill="#111" textLength="10" lengthAdjust="spacingAndGlyphs">Ser79</text>
<text x="433.1" y="471.7" font-size="5.9" font-weight="bold" fill="#111" textLength="17.5" lengthAdjust="spacingAndGlyphs">/Total</text>
<text x="466.6" y="471.7" font-size="5.9" font-weight="bold" fill="#111" textLength="21.2" lengthAdjust="spacingAndGlyphs">pmTOR</text>
<text x="488" y="468.6" font-size="4" font-weight="bold" fill="#111" textLength="14.5" lengthAdjust="spacingAndGlyphs">Ser2448</text>
<text x="502.7" y="471.7" font-size="5.9" font-weight="bold" fill="#111" textLength="17.5" lengthAdjust="spacingAndGlyphs">/Total</text>
<text x="531.7" y="471.7" font-size="5.9" font-weight="bold" fill="#111" textLength="27.5" lengthAdjust="spacingAndGlyphs">pP70S6K</text>
<text x="559.4" y="468.6" font-size="4" font-weight="bold" fill="#111" textLength="12" lengthAdjust="spacingAndGlyphs">Thr389</text>
<text x="590.6" y="471.7" font-size="5.9" font-weight="bold" fill="#111" textLength="18.5" lengthAdjust="spacingAndGlyphs">pRPS6</text>
<text x="609.3" y="468.6" font-size="4" font-weight="bold" fill="#111" textLength="22.5" lengthAdjust="spacingAndGlyphs">Ser240/244</text>
<rect x="627.7" y="370.6" width="43.2" height="32.1" fill="#fff" stroke="#111" stroke-width="1.2" rx="3"/>
<circle cx="633" cy="376.3" r="1.75" fill="#b01e1e"/>
<text x="640" y="378.2" font-size="6" font-weight="bold" fill="#111" textLength="23" lengthAdjust="spacingAndGlyphs" stroke="#111" stroke-width="0.12">Pre AAE</text>
<rect x="631.5" y="381.9" width="3" height="3" fill="#b01e1e"/>
<text x="640" y="385.3" font-size="6" font-weight="bold" fill="#111" textLength="26.2" lengthAdjust="spacingAndGlyphs" stroke="#111" stroke-width="0.12">Post AAE</text>
<circle cx="633" cy="390.5" r="1.75" fill="#1f1fe0"/>
<text x="640" y="392.4" font-size="6" font-weight="bold" fill="#111" textLength="23" lengthAdjust="spacingAndGlyphs" stroke="#111" stroke-width="0.12">Pre ARE</text>
<rect x="631.5" y="396.1" width="3" height="3" fill="#1f1fe0"/>
<text x="640" y="399.5" font-size="6" font-weight="bold" fill="#111" textLength="26.2" lengthAdjust="spacingAndGlyphs" stroke="#111" stroke-width="0.12">Post ARE</text>
<text x="352.8" y="501.2" font-size="14.2" font-weight="bold" text-anchor="middle">K</text>
<text x="490.4" y="484" font-size="9.1" font-weight="bold" text-anchor="middle" fill="#111" textLength="68.5" lengthAdjust="spacingAndGlyphs">Acetylproteome</text>
<line x1="456.1" y1="485.1" x2="524.6" y2="485.1" stroke="#111" stroke-width="0.9" />
<line x1="419.4" y1="500.2" x2="419.4" y2="639.9" stroke="#cfcfcf" stroke-width="0.6" />
<line x1="449.7" y1="500.2" x2="449.7" y2="639.9" stroke="#cfcfcf" stroke-width="0.6" />
<line x1="382.6" y1="621.5" x2="487.4" y2="621.5" stroke="#d5d5d5" stroke-width="0.6" />
<path d="M424.2 639.6h0M456.8 636.6h0M453.1 634.8h0M416.9 637.2h0M455.9 639.9h0M442.5 637.5h0M420.2 628.9h0M447.5 631.9h0M419.2 626.3h0M450.0 639.4h0M447.9 639.9h0M418.3 639.7h0M449.8 639.4h0M421.0 634.4h0M457.2 628.8h0M450.0 636.1h0M457.3 626.6h0M431.3 638.9h0M450.7 629.9h0M443.7 633.4h0M422.9 637.2h0M455.4 638.1h0M429.0 638.2h0M425.1 631.8h0M421.7 634.5h0M456.9 638.1h0M452.5 631.6h0M444.3 634.8h0M455.0 636.9h0M422.5 635.4h0M450.3 637.5h0M434.5 639.9h0M443.8 638.6h0M432.8 639.7h0M454.5 639.9h0M423.5 633.8h0M419.5 638.8h0M433.2 639.8h0M421.6 632.3h0M457.8 632.4h0M455.1 639.4h0M440.3 638.3h0M429.3 635.5h0M417.1 639.6h0M450.1 629.9h0M457.3 626.4h0M419.7 628.4h0M417.9 639.2h0M442.8 639.5h0M425.5 634.0h0M435.7 639.9h0M423.1 633.9h0M429.1 639.8h0M420.7 633.9h0M446.0 639.9h0M437.9 639.8h0M423.5 639.9h0M429.0 635.9h0M431.1 638.8h0M454.9 631.4h0M425.9 637.7h0M454.9 630.2h0M443.7 636.5h0M429.5 637.5h0M443.2 635.6h0M431.2 639.8h0M458.0 639.3h0M442.9 633.9h0M455.5 622.5h0M425.2 636.3h0M420.9 639.9h0M421.1 630.4h0M424.4 639.9h0M456.1 627.2h0M425.1 639.4h0M448.2 636.1h0M457.1 638.3h0M418.8 639.3h0M420.2 631.2h0M434.2 639.6h0M428.5 639.0h0M422.6 639.0h0M454.2 638.3h0M430.9 639.9h0M427.9 636.3h0M428.5 635.5h0M455.3 621.6h0M430.5 638.0h0M423.5 636.6h0M454.5 630.0h0M425.8 637.0h0M450.7 630.4h0M429.7 638.4h0M440.9 639.2h0M429.2 639.7h0M459.1 631.9h0M457.4 633.8h0M430.5 638.5h0M446.0 639.9h0M424.9 631.6h0M427.0 637.1h0M436.9 639.7h0M436.6 639.5h0M416.8 634.6h0M441.1 639.9h0M418.0 625.6h0M425.6 632.2h0M420.8 636.7h0M447.0 631.9h0M442.6 633.9h0M455.3 632.0h0M418.3 633.7h0M421.0 633.8h0M453.9 639.8h0M432.2 638.4h0M425.5 639.2h0M423.3 639.8h0M431.6 638.3h0M424.8 636.2h0M455.8 639.6h0M419.2 638.8h0M425.8 638.0h0M441.8 639.8h0M426.5 634.9h0M436.0 639.9h0M425.0 639.8h0M456.2 632.7h0M431.9 638.7h0M457.3 636.4h0M428.3 634.1h0M427.2 633.1h0M457.7 639.5h0M426.1 639.9h0M421.6 633.8h0M420.0 630.7h0M429.6 639.9h0M450.0 633.7h0M427.1 638.7h0M428.8 635.2h0M421.5 635.5h0M416.3 630.6h0M458.8 635.9h0M423.8 635.8h0M432.5 639.9h0M444.5 633.6h0M427.8 638.5h0M449.2 639.9h0M425.3 631.9h0M425.4 636.3h0M455.7 630.3h0M434.7 639.9h0M424.8 637.2h0M432.6 639.6h0M426.5 639.9h0M443.3 638.1h0M420.9 633.1h0M424.0 634.1h0M426.3 637.2h0M443.6 639.3h0M421.5 637.1h0M441.8 635.8h0M444.1 638.7h0M455.6 631.4h0M420.3 632.3h0M424.2 635.7h0M423.9 639.9h0M438.4 639.8h0M428.0 638.7h0M434.5 639.9h0M442.1 638.3h0M424.3 637.6h0M452.5 627.2h0M449.3 637.9h0M449.3 634.4h0M438.6 639.9h0M428.9 638.2h0M429.2 637.0h0M446.0 631.7h0M433.4 639.2h0M425.9 638.2h0M442.7 639.1h0M425.7 637.2h0M440.9 635.7h0M457.0 623.3h0M416.9 627.8h0M455.4 639.8h0M433.1 639.9h0M417.8 639.7h0M447.6 637.5h0M418.1 627.5h0M448.6 635.5h0M452.0 629.3h0M419.0 639.9h0M418.5 632.7h0M424.6 639.8h0M457.7 633.8h0M419.5 628.8h0M453.4 639.6h0M440.7 639.1h0M442.0 638.7h0M419.2 637.2h0M454.9 638.6h0M443.5 639.6h0M427.7 638.5h0M453.3 639.9h0M441.1 638.3h0M418.0 625.7h0M454.9 638.0h0M450.3 639.5h0M420.8 638.6h0M456.0 636.2h0M421.6 630.0h0M444.4 639.5h0M427.5 634.0h0M449.3 635.4h0M443.4 639.4h0M430.8 639.1h0M439.9 637.5h0M420.4 639.7h0M448.3 637.1h0M429.4 636.7h0M456.3 628.0h0M425.9 636.3h0M430.2 639.3h0M445.0 637.6h0M425.2 637.3h0M455.0 635.6h0M419.1 631.4h0M426.8 634.1h0M419.2 638.3h0M420.6 639.1h0M428.6 638.1h0M417.8 632.0h0M420.8 635.4h0M449.5 637.0h0M420.1 628.9h0M444.8 637.1h0M431.4 638.7h0M425.3 634.8h0M431.7 637.1h0M449.5 632.0h0M439.1 638.2h0M421.1 639.2h0M438.3 639.8h0M419.0 633.1h0M418.8 638.7h0M427.8 638.7h0M425.1 636.0h0M455.6 639.0h0M453.7 636.9h0M453.2 633.8h0M420.5 639.9h0M426.0 636.7h0M432.9 639.2h0M446.3 639.2h0M431.1 639.5h0M440.0 638.7h0M452.7 633.1h0M442.4 639.4h0M430.3 637.5h0M443.9 638.6h0M446.3 631.4h0M455.5 633.5h0M454.4 638.9h0M451.3 632.0h0M420.5 635.2h0M440.3 634.6h0M429.2 639.6h0M443.7 631.7h0M424.1 635.7h0M422.6 638.3h0M440.5 638.5h0M420.1 631.2h0M420.4 634.4h0M450.9 634.2h0M421.5 639.5h0M452.3 633.9h0M422.9 632.7h0M420.2 636.7h0M419.8 636.7h0M449.9 635.8h0M446.2 639.6h0M424.8 638.8h0M444.9 635.0h0M423.0 639.6h0M426.2 638.7h0M419.0 629.1h0M429.1 639.4h0M447.0 634.3h0M456.9 639.9h0M437.3 639.0h0M425.4 639.3h0M432.4 639.8h0M446.7 629.5h0M425.1 639.1h0M451.9 634.6h0M441.2 639.9h0M421.3 634.6h0M431.0 637.7h0M447.0 638.5h0M453.4 635.5h0M454.5 628.5h0M449.1 639.5h0M427.7 636.2h0M442.5 639.7h0M430.3 637.6h0M418.8 637.9h0M433.5 639.2h0M454.5 636.7h0M454.4 636.9h0M455.0 639.7h0M427.6 637.5h0M445.2 637.4h0M420.9 631.1h0M418.1 636.9h0M421.5 639.3h0M436.7 638.6h0M439.3 639.8h0M420.1 634.7h0M446.4 633.4h0M447.9 639.6h0M453.0 638.3h0M452.5 630.8h0M444.8 639.9h0M453.4 625.5h0M441.4 639.7h0M428.4 635.8h0M455.6 639.9h0M444.4 632.0h0M441.0 636.0h0M429.1 639.5h0M459.4 638.6h0M448.1 634.1h0M447.5 634.8h0M458.2 628.8h0M447.2 639.7h0M423.6 634.8h0M453.8 630.6h0M428.0 639.9h0M421.4 639.7h0M432.5 639.9h0M456.2 637.6h0M422.4 633.9h0M430.5 637.8h0M443.4 632.2h0M420.3 633.7h0M442.1 636.3h0M452.6 639.9h0M431.2 637.6h0M417.6 634.5h0M459.1 636.3h0M442.3 635.7h0M421.2 633.0h0M428.9 637.8h0M419.8 634.3h0M424.6 634.6h0M421.2 628.5h0M452.4 633.1h0M442.2 639.5h0M438.5 638.9h0M457.5 631.9h0M432.0 639.7h0M433.8 639.8h0M438.9 639.4h0M421.6 632.8h0M419.3 633.3h0M425.6 634.4h0M456.3 622.2h0M448.3 639.1h0M452.2 634.0h0M420.9 637.3h0M441.3 635.6h0M423.0 637.9h0M420.3 638.1h0M452.1 638.3h0M444.3 639.6h0M419.1 633.7h0M425.1 639.8h0M456.1 639.4h0M437.9 637.9h0M457.1 631.1h0M422.4 639.2h0M453.6 628.2h0M419.7 638.6h0M452.8 639.2h0M448.4 638.8h0M433.4 639.2h0M418.7 638.7h0M446.1 634.5h0M428.3 638.9h0M422.4 638.6h0M422.9 637.3h0M441.9 637.7h0M428.3 639.7h0M449.9 639.7h0M457.7 638.3h0M442.0 634.2h0M444.5 634.0h0M457.8 639.8h0M417.3 638.8h0M457.3 635.7h0M417.9 633.6h0M442.9 633.9h0M442.4 639.1h0M426.6 639.7h0M449.2 636.9h0M428.0 635.2h0M438.2 639.6h0M417.8 632.3h0M425.8 639.1h0M457.9 639.7h0M423.3 639.7h0M425.8 639.9h0M449.3 639.0h0M417.7 627.1h0M427.9 639.9h0M421.7 639.8h0M452.6 632.5h0M457.1 639.8h0M427.5 636.9h0M446.5 638.7h0M431.1 639.9h0M426.6 638.8h0M453.2 628.2h0M429.0 638.4h0M433.3 639.9h0M423.5 630.4h0M447.0 639.4h0M432.2 639.8h0M420.2 635.5h0M426.4 638.7h0M437.1 639.0h0M442.1 639.9h0M454.7 635.3h0M456.9 634.6h0M449.4 634.9h0M417.9 626.0h0M429.3 639.8h0M440.6 639.7h0M426.0 635.8h0M439.4 638.6h0M449.6 627.7h0M450.9 638.6h0M443.1 638.6h0M425.8 638.8h0M439.1 638.0h0M433.4 638.3h0M449.2 633.7h0M452.3 639.4h0M433.7 639.2h0M419.6 629.4h0M453.2 639.4h0M418.1 636.8h0M452.4 630.6h0M450.2 633.5h0M452.1 635.0h0M418.9 639.9h0M456.4 626.4h0M417.8 636.1h0M436.0 639.4h0M457.7 636.4h0M455.0 637.6h0M459.4 623.1h0M455.7 637.3h0M449.9 639.1h0M420.7 632.6h0M445.6 634.1h0M421.4 632.8h0M425.1 638.7h0M421.3 632.5h0M447.9 635.9h0M426.3 638.2h0M426.3 632.6h0M450.7 635.8h0M423.2 639.1h0M428.5 639.9h0M438.5 638.7h0M420.7 628.6h0M451.2 629.8h0M421.4 630.9h0M420.2 636.8h0M451.0 628.1h0M431.3 638.4h0M435.9 638.9h0M450.0 639.1h0M455.0 639.6h0M428.6 635.8h0M445.0 632.5h0M455.0 638.4h0M417.8 636.3h0M423.1 631.7h0M446.3 639.5h0M456.3 636.1h0M421.3 631.8h0M441.7 639.9h0M428.1 639.4h0M451.3 634.2h0M458.8 634.5h0M424.6 638.4h0M438.8 639.9h0M458.5 637.7h0M458.2 637.9h0M450.5 638.3h0M419.7 638.5h0M422.9 631.5h0M454.7 627.3h0M446.4 639.1h0M445.7 639.5h0M451.6 636.8h0M426.1 635.2h0M431.7 639.6h0M454.0 637.7h0M437.4 639.0h0M426.8 639.6h0M445.3 638.1h0M453.0 639.9h0M446.9 639.9h0M443.9 637.6h0M440.2 639.5h0M452.3 639.4h0M435.6 638.6h0M444.5 638.0h0M421.0 636.0h0M436.6 639.9h0M448.9 630.3h0M437.1 637.6h0M426.1 633.3h0M423.4 638.6h0M428.2 636.9h0M441.6 639.8h0M420.8 638.5h0M423.3 634.7h0M421.5 639.2h0M423.0 639.7h0M437.8 638.5h0M453.5 630.2h0M437.6 639.6h0M424.6 637.6h0M450.6 639.4h0M418.0 639.7h0M419.5 638.7h0M454.6 639.2h0M430.7 636.6h0M442.4 638.0h0M437.5 639.4h0M443.5 634.1h0M428.9 639.4h0M430.1 639.8h0M444.8 634.3h0M420.5 639.7h0M449.0 639.4h0M443.1 636.7h0M451.3 636.3h0M442.2 636.1h0M449.3 639.9h0M438.3 637.1h0M432.5 638.3h0M444.5 632.2h0M457.0 630.6h0M421.3 639.9h0M456.5 626.0h0M449.8 639.4h0M441.1 639.9h0M428.8 639.9h0M456.9 629.2h0M455.3 638.5h0M422.3 632.4h0M445.4 639.0h0M454.0 630.8h0M456.0 638.1h0M454.4 636.3h0M446.0 637.8h0M440.7 638.9h0M453.7 628.1h0M457.3 623.5h0M457.8 620.7h0M450.8 627.4h0M424.5 638.7h0M455.8 635.5h0M431.2 639.6h0M423.7 632.8h0M423.3 637.6h0M444.8 638.9h0M422.5 629.8h0M422.2 637.5h0M423.3 639.4h0M428.4 638.0h0M432.3 639.9h0M457.1 632.6h0M454.3 629.5h0M445.3 637.1h0M428.8 636.7h0M455.2 632.3h0M444.9 636.3h0M441.8 636.8h0M419.1 639.9h0M430.5 638.1h0M425.1 639.7h0M439.7 635.8h0M429.2 638.4h0M440.8 639.4h0M448.4 639.4h0M423.3 639.9h0M439.8 639.1h0M439.0 635.6h0M449.9 633.2h0M455.5 639.2h0M452.5 633.8h0M420.8 638.8h0M454.3 632.5h0M457.8 638.7h0M432.9 639.5h0M451.5 633.1h0M439.7 639.0h0M419.4 634.7h0M436.8 638.2h0M441.6 637.6h0M425.3 638.9h0M443.8 632.9h0M418.8 633.9h0M446.5 634.2h0M432.5 638.4h0M456.2 636.4h0M440.3 638.1h0M450.3 636.0h0M423.2 639.6h0M438.1 639.9h0M458.4 639.3h0M441.5 639.9h0M450.1 630.6h0M450.5 639.9h0M443.1 634.3h0M423.8 636.4h0M428.4 639.9h0M447.9 633.8h0M421.5 630.0h0M426.6 636.1h0M443.4 639.8h0M431.3 638.4h0M432.3 639.8h0M442.7 636.1h0M424.2 638.5h0M446.4 639.1h0M427.9 639.5h0M420.2 637.6h0M436.7 639.9h0M445.0 639.9h0M418.0 637.1h0M426.3 638.1h0M433.4 639.7h0M456.7 638.3h0M418.0 635.3h0M425.8 639.9h0M455.0 633.2h0M443.3 639.8h0M450.7 627.0h0M426.8 635.9h0M426.9 639.5h0M430.4 637.6h0M430.8 639.4h0M432.7 639.9h0M425.2 636.8h0M457.0 624.5h0M422.2 639.6h0M448.9 638.6h0M421.7 639.9h0M425.9 638.2h0M432.4 638.8h0M422.9 635.2h0M455.7 627.7h0M430.0 638.6h0M456.7 637.4h0M441.0 639.0h0M436.7 638.2h0M453.1 624.5h0M439.3 639.4h0M429.1 639.8h0M420.5 639.9h0M437.5 637.3h0M438.7 639.6h0M419.0 637.7h0M429.2 638.1h0M419.2 639.7h0M452.6 632.8h0M419.3 626.7h0M452.7 639.3h0M453.9 632.6h0M448.8 629.7h0M458.0 634.0h0M422.9 634.6h0M449.7 631.0h0M448.4 631.7h0M439.8 639.0h0M449.5 633.0h0M429.7 638.7h0M455.4 629.3h0M455.7 635.0h0M426.9 636.7h0M417.5 638.2h0M440.3 634.5h0M421.1 636.1h0M453.7 630.2h0M423.1 632.9h0M431.2 639.8h0M420.1 628.4h0M423.6 631.0h0M419.9 637.9h0M446.7 634.7h0M456.2 635.6h0M455.1 634.3h0M451.4 631.9h0M440.5 639.4h0M417.1 635.9h0M440.0 639.3h0M421.8 637.8h0M420.5 636.5h0M452.3 639.9h0M425.8 639.5h0M428.7 637.9h0M451.0 631.8h0M422.3 637.1h0M423.5 630.6h0M440.1 638.7h0M443.5 638.9h0M456.9 627.2h0M453.6 632.9h0M452.6 635.4h0M431.3 639.7h0M418.8 639.4h0M454.2 639.8h0M426.1 638.4h0M439.9 639.8h0M431.2 638.5h0M424.8 639.2h0M421.0 633.3h0M422.7 638.0h0M426.4 634.5h0M422.1 639.2h0M422.8 639.1h0M448.5 636.0h0M429.4 638.7h0M426.3 638.9h0M426.1 639.8h0M434.1 639.6h0M418.3 638.8h0M455.6 635.9h0M419.2 632.5h0M431.1 639.7h0M454.8 639.6h0M421.3 634.0h0M421.2 639.0h0M418.5 639.9h0M449.8 638.9h0M417.2 637.9h0M424.0 637.9h0M417.3 638.8h0M440.7 638.2h0M419.7 631.7h0M434.7 639.7h0M418.9 632.1h0M430.2 635.6h0M459.0 636.4h0M428.5 637.2h0M457.3 637.2h0M439.7 639.6h0M447.3 635.5h0M447.9 635.6h0M428.6 639.1h0M445.9 639.2h0M419.8 636.9h0M419.9 636.7h0M426.6 635.4h0M422.6 639.9h0M431.1 639.4h0M435.5 639.7h0M458.1 637.4h0M424.2 638.6h0M452.2 637.9h0M450.1 639.9h0M449.6 639.0h0M445.0 638.2h0M422.2 639.6h0M428.1 637.4h0M445.4 631.1h0M426.8 639.8h0M424.1 639.7h0M445.6 633.4h0M439.1 639.5h0M420.1 639.1h0M442.3 639.5h0M428.9 639.0h0M419.3 628.7h0M443.4 639.3h0M438.2 639.0h0M426.7 635.0h0M419.3 639.8h0M417.2 639.6h0M439.1 639.9h0M416.7 639.0h0M422.9 630.5h0M419.0 639.1h0M443.5 637.8h0M430.3 638.5h0M453.1 639.9h0M447.4 636.5h0M453.6 626.9h0M420.2 635.6h0M447.3 634.6h0M429.9 635.9h0M428.6 636.1h0M419.8 635.0h0M426.8 639.6h0M423.0 635.3h0M428.1 637.6h0M454.0 638.7h0M423.2 637.0h0M442.5 633.8h0M455.7 638.0h0M454.7 632.3h0M447.9 628.8h0M443.8 635.6h0M456.8 633.9h0M438.7 638.8h0M448.5 629.4h0M438.7 638.8h0M421.9 637.3h0M419.0 632.7h0M422.9 631.4h0M456.3 638.8h0M420.9 639.3h0M452.2 638.4h0M431.7 638.7h0M456.6 634.1h0M426.8 637.2h0M458.0 639.7h0M455.4 639.6h0M456.9 627.1h0M452.9 638.9h0M455.7 631.2h0M417.8 638.8h0M424.7 638.7h0M428.9 638.8h0M434.1 639.1h0M443.8 637.3h0M420.9 635.5h0M426.2 639.5h0M421.8 637.3h0M437.3 637.1h0M447.9 633.4h0M422.5 639.8h0M440.0 569.4h0M446.6 581.2h0M441.0 597.0h0M445.0 593.0h0M448.0 605.0h0M443.0 608.0h0M439.0 612.0h0M452.0 616.0h0M456.0 624.0h0M460.0 628.0h0M465.0 632.0h0M470.0 634.0h0M474.0 636.0h0M412.0 630.0h0M409.0 633.0h0M418.0 618.0h0M424.0 612.0h0" stroke="#a6a6a6" stroke-width="1" stroke-linecap="round"/>
<path d="M450.6 561.0h0M459.9 582.2h0M450.2 585.5h0M450.9 592.0h0M452.9 592.9h0M454.4 590.3h0M450.2 597.8h0M451.4 597.8h0M451.5 603.4h0M451.5 608.0h0M452.7 609.6h0M467.8 611.1h0M471.1 615.2h0M450.6 614.8h0M450.1 618.1h0M453.6 621.6h0M458.8 533.8h0M451.0 600.0h0" stroke="#b00000" stroke-width="2" stroke-linecap="round"/>
<path d="M413.4 617.4h0M415.9 617.8h0" stroke="#ff4040" stroke-width="1.6" stroke-linecap="round"/>
<line x1="434.5" y1="500.2" x2="434.5" y2="639.9" stroke="#333" stroke-width="0.9" />
<line x1="382.6" y1="499.9" x2="382.6" y2="639.9" stroke="#111" stroke-width="1.1" />
<line x1="382.6" y1="639.9" x2="487.4" y2="639.9" stroke="#111" stroke-width="1.1" />
<line x1="380" y1="639.9" x2="382.6" y2="639.9" stroke="#111" stroke-width="0.9" />
<text x="379.6" y="641.92" font-size="5.6" font-weight="bold" text-anchor="end" fill="#111">0</text>
<line x1="380" y1="611.96" x2="382.6" y2="611.96" stroke="#111" stroke-width="0.9" />
<text x="379.6" y="613.98" font-size="5.6" font-weight="bold" text-anchor="end" fill="#111">2</text>
<line x1="380" y1="584.02" x2="382.6" y2="584.02" stroke="#111" stroke-width="0.9" />
<text x="379.6" y="586.04" font-size="5.6" font-weight="bold" text-anchor="end" fill="#111">4</text>
<line x1="380" y1="556.08" x2="382.6" y2="556.08" stroke="#111" stroke-width="0.9" />
<text x="379.6" y="558.1" font-size="5.6" font-weight="bold" text-anchor="end" fill="#111">6</text>
<line x1="380" y1="528.14" x2="382.6" y2="528.14" stroke="#111" stroke-width="0.9" />
<text x="379.6" y="530.16" font-size="5.6" font-weight="bold" text-anchor="end" fill="#111">8</text>
<line x1="380" y1="500.2" x2="382.6" y2="500.2" stroke="#111" stroke-width="0.9" />
<text x="379.6" y="502.22" font-size="5.6" font-weight="bold" text-anchor="end" fill="#111">10</text>
<line x1="394.4" y1="639.9" x2="394.4" y2="642.2" stroke="#111" stroke-width="0.9" />
<text x="394.4" y="648.83" font-size="5.6" font-weight="bold" text-anchor="middle" fill="#111">-1.0</text>
<line x1="414.45" y1="639.9" x2="414.45" y2="642.2" stroke="#111" stroke-width="0.9" />
<text x="414.45" y="648.83" font-size="5.6" font-weight="bold" text-anchor="middle" fill="#111">-0.5</text>
<line x1="434.5" y1="639.9" x2="434.5" y2="642.2" stroke="#111" stroke-width="0.9" />
<text x="434.5" y="648.83" font-size="5.6" font-weight="bold" text-anchor="middle" fill="#111">0.0</text>
<line x1="454.55" y1="639.9" x2="454.55" y2="642.2" stroke="#111" stroke-width="0.9" />
<text x="454.55" y="648.83" font-size="5.6" font-weight="bold" text-anchor="middle" fill="#111">0.5</text>
<line x1="474.6" y1="639.9" x2="474.6" y2="642.2" stroke="#111" stroke-width="0.9" />
<text x="474.6" y="648.83" font-size="5.6" font-weight="bold" text-anchor="middle" fill="#111">1.0</text>
<line x1="419.3" y1="519.4" x2="388.24" y2="519.4" stroke="#ff4040" stroke-width="1.8" />
<path d="M384.4 519.4 L389.2 517 L389.2 521.8 Z" fill="#ff4040"/>
<line x1="450" y1="519.4" x2="481.16" y2="519.4" stroke="#a00000" stroke-width="1.8" />
<path d="M485 519.4 L480.2 517 L480.2 521.8 Z" fill="#a00000"/>
<text x="418.5" y="510.1" font-size="6.5" font-weight="bold" text-anchor="end" fill="#111">Decreased</text>
<text x="418.5" y="517.5" font-size="6.5" font-weight="bold" text-anchor="end" fill="#111">by AAE</text>
<text x="451.4" y="510.1" font-size="6.5" font-weight="bold" fill="#111">Increased</text>
<text x="451.4" y="517.5" font-size="6.5" font-weight="bold" fill="#111">by AAE</text>
<text x="416.6" y="527" font-size="6" font-weight="bold" text-anchor="end" fill="#ff4040">2</text>
<text x="453.2" y="527" font-size="6" font-weight="bold" fill="#b00000">19</text>
<text x="369.56" y="568.7" font-size="8.4" font-weight="bold" text-anchor="middle" fill="#111" transform="rotate(-90 369.56 568.7)" textLength="65.7" lengthAdjust="spacingAndGlyphs">-log<tspan font-size="5.88" dy="2.1">10</tspan><tspan dy="-2.1"> adj p-value</tspan></text>
<text x="434.2" y="659" font-size="9" font-weight="bold" text-anchor="middle" fill="#111" textLength="112" lengthAdjust="spacingAndGlyphs">log<tspan font-size="6.3" dy="2.25">2</tspan><tspan dy="-2.25">FC (10min Ex vs Pre Sed)</tspan></text>
<line x1="560.5" y1="500.7" x2="560.5" y2="639.9" stroke="#cfcfcf" stroke-width="0.6" />
<line x1="590.7" y1="500.7" x2="590.7" y2="639.9" stroke="#cfcfcf" stroke-width="0.6" />
<line x1="522.8" y1="621" x2="628.3" y2="621" stroke="#d5d5d5" stroke-width="0.6" />
<path d="M577.1 639.1h0M558.8 639.8h0M588.0 639.8h0M567.1 639.9h0M570.2 639.8h0M560.6 631.7h0M598.0 636.7h0M580.5 639.2h0M583.2 639.9h0M594.5 638.8h0M574.4 639.8h0M571.3 639.9h0M562.3 639.5h0M594.9 633.9h0M558.4 632.2h0M595.7 639.6h0M597.7 633.9h0M579.0 639.1h0M561.1 632.6h0M564.5 639.8h0M592.4 638.3h0M573.2 639.6h0M582.7 638.5h0M568.7 637.1h0M560.6 639.6h0M581.7 639.0h0M559.6 639.4h0M569.9 638.2h0M570.0 636.8h0M592.8 636.9h0M596.8 635.1h0M599.3 639.9h0M557.8 639.9h0M577.3 638.9h0M564.0 635.4h0M567.6 639.9h0M595.4 639.9h0M584.9 638.8h0M592.3 631.1h0M573.3 639.7h0M585.4 639.8h0M570.2 638.7h0M570.6 637.1h0M566.3 637.8h0M580.4 639.6h0M597.4 632.5h0M580.5 637.0h0M591.7 635.3h0M597.9 632.8h0M589.9 635.7h0M561.0 635.7h0M566.9 639.5h0M559.3 631.6h0M571.6 637.9h0M573.8 639.9h0M571.8 637.4h0M558.9 639.9h0M564.2 639.5h0M600.0 636.8h0M592.0 639.9h0M579.2 639.7h0M598.7 634.4h0M564.5 639.9h0M564.6 635.5h0M569.6 638.7h0M575.7 639.8h0M579.4 639.5h0M597.4 639.9h0M562.1 632.8h0M597.6 639.9h0M564.7 637.1h0M570.4 639.9h0M567.9 638.8h0M586.9 639.0h0M561.6 631.0h0M590.8 637.1h0M574.9 639.9h0M595.7 638.8h0M565.5 639.9h0M595.6 639.9h0M599.7 629.8h0M585.6 638.6h0M598.0 631.6h0M560.1 639.6h0M581.8 638.3h0M570.3 639.3h0M558.9 632.8h0M571.3 639.3h0M590.6 638.4h0M580.3 639.9h0M590.4 639.8h0M555.7 629.8h0M587.1 638.6h0M568.4 639.8h0M559.8 638.9h0M570.6 639.9h0M563.9 637.3h0M597.6 639.9h0M584.5 635.5h0M561.3 636.3h0M565.0 639.4h0M560.2 629.5h0M567.5 638.4h0M559.4 639.1h0M564.0 639.9h0M562.5 636.0h0M593.6 639.9h0M561.7 639.4h0M591.0 639.8h0M598.5 638.1h0M594.2 635.0h0M561.4 638.7h0M570.0 638.7h0M572.4 639.4h0M581.5 639.9h0M591.2 639.9h0M569.4 639.3h0M563.1 634.3h0M591.0 639.8h0M596.8 631.1h0M583.2 639.1h0M579.4 639.4h0M561.9 639.4h0M560.4 638.3h0M586.1 634.5h0M564.1 637.9h0M589.7 634.1h0M592.5 639.7h0M573.3 638.1h0M583.9 638.0h0M599.7 638.8h0M594.3 638.1h0M569.8 638.6h0M559.5 639.6h0M569.2 639.0h0M577.9 639.3h0M566.9 639.8h0M565.7 633.9h0M561.8 639.6h0M586.2 639.6h0M565.1 636.4h0M566.2 639.7h0M581.7 638.3h0M566.4 639.8h0M562.3 637.3h0M596.8 638.1h0M595.4 639.9h0M578.1 639.3h0M597.7 628.0h0M562.1 639.9h0M587.9 639.6h0M585.2 638.1h0M566.2 638.1h0M585.2 639.0h0M592.3 633.6h0M582.8 639.6h0M577.5 639.9h0M563.0 638.4h0M598.2 633.3h0M570.8 639.6h0M564.1 639.7h0M581.0 639.2h0M583.5 635.8h0M564.6 636.8h0M559.6 639.8h0M591.0 634.4h0M562.0 639.9h0M557.9 636.2h0M598.9 637.6h0M594.6 629.9h0M598.0 636.3h0M594.9 632.1h0M564.1 639.8h0M598.2 629.4h0M561.8 639.0h0M557.7 636.2h0M596.5 634.8h0M596.5 638.8h0M567.6 637.3h0M596.5 639.7h0M592.7 634.8h0M595.5 629.1h0M562.8 639.9h0M599.0 627.9h0M578.7 639.0h0M569.6 636.9h0M562.7 639.9h0M589.7 632.6h0M560.2 639.9h0M565.3 635.4h0M558.5 634.6h0M575.3 639.9h0M557.0 630.2h0M595.9 639.9h0M591.3 639.8h0M568.6 639.8h0M583.3 638.8h0M558.5 635.3h0M583.7 639.9h0M569.3 639.6h0M576.6 639.9h0M572.1 639.7h0M578.2 639.8h0M570.0 639.9h0M572.1 639.9h0M588.1 639.6h0M589.1 639.5h0M591.7 639.9h0M583.8 636.3h0M600.1 636.6h0M561.4 639.0h0M590.6 639.9h0M591.1 637.9h0M597.6 639.3h0M582.1 639.8h0M557.6 629.4h0M590.9 634.0h0M563.8 639.9h0M568.3 639.6h0M570.8 639.9h0M583.4 639.5h0M596.4 639.9h0M587.0 632.8h0M588.3 639.7h0M584.2 639.6h0M571.6 638.9h0M598.4 633.9h0M578.1 639.7h0M598.3 639.3h0M590.8 634.2h0M556.8 638.0h0M559.4 637.5h0M565.0 638.7h0M574.7 639.7h0M562.7 637.0h0M580.4 639.5h0M589.8 639.4h0M581.7 637.6h0M569.0 637.2h0M561.5 639.9h0M587.0 639.9h0M595.2 638.0h0M591.4 634.9h0M566.4 639.1h0M590.0 639.6h0M587.3 633.7h0M589.6 636.4h0M589.0 634.1h0M597.1 639.9h0M565.0 633.9h0M578.0 639.6h0M598.9 639.8h0M559.2 636.5h0M568.1 639.9h0M589.7 639.9h0M581.1 639.4h0M595.6 639.4h0M574.4 639.7h0M559.2 639.9h0M563.0 639.6h0M578.6 639.9h0M585.1 639.9h0M593.4 637.3h0M558.9 631.2h0M570.7 638.6h0M561.2 635.8h0M594.1 636.7h0M559.9 639.9h0M564.2 639.5h0M596.6 639.7h0M599.6 639.6h0M593.8 635.9h0M596.4 639.9h0M557.5 633.1h0M572.4 639.5h0M569.3 639.9h0M571.4 639.3h0M569.3 639.4h0M593.1 639.8h0M559.9 639.9h0M584.9 637.2h0M588.8 639.9h0M596.1 639.3h0M564.8 637.5h0M560.1 639.9h0M590.8 631.7h0M588.7 637.4h0M570.0 638.3h0M560.9 639.6h0M593.3 639.8h0M566.6 637.6h0M557.5 639.4h0M569.9 637.4h0M596.2 639.5h0M557.0 639.8h0M596.1 639.9h0M573.3 639.8h0M599.7 628.2h0M586.7 638.0h0M562.6 639.8h0M563.6 638.4h0M566.8 637.9h0M587.0 639.6h0M581.6 638.1h0M575.0 639.3h0M559.7 634.8h0M589.6 637.2h0M595.9 637.7h0M577.4 639.8h0M564.5 634.1h0M569.5 639.1h0M573.5 639.9h0M582.8 636.9h0M589.3 639.9h0M559.1 639.6h0M569.3 639.9h0M594.3 635.5h0M587.8 639.5h0M588.0 638.5h0M568.1 636.1h0M576.8 639.9h0M598.8 637.6h0M568.3 637.9h0M562.3 639.9h0M561.2 639.3h0M592.7 630.3h0M582.8 639.9h0M584.0 637.3h0M596.9 639.6h0M592.1 636.3h0M594.8 639.5h0M581.0 639.7h0M559.0 639.9h0M576.7 639.9h0M559.2 632.3h0M594.3 639.5h0M591.3 632.4h0M588.0 639.6h0M569.2 638.0h0M587.2 639.7h0M599.0 631.0h0M562.1 638.9h0M591.0 637.8h0M568.9 639.7h0M569.7 636.7h0M571.9 639.3h0M575.4 639.9h0M562.5 639.7h0M584.8 638.6h0M599.2 636.8h0M571.1 639.4h0M594.1 639.5h0M594.7 639.8h0M591.5 636.7h0M593.9 638.0h0M567.3 639.0h0M591.9 639.6h0M585.5 638.1h0M565.8 639.2h0M565.1 637.8h0M561.7 639.8h0M571.0 639.5h0M593.3 639.8h0M572.9 637.6h0M596.8 639.2h0M598.5 639.9h0M558.1 639.9h0M598.2 639.4h0M581.9 638.9h0M585.5 637.2h0M598.4 627.1h0M598.4 632.9h0M598.7 636.3h0M583.9 639.6h0M564.7 639.5h0M587.5 639.8h0M563.4 635.0h0M591.1 639.9h0M566.5 639.4h0M570.3 639.9h0M596.7 639.5h0M573.4 639.6h0M590.6 639.9h0M564.3 638.0h0M587.5 639.3h0M558.5 639.9h0M597.4 638.6h0M568.5 639.5h0M592.4 638.4h0M589.3 638.2h0M594.6 637.9h0M578.2 639.9h0M561.8 637.0h0M584.7 638.4h0M564.5 638.7h0M582.9 639.9h0M557.1 639.3h0M569.6 639.8h0M598.8 636.4h0M575.9 639.9h0M593.9 638.4h0M590.3 638.1h0M590.0 639.7h0M587.9 634.2h0M569.7 639.9h0M568.2 639.7h0M567.3 636.4h0M579.9 639.0h0M586.9 638.5h0M570.1 639.4h0M592.1 634.2h0M558.2 639.8h0M558.1 639.8h0M589.4 639.8h0M592.2 639.4h0M585.9 636.9h0M568.3 637.3h0M594.7 637.7h0M572.0 638.7h0M584.8 634.6h0M567.5 530.2h0M571.0 600.0h0M569.0 612.0h0M566.0 605.0h0M580.0 585.0h0M584.0 590.0h0M588.0 602.0h0M586.0 611.0h0M563.0 622.0h0M592.0 625.0h0M600.0 630.0h0M606.0 634.0h0M612.0 636.0h0M560.0 636.0h0M556.0 637.0h0" stroke="#a6a6a6" stroke-width="1" stroke-linecap="round"/>
<path d="M591.8 526.4h0M597.8 565.0h0M593.2 572.6h0M594.2 585.3h0M592.1 606.7h0M595.6 607.7h0M597.2 618.3h0M593.2 619.6h0M591.5 621.8h0" stroke="#0a0ad2" stroke-width="2" stroke-linecap="round"/>
<path d="M557.0 581.0h0" stroke="#55a0f2" stroke-width="1.7" stroke-linecap="round"/>
<line x1="575.6" y1="500.7" x2="575.6" y2="639.9" stroke="#333" stroke-width="0.9" />
<line x1="522.8" y1="500.4" x2="522.8" y2="639.9" stroke="#111" stroke-width="1.1" />
<line x1="522.8" y1="639.9" x2="628.3" y2="639.9" stroke="#111" stroke-width="1.1" />
<line x1="520.2" y1="639.9" x2="522.8" y2="639.9" stroke="#111" stroke-width="0.9" />
<text x="519.8" y="641.92" font-size="5.6" font-weight="bold" text-anchor="end" fill="#111">0</text>
<line x1="520.2" y1="612.06" x2="522.8" y2="612.06" stroke="#111" stroke-width="0.9" />
<text x="519.8" y="614.08" font-size="5.6" font-weight="bold" text-anchor="end" fill="#111">2</text>
<line x1="520.2" y1="584.22" x2="522.8" y2="584.22" stroke="#111" stroke-width="0.9" />
<text x="519.8" y="586.24" font-size="5.6" font-weight="bold" text-anchor="end" fill="#111">4</text>
<line x1="520.2" y1="556.38" x2="522.8" y2="556.38" stroke="#111" stroke-width="0.9" />
<text x="519.8" y="558.4" font-size="5.6" font-weight="bold" text-anchor="end" fill="#111">6</text>
<line x1="520.2" y1="528.54" x2="522.8" y2="528.54" stroke="#111" stroke-width="0.9" />
<text x="519.8" y="530.56" font-size="5.6" font-weight="bold" text-anchor="end" fill="#111">8</text>
<line x1="520.2" y1="500.7" x2="522.8" y2="500.7" stroke="#111" stroke-width="0.9" />
<text x="519.8" y="502.72" font-size="5.6" font-weight="bold" text-anchor="end" fill="#111">10</text>
<line x1="536.1" y1="639.9" x2="536.1" y2="642.2" stroke="#111" stroke-width="0.9" />
<text x="536.1" y="648.83" font-size="5.6" font-weight="bold" text-anchor="middle" fill="#111">-1.0</text>
<line x1="555.85" y1="639.9" x2="555.85" y2="642.2" stroke="#111" stroke-width="0.9" />
<text x="555.85" y="648.83" font-size="5.6" font-weight="bold" text-anchor="middle" fill="#111">-0.5</text>
<line x1="575.6" y1="639.9" x2="575.6" y2="642.2" stroke="#111" stroke-width="0.9" />
<text x="575.6" y="648.83" font-size="5.6" font-weight="bold" text-anchor="middle" fill="#111">0.0</text>
<line x1="595.35" y1="639.9" x2="595.35" y2="642.2" stroke="#111" stroke-width="0.9" />
<text x="595.35" y="648.83" font-size="5.6" font-weight="bold" text-anchor="middle" fill="#111">0.5</text>
<line x1="615.1" y1="639.9" x2="615.1" y2="642.2" stroke="#111" stroke-width="0.9" />
<text x="615.1" y="648.83" font-size="5.6" font-weight="bold" text-anchor="middle" fill="#111">1.0</text>
<line x1="560.5" y1="518.2" x2="530.64" y2="518.2" stroke="#55a0f2" stroke-width="1.8" />
<path d="M526.8 518.2 L531.6 515.8 L531.6 520.6 Z" fill="#55a0f2"/>
<line x1="590.7" y1="518.2" x2="621.46" y2="518.2" stroke="#0000b4" stroke-width="1.8" />
<path d="M625.3 518.2 L620.5 515.8 L620.5 520.6 Z" fill="#0000b4"/>
<text x="559.6" y="508.5" font-size="6.5" font-weight="bold" text-anchor="end" fill="#111">Decreased</text>
<text x="559.6" y="516" font-size="6.5" font-weight="bold" text-anchor="end" fill="#111">by ARE</text>
<text x="592" y="508.5" font-size="6.5" font-weight="bold" fill="#111">Increased</text>
<text x="592" y="516" font-size="6.5" font-weight="bold" fill="#111">by ARE</text>
<text x="557.2" y="525.5" font-size="6" font-weight="bold" text-anchor="end" fill="#55a0f2">1</text>
<text x="593.6" y="525.5" font-size="6" font-weight="bold" fill="#0a0ad2">9</text>
<text x="509.76" y="569" font-size="8.4" font-weight="bold" text-anchor="middle" fill="#111" transform="rotate(-90 509.76 569)" textLength="65.7" lengthAdjust="spacingAndGlyphs">-log<tspan font-size="5.88" dy="2.1">10</tspan><tspan dy="-2.1"> adj p-value</tspan></text>
<text x="575.6" y="659" font-size="9" font-weight="bold" text-anchor="middle" fill="#111" textLength="113.4" lengthAdjust="spacingAndGlyphs">log<tspan font-size="6.3" dy="2.25">2</tspan><tspan dy="-2.25">FC (10min Ex vs Pre Sed)</tspan></text>
<text x="37.8" y="580.2" font-size="14.2" font-weight="bold" text-anchor="middle">L</text>
<text x="172" y="573.6" font-size="9.1" font-weight="bold" text-anchor="middle" fill="#111" textLength="72.8" lengthAdjust="spacingAndGlyphs">Global Proteome</text>
<line x1="135.6" y1="575" x2="208.4" y2="575" stroke="#111" stroke-width="0.9" />
<line x1="94.4" y1="584.1" x2="94.4" y2="726.4" stroke="#cfcfcf" stroke-width="0.6" />
<line x1="125.5" y1="584.1" x2="125.5" y2="726.4" stroke="#cfcfcf" stroke-width="0.6" />
<line x1="56.1" y1="718.4" x2="164.3" y2="718.4" stroke="#d5d5d5" stroke-width="0.6" />
<path d="M121.2 724.8h0M118.7 724.5h0M117.9 716.1h0M123.6 724.4h0M113.4 725.9h0M131.0 716.7h0M123.1 717.3h0M97.3 726.1h0M103.6 726.4h0M126.7 726.2h0M108.1 726.2h0M123.2 723.2h0M113.7 725.5h0M96.8 723.9h0M131.6 725.5h0M125.0 725.9h0M127.6 721.2h0M122.2 711.5h0M98.8 725.8h0M120.1 723.6h0M115.7 724.9h0M95.6 709.9h0M111.9 725.8h0M100.0 726.3h0M101.9 723.9h0M124.1 720.4h0M109.2 726.0h0M115.7 726.3h0M122.7 722.9h0M124.7 707.3h0M125.8 726.0h0M122.5 718.7h0M136.8 724.7h0M127.8 722.1h0M102.9 718.9h0M116.0 721.7h0M121.2 721.6h0M105.7 725.8h0M123.0 726.3h0M113.8 721.3h0M119.8 721.7h0M101.6 722.3h0M117.9 721.9h0M125.7 725.9h0M121.3 723.0h0M120.8 726.4h0M106.2 726.2h0M119.3 724.6h0M129.4 718.1h0M113.3 726.0h0M117.7 726.3h0M97.0 726.3h0M128.8 723.0h0M126.3 697.6h0M135.5 722.3h0M97.2 711.0h0M116.4 721.8h0M126.5 726.4h0M107.1 726.1h0M96.4 721.7h0M102.3 726.3h0M102.3 715.7h0M111.9 720.4h0M114.3 719.3h0M126.8 720.7h0M106.5 726.3h0M112.9 726.1h0M95.0 726.3h0M115.3 716.9h0M125.6 705.4h0M112.3 726.3h0M121.0 721.7h0M124.6 721.5h0M125.1 714.8h0M119.3 725.7h0M108.1 726.4h0M126.4 699.1h0M97.3 726.3h0M142.4 718.7h0M116.4 721.3h0M94.9 723.2h0M126.9 707.1h0M127.0 722.7h0M108.2 726.4h0M127.1 725.4h0M127.9 725.9h0M110.9 726.3h0M117.4 726.2h0M116.5 723.9h0M104.9 724.9h0M96.8 724.5h0M117.7 726.0h0M95.5 723.0h0M96.7 716.8h0M125.8 724.5h0M126.7 726.3h0M122.2 713.1h0M116.8 714.5h0M107.1 726.2h0M115.0 725.5h0M94.0 726.3h0M96.5 723.3h0M113.8 724.4h0M99.5 725.2h0M106.1 722.7h0M114.7 726.2h0M121.5 726.4h0M101.3 725.6h0M120.9 711.1h0M98.9 723.6h0M105.1 720.6h0M94.3 712.5h0M95.6 726.4h0M124.9 713.0h0M120.1 726.0h0M117.0 726.1h0M121.9 723.1h0M121.5 715.2h0M99.7 720.0h0M125.4 709.6h0M115.2 724.8h0M95.1 722.9h0M124.9 718.4h0M101.7 725.7h0M126.3 719.3h0M101.3 725.2h0M142.4 722.7h0M113.6 722.3h0M127.6 706.8h0M124.3 710.0h0M112.9 726.4h0M95.5 717.3h0M104.9 726.3h0M114.3 726.1h0M125.7 726.2h0M96.0 714.0h0M101.0 724.1h0M124.2 717.6h0M93.3 724.9h0M114.5 726.4h0M97.0 725.6h0M97.8 721.5h0M124.8 721.2h0M121.8 725.7h0M124.1 724.7h0M95.2 726.3h0M136.1 726.2h0M108.8 725.0h0M121.3 721.8h0M119.9 716.1h0M120.5 713.2h0M117.7 723.5h0M114.9 719.8h0M103.0 719.1h0M122.8 720.3h0M117.8 726.4h0M106.7 722.0h0M118.5 719.8h0M126.8 726.2h0M120.1 715.2h0M95.9 725.1h0M107.9 723.3h0M137.1 722.9h0M114.7 720.3h0M118.3 716.4h0M111.2 726.2h0M115.4 723.9h0M104.6 726.0h0M116.9 726.3h0M94.6 726.2h0M114.2 719.4h0M120.2 721.1h0M100.3 719.5h0M122.3 710.3h0M114.9 718.0h0M102.3 723.6h0M125.6 722.7h0M107.6 725.3h0M113.7 725.9h0M103.3 724.8h0M96.6 721.8h0M119.0 726.3h0M125.7 718.7h0M94.5 722.1h0M112.4 726.0h0M120.3 718.5h0M96.0 726.4h0M94.6 718.3h0M141.1 718.0h0M96.2 720.0h0M104.7 724.0h0M93.5 715.7h0M118.8 717.5h0M117.2 721.4h0M103.2 726.4h0M118.6 713.7h0M98.8 720.1h0M144.0 726.1h0M94.9 720.7h0M117.4 713.2h0M99.4 722.1h0M132.7 721.6h0M100.0 720.7h0M121.0 708.8h0M95.3 721.5h0M123.9 711.8h0M115.2 726.3h0M117.9 720.8h0M100.6 718.9h0M103.3 723.1h0M100.4 724.5h0M127.7 717.3h0M124.1 725.4h0M124.5 726.4h0M117.2 725.5h0M95.9 723.7h0M127.7 725.4h0M95.8 726.0h0M126.5 715.3h0M107.0 724.1h0M115.9 725.8h0M114.4 726.1h0M115.0 725.8h0M96.4 713.0h0M124.8 715.9h0M126.3 714.3h0M108.5 725.7h0M121.7 719.1h0M118.7 726.3h0M108.6 725.8h0M124.2 710.5h0M97.4 720.7h0M126.7 724.9h0M120.9 726.1h0M104.1 721.3h0M119.3 722.4h0M112.4 725.9h0M124.2 724.2h0M101.4 714.8h0M103.1 726.4h0M117.8 718.7h0M126.4 718.3h0M124.1 723.1h0M98.9 726.3h0M119.1 726.4h0M125.2 726.1h0M120.8 717.8h0M104.9 723.5h0M102.2 717.4h0M115.5 723.1h0M125.9 714.1h0M99.1 712.9h0M115.8 722.0h0M104.8 726.3h0M122.7 714.2h0M103.6 718.6h0M105.0 725.3h0M125.5 725.8h0M124.6 711.4h0M116.3 724.2h0M116.8 722.6h0M126.9 721.5h0M138.3 722.7h0M116.2 726.3h0M128.3 726.4h0M107.2 723.1h0M97.6 722.8h0M96.7 712.2h0M105.2 726.4h0M110.1 726.4h0M110.8 723.9h0M124.3 708.4h0M117.5 719.8h0M95.9 724.6h0M124.9 724.4h0M122.0 721.7h0M115.2 720.5h0M124.3 716.3h0M127.5 724.5h0M117.7 725.0h0M101.9 725.4h0M119.8 712.3h0M123.9 726.0h0M124.7 720.8h0M122.5 715.3h0M123.5 725.5h0M122.1 716.5h0M127.9 715.7h0M126.2 699.7h0M114.9 726.4h0M105.5 723.1h0M121.8 724.3h0M97.6 719.5h0M121.1 723.7h0M108.9 723.3h0M104.1 717.2h0M110.6 725.4h0M99.7 725.9h0M115.9 726.4h0M126.1 722.4h0M94.5 711.7h0M95.0 725.0h0M119.5 726.4h0M115.3 721.2h0M116.6 726.2h0M114.8 721.4h0M126.1 714.8h0M113.3 723.9h0M110.8 726.3h0M121.6 726.0h0M119.4 715.1h0M110.2 725.7h0M101.8 718.3h0M107.0 722.9h0M125.8 723.7h0M102.4 725.5h0M113.4 725.3h0M97.9 725.6h0M111.9 726.3h0M120.6 725.6h0M126.5 722.9h0M102.8 717.5h0M105.0 718.8h0M98.7 718.0h0M116.6 725.6h0M122.9 714.8h0M124.0 715.4h0M133.5 726.1h0M103.3 726.4h0M121.8 717.4h0M124.3 720.3h0M112.4 719.4h0M98.2 724.4h0M119.6 726.2h0M103.4 722.7h0M126.3 722.5h0M123.9 725.8h0M99.3 712.1h0M117.7 721.2h0M122.2 721.7h0M125.5 726.4h0M97.4 717.0h0M112.8 725.7h0M103.0 717.4h0M120.0 708.8h0M96.3 726.3h0M114.7 726.4h0M120.5 718.9h0M120.1 726.0h0M101.3 726.4h0M126.0 726.4h0M110.1 726.4h0M117.4 724.7h0M95.9 725.6h0M109.2 726.4h0M120.7 714.7h0M99.1 716.8h0M115.9 720.9h0M96.6 723.3h0M123.5 714.6h0M126.8 713.1h0M122.7 726.3h0M124.7 717.2h0M125.0 718.3h0M99.2 716.5h0M119.1 723.8h0M98.3 723.6h0M118.5 726.4h0M120.5 726.4h0M109.2 725.5h0M127.3 726.1h0M99.1 718.7h0M103.9 726.3h0M109.9 726.3h0M112.7 726.3h0M115.2 724.8h0M103.4 726.1h0M143.9 717.6h0M123.7 702.9h0M121.3 713.7h0M124.2 715.7h0M119.1 726.2h0M106.8 726.4h0M124.5 720.2h0M124.0 722.5h0M124.2 725.3h0M126.1 726.3h0M107.8 723.4h0M121.5 720.2h0M123.1 723.7h0M127.2 726.2h0M101.9 720.9h0M113.5 721.3h0M99.2 723.5h0M125.0 716.9h0M109.0 726.4h0M112.5 726.3h0M119.8 717.2h0M111.4 724.0h0M98.0 725.1h0M123.5 709.0h0M101.9 726.0h0M117.5 722.2h0M125.9 722.8h0M91.0 707.9h0M123.2 722.9h0M99.4 725.8h0M100.2 725.2h0M110.8 724.8h0M97.3 725.3h0M116.1 717.8h0M104.6 724.4h0M127.6 721.1h0M135.6 725.5h0M114.3 714.9h0M114.3 724.3h0M94.8 716.9h0M118.1 719.1h0M127.5 707.2h0M112.3 725.5h0M113.0 726.1h0M94.9 711.8h0M102.7 724.7h0M118.0 725.2h0M117.3 721.3h0M120.4 716.7h0M125.8 716.7h0M116.9 726.3h0M118.5 719.2h0M104.6 725.0h0M101.6 725.3h0M104.8 726.2h0M120.5 726.4h0M124.7 724.6h0M101.6 725.2h0M102.7 721.1h0M106.3 717.9h0M109.0 724.2h0M116.2 716.1h0M143.1 726.3h0M117.3 726.3h0M106.1 723.9h0M122.4 725.9h0M126.6 704.5h0M94.5 724.7h0M118.2 720.2h0M104.2 726.1h0M97.0 719.1h0M125.0 717.9h0M101.0 726.4h0M119.9 719.0h0M102.8 725.9h0M125.8 721.7h0M127.5 722.7h0M139.6 718.6h0M97.1 726.2h0M123.2 726.3h0M98.0 715.3h0M115.5 722.3h0M110.9 720.6h0M99.2 724.2h0M100.8 723.2h0M122.7 720.1h0M133.2 718.3h0M104.8 726.4h0M110.4 725.7h0M115.9 726.3h0M111.0 724.9h0M113.6 725.2h0M97.6 726.0h0M125.8 725.1h0M113.9 723.8h0M95.6 714.3h0M108.8 726.4h0M94.0 725.3h0M95.1 721.1h0M125.6 722.2h0M120.1 726.3h0M102.1 726.3h0M97.0 722.0h0M112.7 726.4h0M101.7 722.0h0M100.4 725.6h0M118.5 723.5h0M106.4 726.1h0M122.6 707.9h0M94.4 716.4h0M117.1 723.2h0M116.6 722.4h0M102.5 720.8h0M113.9 725.9h0M93.8 716.6h0M103.7 726.4h0M102.4 723.1h0M117.2 724.0h0M97.5 719.5h0M104.9 718.1h0M100.2 715.0h0M117.3 722.7h0M121.9 711.4h0M122.7 726.0h0M124.6 706.0h0M120.1 726.4h0M95.3 719.2h0M126.5 702.9h0M102.0 723.6h0M103.7 725.8h0M111.0 725.3h0M120.4 726.3h0M122.8 721.4h0M124.7 726.2h0M113.1 726.3h0M112.4 725.2h0M95.3 722.9h0M115.9 726.1h0M100.3 726.2h0M111.2 726.1h0M117.6 721.7h0M112.7 726.3h0M105.7 726.1h0M123.3 726.3h0M109.2 724.5h0M93.6 722.5h0M106.2 725.9h0M118.6 716.9h0M117.8 720.6h0M104.3 719.4h0M119.5 726.3h0M102.5 724.1h0M125.7 726.4h0M112.3 725.4h0M97.2 725.1h0M117.1 725.4h0M116.9 716.4h0M106.1 722.6h0M123.1 724.3h0M113.3 726.1h0M102.3 725.4h0M111.8 724.3h0M106.2 722.0h0M121.6 726.3h0M137.9 716.8h0M102.9 718.6h0M113.6 724.8h0M101.2 723.3h0M106.4 722.3h0M112.4 725.7h0M97.0 712.7h0M113.9 726.4h0M111.4 726.4h0M96.2 719.3h0M94.3 720.5h0M127.7 700.8h0M101.6 725.1h0M112.5 722.7h0M134.9 724.2h0M123.5 725.8h0M106.7 726.4h0M122.7 725.5h0M116.7 721.6h0M111.4 720.1h0M100.0 723.6h0M100.4 719.4h0M122.9 723.4h0M115.1 715.6h0M123.0 722.0h0M95.7 723.2h0M118.0 725.0h0M102.1 716.3h0M124.0 720.4h0M115.0 725.2h0M139.6 719.0h0M95.6 719.9h0M99.8 726.0h0M116.6 724.2h0M101.4 720.5h0M120.5 710.9h0M100.7 724.7h0M97.1 723.5h0M119.8 725.8h0M119.3 726.1h0M123.5 724.6h0M123.0 710.0h0M110.5 726.0h0M125.2 722.7h0M101.3 726.3h0M102.6 720.9h0M96.8 719.5h0M96.0 726.3h0M121.2 708.0h0M104.5 724.2h0M118.5 716.2h0M95.1 716.3h0M121.4 715.0h0M119.8 724.9h0M99.2 726.2h0M123.8 713.8h0M104.8 723.4h0M101.0 726.4h0M113.2 722.4h0M124.3 725.4h0M112.1 725.9h0M102.3 721.7h0M126.3 708.2h0M122.8 716.3h0M96.1 726.4h0M126.6 723.9h0M99.8 725.2h0M113.6 726.3h0M127.8 700.2h0M104.7 723.2h0M114.2 718.9h0M120.2 726.2h0M121.4 723.6h0M97.5 726.0h0M101.8 724.9h0M117.5 723.4h0M139.4 723.1h0M123.8 726.4h0M105.9 722.0h0M123.6 723.4h0M116.6 725.4h0M121.1 726.3h0M113.7 724.0h0M97.2 726.2h0M95.4 726.4h0M116.1 718.7h0M112.8 722.6h0M105.5 726.4h0M105.9 723.8h0M138.0 719.5h0M104.2 726.1h0M124.4 708.4h0M104.1 725.2h0M120.8 723.3h0M120.7 714.0h0M95.9 718.2h0M111.9 726.4h0M125.6 726.4h0M113.2 725.9h0M136.9 725.1h0M119.2 722.8h0M96.6 717.4h0M126.7 714.8h0M119.5 717.8h0M95.4 712.5h0M119.0 725.4h0M113.2 719.6h0M124.6 718.0h0M117.6 722.5h0M120.8 718.8h0M119.3 711.2h0M127.2 726.4h0M120.3 723.8h0M107.8 721.9h0M113.2 726.3h0M120.9 710.6h0M117.8 725.4h0M115.8 723.3h0M119.6 724.8h0M103.3 721.9h0M130.7 725.7h0M99.0 724.4h0M124.9 726.4h0M134.4 724.0h0M133.2 725.3h0M125.2 705.3h0M100.3 716.3h0M126.7 705.7h0M107.8 726.4h0M121.6 709.5h0M110.5 726.3h0M123.3 714.8h0M125.5 709.4h0M119.3 714.2h0M100.0 722.9h0M113.3 725.5h0M110.8 720.8h0M121.3 726.4h0M110.9 723.6h0M126.7 719.8h0M119.9 715.6h0M121.9 725.4h0M122.4 725.9h0M124.4 713.7h0M111.7 726.4h0M119.6 725.2h0M116.2 725.5h0M104.0 723.5h0M123.9 708.2h0M105.8 724.0h0M122.4 711.9h0M114.5 724.5h0M124.4 726.2h0M93.3 726.4h0M95.0 722.4h0M125.6 722.2h0M121.0 718.9h0M113.3 725.7h0M122.7 707.0h0M108.1 725.9h0M110.1 726.4h0M110.9 725.7h0M109.4 726.4h0M124.0 705.2h0M103.1 722.6h0M125.4 718.1h0M114.5 725.5h0M92.6 719.4h0M97.1 724.7h0M121.9 724.6h0M118.8 726.4h0M110.8 723.1h0M113.9 723.1h0M122.0 713.9h0M109.5 726.4h0M98.4 723.8h0M120.1 714.0h0M103.4 723.1h0M123.9 707.3h0M96.2 726.0h0M94.3 720.8h0M138.8 717.7h0M118.6 715.7h0M106.8 722.7h0M101.1 725.6h0M117.1 725.7h0M102.8 725.7h0M119.3 712.9h0M123.6 723.9h0M130.7 720.4h0M115.3 725.0h0M123.6 722.0h0M122.7 721.4h0M101.4 721.3h0M114.3 726.4h0M117.9 725.9h0M121.7 723.1h0M105.0 726.0h0M128.3 726.1h0M115.7 726.0h0M118.6 721.2h0M116.9 724.2h0M130.0 720.1h0M103.6 726.3h0M117.1 719.4h0M108.0 726.1h0M127.6 725.2h0M125.4 726.2h0M103.8 720.2h0M120.4 720.1h0M125.7 713.5h0M118.7 718.7h0M126.7 715.3h0M113.0 726.1h0M115.6 723.7h0M103.5 724.5h0M116.2 726.4h0M97.1 717.1h0M125.2 715.2h0M95.3 719.8h0M114.6 725.5h0M97.6 724.4h0M93.6 715.7h0M118.9 719.3h0M100.5 719.7h0M106.0 721.1h0M97.3 721.3h0M121.0 712.0h0M126.9 722.2h0M106.2 726.2h0M140.3 726.3h0M93.1 726.1h0M104.1 726.3h0M113.5 726.4h0M97.0 723.1h0M122.9 723.3h0M99.7 718.8h0M96.9 725.9h0M94.5 724.3h0M123.0 709.7h0M108.6 725.0h0M113.1 726.3h0M114.3 726.2h0M115.5 726.1h0M106.3 726.4h0M101.1 725.9h0M97.1 713.0h0M113.1 725.5h0M118.4 713.4h0M124.1 724.2h0M96.1 721.8h0M111.0 724.4h0M120.7 725.7h0M118.8 725.3h0M102.2 721.0h0M101.0 725.5h0M95.7 726.4h0M124.7 717.4h0M101.4 725.3h0M115.6 718.3h0M121.5 725.9h0M106.7 725.4h0M102.0 718.8h0M113.6 718.3h0M121.0 725.4h0M121.5 711.7h0M101.6 723.9h0M118.7 721.4h0M124.8 726.3h0M120.8 709.2h0M102.6 719.5h0M100.5 720.3h0M116.2 726.2h0M97.0 721.4h0M114.9 722.4h0M121.9 722.8h0M121.4 719.8h0M102.4 723.2h0M102.2 725.5h0M123.0 722.1h0M119.6 723.1h0M95.7 726.2h0M119.1 726.2h0M97.1 724.2h0M95.9 724.1h0M116.8 726.1h0M97.8 725.8h0M117.7 719.3h0M101.2 724.7h0M127.5 710.7h0M120.6 707.2h0M126.0 725.3h0M97.3 725.9h0M110.1 725.1h0M92.7 725.8h0M100.8 723.1h0M126.2 712.5h0M115.5 723.0h0M120.8 715.6h0M129.3 720.1h0M125.5 699.7h0M118.8 721.3h0M125.6 713.0h0M115.6 726.4h0M116.4 718.4h0M113.0 725.2h0M123.8 724.0h0M114.3 723.2h0M142.9 724.9h0M113.5 725.0h0M102.2 719.8h0M118.3 718.4h0M126.8 725.1h0M100.3 726.4h0M115.3 718.5h0M96.7 716.4h0M112.1 725.6h0M107.6 725.2h0M121.0 719.8h0M116.5 724.5h0M119.3 724.0h0M120.2 719.2h0M128.0 726.0h0M99.4 718.6h0M103.8 725.9h0M126.7 726.3h0M110.0 725.4h0M94.0 719.4h0M109.8 726.4h0M116.8 718.8h0M97.5 713.7h0M121.7 725.3h0M107.7 725.2h0M109.6 725.2h0M105.9 720.2h0M112.4 725.9h0M105.5 726.0h0M118.4 715.6h0M100.9 726.2h0M126.6 724.4h0M125.3 713.7h0M125.1 723.2h0M112.8 725.4h0M127.8 708.7h0M106.1 723.0h0M101.2 726.4h0M115.2 726.1h0M103.5 718.4h0M109.3 724.6h0M98.1 726.4h0M114.6 716.1h0M105.4 725.2h0M118.5 712.5h0M118.8 722.1h0M94.2 726.4h0M96.5 725.5h0M104.0 722.6h0M111.3 724.3h0M116.6 722.3h0M119.0 720.4h0M99.8 726.3h0M117.0 717.9h0M128.3 721.0h0M94.2 720.8h0M125.7 725.3h0M116.1 724.7h0M115.5 717.5h0M110.5 726.3h0M127.4 724.3h0M121.8 706.8h0M119.9 719.1h0M114.6 726.2h0M99.3 716.9h0M102.9 721.2h0M100.7 726.3h0M100.4 714.2h0M99.9 712.5h0M122.4 723.4h0M99.0 717.3h0M115.9 722.1h0M100.1 715.5h0M115.7 725.9h0M118.4 721.9h0M96.5 726.2h0M139.9 720.7h0M96.8 717.9h0M120.2 710.5h0M123.4 714.5h0M115.7 719.5h0M119.2 715.4h0M113.5 725.3h0M116.7 718.2h0M128.3 721.5h0M118.1 726.4h0M123.2 725.7h0M127.2 723.0h0M125.4 718.1h0M113.3 725.9h0M125.5 713.0h0M95.3 714.8h0M94.0 725.2h0M120.4 714.5h0M127.9 702.7h0M97.4 715.0h0M123.5 717.7h0M96.2 725.6h0M97.0 720.0h0M105.9 725.7h0M104.6 720.1h0M118.1 718.6h0M120.1 722.5h0M107.7 725.5h0M107.4 724.3h0M123.8 713.1h0M94.8 716.8h0M118.0 720.4h0M121.9 708.2h0M120.3 725.1h0M100.9 718.0h0M115.6 725.9h0M96.9 723.9h0M116.9 721.5h0M120.1 721.4h0M110.8 722.8h0M97.4 721.3h0M93.9 725.6h0M105.6 723.8h0M129.2 699.2h0M111.1 726.4h0M124.9 701.7h0M92.9 707.1h0M105.0 726.2h0M103.2 718.7h0M133.5 721.6h0M96.8 725.8h0M121.7 705.6h0M114.2 721.4h0M100.0 713.2h0M95.6 722.7h0M128.7 698.6h0M111.3 722.6h0M101.8 722.8h0M127.4 726.3h0M123.1 725.2h0M97.8 725.6h0M98.1 714.8h0M109.3 724.4h0M120.0 721.1h0M118.4 725.6h0M105.9 725.4h0M107.8 724.7h0M94.0 723.2h0M119.8 726.3h0M127.2 725.6h0M97.5 715.2h0M119.2 724.5h0M119.1 712.3h0M103.5 723.6h0M132.6 719.5h0M127.0 716.9h0M123.4 725.0h0M125.7 716.7h0M126.6 721.5h0M121.5 724.5h0M92.9 716.3h0M117.4 723.2h0M124.0 723.8h0M115.0 724.5h0M109.4 722.9h0M94.5 721.5h0M110.9 724.5h0M120.1 711.8h0M116.5 725.0h0M111.4 720.6h0M128.8 723.7h0M123.4 705.4h0M104.5 724.0h0M114.0 722.2h0M121.8 725.7h0M100.0 723.2h0M111.7 724.3h0M108.0 726.4h0M95.4 726.1h0M113.0 724.6h0M110.2 725.6h0M113.4 718.9h0M139.3 726.1h0M120.7 714.5h0M99.3 725.0h0M107.1 726.3h0M94.1 716.1h0M124.0 723.5h0M120.2 726.1h0M122.4 716.2h0M104.9 726.3h0M110.1 725.5h0M96.5 712.2h0M101.8 725.5h0M116.2 719.5h0M97.3 718.5h0M109.0 725.9h0M100.0 718.5h0M124.6 713.5h0M141.1 722.8h0M109.0 724.9h0M117.2 724.8h0M124.6 708.3h0M102.7 716.6h0M97.7 711.6h0M114.8 722.2h0M102.3 719.0h0M112.6 726.2h0M119.6 726.4h0M120.9 720.4h0M112.0 721.9h0M97.6 721.0h0M131.5 719.4h0M101.3 718.0h0M93.1 725.0h0M101.2 715.0h0M111.6 724.7h0M125.0 711.1h0M113.5 724.9h0M121.4 720.4h0M97.6 715.5h0M117.1 721.2h0M122.1 722.5h0M123.3 707.4h0M117.5 725.5h0M121.0 721.6h0M114.8 726.3h0M136.8 722.4h0M94.5 723.2h0M93.6 724.5h0M102.7 722.9h0M97.9 724.6h0M127.3 722.5h0M115.9 717.6h0M92.8 719.9h0M120.2 726.4h0M94.6 726.3h0M120.1 710.8h0M125.8 725.4h0M115.7 726.0h0M99.2 726.1h0M98.0 714.6h0M135.0 722.9h0M107.7 721.7h0M126.0 706.4h0M107.0 724.7h0M118.1 726.1h0M117.5 724.6h0M99.7 725.5h0M122.6 705.9h0M117.3 722.0h0M120.3 726.3h0M115.5 722.7h0M117.8 722.0h0M127.0 719.9h0M118.7 725.3h0M123.0 719.6h0M112.5 726.4h0M124.8 719.8h0M92.4 724.6h0M112.6 722.4h0M115.4 717.0h0M138.2 726.3h0M124.6 715.6h0M115.8 723.3h0M121.9 713.4h0M105.6 722.8h0M124.0 725.4h0M97.0 716.6h0M94.7 712.5h0M102.8 721.3h0M125.6 717.4h0M120.1 714.1h0M97.8 722.3h0M114.5 725.8h0M100.1 715.7h0M112.5 726.4h0M123.5 702.2h0M126.7 725.5h0M101.9 725.9h0M123.9 725.8h0M117.7 720.3h0M109.7 725.1h0M123.0 720.7h0M103.2 726.3h0M115.9 721.6h0M124.8 725.6h0M139.6 725.9h0M120.8 726.4h0M127.3 725.3h0M95.4 725.5h0M116.8 716.5h0M122.0 719.7h0M114.3 720.1h0M129.0 708.2h0M104.2 721.3h0M108.9 725.6h0M114.0 726.0h0M139.7 724.5h0M100.7 720.0h0M126.4 707.8h0M121.6 725.2h0M143.7 724.2h0M124.9 708.1h0M126.2 721.6h0M116.4 726.3h0M112.5 724.4h0M94.8 723.4h0M122.8 723.6h0M121.7 725.0h0M132.7 717.9h0M131.0 726.3h0M116.0 719.9h0M115.4 722.8h0M124.4 718.3h0M115.6 725.3h0M107.6 724.5h0M124.5 726.3h0M108.7 725.6h0M121.6 721.6h0M103.5 723.7h0M119.6 714.3h0M127.8 726.1h0M107.7 725.9h0M126.4 704.2h0M113.2 723.8h0M126.0 717.7h0M125.1 721.4h0M126.6 726.3h0M97.0 726.1h0M125.8 726.4h0M113.3 726.4h0M116.4 714.0h0M103.1 722.5h0M97.8 725.8h0M103.8 722.3h0M93.8 718.7h0M109.7 725.4h0M125.8 707.6h0M126.8 726.0h0M115.0 726.4h0M120.2 718.4h0M98.0 723.3h0M111.6 726.2h0M125.6 717.8h0M111.7 723.9h0M114.8 715.3h0M96.3 722.1h0M104.1 720.3h0M102.2 721.1h0M116.5 722.4h0M120.9 708.0h0M119.5 723.7h0M110.3 722.6h0M115.6 725.0h0M121.9 725.7h0M112.3 724.1h0M105.1 724.4h0M124.8 725.2h0M125.4 720.3h0M95.1 724.9h0M123.5 707.1h0M120.3 715.0h0M126.0 725.6h0M123.9 714.7h0M125.4 725.9h0M120.4 722.1h0M115.5 724.4h0M100.1 725.7h0M118.1 725.2h0M103.0 726.0h0M128.0 723.0h0M130.8 724.5h0M124.5 722.5h0M118.8 721.9h0M118.5 716.8h0M112.0 722.2h0M106.2 726.1h0M129.3 725.5h0M115.6 724.9h0M111.8 724.3h0M111.2 725.9h0M122.3 708.1h0M96.5 723.1h0M117.3 715.1h0M119.9 706.9h0M107.2 723.3h0M99.7 723.6h0M124.1 715.6h0M99.7 718.4h0M99.2 724.6h0M115.3 726.4h0M103.0 721.8h0M95.5 724.0h0M109.8 724.0h0M116.4 724.6h0M118.2 717.1h0M96.9 725.7h0M117.0 724.1h0M126.1 726.0h0M117.7 717.9h0M121.7 713.6h0M127.1 726.4h0M137.3 721.2h0M118.1 713.8h0M99.1 724.3h0M109.6 726.0h0M94.3 712.6h0M119.7 721.0h0M117.2 718.7h0M124.2 711.7h0M121.4 725.7h0M115.3 725.9h0M133.3 724.2h0M102.2 726.3h0M117.4 713.1h0M124.7 719.9h0M121.4 718.4h0M103.8 726.3h0M125.1 726.4h0M124.1 726.2h0M101.7 726.2h0M123.7 722.2h0M128.1 723.2h0M118.9 726.2h0M125.7 721.3h0M137.6 721.5h0M94.5 718.9h0M124.7 719.0h0M117.0 713.4h0M113.8 726.3h0M122.5 725.0h0M120.2 715.8h0M120.7 722.6h0M98.2 719.0h0M123.6 720.8h0M117.4 720.8h0M128.9 715.1h0M117.6 725.8h0M99.6 725.8h0M93.6 713.1h0M115.9 725.9h0M121.3 718.8h0M121.4 726.1h0M113.6 724.4h0M103.2 726.4h0M107.4 726.1h0M97.8 726.3h0M123.7 721.1h0M121.5 724.7h0M97.5 726.3h0M124.0 726.4h0M123.9 719.5h0M92.8 720.1h0M111.2 724.6h0M103.5 719.4h0M112.1 723.7h0M116.1 723.3h0M108.9 725.9h0M109.3 724.5h0M108.3 723.0h0M112.9 725.8h0M97.8 723.8h0M94.7 726.2h0M117.7 726.4h0M104.1 717.0h0M118.8 719.1h0M93.8 723.5h0M116.1 716.9h0M101.3 720.6h0M98.9 722.5h0M112.1 726.2h0M115.0 725.9h0M120.2 720.1h0M105.3 726.4h0M110.1 726.1h0M120.1 715.3h0M99.9 725.9h0M118.5 725.9h0M93.3 714.2h0M94.7 723.0h0M108.3 722.9h0M113.2 726.4h0M126.1 706.9h0M113.3 721.9h0M109.1 726.0h0M113.6 721.5h0M118.7 724.8h0M95.5 712.6h0M133.9 720.6h0M120.5 718.8h0M127.0 726.3h0M124.5 726.4h0M116.5 721.1h0M104.6 722.4h0M115.9 716.9h0M98.2 717.6h0M123.5 710.0h0M125.0 726.2h0M124.5 723.3h0M102.9 723.5h0M106.7 725.6h0M120.2 720.2h0M96.6 716.5h0M118.7 726.4h0M99.8 721.4h0M116.7 716.2h0M126.0 720.0h0M100.2 719.9h0M112.1 726.3h0M115.1 726.1h0M114.8 722.7h0M121.5 708.0h0M116.3 725.9h0M113.8 726.2h0M96.3 726.4h0M128.5 724.5h0M103.7 721.1h0M128.3 722.5h0M114.5 723.1h0M127.4 718.4h0M112.3 721.3h0M122.0 719.7h0M114.5 720.0h0M117.2 713.1h0M115.3 722.0h0M122.5 725.4h0M123.5 718.8h0M116.9 723.4h0M127.4 721.3h0M97.1 724.9h0M127.0 718.6h0M113.1 721.1h0M119.1 726.4h0M109.9 725.7h0M122.3 720.3h0M125.4 716.5h0M126.2 715.1h0M97.8 726.1h0M120.5 725.0h0M120.8 726.4h0M97.1 722.7h0M114.9 725.6h0M123.4 716.3h0M127.0 715.4h0M120.9 725.9h0M126.9 700.8h0M122.1 709.6h0M97.6 721.0h0M120.0 719.1h0M123.7 723.8h0M117.7 726.4h0M123.9 726.4h0M113.4 720.3h0M109.8 725.3h0M119.7 649.5h0M121.0 655.0h0M118.0 662.0h0M120.5 668.0h0M117.0 672.0h0M122.0 676.0h0M116.0 680.0h0M119.0 684.0h0M123.0 688.0h0M114.0 690.0h0M106.0 685.0h0M101.0 688.0h0M98.0 697.0h0M113.0 665.0h0M109.0 676.0h0M123.5 661.0h0M124.0 670.0h0" stroke="#a6a6a6" stroke-width="1" stroke-linecap="round"/>
<path d="M126.4 665.6h0M135.8 664.7h0M132.6 675.7h0M126.9 678.5h0M126.9 687.0h0M130.1 687.4h0M133.0 688.4h0M129.8 692.8h0M127.7 696.9h0M133.0 699.4h0M136.8 701.7h0M138.3 702.3h0M145.3 712.1h0M152.0 714.0h0M153.9 713.6h0M162.0 716.9h0M143.5 714.5h0M148.0 716.0h0M147.0 712.5h0M130.0 713.9h0M127.5 710.2h0M126.2 711.3h0M128.0 717.2h0M129.3 714.6h0M126.6 718.3h0M128.6 707.7h0M136.9 706.7h0M126.3 716.8h0M129.2 708.4h0M138.6 709.2h0M127.3 716.6h0M128.5 717.8h0M130.7 718.2h0M129.0 712.9h0M134.1 710.7h0M130.9 718.1h0M132.1 706.6h0M133.5 709.3h0M146.5 708.2h0M129.3 716.9h0M126.7 712.2h0M126.6 711.2h0M134.3 714.7h0M129.4 711.6h0M135.6 711.0h0M126.5 712.3h0M144.9 715.6h0M126.7 717.5h0M126.8 715.6h0M132.9 714.6h0M126.3 708.9h0M129.7 712.3h0M128.3 713.7h0M129.0 714.3h0M126.3 717.6h0M126.3 702.6h0M127.8 716.8h0M129.1 716.5h0M126.8 717.6h0M128.7 709.5h0M129.5 715.4h0M129.1 712.0h0M129.1 718.9h0M127.0 710.0h0M144.4 718.5h0M130.9 709.4h0M134.7 717.4h0M128.2 706.6h0M130.8 718.1h0M128.7 702.5h0M126.7 716.8h0M132.5 714.8h0M128.9 718.3h0M126.3 712.7h0M134.1 709.3h0M128.2 717.3h0M126.1 718.7h0M128.4 704.7h0M128.1 715.9h0M135.2 713.4h0M126.8 707.0h0M132.1 709.1h0M128.8 711.9h0M128.4 718.1h0M129.7 714.8h0M126.3 718.9h0M128.5 709.4h0M127.2 717.7h0M127.8 717.3h0M136.2 702.5h0M126.5 716.2h0M127.3 716.5h0M126.3 718.2h0M126.7 716.4h0M130.5 716.5h0M132.0 718.4h0M129.2 718.8h0M127.4 700.3h0M127.0 718.1h0M133.0 704.6h0M130.1 717.3h0M126.3 715.0h0M131.1 701.3h0M127.6 712.1h0M127.8 718.2h0M126.0 718.9h0M131.6 717.0h0M128.4 713.2h0M127.2 706.1h0M133.2 714.5h0M133.2 717.8h0M136.0 697.2h0M126.5 717.3h0M133.2 717.6h0" stroke="#b00000" stroke-width="2" stroke-linecap="round"/>
<path d="M94.1 705.5h0M86.9 713.6h0M90.9 715.0h0M94.5 718.2h0" stroke="#ff4040" stroke-width="2" stroke-linecap="round"/>
<line x1="110.2" y1="584.1" x2="110.2" y2="726.4" stroke="#333" stroke-width="0.9" />
<line x1="56.1" y1="583.8" x2="56.1" y2="726.4" stroke="#111" stroke-width="1.1" />
<line x1="56.1" y1="726.4" x2="164.3" y2="726.4" stroke="#111" stroke-width="1.1" />
<line x1="53.5" y1="726.4" x2="56.1" y2="726.4" stroke="#111" stroke-width="0.9" />
<text x="53.1" y="728.42" font-size="5.6" font-weight="bold" text-anchor="end" fill="#111">0</text>
<line x1="53.5" y1="697.95" x2="56.1" y2="697.95" stroke="#111" stroke-width="0.9" />
<text x="53.1" y="699.97" font-size="5.6" font-weight="bold" text-anchor="end" fill="#111">5</text>
<line x1="53.5" y1="669.5" x2="56.1" y2="669.5" stroke="#111" stroke-width="0.9" />
<text x="53.1" y="671.52" font-size="5.6" font-weight="bold" text-anchor="end" fill="#111">10</text>
<line x1="53.5" y1="641.05" x2="56.1" y2="641.05" stroke="#111" stroke-width="0.9" />
<text x="53.1" y="643.07" font-size="5.6" font-weight="bold" text-anchor="end" fill="#111">15</text>
<line x1="53.5" y1="612.6" x2="56.1" y2="612.6" stroke="#111" stroke-width="0.9" />
<text x="53.1" y="614.62" font-size="5.6" font-weight="bold" text-anchor="end" fill="#111">20</text>
<line x1="53.5" y1="584.15" x2="56.1" y2="584.15" stroke="#111" stroke-width="0.9" />
<text x="53.1" y="586.17" font-size="5.6" font-weight="bold" text-anchor="end" fill="#111">25</text>
<line x1="69.1" y1="726.4" x2="69.1" y2="728.7" stroke="#111" stroke-width="0.9" />
<text x="69.1" y="735.33" font-size="5.6" font-weight="bold" text-anchor="middle" fill="#111">-1.0</text>
<line x1="89.65" y1="726.4" x2="89.65" y2="728.7" stroke="#111" stroke-width="0.9" />
<text x="89.65" y="735.33" font-size="5.6" font-weight="bold" text-anchor="middle" fill="#111">-0.5</text>
<line x1="110.2" y1="726.4" x2="110.2" y2="728.7" stroke="#111" stroke-width="0.9" />
<text x="110.2" y="735.33" font-size="5.6" font-weight="bold" text-anchor="middle" fill="#111">0.0</text>
<line x1="130.75" y1="726.4" x2="130.75" y2="728.7" stroke="#111" stroke-width="0.9" />
<text x="130.75" y="735.33" font-size="5.6" font-weight="bold" text-anchor="middle" fill="#111">0.5</text>
<line x1="151.3" y1="726.4" x2="151.3" y2="728.7" stroke="#111" stroke-width="0.9" />
<text x="151.3" y="735.33" font-size="5.6" font-weight="bold" text-anchor="middle" fill="#111">1.0</text>
<line x1="94.4" y1="603.8" x2="62.84" y2="603.8" stroke="#ff4040" stroke-width="1.8" />
<path d="M59 603.8 L63.8 601.4 L63.8 606.2 Z" fill="#ff4040"/>
<line x1="126.2" y1="603.8" x2="157.36" y2="603.8" stroke="#a00000" stroke-width="1.8" />
<path d="M161.2 603.8 L156.4 601.4 L156.4 606.2 Z" fill="#a00000"/>
<text x="92.9" y="593.8" font-size="6.7" font-weight="bold" text-anchor="end" fill="#111">Decreased</text>
<text x="92.9" y="601.3" font-size="6.7" font-weight="bold" text-anchor="end" fill="#111">by AAE</text>
<text x="127.3" y="593.8" font-size="6.7" font-weight="bold" fill="#111">Increased</text>
<text x="127.3" y="601.3" font-size="6.7" font-weight="bold" fill="#111">by AAE</text>
<text x="91" y="612" font-size="6.7" font-weight="bold" text-anchor="end" fill="#ff4040">4</text>
<text x="128.8" y="612" font-size="6.7" font-weight="bold" fill="#b00000">120</text>
<text x="42.32" y="654" font-size="8.6" font-weight="bold" text-anchor="middle" fill="#111" transform="rotate(-90 42.32 654)" textLength="67.5" lengthAdjust="spacingAndGlyphs">-log<tspan font-size="6.02" dy="2.15">10</tspan><tspan dy="-2.15"> adj p-value</tspan></text>
<text x="109.8" y="746.4" font-size="9.2" font-weight="bold" text-anchor="middle" fill="#111" textLength="115" lengthAdjust="spacingAndGlyphs">log<tspan font-size="6.44" dy="2.3">2</tspan><tspan dy="-2.3">FC (10min Ex vs Pre Sed)</tspan></text>
<line x1="231.3" y1="584.3" x2="231.3" y2="726.2" stroke="#cfcfcf" stroke-width="0.6" />
<line x1="262.4" y1="584.3" x2="262.4" y2="726.2" stroke="#cfcfcf" stroke-width="0.6" />
<line x1="193.5" y1="718.3" x2="300.4" y2="718.3" stroke="#d5d5d5" stroke-width="0.6" />
<path d="M239.5 723.3h0M243.6 705.9h0M243.3 726.2h0M272.0 725.7h0M243.5 723.4h0M253.1 724.1h0M245.4 726.2h0M242.8 720.9h0M244.9 725.2h0M239.6 725.8h0M243.9 718.3h0M245.7 716.5h0M259.4 726.2h0M246.1 725.4h0M272.2 723.7h0M242.8 705.9h0M244.1 717.3h0M243.5 725.4h0M257.7 726.1h0M242.2 726.2h0M250.3 724.5h0M242.1 726.2h0M242.1 726.0h0M272.3 723.3h0M270.3 724.5h0M254.7 726.2h0M269.4 725.4h0M245.3 717.3h0M240.7 726.2h0M241.0 724.0h0M246.5 718.7h0M245.0 721.4h0M246.5 713.1h0M260.3 726.1h0M239.4 723.5h0M239.7 725.5h0M245.7 708.6h0M258.0 724.7h0M243.6 723.5h0M241.6 715.3h0M245.9 717.3h0M245.9 718.0h0M246.7 724.4h0M242.9 721.5h0M267.1 723.5h0M264.8 722.8h0M262.5 722.7h0M245.7 719.8h0M245.3 720.0h0M241.2 725.7h0M245.2 723.3h0M241.0 726.2h0M244.4 708.6h0M259.1 726.1h0M245.3 726.2h0M258.4 720.2h0M247.0 720.9h0M239.2 725.8h0M241.8 726.0h0M244.6 725.6h0M243.3 707.0h0M245.2 725.9h0M244.6 725.5h0M243.2 726.2h0M270.7 724.0h0M245.8 726.2h0M240.4 714.8h0M253.7 724.3h0M261.7 723.7h0M239.1 722.0h0M244.6 714.9h0M234.1 725.6h0M242.2 721.3h0M249.6 725.2h0M252.6 726.0h0M240.9 726.0h0M260.3 722.2h0M244.8 700.5h0M246.2 726.2h0M242.0 725.7h0M245.1 712.8h0M256.6 725.8h0M246.1 707.1h0M246.7 722.5h0M248.5 723.5h0M244.5 725.0h0M244.3 726.0h0M244.9 722.3h0M263.0 724.6h0M245.8 718.2h0M253.3 722.8h0M253.3 726.2h0M257.5 726.2h0M260.8 723.9h0M258.4 726.2h0M261.7 721.7h0M241.9 724.2h0M247.7 725.6h0M253.4 724.5h0M241.1 726.2h0M246.3 726.2h0M239.6 726.2h0M264.3 723.2h0M246.5 716.6h0M241.0 719.8h0M248.3 723.8h0M245.1 725.3h0M243.0 725.9h0M243.5 723.9h0M259.2 724.9h0M241.5 707.0h0M245.0 715.8h0M246.3 726.0h0M238.5 725.9h0M248.8 722.2h0M243.5 723.7h0M270.3 725.9h0M246.2 726.2h0M250.8 724.5h0M251.8 726.2h0M245.2 708.0h0M244.9 702.5h0M235.5 723.9h0M243.8 711.2h0M243.1 707.6h0M264.3 724.7h0M239.4 726.2h0M244.9 699.6h0M240.2 726.2h0M245.0 726.2h0M265.6 723.9h0M242.1 716.8h0M243.7 726.2h0M233.8 725.7h0M247.0 726.0h0M239.1 706.5h0M242.0 726.0h0M240.3 726.1h0M239.9 726.1h0M243.1 725.6h0M245.3 718.4h0M239.8 725.7h0M243.0 726.2h0M240.8 706.4h0M239.9 726.0h0M263.5 724.0h0M245.7 726.1h0M263.1 724.4h0M247.2 722.1h0M262.5 725.9h0M244.4 725.2h0M254.3 724.1h0M267.6 724.7h0M242.9 726.1h0M246.0 697.1h0M241.5 720.4h0M244.3 726.2h0M247.2 725.9h0M245.2 716.7h0M257.0 720.5h0M242.0 696.3h0M241.7 720.5h0M261.3 721.8h0M242.7 726.2h0M241.3 725.6h0M248.2 723.8h0M269.8 724.3h0M243.6 718.6h0M241.1 725.4h0M264.0 723.6h0M243.0 723.0h0M245.4 718.7h0M239.3 726.2h0M245.0 726.2h0M244.9 701.5h0M243.1 726.2h0M240.0 705.9h0M241.2 710.0h0M244.6 705.6h0M241.0 725.9h0M271.8 725.2h0M239.1 721.5h0M253.5 723.8h0M245.3 714.1h0M245.3 717.7h0M239.8 701.2h0M266.7 721.8h0M244.3 724.1h0M248.1 721.5h0M240.9 726.0h0M245.6 726.1h0M249.9 725.8h0M246.3 724.8h0M261.6 723.0h0M245.9 725.2h0M240.2 726.1h0M246.1 721.8h0M242.8 725.9h0M258.9 722.3h0M242.0 725.4h0M243.1 726.2h0M257.6 720.8h0M240.8 720.7h0M244.1 699.5h0M262.0 725.1h0M265.8 725.4h0M244.4 723.9h0M241.7 725.7h0M242.4 726.0h0M245.7 725.5h0M258.8 721.2h0M264.9 722.6h0M251.7 726.1h0M244.9 702.6h0M266.7 725.9h0M244.7 726.2h0M240.9 723.6h0M244.3 726.2h0M240.3 716.1h0M239.8 710.8h0M239.5 725.3h0M244.7 726.0h0M245.8 726.2h0M264.6 724.8h0M246.4 726.2h0M246.5 719.6h0M240.0 709.8h0M242.9 711.5h0M246.0 708.2h0M249.6 723.9h0M239.4 720.6h0M247.4 725.2h0M262.3 723.9h0M239.9 722.4h0M243.7 725.0h0M250.2 723.5h0M244.1 726.1h0M239.8 721.9h0M262.0 726.1h0M245.0 726.0h0M253.6 725.3h0M244.6 716.3h0M249.6 726.1h0M258.8 726.2h0M245.6 702.2h0M268.9 725.8h0M245.9 718.0h0M245.6 726.2h0M247.4 726.2h0M239.3 726.1h0M261.0 726.2h0M244.6 723.4h0M246.5 725.8h0M246.8 723.5h0M250.4 722.5h0M247.7 725.5h0M264.7 723.2h0M257.2 723.5h0M262.4 722.5h0M271.8 721.7h0M245.9 726.2h0M265.9 721.8h0M239.9 726.2h0M243.7 712.4h0M264.4 726.2h0M259.7 723.3h0M248.2 724.6h0M241.0 705.7h0M257.7 725.1h0M272.1 726.2h0M242.1 725.6h0M239.8 726.2h0M261.3 724.0h0M272.5 726.2h0M270.0 726.1h0M245.8 702.8h0M240.1 721.6h0M242.2 725.3h0M242.9 717.2h0M245.6 699.1h0M241.0 700.7h0M264.9 724.6h0M266.3 723.5h0M250.5 722.1h0M246.1 725.6h0M267.9 724.1h0M239.2 726.0h0M256.5 722.5h0M241.5 725.9h0M242.4 720.5h0M266.2 726.1h0M269.6 724.9h0M239.4 725.8h0M243.2 723.7h0M245.5 717.4h0M251.2 725.5h0M254.0 724.3h0M246.0 723.2h0M245.7 706.3h0M242.7 700.1h0M264.4 724.4h0M248.2 721.3h0M241.9 698.4h0M263.6 724.4h0M240.1 713.0h0M244.5 725.6h0M265.6 724.9h0M258.7 724.6h0M245.7 709.8h0M249.3 722.3h0M241.8 719.0h0M252.0 726.2h0M253.3 724.9h0M239.6 724.6h0M247.9 725.0h0M239.5 725.7h0M266.5 723.6h0M261.4 722.5h0M240.7 722.7h0M248.8 726.0h0M240.4 698.2h0M245.6 709.8h0M260.9 725.8h0M245.5 708.6h0M256.1 724.3h0M249.4 721.1h0M239.1 724.1h0M246.1 726.1h0M240.0 726.1h0M261.7 725.8h0M251.4 721.7h0M242.8 707.1h0M244.6 726.0h0M260.7 725.5h0M246.5 725.9h0M246.3 726.0h0M241.6 708.4h0M240.9 722.7h0M236.3 725.4h0M247.1 724.1h0M239.7 721.5h0M270.5 722.5h0M271.0 720.4h0M241.0 726.2h0M245.4 726.2h0M241.4 714.1h0M240.4 725.1h0M249.7 724.3h0M246.5 726.1h0M240.3 725.8h0M241.6 716.4h0M247.7 721.8h0M262.9 725.6h0M242.3 725.7h0M246.5 703.0h0M244.3 709.8h0M241.9 718.4h0M248.1 723.9h0M239.2 704.2h0M260.8 723.5h0M246.4 704.1h0M246.6 726.0h0M263.0 726.2h0M260.8 724.4h0M240.0 697.8h0M246.1 707.5h0M244.6 725.1h0M264.6 725.5h0M246.9 725.3h0M244.9 719.1h0M259.4 721.5h0M246.5 717.7h0M272.3 726.0h0M263.8 725.9h0M246.0 725.4h0M245.6 724.9h0M263.8 725.3h0M265.1 725.5h0M241.7 717.3h0M266.5 726.0h0M258.0 723.7h0M247.9 726.1h0M252.2 725.5h0M244.1 724.8h0M240.7 704.4h0M246.6 710.6h0M241.6 725.2h0M266.9 725.0h0M252.9 725.1h0M269.6 724.8h0M244.8 711.7h0M241.7 708.9h0M255.4 726.0h0M244.0 726.0h0M259.7 725.1h0M239.2 724.3h0M243.7 724.2h0M272.5 725.9h0M247.9 723.2h0M259.7 721.4h0M245.2 714.0h0M241.9 715.8h0M238.5 724.7h0M245.0 725.4h0M240.4 699.2h0M272.4 721.7h0M244.2 722.2h0M258.3 721.1h0M245.1 698.6h0M247.6 720.9h0M247.7 723.4h0M246.7 726.1h0M250.2 724.4h0M247.4 723.0h0M239.7 722.8h0M246.6 726.2h0M244.8 726.1h0M271.9 725.8h0M239.1 726.2h0M239.1 722.1h0M242.6 710.7h0M272.1 725.5h0M245.2 707.4h0M246.2 725.0h0M239.6 722.8h0M241.5 704.0h0M245.8 723.6h0M246.2 697.1h0M249.2 723.1h0M266.0 726.2h0M239.5 720.1h0M240.8 724.3h0M245.6 720.5h0M263.4 725.8h0M245.5 718.5h0M250.8 723.2h0M245.3 724.5h0M262.6 721.2h0M246.6 726.1h0M244.6 726.2h0M244.4 725.6h0M270.0 722.4h0M263.5 725.7h0M239.9 702.7h0M246.3 723.2h0M268.8 725.9h0M240.4 724.3h0M240.3 722.4h0M258.3 724.0h0M240.7 726.1h0M259.7 721.4h0M245.0 720.4h0M259.9 725.4h0M240.6 726.2h0M253.7 725.9h0M242.5 726.1h0M269.3 724.4h0M244.2 721.9h0M251.4 725.8h0M271.0 724.9h0M250.3 724.0h0M260.5 725.7h0M244.9 710.7h0M249.0 723.8h0M263.8 725.7h0M258.2 723.7h0M241.4 724.0h0M242.7 707.9h0M265.6 725.4h0M249.0 725.4h0M253.6 726.0h0M244.4 698.2h0M239.4 723.0h0M242.3 723.1h0M243.8 724.8h0M243.3 724.9h0M245.6 725.1h0M243.1 726.2h0M243.0 724.9h0M257.4 723.4h0M243.9 715.2h0M245.0 726.2h0M245.7 726.2h0M240.7 722.8h0M250.9 723.6h0M243.8 726.2h0M244.7 699.8h0M250.4 726.1h0M252.8 720.2h0M240.0 723.7h0M243.2 706.5h0M246.3 700.9h0M265.0 723.3h0M243.4 720.5h0M247.8 726.2h0M249.2 724.5h0M261.5 724.4h0M243.7 726.2h0M240.0 706.9h0M243.4 720.5h0M242.3 721.0h0M271.9 726.1h0M253.6 725.0h0M245.4 725.3h0M243.5 700.6h0M245.2 711.0h0M240.2 726.2h0M270.9 723.4h0M239.9 721.1h0M239.5 724.2h0M254.0 722.4h0M246.2 725.5h0M241.3 725.9h0M247.9 725.0h0M239.4 725.6h0M239.6 716.4h0M246.6 723.4h0M244.0 724.6h0M242.4 725.8h0M242.2 725.9h0M245.5 719.5h0M241.7 725.9h0M246.4 725.7h0M259.6 723.3h0M253.9 724.2h0M241.5 725.0h0M242.0 708.4h0M239.6 725.9h0M244.1 726.0h0M245.1 704.5h0M240.4 723.8h0M239.1 724.8h0M245.5 719.3h0M250.9 722.4h0M264.2 722.1h0M251.0 722.4h0M248.7 726.1h0M247.9 724.3h0M245.2 697.6h0M244.7 722.5h0M241.5 724.9h0M249.3 721.8h0M249.3 721.6h0M245.4 715.6h0M243.7 725.9h0M241.1 725.2h0M245.3 725.1h0M242.1 725.5h0M251.3 723.4h0M246.6 717.3h0M246.9 724.0h0M240.8 726.1h0M249.7 721.2h0M246.5 726.2h0M262.5 726.1h0M250.9 724.7h0M266.5 723.5h0M263.1 722.8h0M242.7 720.3h0M247.5 724.6h0M246.5 725.2h0M245.4 705.1h0M248.3 722.0h0M258.3 724.3h0M246.5 726.1h0M245.3 725.4h0M241.5 726.1h0M254.7 723.4h0M251.5 724.7h0M243.9 725.7h0M251.4 723.2h0M246.6 723.5h0M251.2 725.3h0M266.6 725.8h0M241.7 716.6h0M258.6 723.6h0M245.6 717.4h0M247.1 724.9h0M239.4 725.6h0M238.5 724.4h0M271.2 725.5h0M244.4 726.2h0M247.6 726.0h0M241.5 706.7h0M240.7 723.8h0M243.1 726.2h0M263.3 726.0h0M245.1 726.0h0M245.4 725.3h0M243.5 726.1h0M264.0 724.9h0M263.7 725.8h0M244.0 725.9h0M246.1 704.3h0M261.1 726.1h0M242.5 717.4h0M243.8 725.6h0M239.5 723.7h0M240.5 721.9h0M241.5 708.0h0M252.8 723.7h0M243.8 725.9h0M267.2 725.9h0M240.5 725.9h0M266.3 721.1h0M249.6 720.5h0M250.8 724.3h0M244.6 712.4h0M245.1 726.2h0M241.2 701.3h0M242.3 709.0h0M255.0 723.0h0M248.9 725.0h0M243.9 726.1h0M263.3 725.2h0M246.6 704.2h0M241.1 708.0h0M245.1 726.0h0M270.9 725.0h0M239.2 725.6h0M242.2 703.7h0M247.9 725.8h0M249.6 722.0h0M241.1 724.8h0M241.9 726.2h0M246.0 725.0h0M253.0 726.0h0M266.9 720.4h0M240.9 726.2h0M253.0 725.9h0M252.3 726.1h0M265.2 724.8h0M245.9 717.0h0M240.5 725.9h0M244.7 718.4h0M245.4 720.6h0M245.4 701.3h0M243.4 724.7h0M250.8 725.7h0M265.7 725.1h0M248.4 725.8h0M257.5 722.1h0M242.9 726.0h0M268.9 725.9h0M253.3 725.8h0M239.4 725.7h0M253.4 724.1h0M271.4 725.2h0M266.8 721.8h0M267.0 722.9h0M242.6 724.7h0M244.7 722.9h0M249.3 720.9h0M262.9 720.4h0M246.2 726.2h0M246.8 726.1h0M250.0 722.8h0M256.5 725.5h0M244.1 726.1h0M253.4 726.1h0M249.1 721.0h0M236.1 724.3h0M257.1 726.1h0M240.1 706.5h0M245.6 726.2h0M243.0 725.2h0M269.6 721.2h0M244.4 704.5h0M262.8 724.3h0M244.3 723.2h0M254.2 722.2h0M259.1 725.8h0M271.1 725.7h0M241.4 726.1h0M239.4 726.1h0M243.0 725.8h0M240.9 712.7h0M265.5 723.0h0M242.8 725.9h0M243.0 726.2h0M246.1 726.2h0M241.2 723.3h0M243.1 714.8h0M232.7 725.9h0M266.4 726.2h0M256.5 723.8h0M244.8 726.1h0M267.9 721.6h0M246.2 710.3h0M270.4 725.6h0M245.5 723.5h0M241.4 702.2h0M243.6 724.4h0M242.3 713.1h0M243.1 725.9h0M254.6 725.7h0M248.5 724.7h0M241.1 718.9h0M263.9 722.0h0M249.7 726.2h0M268.8 725.8h0M249.8 721.5h0M246.6 716.7h0M240.7 704.5h0M246.0 708.5h0M245.7 726.2h0M253.8 726.1h0M245.0 726.2h0M239.6 724.6h0M243.9 710.4h0M257.9 723.7h0M239.9 724.7h0M239.2 726.2h0M250.9 723.0h0M241.5 714.0h0M246.4 724.9h0M241.9 723.8h0M243.0 726.2h0M239.1 726.2h0M268.8 723.4h0M244.8 707.4h0M239.6 726.2h0M241.7 726.2h0M242.3 725.0h0M233.5 725.9h0M266.4 726.2h0M248.8 726.1h0M250.7 723.3h0M250.5 725.5h0M248.5 724.4h0M241.4 719.8h0M240.8 720.5h0M242.6 720.4h0M245.6 696.4h0M246.5 725.7h0M259.2 724.1h0M241.4 719.7h0M243.0 726.2h0M249.0 723.2h0M255.2 724.0h0M262.8 725.1h0M250.9 726.1h0M254.2 726.2h0M240.2 723.1h0M244.6 725.8h0M245.8 726.1h0M249.5 725.3h0M246.1 725.3h0M248.8 723.7h0M243.9 723.4h0M244.6 726.1h0M244.2 724.6h0M241.4 726.2h0M242.0 712.8h0M247.2 724.0h0M247.1 721.3h0M242.6 714.3h0M254.9 721.9h0M246.7 723.2h0M242.9 726.2h0M245.5 725.7h0M257.4 724.3h0M241.6 726.1h0M266.1 723.5h0M240.5 724.1h0M239.1 726.2h0M242.4 725.7h0M246.4 726.1h0M247.0 725.8h0M240.3 703.9h0M251.5 726.1h0M250.0 725.6h0M272.0 725.8h0M258.3 723.7h0M256.0 725.9h0M267.8 725.3h0M244.6 724.6h0M256.3 724.6h0M236.5 725.4h0M262.9 725.8h0M239.7 723.7h0M249.5 724.8h0M248.7 724.1h0M241.9 724.8h0M249.7 725.7h0M244.1 701.4h0M244.5 726.2h0M242.5 726.2h0M241.1 696.4h0M240.3 721.6h0M240.8 726.2h0M260.5 724.3h0M246.5 726.2h0M245.2 726.2h0M241.0 701.4h0M257.6 724.4h0M239.5 725.7h0M272.3 723.4h0M253.4 723.5h0M247.0 724.3h0M245.8 705.9h0M241.8 726.1h0M248.7 725.9h0M250.9 724.2h0M243.9 711.5h0M249.5 724.7h0M249.0 724.5h0M252.5 724.9h0M246.9 721.5h0M251.5 723.8h0M246.0 726.1h0M245.9 723.9h0M244.6 711.0h0M242.8 702.2h0M270.5 724.1h0M246.6 726.2h0M271.1 722.1h0M240.9 708.8h0M250.6 726.0h0M245.6 723.9h0M252.4 721.6h0M240.7 723.7h0M253.7 726.2h0M244.9 704.2h0M242.8 702.7h0M248.1 726.2h0M260.2 724.0h0M272.4 720.9h0M245.7 723.9h0M255.8 725.7h0M241.7 726.1h0M249.4 726.1h0M243.9 726.0h0M246.5 711.3h0M255.0 724.3h0M254.5 725.4h0M244.1 721.7h0M242.0 725.8h0M244.2 724.6h0M265.7 724.0h0M244.5 726.1h0M246.5 725.3h0M260.3 724.2h0M243.3 725.9h0M241.4 726.0h0M242.6 711.7h0M268.3 723.6h0M266.3 724.8h0M237.2 725.4h0M260.8 723.3h0M260.2 720.4h0M242.8 717.9h0M257.1 722.2h0M250.1 726.2h0M248.6 723.2h0M240.5 722.4h0M246.4 702.2h0M264.5 723.1h0M250.5 725.9h0M243.6 720.8h0M246.9 724.2h0M253.5 724.6h0M233.1 724.3h0M260.1 725.3h0M253.4 725.8h0M243.4 722.7h0M249.4 725.3h0M234.7 724.4h0M242.5 725.5h0M244.6 719.7h0M242.3 710.2h0M245.5 722.0h0M270.0 724.3h0M250.6 721.2h0M254.0 725.0h0M254.7 722.2h0M245.4 724.1h0M263.0 720.6h0M253.6 723.3h0M246.2 722.3h0M248.3 723.3h0M240.4 722.6h0M249.0 725.7h0M247.3 725.9h0M241.8 723.6h0M242.6 725.1h0M237.1 725.8h0M264.0 720.3h0M243.0 726.0h0M262.9 721.4h0M240.4 701.8h0M245.8 712.7h0M239.2 725.9h0M267.1 726.1h0M245.6 722.4h0M245.2 726.2h0M244.1 698.6h0M241.8 726.1h0M271.6 725.3h0M243.9 725.7h0M244.0 666.6h0M246.0 672.0h0M241.0 680.0h0M243.0 686.0h0M238.0 695.0h0M252.0 700.0h0M255.0 690.0h0M235.0 705.0h0M248.0 707.0h0" stroke="#a6a6a6" stroke-width="1" stroke-linecap="round"/>
<path d="M264.4 708.7h0M277.3 712.8h0" stroke="#0a0ad2" stroke-width="2" stroke-linecap="round"/>
<path d="M227.2 677.4h0M216.4 702.3h0M224.8 718.1h0" stroke="#55a0f2" stroke-width="2" stroke-linecap="round"/>
<line x1="246.6" y1="584.3" x2="246.6" y2="726.2" stroke="#333" stroke-width="0.9" />
<line x1="193.5" y1="584" x2="193.5" y2="726.2" stroke="#111" stroke-width="1.1" />
<line x1="193.5" y1="726.2" x2="300.4" y2="726.2" stroke="#111" stroke-width="1.1" />
<line x1="190.9" y1="726.2" x2="193.5" y2="726.2" stroke="#111" stroke-width="0.9" />
<text x="190.5" y="728.22" font-size="5.6" font-weight="bold" text-anchor="end" fill="#111">0</text>
<line x1="190.9" y1="697.8" x2="193.5" y2="697.8" stroke="#111" stroke-width="0.9" />
<text x="190.5" y="699.82" font-size="5.6" font-weight="bold" text-anchor="end" fill="#111">5</text>
<line x1="190.9" y1="669.4" x2="193.5" y2="669.4" stroke="#111" stroke-width="0.9" />
<text x="190.5" y="671.42" font-size="5.6" font-weight="bold" text-anchor="end" fill="#111">10</text>
<line x1="190.9" y1="641" x2="193.5" y2="641" stroke="#111" stroke-width="0.9" />
<text x="190.5" y="643.02" font-size="5.6" font-weight="bold" text-anchor="end" fill="#111">15</text>
<line x1="190.9" y1="612.6" x2="193.5" y2="612.6" stroke="#111" stroke-width="0.9" />
<text x="190.5" y="614.62" font-size="5.6" font-weight="bold" text-anchor="end" fill="#111">20</text>
<line x1="190.9" y1="584.2" x2="193.5" y2="584.2" stroke="#111" stroke-width="0.9" />
<text x="190.5" y="586.22" font-size="5.6" font-weight="bold" text-anchor="end" fill="#111">25</text>
<line x1="205.6" y1="726.2" x2="205.6" y2="728.5" stroke="#111" stroke-width="0.9" />
<text x="205.6" y="735.13" font-size="5.6" font-weight="bold" text-anchor="middle" fill="#111">-1.0</text>
<line x1="226.1" y1="726.2" x2="226.1" y2="728.5" stroke="#111" stroke-width="0.9" />
<text x="226.1" y="735.13" font-size="5.6" font-weight="bold" text-anchor="middle" fill="#111">-0.5</text>
<line x1="246.6" y1="726.2" x2="246.6" y2="728.5" stroke="#111" stroke-width="0.9" />
<text x="246.6" y="735.13" font-size="5.6" font-weight="bold" text-anchor="middle" fill="#111">0.0</text>
<line x1="267.1" y1="726.2" x2="267.1" y2="728.5" stroke="#111" stroke-width="0.9" />
<text x="267.1" y="735.13" font-size="5.6" font-weight="bold" text-anchor="middle" fill="#111">0.5</text>
<line x1="287.6" y1="726.2" x2="287.6" y2="728.5" stroke="#111" stroke-width="0.9" />
<text x="287.6" y="735.13" font-size="5.6" font-weight="bold" text-anchor="middle" fill="#111">1.0</text>
<line x1="231.3" y1="601.3" x2="200.44" y2="601.3" stroke="#55a0f2" stroke-width="1.8" />
<path d="M196.6 601.3 L201.4 598.9 L201.4 603.7 Z" fill="#55a0f2"/>
<line x1="262.4" y1="601.3" x2="293.86" y2="601.3" stroke="#0000b4" stroke-width="1.8" />
<path d="M297.7 601.3 L292.9 598.9 L292.9 603.7 Z" fill="#0000b4"/>
<text x="230.3" y="591.6" font-size="4.6" font-weight="bold" text-anchor="end" fill="#111" letter-spacing="1.05">Decreased</text>
<text x="230.3" y="599" font-size="4.6" font-weight="bold" text-anchor="end" fill="#111" letter-spacing="1.05">by ARE</text>
<text x="263" y="591.6" font-size="4.6" font-weight="bold" fill="#111" letter-spacing="1.05">Increased</text>
<text x="263" y="599" font-size="4.6" font-weight="bold" fill="#111" letter-spacing="1.05">by ARE</text>
<text x="229" y="608.8" font-size="6" font-weight="bold" text-anchor="end" fill="#55a0f2">3</text>
<text x="265" y="608.8" font-size="6" font-weight="bold" fill="#0a0ad2">2</text>
<text x="178.92" y="654.3" font-size="8.6" font-weight="bold" text-anchor="middle" fill="#111" transform="rotate(-90 178.92 654.3)" textLength="67.5" lengthAdjust="spacingAndGlyphs">-log<tspan font-size="6.02" dy="2.15">10</tspan><tspan dy="-2.15"> adj p-value</tspan></text>
<text x="247.2" y="746.4" font-size="9.2" font-weight="bold" text-anchor="middle" fill="#111" textLength="115.5" lengthAdjust="spacingAndGlyphs">log<tspan font-size="6.44" dy="2.3">2</tspan><tspan dy="-2.3">FC (10min Ex vs Pre Sed)</tspan></text>
<text x="318.3" y="659.5" font-size="14.2" font-weight="bold" text-anchor="middle">M</text>
<path d="M337.6 710.4 L337.6 654.67 L338.1 661.00 L338.6 665.85 L339.1 668.22 L339.6 670.48 L340.1 672.29 L340.6 673.86 L341.1 674.51 L341.6 675.15 L342.1 675.80 L342.6 676.44 L343.1 677.00 L343.6 677.23 L344.1 677.45 L344.6 677.67 L345.1 677.89 L345.6 678.11 L346.1 678.33 L346.6 678.55 L347.1 678.76 L347.6 678.97 L348.1 679.19 L348.6 679.40 L349.1 679.62 L349.6 679.83 L350.1 680.04 L350.6 680.23 L351.1 680.42 L351.6 680.61 L352.1 680.80 L352.6 680.99 L353.1 681.18 L353.6 681.37 L354.1 681.56 L354.6 681.75 L355.1 681.93 L355.6 682.08 L356.1 682.23 L356.6 682.38 L357.1 682.52 L357.6 682.67 L358.1 682.82 L358.6 682.97 L359.1 683.12 L359.6 683.27 L360.1 683.41 L360.6 683.56 L361.1 683.71 L361.6 683.85 L362.1 683.99 L362.6 684.12 L363.1 684.25 L363.6 684.39 L364.1 684.52 L364.6 684.65 L365.1 684.79 L365.6 684.92 L366.1 685.06 L366.6 685.19 L367.1 685.32 L367.6 685.46 L368.1 685.59 L368.6 685.72 L369.1 685.86 L369.6 685.99 L370.1 686.12 L370.6 686.26 L371.1 686.39 L371.6 686.53 L372.1 686.66 L372.6 686.79 L373.1 686.93 L373.6 687.06 L374.1 687.19 L374.6 687.29 L375.1 687.38 L375.6 687.47 L376.1 687.56 L376.6 687.64 L377.1 687.73 L377.6 687.82 L378.1 687.91 L378.6 688.00 L379.1 688.09 L379.6 688.18 L380.1 688.26 L380.6 688.35 L381.1 688.44 L381.6 688.53 L382.1 688.62 L382.6 688.71 L383.1 688.80 L383.6 688.88 L384.1 688.97 L384.6 689.06 L385.1 689.15 L385.6 689.24 L386.1 689.33 L386.6 689.42 L387.1 689.50 L387.6 689.59 L388.1 689.68 L388.6 689.77 L389.1 689.86 L389.6 689.95 L390.1 690.03 L390.6 690.10 L391.1 690.15 L391.6 690.19 L392.1 690.24 L392.6 690.29 L393.1 690.34 L393.6 690.39 L394.1 690.43 L394.6 690.48 L395.1 690.53 L395.6 690.58 L396.1 690.63 L396.6 690.67 L397.1 690.72 L397.6 690.77 L398.1 690.82 L398.6 690.87 L399.1 690.91 L399.6 690.96 L400.1 691.01 L400.6 691.06 L401.1 691.11 L401.6 691.15 L402.1 691.20 L402.6 691.25 L403.1 691.30 L403.6 691.35 L404.1 691.39 L404.6 691.44 L405.1 691.49 L405.6 691.54 L406.1 691.59 L406.6 691.63 L407.1 691.68 L407.6 691.73 L408.1 691.78 L408.6 691.83 L409.1 691.87 L409.6 691.92 L410.1 691.97 L410.6 692.02 L411.1 692.07 L411.6 692.11 L412.1 692.16 L412.6 692.21 L413.1 692.26 L413.6 692.31 L414.1 692.35 L414.6 692.40 L415.1 692.45 L415.6 692.50 L416.1 692.55 L416.6 692.59 L417.1 692.64 L417.6 692.69 L418.1 692.74 L418.6 692.79 L419.1 692.83 L419.6 692.88 L420.1 692.93 L420.6 692.96 L421.1 692.99 L421.6 693.02 L422.1 693.05 L422.6 693.08 L423.1 693.11 L423.6 693.14 L424.1 693.17 L424.6 693.20 L425.1 693.24 L425.6 693.27 L426.1 693.30 L426.6 693.33 L427.1 693.36 L427.6 693.39 L428.1 693.42 L428.6 693.45 L429.1 693.48 L429.6 693.51 L430.1 693.55 L430.6 693.58 L431.1 693.61 L431.6 693.64 L432.1 693.67 L432.6 693.70 L433.1 693.73 L433.6 693.76 L434.1 693.79 L434.6 693.82 L435.1 693.86 L435.6 693.89 L436.1 693.92 L436.6 693.95 L437.1 693.98 L437.6 694.01 L438.1 694.04 L438.6 694.07 L439.1 694.10 L439.6 694.13 L440.1 694.16 L440.6 694.20 L441.1 694.23 L441.6 694.26 L442.1 694.29 L442.6 694.32 L443.1 694.35 L443.6 694.38 L444.1 694.41 L444.6 694.44 L445.1 694.47 L445.6 694.51 L446.1 694.54 L446.6 694.57 L447.1 694.60 L447.6 694.63 L448.1 694.66 L448.6 694.69 L449.1 694.72 L449.6 694.75 L450.1 694.78 L450.6 694.81 L451.1 694.85 L451.6 694.88 L452.1 694.91 L452.6 694.94 L453.1 694.97 L453.6 695.00 L454.1 695.03 L454.6 695.06 L455.1 695.09 L455.6 695.12 L456.1 695.16 L456.6 695.19 L457.1 695.22 L457.6 695.25 L458.1 695.28 L458.6 695.31 L459.1 695.34 L459.6 695.37 L460.1 695.40 L460.6 695.43 L461.1 695.47 L461.6 695.50 L462.1 695.53 L462.6 695.56 L463.1 695.59 L463.6 695.62 L464.1 695.65 L464.6 695.68 L465.1 695.71 L465.6 695.74 L466.1 695.77 L466.6 695.81 L467.1 695.84 L467.6 695.87 L468.1 695.90 L468.6 695.93 L469.1 695.96 L469.6 695.99 L470.1 696.02 L470.6 696.05 L471.1 696.08 L471.6 696.12 L472.1 696.15 L472.6 696.18 L473.1 696.21 L473.6 696.24 L474.1 696.27 L474.6 696.30 L475.1 696.33 L475.6 696.36 L476.1 696.39 L476.6 696.43 L477.1 696.46 L477.6 696.49 L478.1 696.52 L478.6 696.55 L479.1 696.58 L479.6 696.61 L480.1 696.64 L480.6 696.67 L481.1 696.70 L481.6 696.73 L482.1 696.77 L482.6 696.80 L483.1 696.83 L483.6 696.86 L484.1 696.89 L484.6 696.92 L485.1 696.95 L485.6 696.98 L486.1 697.01 L486.6 697.04 L487.1 697.08 L487.6 697.11 L488.1 697.14 L488.6 697.17 L489.1 697.20 L489.6 697.23 L490.1 697.27 L490.6 697.30 L491.1 697.33 L491.6 697.36 L492.1 697.39 L492.6 697.43 L493.1 697.46 L493.6 697.49 L494.1 697.52 L494.6 697.55 L495.1 697.59 L495.6 697.62 L496.1 697.65 L496.6 697.68 L497.1 697.71 L497.6 697.74 L498.1 697.78 L498.6 697.81 L499.1 697.84 L499.6 697.87 L500.1 697.90 L500.6 697.94 L501.1 697.97 L501.6 698.00 L502.1 698.03 L502.6 698.06 L503.1 698.10 L503.6 698.13 L504.1 698.16 L504.6 698.19 L505.1 698.22 L505.6 698.26 L506.1 698.29 L506.6 698.32 L507.1 698.35 L507.6 698.38 L508.1 698.42 L508.6 698.45 L509.1 698.48 L509.6 698.51 L510.1 698.54 L510.6 698.57 L511.1 698.61 L511.6 698.64 L512.1 698.67 L512.6 698.70 L513.1 698.73 L513.6 698.77 L514.1 698.80 L514.6 698.83 L515.1 698.86 L515.6 698.89 L516.1 698.93 L516.6 698.96 L517.1 698.99 L517.6 699.02 L518.1 699.05 L518.6 699.09 L519.1 699.12 L519.6 699.15 L520.1 699.18 L520.6 699.21 L521.1 699.25 L521.6 699.28 L522.1 699.31 L522.6 699.34 L523.1 699.37 L523.6 699.40 L524.1 699.44 L524.6 699.47 L525.1 699.50 L525.6 699.53 L526.1 699.56 L526.6 699.60 L527.1 699.63 L527.6 699.66 L528.1 699.69 L528.6 699.72 L529.1 699.76 L529.6 699.79 L530.1 699.82 L530.6 699.85 L531.1 699.88 L531.6 699.92 L532.1 699.95 L532.6 699.98 L533.1 700.01 L533.6 700.04 L534.1 700.07 L534.6 700.11 L535.1 700.14 L535.6 700.17 L536.1 700.20 L536.6 700.23 L537.1 700.27 L537.6 700.30 L538.1 700.33 L538.6 700.36 L539.1 700.39 L539.6 700.43 L540.1 700.46 L540.6 700.49 L541.1 700.52 L541.6 700.55 L542.1 700.59 L542.6 700.62 L543.1 700.65 L543.6 700.68 L544.1 700.71 L544.6 700.75 L545.1 700.78 L545.6 700.81 L546.1 700.84 L546.6 700.87 L547.1 700.90 L547.6 700.94 L548.1 700.97 L548.6 701.00 L549.1 701.03 L549.6 701.06 L550.1 701.09 L550.6 701.11 L551.1 701.13 L551.6 701.15 L552.1 701.17 L552.6 701.19 L553.1 701.21 L553.6 701.23 L554.1 701.25 L554.6 701.26 L555.1 701.28 L555.6 701.30 L556.1 701.32 L556.6 701.34 L557.1 701.36 L557.6 701.38 L558.1 701.40 L558.6 701.42 L559.1 701.44 L559.6 701.45 L560.1 701.47 L560.6 701.49 L561.1 701.51 L561.6 701.53 L562.1 701.55 L562.6 701.57 L563.1 701.59 L563.6 701.61 L564.1 701.63 L564.6 701.64 L565.1 701.66 L565.6 701.68 L566.1 701.70 L566.6 701.72 L567.1 701.74 L567.6 701.76 L568.1 701.78 L568.6 701.80 L569.1 701.82 L569.6 701.83 L570.1 701.85 L570.6 701.87 L571.1 701.89 L571.6 701.91 L572.1 701.93 L572.6 701.95 L573.1 701.97 L573.6 701.99 L574.1 702.01 L574.6 702.02 L575.1 702.04 L575.6 702.06 L576.1 702.08 L576.6 702.10 L577.1 702.12 L577.6 702.14 L578.1 702.16 L578.6 702.18 L579.1 702.20 L579.6 702.21 L580.1 702.23 L580.6 702.25 L581.1 702.27 L581.6 702.29 L582.1 702.31 L582.6 702.33 L583.1 702.35 L583.6 702.37 L584.1 702.39 L584.6 702.40 L585.1 702.42 L585.6 702.44 L586.1 702.46 L586.6 702.48 L587.1 702.50 L587.6 702.52 L588.1 702.54 L588.6 702.56 L589.1 702.58 L589.6 702.59 L590.1 702.61 L590.6 702.63 L591.1 702.65 L591.6 702.67 L592.1 702.69 L592.6 702.71 L593.1 702.73 L593.6 702.75 L594.1 702.77 L594.6 702.78 L595.1 702.80 L595.6 702.82 L596.1 702.84 L596.6 702.86 L597.1 702.88 L597.6 702.90 L598.1 702.92 L598.6 702.94 L599.1 702.96 L599.6 702.97 L600.1 702.99 L600.6 703.01 L601.1 703.03 L601.6 703.05 L602.1 703.07 L602.6 703.09 L603.1 703.11 L603.6 703.13 L604.1 703.15 L604.6 703.16 L605.1 703.18 L605.6 703.20 L606.1 703.22 L606.6 703.24 L607.1 703.26 L607.6 703.28 L608.1 703.30 L608.6 703.32 L609.1 703.34 L609.6 703.35 L610 710.4 Z" fill="#f44a4a"/>
<path d="M610 710.4 L610.0 718.38 L610.5 718.43 L611.0 718.49 L611.5 718.54 L612.0 718.59 L612.5 718.65 L613.0 718.70 L613.5 718.75 L614.0 718.81 L614.5 718.86 L615.0 718.91 L615.5 718.97 L616.0 719.02 L616.5 719.07 L617.0 719.13 L617.5 719.18 L618.0 719.23 L618.5 719.29 L619.0 719.34 L619.5 719.40 L620.0 719.45 L620.5 719.50 L621.0 719.56 L621.5 719.61 L622.0 719.67 L622.5 719.72 L623.0 719.77 L623.5 719.83 L624.0 719.89 L624.5 719.94 L625.0 720.00 L625.5 720.05 L626.0 720.11 L626.5 720.17 L627.0 720.23 L627.5 720.29 L628.0 720.35 L628.5 720.41 L629.0 720.48 L629.5 720.54 L630.0 720.61 L630.5 720.68 L631.0 720.75 L631.5 720.82 L632.0 720.89 L632.5 720.97 L633.0 721.05 L633.5 721.14 L634.0 721.22 L634.5 721.31 L635.0 721.41 L635.5 721.51 L636.0 721.61 L636.5 721.72 L637.0 721.83 L637.5 721.95 L638.0 722.08 L638.5 722.21 L639.0 722.35 L639.5 722.50 L640.0 722.65 L640.5 722.82 L641.0 722.99 L641.5 723.18 L642.0 723.37 L642.5 723.58 L643.0 723.80 L643.5 724.03 L644.0 724.28 L644.5 724.54 L645.0 724.81 L645.5 725.11 L646.0 725.42 L646.5 725.75 L647.0 726.10 L647.5 726.47 L648.0 726.86 L648.5 727.27 L649.0 727.71 L649.5 728.17 L650.0 728.66 L650.5 729.18 L651.0 729.73 L651.5 730.31 L652.0 730.92 L652.5 731.57 L653.0 732.25 L653.5 732.97 L654.0 733.73 L654.5 734.53 L654.5 710.4 Z" fill="#f44a4a"/>
<path d="M340.0 710.4V672.4M343.5 710.4V677.7M347.4 710.4V679.4M350.4 710.4V680.7M354.9 710.4V682.4M359.1 710.4V683.6M363.6 710.4V684.9M367.0 710.4V685.8M370.3 710.4V686.7M373.4 710.4V687.5M376.7 710.4V688.2M379.7 710.4V688.7M383.8 710.4V689.4M387.3 710.4V690.0M391.5 710.4V690.7M395.7 710.4V691.1M399.2 710.4V691.4M402.5 710.4V691.7M406.0 710.4V692.1M409.0 710.4V692.4M413.0 710.4V692.7M416.3 710.4V693.1M419.5 710.4V693.4M423.8 710.4V693.7M427.5 710.4V693.9M431.9 710.4V694.2M436.4 710.4V694.4M440.4 710.4V694.7M443.8 710.4V694.9M447.0 710.4V695.1M450.3 710.4V695.3M454.5 710.4V695.6M458.2 710.4V695.8M461.7 710.4V696.0M464.7 710.4V696.2M468.2 710.4V696.4M471.8 710.4V696.6M474.9 710.4V696.8M478.3 710.4V697.0M481.7 710.4V697.2M485.4 710.4V697.5M489.1 710.4V697.7M492.9 710.4V697.9M497.2 710.4V698.2M500.7 710.4V698.4M503.8 710.4V698.6M507.3 710.4V698.9M510.6 710.4V699.1M514.4 710.4V699.3M518.2 710.4V699.6M521.6 710.4V699.8M524.8 710.4V700.0M528.9 710.4V700.2M532.8 710.4V700.5M536.8 710.4V700.7M540.8 710.4V701.0M545.1 710.4V701.3M548.2 710.4V701.5M551.5 710.4V701.6M555.2 710.4V701.8M559.2 710.4V701.9M563.0 710.4V702.1M566.7 710.4V702.2M570.2 710.4V702.4M573.6 710.4V702.5M577.9 710.4V702.6M582.3 710.4V702.8M586.1 710.4V703.0M589.8 710.4V703.1M593.0 710.4V703.2M596.9 710.4V703.4M600.2 710.4V703.5M604.1 710.4V703.6M607.6 710.4V703.8M611.3 710.4V718.0M615.6 710.4V718.5M619.0 710.4V718.8M622.8 710.4V719.3M626.3 710.4V719.6M630.0 710.4V720.1M634.3 710.4V720.8M638.1 710.4V721.6M642.5 710.4V723.1M646.1 710.4V725.0M649.8 710.4V728.0M653.8 710.4V732.9" stroke="#d83a3a" stroke-width="0.35" opacity="0.7"/>
<path d="M338.00 711.0V703.4M338.32 712.0V710.3M338.64 711.2V706.5M338.96 711.1V710.4M339.28 711.1V707.0M339.60 711.6V707.5M339.92 711.9V704.6M340.24 712.6V705.4M340.56 712.1V707.2M340.88 710.8V707.6M341.20 712.5V709.0M341.52 711.4V712.2M341.84 710.5V709.9M342.16 710.7V699.7M342.48 710.4V707.9M342.80 711.5V709.7M343.12 711.9V709.2M343.44 712.6V709.8M343.76 711.0V700.0M344.08 712.1V708.9M344.40 712.5V708.8M344.72 710.8V713.3M345.04 711.8V707.5M345.36 712.3V711.0M345.68 712.1V707.4M346.00 712.0V708.3M346.32 712.3V709.6M346.64 711.0V706.4M346.96 711.5V709.4M347.28 712.3V699.8M347.60 711.7V708.9M347.92 712.2V710.8M348.24 711.1V706.5M348.56 711.7V709.5M348.88 711.0V708.6M349.20 710.6V712.5M349.52 710.9V700.0M349.84 712.1V706.3M350.16 711.6V705.4M350.48 711.8V706.6M350.80 711.2V708.8M351.12 711.5V708.2M351.44 712.2V710.6M351.76 711.7V709.6M352.08 711.8V709.5M352.40 710.6V704.8M352.72 711.0V710.5M353.04 712.4V706.0M353.36 711.7V707.4M353.68 711.4V712.5M354.00 710.6V710.6M354.32 712.4V713.0M354.64 711.9V709.7M354.96 712.6V710.5M355.28 711.0V708.4M355.60 712.5V709.1M355.92 710.9V707.0M356.24 712.4V701.8M356.56 711.5V714.5M356.88 711.6V710.0M357.20 711.4V710.8M357.52 712.1V708.2M357.84 712.1V705.9M358.16 711.9V708.6M358.48 710.7V708.3M358.80 712.6V709.8M359.12 711.4V705.3M359.44 710.6V712.4M359.76 712.4V711.2M360.08 712.2V712.0M360.40 711.2V705.9M360.72 711.7V706.8M361.04 710.7V708.1M361.36 712.6V707.5M361.68 711.6V708.3M362.00 712.3V711.7M362.32 710.7V708.5M362.64 710.6V707.1M362.96 712.0V708.3M363.28 712.7V710.1M363.60 712.2V709.7M363.92 710.8V710.1M364.24 710.7V708.1M364.56 712.2V710.6M364.88 710.4V710.5M365.20 712.0V709.1M365.52 712.5V709.6M365.84 712.1V708.7M366.16 712.4V710.4M366.48 712.3V714.1M366.80 710.7V713.2M367.12 710.9V706.2M367.44 711.7V704.5M367.76 710.7V709.7M368.08 712.7V709.6M368.40 712.2V709.3M368.72 712.2V705.7M369.04 711.0V711.0M369.36 711.5V709.4M369.68 712.2V711.9M370.00 711.4V710.5M370.32 711.0V708.3M370.64 712.4V707.1M370.96 711.7V708.5M371.28 711.5V709.5M371.60 712.6V707.0M371.92 710.7V710.3M372.24 711.3V709.9M372.56 711.9V711.5M372.88 711.0V709.4M373.20 712.3V710.7M373.52 711.7V707.5M373.84 710.5V708.0M374.16 712.3V706.7M374.48 711.4V709.0M374.80 711.9V707.8M375.12 711.7V708.5M375.44 711.8V709.0M375.76 711.4V710.4M376.08 711.7V707.9M376.40 711.3V708.0M376.72 712.0V710.7M377.04 711.4V709.4M377.36 712.2V709.2M377.68 711.6V708.8M378.00 711.3V708.7M378.32 712.0V703.8M378.64 711.3V706.6M378.96 710.6V708.6M379.28 712.3V707.2M379.60 711.7V709.9M379.92 711.6V708.0M380.24 712.6V711.4M380.56 711.6V707.8M380.88 712.0V710.2M381.20 711.2V708.9M381.52 711.5V704.5M381.84 711.1V708.8M382.16 712.0V709.6M382.48 711.3V710.3M382.80 712.4V709.9M383.12 710.8V709.3M383.44 711.3V709.5M383.76 711.3V710.0M384.08 712.5V709.4M384.40 710.5V712.5M384.72 710.4V707.4M385.04 710.5V712.8M385.36 710.6V702.5M385.68 712.6V703.3M386.00 712.4V712.4M386.32 712.3V711.0M386.64 710.7V711.0M386.96 711.6V707.8M387.28 711.2V710.3M387.60 710.9V708.9M387.92 710.9V699.0M388.24 711.2V707.6M388.56 712.2V708.9M388.88 712.2V708.5M389.20 711.7V711.5M389.52 711.5V703.8M389.84 710.4V702.4M390.16 712.2V709.7M390.48 711.8V706.9M390.80 711.6V705.7M391.12 712.0V706.6M391.44 712.5V711.6M391.76 710.8V708.0M392.08 712.0V712.4M392.40 711.7V710.5M392.72 710.5V711.4M393.04 711.6V710.1M393.36 712.6V711.3M393.68 712.7V708.6M394.00 712.2V706.4M394.32 710.6V708.9M394.64 712.4V709.8M394.96 710.5V712.3M395.28 710.9V709.0M395.60 711.9V713.2M395.92 710.4V708.3M396.24 711.1V710.7M396.56 711.6V709.6M396.88 712.1V709.9M397.20 712.3V709.2M397.52 711.2V709.8M397.84 712.6V707.0M398.16 712.6V706.3M398.48 711.1V707.6M398.80 710.9V710.1M399.12 711.3V707.1M399.44 711.9V710.0M399.76 711.9V707.1M400.08 711.4V708.8M400.40 712.0V709.6M400.72 711.1V710.2M401.04 711.8V708.8M401.36 710.5V710.1M401.68 712.6V709.1M402.00 711.9V709.4M402.32 711.9V710.0M402.64 710.7V705.9M402.96 710.5V706.5M403.28 711.7V707.1M403.60 712.6V706.8M403.92 711.2V707.5M404.24 712.4V708.9M404.56 712.5V708.0M404.88 712.1V709.0M405.20 711.8V712.0M405.52 712.6V709.0M405.84 711.3V708.2M406.16 712.4V708.0M406.48 710.5V708.8M406.80 711.7V707.9M407.12 712.5V714.2M407.44 711.4V710.3M407.76 710.8V707.0M408.08 711.5V703.3M408.40 710.7V711.3M408.72 710.9V710.6M409.04 711.5V708.5M409.36 711.8V708.4M409.68 711.6V710.2M410.00 710.4V706.5M410.32 711.7V707.3M410.64 711.4V704.9M410.96 711.8V705.2M411.28 712.4V705.1M411.60 710.9V709.9M411.92 711.7V711.0M412.24 711.1V707.2M412.56 712.4V712.2M412.88 711.8V710.5M413.20 712.3V709.0M413.52 710.6V699.8M413.84 712.0V704.7M414.16 711.1V710.4M414.48 710.8V706.3M414.80 712.7V708.6M415.12 712.2V709.1M415.44 711.1V714.8M415.76 711.1V709.3M416.08 711.2V706.8M416.40 712.2V708.2M416.72 710.7V708.3M417.04 711.8V711.2M417.36 710.9V706.9M417.68 710.5V711.4M418.00 711.2V705.6M418.32 710.7V708.7M418.64 711.3V710.3M418.96 711.0V708.9M419.28 710.4V709.3M419.60 712.4V711.9M419.92 711.6V715.5M420.24 711.4V709.0M420.56 712.5V709.8M420.88 712.4V712.9M421.20 712.2V707.4M421.52 711.0V708.6M421.84 712.1V709.7M422.16 712.5V712.7M422.48 710.6V707.8M422.80 711.5V707.7M423.12 712.4V711.2M423.44 712.1V709.5M423.76 711.9V711.8M424.08 711.5V710.2M424.40 710.6V710.0M424.72 711.9V710.3M425.04 711.5V709.9M425.36 712.4V710.0M425.68 712.2V706.9M426.00 711.3V710.3M426.32 712.7V708.9M426.64 712.7V704.9M426.96 710.5V708.3M427.28 711.5V709.7M427.60 710.9V709.0M427.92 711.2V711.0M428.24 710.6V711.1M428.56 712.2V709.3M428.88 712.1V706.7M429.20 711.1V707.8M429.52 712.2V709.4M429.84 710.4V711.1M430.16 710.5V710.8M430.48 712.4V708.1M430.80 711.0V701.1M431.12 710.8V708.3M431.44 710.8V708.9M431.76 712.4V710.7M432.08 710.6V710.4M432.40 710.6V708.7M432.72 711.3V707.2M433.04 711.4V707.5M433.36 712.3V711.6M433.68 711.1V709.2M434.00 711.2V712.4M434.32 711.2V708.8M434.64 711.5V708.0M434.96 711.4V705.2M435.28 710.5V707.4M435.60 711.2V707.5M435.92 710.8V708.1M436.24 711.1V710.2M436.56 710.8V704.1M436.88 712.6V710.8M437.20 711.7V707.4M437.52 712.2V710.9M437.84 712.1V708.5M438.16 711.9V709.9M438.48 711.3V708.0M438.80 710.9V706.9M439.12 711.0V707.1M439.44 711.6V709.0M439.76 711.7V709.3M440.08 710.9V707.2M440.40 711.3V707.4M440.72 711.2V710.8M441.04 712.0V706.6M441.36 711.9V702.4M441.68 710.6V707.2M442.00 712.7V708.7M442.32 711.9V711.2M442.64 710.8V711.4M442.96 712.6V707.7M443.28 711.2V709.3M443.60 712.2V710.1M443.92 711.9V710.1M444.24 712.2V707.5M444.56 712.2V710.5M444.88 712.6V708.0M445.20 711.8V710.3M445.52 711.9V709.7M445.84 712.6V711.8M446.16 712.0V708.9M446.48 712.4V708.9M446.80 711.3V709.6M447.12 710.9V707.8M447.44 711.2V713.1M447.76 712.6V708.3M448.08 712.2V709.3M448.40 710.4V709.2M448.72 710.9V708.4M449.04 711.7V709.9M449.36 710.4V709.4M449.68 712.6V708.1M450.00 712.0V705.2M450.32 711.9V704.7M450.64 711.3V710.3M450.96 711.8V709.5M451.28 712.0V706.9M451.60 710.7V709.2M451.92 712.4V704.7M452.24 710.6V712.1M452.56 710.7V708.7M452.88 710.5V710.4M453.20 711.7V707.9M453.52 712.5V708.7M453.84 712.3V706.1M454.16 710.6V700.2M454.48 710.7V709.3M454.80 711.3V710.4M455.12 711.7V706.0M455.44 710.9V708.9M455.76 711.8V706.1M456.08 712.0V709.0M456.40 710.5V707.6M456.72 711.5V708.2M457.04 710.8V712.4M457.36 712.1V712.7M457.68 710.9V710.6M458.00 711.7V709.2M458.32 712.4V710.9M458.64 712.0V708.0M458.96 711.2V707.8M459.28 711.2V708.9M459.60 712.2V709.6M459.92 711.8V707.6M460.24 712.1V710.8M460.56 711.1V710.0M460.88 711.9V710.5M461.20 711.6V707.4M461.52 712.5V709.7M461.84 711.5V708.5M462.16 710.8V707.9M462.48 710.9V711.2M462.80 712.1V706.6M463.12 710.6V708.0M463.44 712.2V709.6M463.76 711.6V706.9M464.08 711.5V709.6M464.40 711.3V710.9M464.72 712.3V711.4M465.04 710.8V708.5M465.36 711.8V707.3M465.68 710.8V708.3M466.00 712.6V707.0M466.32 712.1V710.4M466.64 710.7V707.4M466.96 711.1V706.5M467.28 711.5V708.0M467.60 710.4V706.6M467.92 712.0V709.2M468.24 712.3V706.1M468.56 710.5V707.5M468.88 712.5V711.6M469.20 711.9V710.8M469.52 712.4V708.4M469.84 710.6V707.1M470.16 712.6V712.3M470.48 711.2V707.4M470.80 711.4V712.4M471.12 710.7V709.3M471.44 710.7V708.3M471.76 710.8V708.9M472.08 711.7V709.4M472.40 712.5V707.2M472.72 710.8V708.4M473.04 711.1V710.3M473.36 710.5V709.7M473.68 712.2V706.6M474.00 712.3V710.7M474.32 711.3V709.0M474.64 712.3V709.7M474.96 711.1V710.2M475.28 711.3V709.4M475.60 711.6V711.5M475.92 711.5V708.2M476.24 710.6V710.4M476.56 711.9V712.6M476.88 712.7V706.8M477.20 711.0V710.7M477.52 712.1V706.5M477.84 710.7V713.2M478.16 711.1V709.4M478.48 710.7V709.7M478.80 711.8V707.7M479.12 712.1V708.8M479.44 711.0V707.8M479.76 711.2V709.6M480.08 711.8V707.6M480.40 711.2V709.5M480.72 712.3V707.1M481.04 710.8V702.3M481.36 712.1V713.0M481.68 712.0V706.9M482.00 711.3V709.8M482.32 712.0V708.5M482.64 712.1V708.5M482.96 711.9V707.5M483.28 712.7V709.0M483.60 711.2V707.6M483.92 711.9V707.4M484.24 710.9V709.5M484.56 710.7V710.0M484.88 710.5V706.3M485.20 711.3V708.8M485.52 710.7V709.0M485.84 710.4V709.1M486.16 711.8V709.4M486.48 711.9V711.7M486.80 710.6V712.9M487.12 712.6V708.5M487.44 712.5V708.6M487.76 711.4V713.1M488.08 711.9V708.2M488.40 711.5V708.2M488.72 712.0V708.7M489.04 710.9V707.6M489.36 710.6V705.6M489.68 712.1V710.0M490.00 711.7V702.7M490.32 710.5V710.3M490.64 712.3V707.5M490.96 712.1V710.5M491.28 712.4V703.5M491.60 712.2V708.9M491.92 710.8V710.2M492.24 710.8V709.4M492.56 711.6V709.7M492.88 712.6V709.5M493.20 710.9V708.0M493.52 710.7V709.3M493.84 711.3V708.3M494.16 710.6V709.1M494.48 711.0V708.3M494.80 712.0V711.1M495.12 712.7V706.0M495.44 711.0V710.7M495.76 712.3V709.2M496.08 712.3V706.6M496.40 711.1V708.1M496.72 712.0V707.7M497.04 712.4V709.9M497.36 710.8V708.2M497.68 712.4V712.9M498.00 711.0V706.9M498.32 710.6V706.9M498.64 711.5V708.3M498.96 711.7V706.4M499.28 711.3V709.4M499.60 712.0V709.6M499.92 710.7V708.7M500.24 710.5V711.4M500.56 711.6V707.4M500.88 711.7V706.9M501.20 712.1V710.4M501.52 710.8V709.4M501.84 711.8V708.5M502.16 710.6V699.2M502.48 712.1V713.1M502.80 710.5V706.3M503.12 711.7V711.6M503.44 711.0V707.8M503.76 711.0V699.8M504.08 712.2V708.8M504.40 711.4V705.6M504.72 711.0V708.3M505.04 712.2V708.5M505.36 712.6V710.0M505.68 711.3V707.1M506.00 711.0V706.9M506.32 711.0V714.6M506.64 712.6V706.9M506.96 712.1V708.2M507.28 712.4V707.7M507.60 710.8V705.9M507.92 710.6V711.2M508.24 711.0V712.5M508.56 710.4V703.2M508.88 710.7V710.7M509.20 710.6V709.8M509.52 711.8V706.8M509.84 712.4V711.3M510.16 712.6V709.2M510.48 710.8V708.7M510.80 712.5V708.0M511.12 710.5V709.5M511.44 711.5V706.5M511.76 712.2V708.0M512.08 712.0V707.7M512.40 711.5V709.4M512.72 712.6V712.8M513.04 711.2V711.3M513.36 710.6V713.0M513.68 711.5V705.3M514.00 711.1V706.6M514.32 711.4V706.8M514.64 711.1V701.0M514.96 711.1V702.6M515.28 712.3V709.3M515.60 710.8V707.7M515.92 711.4V707.4M516.24 711.1V707.1M516.56 711.3V708.2M516.88 711.8V709.7M517.20 711.1V705.7M517.52 712.1V708.9M517.84 710.5V709.8M518.16 712.4V710.0M518.48 711.4V707.6M518.80 711.8V707.8M519.12 712.3V706.5M519.44 711.2V707.3M519.76 711.2V708.3M520.08 712.3V712.0M520.40 710.6V713.1M520.72 712.4V710.1M521.04 712.1V708.1M521.36 710.4V710.0M521.68 710.6V707.6M522.00 712.1V711.7M522.32 712.5V707.1M522.64 710.7V708.2M522.96 710.4V710.0M523.28 711.9V711.5M523.60 712.5V706.4M523.92 712.3V713.5M524.24 712.0V706.8M524.56 712.5V708.9M524.88 711.8V710.2M525.20 711.9V708.4M525.52 712.4V704.3M525.84 711.5V708.9M526.16 712.6V706.8M526.48 710.8V709.6M526.80 710.9V707.8M527.12 711.7V709.7M527.44 712.6V707.2M527.76 711.5V702.1M528.08 711.5V713.2M528.40 711.0V709.2M528.72 711.8V708.0M529.04 710.9V708.7M529.36 712.1V706.2M529.68 712.3V708.0M530.00 711.6V706.9M530.32 710.6V709.3M530.64 711.1V708.3M530.96 711.6V708.2M531.28 711.1V711.4M531.60 712.5V710.4M531.92 711.6V707.1M532.24 712.5V708.3M532.56 711.6V709.5M532.88 711.5V707.2M533.20 711.4V712.7M533.52 711.0V709.2M533.84 712.5V711.4M534.16 711.0V707.2M534.48 711.9V705.1M534.80 711.1V709.4M535.12 711.0V711.8M535.44 712.4V705.6M535.76 711.2V710.4M536.08 710.6V709.0M536.40 710.7V709.4M536.72 710.4V716.0M537.04 711.4V708.4M537.36 711.1V707.2M537.68 711.1V709.4M538.00 712.6V710.1M538.32 710.7V707.5M538.64 711.1V710.1M538.96 711.8V709.8M539.28 711.3V709.1M539.60 710.7V709.2M539.92 710.9V708.7M540.24 710.8V707.7M540.56 712.0V710.6M540.88 711.3V708.5M541.20 711.9V705.8M541.52 712.0V710.2M541.84 711.9V701.9M542.16 712.0V709.2M542.48 710.5V709.0M542.80 712.5V708.4M543.12 712.6V714.0M543.44 712.6V710.2M543.76 711.2V707.5M544.08 710.7V708.4M544.40 712.1V710.5M544.72 711.8V709.7M545.04 712.2V712.8M545.36 710.8V709.6M545.68 711.5V707.8M546.00 710.4V709.2M546.32 711.2V709.8M546.64 711.0V703.7M546.96 712.3V710.6M547.28 712.1V709.3M547.60 710.6V710.8M547.92 711.0V709.6M548.24 712.1V709.7M548.56 711.2V710.4M548.88 711.2V712.6M549.20 712.1V706.0M549.52 711.6V708.5M549.84 710.5V711.0M550.16 711.7V707.4M550.48 711.1V706.0M550.80 710.9V707.2M551.12 712.4V704.2M551.44 711.3V708.3M551.76 710.6V707.8M552.08 711.9V708.5M552.40 711.1V711.1M552.72 711.6V708.8M553.04 712.3V708.8M553.36 711.8V711.4M553.68 711.6V710.3M554.00 711.1V713.6M554.32 711.2V709.0M554.64 710.9V709.5M554.96 710.4V707.5M555.28 712.1V707.9M555.60 710.8V707.2M555.92 710.6V708.3M556.24 711.0V707.3M556.56 711.9V706.5M556.88 712.7V711.8M557.20 710.9V708.3M557.52 710.8V710.2M557.84 712.3V699.7M558.16 711.3V712.3M558.48 710.4V700.7M558.80 710.8V704.0M559.12 710.9V711.2M559.44 710.8V709.3M559.76 712.2V711.4M560.08 711.3V707.0M560.40 711.7V709.3M560.72 710.8V709.2M561.04 711.1V703.8M561.36 712.6V706.8M561.68 712.6V704.7M562.00 711.2V708.3M562.32 712.3V711.7M562.64 711.9V706.6M562.96 711.5V709.6M563.28 712.0V714.0M563.60 710.4V707.7M563.92 711.2V711.6M564.24 711.5V708.3M564.56 711.8V710.9M564.88 710.8V705.2M565.20 711.5V714.0M565.52 710.6V709.9M565.84 712.5V709.6M566.16 712.1V710.0M566.48 710.6V708.1M566.80 711.4V709.2M567.12 711.6V708.5M567.44 711.5V711.4M567.76 711.5V709.4M568.08 710.6V708.7M568.40 712.3V706.0M568.72 710.8V711.0M569.04 711.2V706.3M569.36 710.5V710.1M569.68 711.6V708.2M570.00 710.8V711.2M570.32 712.4V707.3M570.64 712.0V709.8M570.96 710.7V701.8M571.28 712.2V706.9M571.60 711.3V713.0M571.92 710.8V707.3M572.24 712.0V708.6M572.56 712.4V707.0M572.88 712.3V709.9M573.20 711.1V709.8M573.52 712.4V709.1M573.84 711.7V707.3M574.16 710.9V704.8M574.48 711.3V709.6M574.80 711.6V708.9M575.12 712.7V700.0M575.44 711.2V708.7M575.76 710.7V708.6M576.08 710.5V710.8M576.40 710.5V709.6M576.72 712.6V708.1M577.04 711.4V709.2M577.36 710.7V708.2M577.68 712.2V706.1M578.00 712.4V707.4M578.32 712.5V707.3M578.64 712.6V708.2M578.96 710.6V710.1M579.28 712.6V708.3M579.60 711.9V711.3M579.92 711.1V713.3M580.24 711.0V704.8M580.56 710.5V706.9M580.88 712.0V706.8M581.20 711.2V711.3M581.52 710.5V707.5M581.84 712.5V706.6M582.16 711.2V708.4M582.48 711.1V716.1M582.80 712.4V709.4M583.12 711.1V709.0M583.44 712.6V714.2M583.76 711.8V707.2M584.08 711.9V708.1M584.40 710.5V704.9M584.72 710.8V709.9M585.04 711.1V711.0M585.36 712.2V709.5M585.68 712.7V709.6M586.00 711.5V707.9M586.32 711.8V707.0M586.64 711.5V706.1M586.96 710.8V709.5M587.28 712.6V712.9M587.60 711.9V706.0M587.92 712.7V710.2M588.24 710.8V705.3M588.56 712.4V704.8M588.88 711.2V712.3M589.20 712.5V710.0M589.52 711.8V707.4M589.84 711.0V709.7M590.16 710.4V710.1M590.48 712.3V708.4M590.80 711.2V710.3M591.12 710.7V709.2M591.44 710.6V708.7M591.76 711.6V706.7M592.08 712.2V708.3M592.40 711.4V709.0M592.72 710.8V707.9M593.04 712.1V709.3M593.36 712.4V708.6M593.68 711.4V710.0M594.00 711.8V708.4M594.32 711.6V702.9M594.64 711.3V708.9M594.96 710.6V707.7M595.28 711.4V700.6M595.60 712.6V708.3M595.92 710.7V715.6M596.24 710.9V710.2M596.56 711.8V707.7M596.88 710.8V705.3M597.20 710.7V709.3M597.52 711.8V707.6M597.84 711.5V699.8M598.16 711.6V710.1M598.48 711.6V706.1M598.80 712.3V706.8M599.12 711.7V706.9M599.44 711.1V710.5M599.76 711.2V708.6M600.08 711.7V702.3M600.40 712.2V710.3M600.72 712.7V706.9M601.04 712.5V705.8M601.36 710.6V708.8M601.68 710.9V710.4M602.00 710.5V709.0M602.32 710.9V705.6M602.64 712.4V701.0M602.96 711.5V711.7M603.28 710.9V708.4M603.60 710.7V708.5M603.92 710.5V713.2M604.24 711.9V709.3M604.56 712.6V709.8M604.88 711.5V708.2M605.20 710.8V706.9M605.52 712.7V709.1M605.84 712.0V708.1M606.16 711.8V706.3M606.48 711.3V708.1M606.80 712.5V710.7M607.12 710.4V708.3M607.44 711.0V710.6M607.76 712.2V700.6M608.08 711.1V710.8M608.40 711.8V708.9M608.72 711.5V708.1M609.04 710.5V706.9M609.36 712.5V711.7M609.68 712.1V707.1M610.00 711.6V709.0M610.32 712.2V709.7M610.64 711.6V709.2M610.96 710.7V709.6M611.28 711.3V707.5M611.60 711.7V710.2M611.92 711.8V708.0M612.24 712.5V710.4M612.56 711.4V701.7M612.88 711.2V709.8M613.20 711.3V708.9M613.52 712.4V710.1M613.84 711.5V710.1M614.16 712.6V721.5M614.48 710.9V709.5M614.80 712.6V713.4M615.12 710.5V709.2M615.44 712.3V710.2M615.76 710.9V709.5M616.08 711.9V714.6M616.40 712.3V717.2M616.72 710.5V717.9M617.04 711.4V710.3M617.36 711.3V704.3M617.68 710.8V709.6M618.00 712.3V719.3M618.32 710.5V710.3M618.64 712.1V710.0M618.96 711.0V710.1M619.28 711.8V707.6M619.60 712.1V710.4M619.92 711.0V710.3M620.24 711.4V708.9M620.56 711.1V709.0M620.88 711.3V708.7M621.20 712.0V709.5M621.52 711.5V709.6M621.84 711.8V709.7M622.16 711.0V710.1M622.48 711.6V709.4M622.80 711.6V710.3M623.12 712.4V709.3M623.44 711.9V709.4M623.76 711.6V709.7M624.08 711.4V709.7M624.40 710.5V707.9M624.72 712.5V707.0M625.04 712.1V709.8M625.36 710.9V709.2M625.68 712.6V702.0M626.00 711.0V708.9M626.32 710.8V703.0M626.64 712.4V709.9M626.96 710.6V709.9M627.28 710.6V710.1M627.60 710.6V710.1M627.92 712.2V710.1M628.24 710.9V706.4M628.56 711.1V709.7M628.88 711.4V710.1M629.20 712.2V709.4M629.52 711.5V719.1M629.84 712.6V708.8M630.16 712.5V713.9M630.48 712.1V710.3M630.80 710.6V710.0M631.12 711.7V712.5M631.44 712.3V714.4M631.76 710.5V710.1M632.08 710.8V710.3M632.40 711.8V709.9M632.72 710.9V710.4M633.04 711.0V716.2M633.36 712.2V710.3M633.68 711.4V710.1M634.00 711.9V709.1M634.32 712.5V709.7M634.64 712.6V710.1M634.96 711.9V710.4M635.28 712.4V708.0M635.60 711.4V706.2M635.92 711.9V709.7M636.24 711.1V710.3M636.56 712.7V710.0M636.88 710.6V710.3M637.20 712.6V707.7M637.52 712.5V709.2M637.84 711.3V714.8M638.16 710.7V710.1M638.48 710.9V704.3M638.80 711.3V709.8M639.12 712.1V710.2M639.44 710.9V709.7M639.76 711.1V709.6M640.08 712.0V709.8M640.40 710.9V710.4M640.72 711.2V705.7M641.04 711.5V709.8M641.36 712.5V709.8M641.68 711.7V705.7M642.00 711.9V709.1M642.32 710.6V709.1M642.64 711.4V710.1M642.96 711.4V710.3M643.28 711.2V710.2M643.60 712.3V710.4M643.92 712.5V709.9M644.24 712.4V707.6M644.56 710.6V703.4M644.88 710.5V710.1M645.20 711.8V708.7M645.52 711.1V709.0M645.84 710.7V710.1M646.16 711.9V709.5M646.48 712.4V712.6M646.80 711.4V709.4M647.12 711.7V704.3M647.44 710.8V710.1M647.76 711.4V719.6M648.08 711.6V707.6M648.40 710.7V720.3M648.72 712.3V710.3M649.04 710.9V713.7M649.36 711.1V710.2M649.68 711.7V714.6M650.00 710.5V710.3M650.32 711.5V710.4M650.64 711.5V710.1M650.96 711.4V710.3M651.28 710.6V710.0M651.60 710.8V708.1M651.92 712.3V709.6M652.24 710.8V719.5M652.56 712.3V710.1M652.88 711.0V709.6M653.20 711.1V710.2M653.52 711.5V709.8M653.84 710.8V709.9M654.16 710.6V710.1M654.48 712.0V709.8" stroke="#141414" stroke-width="0.3"/>
<line x1="337.6" y1="710.4" x2="654.5" y2="710.4" stroke="#222" stroke-width="0.5" />
<line x1="337.3" y1="653.2" x2="337.3" y2="738.5" stroke="#111" stroke-width="1.1" />
<line x1="334.5" y1="653.4" x2="337.3" y2="653.4" stroke="#111" stroke-width="0.9" />
<text x="333.3" y="655.49" font-size="5.8" font-weight="bold" text-anchor="end" fill="#111">3</text>
<line x1="334.5" y1="672.4" x2="337.3" y2="672.4" stroke="#111" stroke-width="0.9" />
<text x="333.3" y="674.49" font-size="5.8" font-weight="bold" text-anchor="end" fill="#111">2</text>
<line x1="334.5" y1="691.4" x2="337.3" y2="691.4" stroke="#111" stroke-width="0.9" />
<text x="333.3" y="693.49" font-size="5.8" font-weight="bold" text-anchor="end" fill="#111">1</text>
<line x1="334.5" y1="710.4" x2="337.3" y2="710.4" stroke="#111" stroke-width="0.9" />
<text x="333.3" y="712.49" font-size="5.8" font-weight="bold" text-anchor="end" fill="#111">0</text>
<line x1="334.5" y1="729.4" x2="337.3" y2="729.4" stroke="#111" stroke-width="0.9" />
<text x="333.3" y="731.49" font-size="5.8" font-weight="bold" text-anchor="end" fill="#111">-1</text>
<text x="325.4" y="696.0" font-size="6.0" font-weight="bold" text-anchor="middle" fill="#111" transform="rotate(-90 325.4 696)">log<tspan font-size="4.2" dy="1.4">2</tspan><tspan dy="-1.4"> FC</tspan></text>
<rect x="379" y="717.6" width="152.1" height="19.1" fill="#fff" stroke="#111" stroke-width="1" rx="2"/>
<rect x="383" y="720" width="6" height="5.7" fill="#f44a4a"/>
<rect x="383" y="728.3" width="6" height="6" fill="#111"/>
<text x="392" y="724.6" font-size="4.6" font-weight="bold" fill="#111" textLength="126.8" lengthAdjust="spacingAndGlyphs">Significant AAE-regulated individual phosphopeptides</text>
<text x="392" y="733" font-size="4.6" font-weight="bold" fill="#111" textLength="136.9" lengthAdjust="spacingAndGlyphs">AAE-induced change in corresponding protein abundance</text>
</svg></body></html>
